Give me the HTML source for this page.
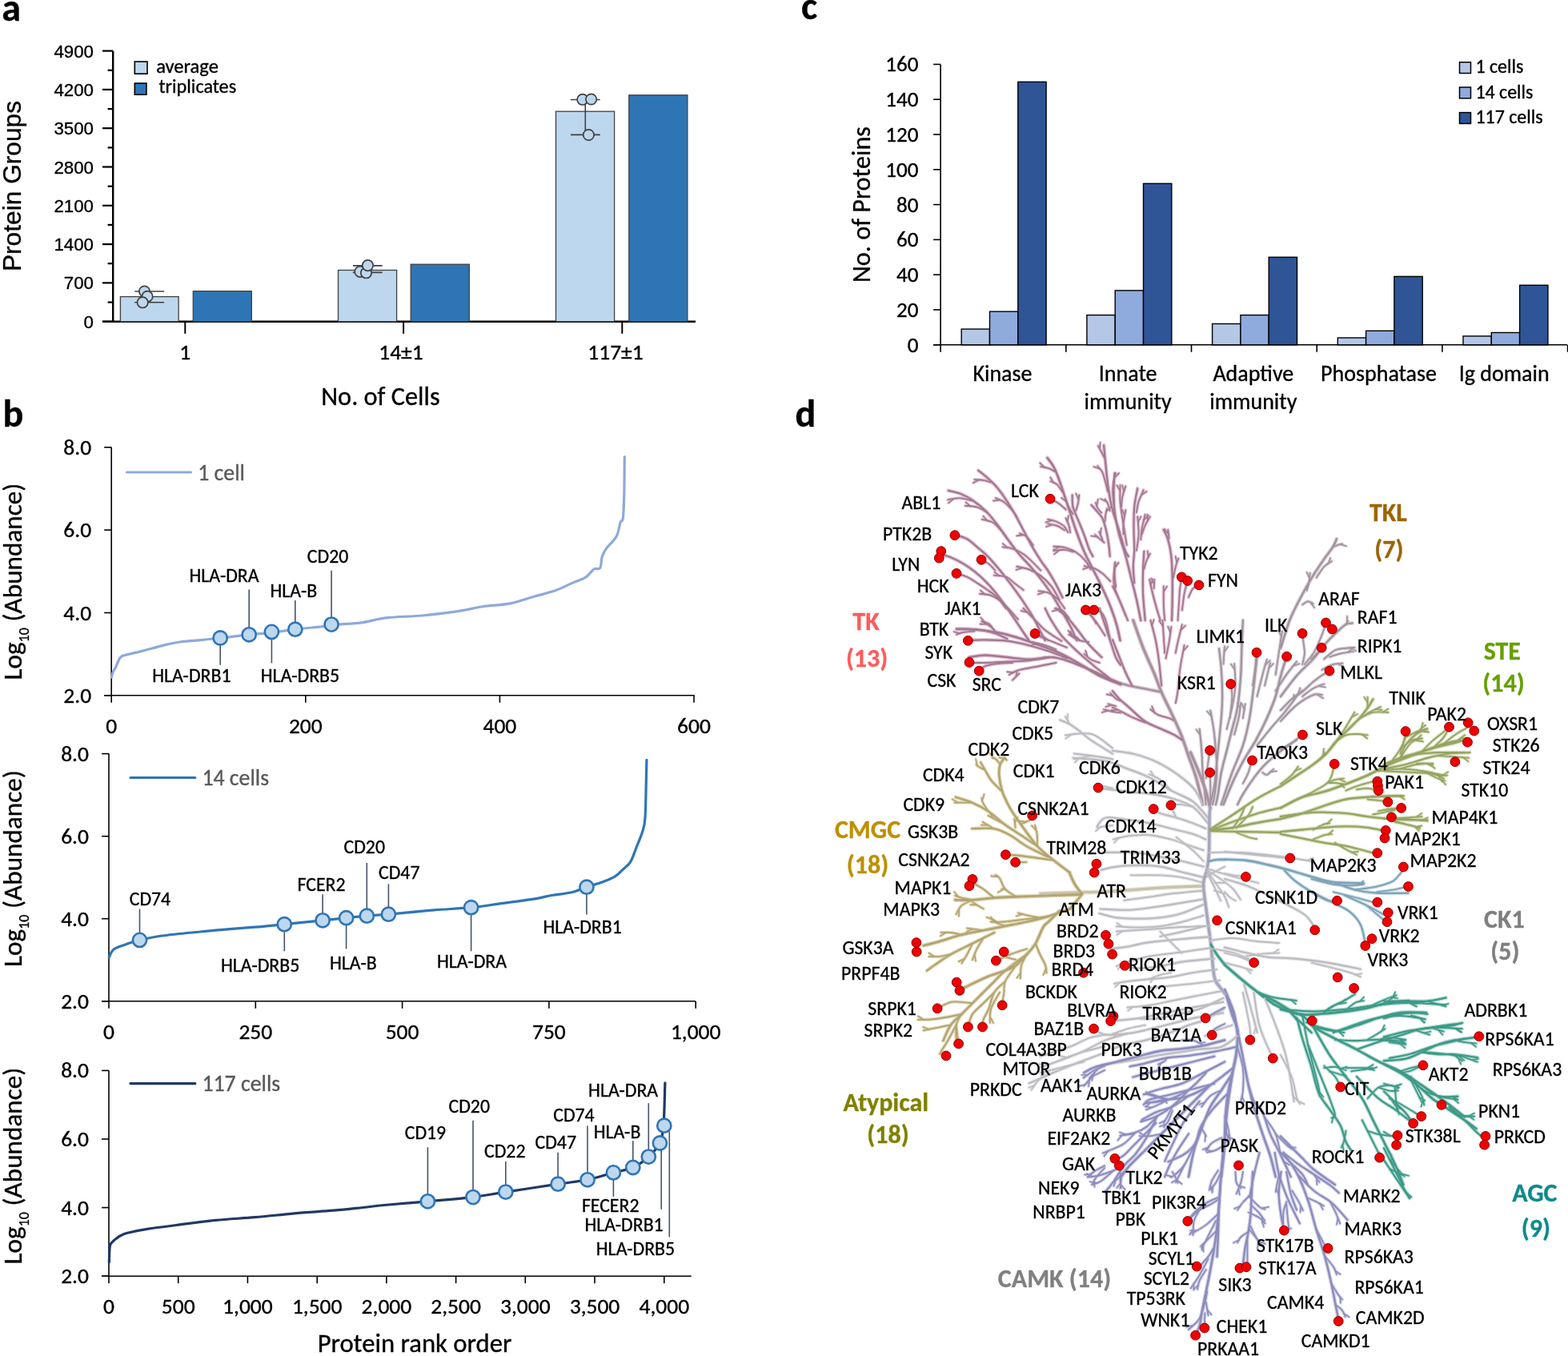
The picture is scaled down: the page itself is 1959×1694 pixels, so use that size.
<!DOCTYPE html><html><head><meta charset="utf-8"><title>Figure</title><style>html,body{margin:0;padding:0;background:#fff;}svg{display:block;}</style></head><body><svg width="1959" height="1694" viewBox="0 0 1959 1694"><rect width="1959" height="1694" fill="#fff"/><text x="2.3" y="25.5" font-family="Carlito, 'Liberation Sans', sans-serif" font-size="48" text-anchor="start" fill="#000" stroke="#000" stroke-width="0.35" font-weight="bold" >a</text>
<text x="3.6" y="533.4" font-family="Carlito, 'Liberation Sans', sans-serif" font-size="48" text-anchor="start" fill="#000" stroke="#000" stroke-width="0.35" font-weight="bold" >b</text>
<text x="1000.9" y="24.3" font-family="Carlito, 'Liberation Sans', sans-serif" font-size="48" text-anchor="start" fill="#000" stroke="#000" stroke-width="0.35" font-weight="bold" >c</text>
<text x="993.5" y="533.4" font-family="Carlito, 'Liberation Sans', sans-serif" font-size="48" text-anchor="start" fill="#000" stroke="#000" stroke-width="0.35" font-weight="bold" >d</text>
<line x1="141.2" y1="63.6" x2="141.2" y2="401.7" stroke="#000" stroke-width="2.4"/>
<line x1="128" y1="401.7" x2="141.2" y2="401.7" stroke="#000" stroke-width="2.2"/>
<text x="117.0" y="409.7" font-family="'Liberation Sans', Arial, sans-serif" font-size="22.3" text-anchor="end" fill="#000" stroke="#000" stroke-width="0.35" font-weight="normal" >0</text>
<line x1="134.6" y1="377.6" x2="141.2" y2="377.6" stroke="#000" stroke-width="2.2"/>
<line x1="128" y1="353.4" x2="141.2" y2="353.4" stroke="#000" stroke-width="2.2"/>
<text x="117.0" y="361.4" font-family="'Liberation Sans', Arial, sans-serif" font-size="22.3" text-anchor="end" fill="#000" stroke="#000" stroke-width="0.35" font-weight="normal" >700</text>
<line x1="134.6" y1="329.2" x2="141.2" y2="329.2" stroke="#000" stroke-width="2.2"/>
<line x1="128" y1="305.1" x2="141.2" y2="305.1" stroke="#000" stroke-width="2.2"/>
<text x="117.0" y="313.1" font-family="'Liberation Sans', Arial, sans-serif" font-size="22.3" text-anchor="end" fill="#000" stroke="#000" stroke-width="0.35" font-weight="normal" >1400</text>
<line x1="134.6" y1="280.9" x2="141.2" y2="280.9" stroke="#000" stroke-width="2.2"/>
<line x1="128" y1="256.8" x2="141.2" y2="256.8" stroke="#000" stroke-width="2.2"/>
<text x="117.0" y="264.8" font-family="'Liberation Sans', Arial, sans-serif" font-size="22.3" text-anchor="end" fill="#000" stroke="#000" stroke-width="0.35" font-weight="normal" >2100</text>
<line x1="134.6" y1="232.7" x2="141.2" y2="232.7" stroke="#000" stroke-width="2.2"/>
<line x1="128" y1="208.5" x2="141.2" y2="208.5" stroke="#000" stroke-width="2.2"/>
<text x="117.0" y="216.5" font-family="'Liberation Sans', Arial, sans-serif" font-size="22.3" text-anchor="end" fill="#000" stroke="#000" stroke-width="0.35" font-weight="normal" >2800</text>
<line x1="134.6" y1="184.4" x2="141.2" y2="184.4" stroke="#000" stroke-width="2.2"/>
<line x1="128" y1="160.2" x2="141.2" y2="160.2" stroke="#000" stroke-width="2.2"/>
<text x="117.0" y="168.2" font-family="'Liberation Sans', Arial, sans-serif" font-size="22.3" text-anchor="end" fill="#000" stroke="#000" stroke-width="0.35" font-weight="normal" >3500</text>
<line x1="134.6" y1="136.1" x2="141.2" y2="136.1" stroke="#000" stroke-width="2.2"/>
<line x1="128" y1="111.9" x2="141.2" y2="111.9" stroke="#000" stroke-width="2.2"/>
<text x="117.0" y="119.9" font-family="'Liberation Sans', Arial, sans-serif" font-size="22.3" text-anchor="end" fill="#000" stroke="#000" stroke-width="0.35" font-weight="normal" >4200</text>
<line x1="134.6" y1="87.8" x2="141.2" y2="87.8" stroke="#000" stroke-width="2.2"/>
<line x1="128" y1="63.6" x2="141.2" y2="63.6" stroke="#000" stroke-width="2.2"/>
<text x="117.0" y="71.6" font-family="'Liberation Sans', Arial, sans-serif" font-size="22.3" text-anchor="end" fill="#000" stroke="#000" stroke-width="0.35" font-weight="normal" >4900</text>
<line x1="128" y1="401.7" x2="869" y2="401.7" stroke="#000" stroke-width="2.6"/>
<line x1="231.3" y1="401.7" x2="231.3" y2="416.8" stroke="#000" stroke-width="2"/>
<line x1="504.1" y1="401.7" x2="504.1" y2="416.8" stroke="#000" stroke-width="2"/>
<line x1="777.3" y1="401.7" x2="777.3" y2="416.8" stroke="#000" stroke-width="2"/>
<rect x="150.4" y="370.6" width="72.7" height="31.1" fill="#BDD7EE" stroke="#404040" stroke-width="1.3"/>
<rect x="241.3" y="363.7" width="73.0" height="38.0" fill="#2E75B6" stroke="#404040" stroke-width="1.3"/>
<rect x="422.5" y="337.5" width="73.1" height="64.2" fill="#BDD7EE" stroke="#404040" stroke-width="1.3"/>
<rect x="513.2" y="330.2" width="73.1" height="71.5" fill="#2E75B6" stroke="#404040" stroke-width="1.3"/>
<rect x="694.5" y="139.2" width="73.1" height="262.5" fill="#BDD7EE" stroke="#404040" stroke-width="1.3"/>
<rect x="785.8" y="118.8" width="73.1" height="282.9" fill="#2E75B6" stroke="#404040" stroke-width="1.3"/>
<line x1="186.7" y1="364.0" x2="186.7" y2="377.8" stroke="#404040" stroke-width="1.6"/><line x1="168.29999999999998" y1="364.0" x2="205.1" y2="364.0" stroke="#404040" stroke-width="1.6"/><line x1="168.29999999999998" y1="377.8" x2="205.1" y2="377.8" stroke="#404040" stroke-width="1.6"/>
<line x1="459.3" y1="331.9" x2="459.3" y2="340.4" stroke="#404040" stroke-width="1.6"/><line x1="440.90000000000003" y1="331.9" x2="477.7" y2="331.9" stroke="#404040" stroke-width="1.6"/><line x1="440.90000000000003" y1="340.4" x2="477.7" y2="340.4" stroke="#404040" stroke-width="1.6"/>
<line x1="731.3" y1="124.5" x2="731.3" y2="168.4" stroke="#404040" stroke-width="1.6"/><line x1="712.9" y1="124.5" x2="749.6999999999999" y2="124.5" stroke="#404040" stroke-width="1.6"/><line x1="712.9" y1="168.4" x2="749.6999999999999" y2="168.4" stroke="#404040" stroke-width="1.6"/>
<circle cx="180.5" cy="364.0" r="6.7" fill="#BDD7EE" stroke="#404040" stroke-width="1.7"/>
<circle cx="184.1" cy="370.4" r="6.7" fill="#BDD7EE" stroke="#404040" stroke-width="1.7"/>
<circle cx="178.2" cy="377.8" r="6.7" fill="#BDD7EE" stroke="#404040" stroke-width="1.7"/>
<circle cx="449.9" cy="339.4" r="6.7" fill="#BDD7EE" stroke="#404040" stroke-width="1.7"/>
<circle cx="457.5" cy="340.8" r="6.7" fill="#BDD7EE" stroke="#404040" stroke-width="1.7"/>
<circle cx="459.5" cy="331.6" r="6.7" fill="#BDD7EE" stroke="#404040" stroke-width="1.7"/>
<circle cx="727.8" cy="124.3" r="6.7" fill="#BDD7EE" stroke="#404040" stroke-width="1.7"/>
<circle cx="738.6" cy="124.0" r="6.7" fill="#BDD7EE" stroke="#404040" stroke-width="1.7"/>
<circle cx="735.4" cy="168.5" r="6.7" fill="#BDD7EE" stroke="#404040" stroke-width="1.7"/>
<rect x="168.3" y="77" width="15.7" height="15.2" fill="#BDD7EE" stroke="#000" stroke-width="1.6"/>
<rect x="168.3" y="104" width="14.6" height="14.2" fill="#2E75B6" stroke="#000" stroke-width="1.6"/>
<text x="195.2" y="91.4" font-family="Carlito, 'Liberation Sans', sans-serif" font-size="24.5" text-anchor="start" fill="#000" stroke="#000" stroke-width="0.35" font-weight="normal" >average</text>
<text x="198.5" y="115.5" font-family="Carlito, 'Liberation Sans', sans-serif" font-size="24.2" text-anchor="start" fill="#000" stroke="#000" stroke-width="0.35" font-weight="normal" >triplicates</text>
<text x="231.3" y="449.0" font-family="Carlito, 'Liberation Sans', sans-serif" font-size="27.5" text-anchor="middle" fill="#000" stroke="#000" stroke-width="0.35" font-weight="normal" >1</text>
<text x="501.0" y="449.0" font-family="Carlito, 'Liberation Sans', sans-serif" font-size="27.5" text-anchor="middle" fill="#000" stroke="#000" stroke-width="0.35" font-weight="normal" >14±1</text>
<text x="769.0" y="449.0" font-family="Carlito, 'Liberation Sans', sans-serif" font-size="27.5" text-anchor="middle" fill="#000" stroke="#000" stroke-width="0.35" font-weight="normal" >117±1</text>
<text x="475.4" y="506.0" font-family="Carlito, 'Liberation Sans', sans-serif" font-size="32.3" text-anchor="middle" fill="#000" stroke="#000" stroke-width="0.35" font-weight="normal" >No. of Cells</text>
<text x="26.0" y="232.5" font-family="'Liberation Sans', Arial, sans-serif" font-size="31.7" text-anchor="middle" fill="#000" stroke="#000" stroke-width="0.35" font-weight="normal" transform="rotate(-90 26 232.5)">Protein Groups</text>
<line x1="139.2" y1="558.8" x2="139.2" y2="868.8" stroke="#000" stroke-width="1.6"/>
<line x1="130.2" y1="868.8" x2="867.6" y2="868.8" stroke="#000" stroke-width="1.6"/>
<line x1="130.2" y1="868.8" x2="139.2" y2="868.8" stroke="#000" stroke-width="1.6"/>
<text x="114.2" y="877.8" font-family="Carlito, 'Liberation Sans', sans-serif" font-size="27.5" text-anchor="end" fill="#000" stroke="#000" stroke-width="0.35" font-weight="normal" >2.0</text>
<line x1="130.2" y1="765.5" x2="139.2" y2="765.5" stroke="#000" stroke-width="1.6"/>
<text x="114.2" y="774.5" font-family="Carlito, 'Liberation Sans', sans-serif" font-size="27.5" text-anchor="end" fill="#000" stroke="#000" stroke-width="0.35" font-weight="normal" >4.0</text>
<line x1="130.2" y1="662.1" x2="139.2" y2="662.1" stroke="#000" stroke-width="1.6"/>
<text x="114.2" y="671.1" font-family="Carlito, 'Liberation Sans', sans-serif" font-size="27.5" text-anchor="end" fill="#000" stroke="#000" stroke-width="0.35" font-weight="normal" >6.0</text>
<line x1="130.2" y1="558.8" x2="139.2" y2="558.8" stroke="#000" stroke-width="1.6"/>
<text x="114.2" y="567.8" font-family="Carlito, 'Liberation Sans', sans-serif" font-size="27.5" text-anchor="end" fill="#000" stroke="#000" stroke-width="0.35" font-weight="normal" >8.0</text>
<line x1="139.2" y1="868.8" x2="139.2" y2="877.8" stroke="#000" stroke-width="1.6"/>
<text x="139.2" y="915.8" font-family="Carlito, 'Liberation Sans', sans-serif" font-size="27.5" text-anchor="middle" fill="#000" stroke="#000" stroke-width="0.35" font-weight="normal" >0</text>
<line x1="381.8" y1="868.8" x2="381.8" y2="877.8" stroke="#000" stroke-width="1.6"/>
<text x="381.8" y="915.8" font-family="Carlito, 'Liberation Sans', sans-serif" font-size="27.5" text-anchor="middle" fill="#000" stroke="#000" stroke-width="0.35" font-weight="normal" >200</text>
<line x1="624.4" y1="868.8" x2="624.4" y2="877.8" stroke="#000" stroke-width="1.6"/>
<text x="624.4" y="915.8" font-family="Carlito, 'Liberation Sans', sans-serif" font-size="27.5" text-anchor="middle" fill="#000" stroke="#000" stroke-width="0.35" font-weight="normal" >400</text>
<line x1="867.0" y1="868.8" x2="867.0" y2="877.8" stroke="#000" stroke-width="1.6"/>
<text x="867.0" y="915.8" font-family="Carlito, 'Liberation Sans', sans-serif" font-size="27.5" text-anchor="middle" fill="#000" stroke="#000" stroke-width="0.35" font-weight="normal" >600</text>
<path d="M139.5,846.0 C139.8,845.0 140.2,842.1 141.0,840.0 C141.8,837.9 143.0,836.5 144.6,833.3 C146.2,830.1 148.1,823.6 150.7,821.0 C153.3,818.4 156.5,818.5 160.0,817.5 C163.5,816.5 166.5,816.1 171.5,814.9 C176.5,813.6 183.9,811.6 190.0,810.0 C196.1,808.4 202.5,806.4 208.3,805.1 C214.1,803.8 218.9,802.8 225.0,802.0 C231.1,801.2 236.6,801.0 245.0,800.2 C253.4,799.4 264.2,798.2 275.2,797.0 C286.2,795.8 300.5,793.9 311.2,792.8 C321.9,791.7 329.8,791.5 339.4,790.4 C349.0,789.3 360.4,787.3 368.8,786.2 C377.2,785.1 382.4,784.8 390.0,784.0 C397.6,783.2 408.2,782.2 414.1,781.5 C420.0,780.8 419.4,780.5 425.5,779.9 C431.6,779.3 441.2,779.3 451.0,777.9 C460.8,776.5 471.4,773.2 484.2,771.7 C497.0,770.2 512.7,770.4 527.6,769.0 C542.5,767.6 560.8,765.2 573.6,763.3 C586.4,761.4 593.6,759.1 604.2,757.5 C614.8,755.9 626.8,756.0 637.4,753.9 C648.0,751.8 658.6,747.7 668.0,745.0 C677.4,742.3 685.4,740.7 693.5,737.8 C701.6,734.9 710.1,730.4 716.5,727.6 C722.9,724.8 727.5,724.0 731.8,721.2 C736.0,718.4 739.0,712.9 742.0,711.0 C745.0,709.1 748.0,712.2 749.7,709.7 C751.4,707.2 750.9,699.7 752.2,695.7 C753.5,691.7 754.3,689.8 757.3,685.5 C760.3,681.2 767.1,675.7 770.1,670.2 C773.1,664.7 773.8,656.1 775.2,652.3 C776.6,648.5 777.5,653.2 778.3,647.2 C779.1,641.2 779.5,629.4 779.8,616.6 C780.1,603.8 780.2,578.3 780.3,570.6" fill="none" stroke="#8EA9DB" stroke-width="3.2" stroke-linejoin="round" stroke-linecap="round"/>
<line x1="158.5" y1="590" x2="238.5" y2="590" stroke="#8EA9DB" stroke-width="3.2" stroke-linecap="round"/>
<text x="247.2" y="599.5" font-family="Carlito, 'Liberation Sans', sans-serif" font-size="27.8" text-anchor="start" fill="#595959" stroke="#595959" stroke-width="0.35" font-weight="normal" >1 cell</text>
<line x1="275.2" y1="797.0" x2="275.2" y2="830.8" stroke="#44546A" stroke-width="1.6"/>
<line x1="311.2" y1="792.8" x2="311.2" y2="736.5" stroke="#44546A" stroke-width="1.6"/>
<line x1="339.4" y1="789.4" x2="339.4" y2="828.4" stroke="#44546A" stroke-width="1.6"/>
<line x1="368.8" y1="786.2" x2="368.8" y2="750.0" stroke="#44546A" stroke-width="1.6"/>
<line x1="414.1" y1="780.1" x2="414.1" y2="712.7" stroke="#44546A" stroke-width="1.6"/>
<circle cx="275.2" cy="797.0" r="8.6" fill="#BDD7EE" stroke="#2E75B6" stroke-width="2.6"/>
<circle cx="311.2" cy="792.8" r="8.6" fill="#BDD7EE" stroke="#2E75B6" stroke-width="2.6"/>
<circle cx="339.4" cy="789.4" r="8.6" fill="#BDD7EE" stroke="#2E75B6" stroke-width="2.6"/>
<circle cx="368.8" cy="786.2" r="8.6" fill="#BDD7EE" stroke="#2E75B6" stroke-width="2.6"/>
<circle cx="414.1" cy="780.1" r="8.6" fill="#BDD7EE" stroke="#2E75B6" stroke-width="2.6"/>
<text x="190.2" y="852.0" font-family="Carlito, 'Liberation Sans', sans-serif" font-size="23.8" text-anchor="start" fill="#000" stroke="#000" stroke-width="0.35" font-weight="normal" >HLA-DRB1</text>
<text x="236.5" y="727.0" font-family="Carlito, 'Liberation Sans', sans-serif" font-size="23.8" text-anchor="start" fill="#000" stroke="#000" stroke-width="0.35" font-weight="normal" >HLA-DRA</text>
<text x="337.5" y="746.0" font-family="Carlito, 'Liberation Sans', sans-serif" font-size="23.8" text-anchor="start" fill="#000" stroke="#000" stroke-width="0.35" font-weight="normal" >HLA-B</text>
<text x="383.8" y="702.5" font-family="Carlito, 'Liberation Sans', sans-serif" font-size="23.8" text-anchor="start" fill="#000" stroke="#000" stroke-width="0.35" font-weight="normal" >CD20</text>
<text x="325.8" y="852.0" font-family="Carlito, 'Liberation Sans', sans-serif" font-size="23.8" text-anchor="start" fill="#000" stroke="#000" stroke-width="0.35" font-weight="normal" >HLA-DRB5</text>
<text x="0" y="0" font-family="Carlito, 'Liberation Sans', sans-serif" font-size="33.2" text-anchor="middle" stroke="#000" stroke-width="0.35" transform="translate(26.5,726.5) rotate(-90)">Log<tspan font-size="18" dy="9">10</tspan><tspan dy="-9"> (Abundance)</tspan></text>
<line x1="136" y1="941.6" x2="136" y2="1250.8" stroke="#000" stroke-width="1.6"/>
<line x1="127" y1="1250.8" x2="868.9" y2="1250.8" stroke="#000" stroke-width="1.6"/>
<line x1="127" y1="1250.8" x2="136" y2="1250.8" stroke="#000" stroke-width="1.6"/>
<text x="111.0" y="1259.8" font-family="Carlito, 'Liberation Sans', sans-serif" font-size="27.5" text-anchor="end" fill="#000" stroke="#000" stroke-width="0.35" font-weight="normal" >2.0</text>
<line x1="127" y1="1147.7" x2="136" y2="1147.7" stroke="#000" stroke-width="1.6"/>
<text x="111.0" y="1156.7" font-family="Carlito, 'Liberation Sans', sans-serif" font-size="27.5" text-anchor="end" fill="#000" stroke="#000" stroke-width="0.35" font-weight="normal" >4.0</text>
<line x1="127" y1="1044.7" x2="136" y2="1044.7" stroke="#000" stroke-width="1.6"/>
<text x="111.0" y="1053.7" font-family="Carlito, 'Liberation Sans', sans-serif" font-size="27.5" text-anchor="end" fill="#000" stroke="#000" stroke-width="0.35" font-weight="normal" >6.0</text>
<line x1="127" y1="941.6" x2="136" y2="941.6" stroke="#000" stroke-width="1.6"/>
<text x="111.0" y="950.6" font-family="Carlito, 'Liberation Sans', sans-serif" font-size="27.5" text-anchor="end" fill="#000" stroke="#000" stroke-width="0.35" font-weight="normal" >8.0</text>
<line x1="136.0" y1="1250.8" x2="136.0" y2="1259.8" stroke="#000" stroke-width="1.6"/>
<text x="136.0" y="1297.8" font-family="Carlito, 'Liberation Sans', sans-serif" font-size="27.5" text-anchor="middle" fill="#000" stroke="#000" stroke-width="0.35" font-weight="normal" >0</text>
<line x1="319.3" y1="1250.8" x2="319.3" y2="1259.8" stroke="#000" stroke-width="1.6"/>
<text x="319.3" y="1297.8" font-family="Carlito, 'Liberation Sans', sans-serif" font-size="27.5" text-anchor="middle" fill="#000" stroke="#000" stroke-width="0.35" font-weight="normal" >250</text>
<line x1="502.6" y1="1250.8" x2="502.6" y2="1259.8" stroke="#000" stroke-width="1.6"/>
<text x="502.6" y="1297.8" font-family="Carlito, 'Liberation Sans', sans-serif" font-size="27.5" text-anchor="middle" fill="#000" stroke="#000" stroke-width="0.35" font-weight="normal" >500</text>
<line x1="685.9" y1="1250.8" x2="685.9" y2="1259.8" stroke="#000" stroke-width="1.6"/>
<text x="685.9" y="1297.8" font-family="Carlito, 'Liberation Sans', sans-serif" font-size="27.5" text-anchor="middle" fill="#000" stroke="#000" stroke-width="0.35" font-weight="normal" >750</text>
<line x1="869.2" y1="1250.8" x2="869.2" y2="1259.8" stroke="#000" stroke-width="1.6"/>
<text x="869.2" y="1297.8" font-family="Carlito, 'Liberation Sans', sans-serif" font-size="27.5" text-anchor="middle" fill="#000" stroke="#000" stroke-width="0.35" font-weight="normal" >1,000</text>
<path d="M136.3,1196.0 C136.8,1195.0 138.0,1191.7 139.0,1190.0 C140.0,1188.3 140.6,1187.1 142.1,1185.9 C143.6,1184.7 145.6,1184.0 148.0,1183.0 C150.4,1182.0 154.0,1181.0 156.8,1180.0 C159.6,1179.0 162.1,1177.9 165.0,1177.0 C167.9,1176.1 169.3,1175.6 174.5,1174.4 C179.7,1173.2 188.4,1171.2 196.0,1170.0 C203.6,1168.8 211.8,1167.9 220.0,1167.0 C228.2,1166.1 236.8,1165.3 245.0,1164.5 C253.2,1163.7 257.2,1163.1 269.5,1162.1 C281.8,1161.0 304.3,1159.4 318.6,1158.2 C332.9,1157.0 341.2,1156.1 355.3,1154.7 C369.4,1153.3 390.2,1151.1 403.1,1149.8 C416.0,1148.5 423.5,1147.6 432.7,1146.7 C441.9,1145.8 449.7,1145.0 458.5,1144.2 C467.3,1143.5 479.6,1142.7 485.4,1142.2 C491.2,1141.8 484.0,1142.4 493.5,1141.5 C503.0,1140.6 526.6,1138.2 542.5,1136.9 C558.4,1135.6 574.3,1135.1 588.6,1133.7 C602.9,1132.3 615.6,1130.0 628.3,1128.3 C641.0,1126.6 654.8,1125.0 665.0,1123.4 C675.2,1121.8 681.3,1119.9 689.5,1118.5 C697.7,1117.1 706.8,1116.5 714.0,1114.8 C721.2,1113.1 726.8,1110.2 732.9,1108.2 C739.0,1106.2 744.9,1104.8 750.8,1102.6 C756.6,1100.4 763.5,1097.9 768.0,1095.2 C772.5,1092.5 774.5,1089.7 777.8,1086.6 C781.1,1083.5 784.8,1081.4 787.6,1076.8 C790.5,1072.2 792.5,1065.1 794.9,1059.0 C797.3,1052.9 800.5,1046.0 802.3,1040.0 C804.1,1034.0 805.1,1032.7 805.9,1022.9 C806.7,1013.1 806.9,993.5 807.2,981.3 C807.5,969.0 807.8,954.7 807.9,949.4" fill="none" stroke="#2E75B6" stroke-width="3.2" stroke-linejoin="round" stroke-linecap="round"/>
<line x1="163" y1="971.5" x2="243.8" y2="971.5" stroke="#2E75B6" stroke-width="3.2" stroke-linecap="round"/>
<text x="252.4" y="981.0" font-family="Carlito, 'Liberation Sans', sans-serif" font-size="27.8" text-anchor="start" fill="#595959" stroke="#595959" stroke-width="0.35" font-weight="normal" >14 cells</text>
<line x1="174.5" y1="1174.4" x2="174.5" y2="1135.6" stroke="#44546A" stroke-width="1.6"/>
<line x1="355.3" y1="1154.7" x2="355.3" y2="1188.3" stroke="#44546A" stroke-width="1.6"/>
<line x1="403.1" y1="1149.8" x2="403.1" y2="1117.3" stroke="#44546A" stroke-width="1.6"/>
<line x1="432.6" y1="1146.7" x2="432.6" y2="1185.4" stroke="#44546A" stroke-width="1.6"/>
<line x1="458.3" y1="1144.2" x2="458.3" y2="1078.0" stroke="#44546A" stroke-width="1.6"/>
<line x1="485.4" y1="1142.2" x2="485.4" y2="1104.3" stroke="#44546A" stroke-width="1.6"/>
<line x1="588.6" y1="1133.7" x2="588.6" y2="1188.3" stroke="#44546A" stroke-width="1.6"/>
<line x1="732.9" y1="1108.2" x2="732.9" y2="1142.5" stroke="#44546A" stroke-width="1.6"/>
<circle cx="174.5" cy="1174.4" r="8.6" fill="#BDD7EE" stroke="#2E75B6" stroke-width="2.6"/>
<circle cx="355.3" cy="1154.7" r="8.6" fill="#BDD7EE" stroke="#2E75B6" stroke-width="2.6"/>
<circle cx="403.1" cy="1149.8" r="8.6" fill="#BDD7EE" stroke="#2E75B6" stroke-width="2.6"/>
<circle cx="432.6" cy="1146.7" r="8.6" fill="#BDD7EE" stroke="#2E75B6" stroke-width="2.6"/>
<circle cx="458.3" cy="1144.2" r="8.6" fill="#BDD7EE" stroke="#2E75B6" stroke-width="2.6"/>
<circle cx="485.4" cy="1142.2" r="8.6" fill="#BDD7EE" stroke="#2E75B6" stroke-width="2.6"/>
<circle cx="588.6" cy="1133.7" r="8.6" fill="#BDD7EE" stroke="#2E75B6" stroke-width="2.6"/>
<circle cx="732.9" cy="1108.2" r="8.6" fill="#BDD7EE" stroke="#2E75B6" stroke-width="2.6"/>
<text x="161.7" y="1131.0" font-family="Carlito, 'Liberation Sans', sans-serif" font-size="23.8" text-anchor="start" fill="#000" stroke="#000" stroke-width="0.35" font-weight="normal" >CD74</text>
<text x="276.0" y="1214.0" font-family="Carlito, 'Liberation Sans', sans-serif" font-size="23.8" text-anchor="start" fill="#000" stroke="#000" stroke-width="0.35" font-weight="normal" >HLA-DRB5</text>
<text x="371.5" y="1113.0" font-family="Carlito, 'Liberation Sans', sans-serif" font-size="23.8" text-anchor="start" fill="#000" stroke="#000" stroke-width="0.35" font-weight="normal" >FCER2</text>
<text x="412.0" y="1211.0" font-family="Carlito, 'Liberation Sans', sans-serif" font-size="23.8" text-anchor="start" fill="#000" stroke="#000" stroke-width="0.35" font-weight="normal" >HLA-B</text>
<text x="429.5" y="1066.0" font-family="Carlito, 'Liberation Sans', sans-serif" font-size="23.8" text-anchor="start" fill="#000" stroke="#000" stroke-width="0.35" font-weight="normal" >CD20</text>
<text x="473.0" y="1098.0" font-family="Carlito, 'Liberation Sans', sans-serif" font-size="23.8" text-anchor="start" fill="#000" stroke="#000" stroke-width="0.35" font-weight="normal" >CD47</text>
<text x="546.0" y="1209.0" font-family="Carlito, 'Liberation Sans', sans-serif" font-size="23.8" text-anchor="start" fill="#000" stroke="#000" stroke-width="0.35" font-weight="normal" >HLA-DRA</text>
<text x="678.5" y="1166.0" font-family="Carlito, 'Liberation Sans', sans-serif" font-size="23.8" text-anchor="start" fill="#000" stroke="#000" stroke-width="0.35" font-weight="normal" >HLA-DRB1</text>
<text x="0" y="0" font-family="Carlito, 'Liberation Sans', sans-serif" font-size="33.2" text-anchor="middle" stroke="#000" stroke-width="0.35" transform="translate(26.5,1085) rotate(-90)">Log<tspan font-size="18" dy="9">10</tspan><tspan dy="-9"> (Abundance)</tspan></text>
<line x1="136" y1="1337.4" x2="136" y2="1594.2" stroke="#000" stroke-width="1.6"/>
<line x1="127" y1="1594.2" x2="863.8" y2="1594.2" stroke="#000" stroke-width="1.6"/>
<line x1="127" y1="1594.2" x2="136" y2="1594.2" stroke="#000" stroke-width="1.6"/>
<text x="111.0" y="1603.2" font-family="Carlito, 'Liberation Sans', sans-serif" font-size="27.5" text-anchor="end" fill="#000" stroke="#000" stroke-width="0.35" font-weight="normal" >2.0</text>
<line x1="127" y1="1508.6" x2="136" y2="1508.6" stroke="#000" stroke-width="1.6"/>
<text x="111.0" y="1517.6" font-family="Carlito, 'Liberation Sans', sans-serif" font-size="27.5" text-anchor="end" fill="#000" stroke="#000" stroke-width="0.35" font-weight="normal" >4.0</text>
<line x1="127" y1="1423.0" x2="136" y2="1423.0" stroke="#000" stroke-width="1.6"/>
<text x="111.0" y="1432.0" font-family="Carlito, 'Liberation Sans', sans-serif" font-size="27.5" text-anchor="end" fill="#000" stroke="#000" stroke-width="0.35" font-weight="normal" >6.0</text>
<line x1="127" y1="1337.4" x2="136" y2="1337.4" stroke="#000" stroke-width="1.6"/>
<text x="111.0" y="1346.4" font-family="Carlito, 'Liberation Sans', sans-serif" font-size="27.5" text-anchor="end" fill="#000" stroke="#000" stroke-width="0.35" font-weight="normal" >8.0</text>
<line x1="136.0" y1="1594.2" x2="136.0" y2="1603.2" stroke="#000" stroke-width="1.6"/>
<text x="136.0" y="1641.2" font-family="Carlito, 'Liberation Sans', sans-serif" font-size="27.5" text-anchor="middle" fill="#000" stroke="#000" stroke-width="0.35" font-weight="normal" >0</text>
<line x1="222.7" y1="1594.2" x2="222.7" y2="1603.2" stroke="#000" stroke-width="1.6"/>
<text x="222.7" y="1641.2" font-family="Carlito, 'Liberation Sans', sans-serif" font-size="27.5" text-anchor="middle" fill="#000" stroke="#000" stroke-width="0.35" font-weight="normal" >500</text>
<line x1="309.4" y1="1594.2" x2="309.4" y2="1603.2" stroke="#000" stroke-width="1.6"/>
<text x="309.4" y="1641.2" font-family="Carlito, 'Liberation Sans', sans-serif" font-size="27.5" text-anchor="middle" fill="#000" stroke="#000" stroke-width="0.35" font-weight="normal" >1,000</text>
<line x1="396.2" y1="1594.2" x2="396.2" y2="1603.2" stroke="#000" stroke-width="1.6"/>
<text x="396.2" y="1641.2" font-family="Carlito, 'Liberation Sans', sans-serif" font-size="27.5" text-anchor="middle" fill="#000" stroke="#000" stroke-width="0.35" font-weight="normal" >1,500</text>
<line x1="482.9" y1="1594.2" x2="482.9" y2="1603.2" stroke="#000" stroke-width="1.6"/>
<text x="482.9" y="1641.2" font-family="Carlito, 'Liberation Sans', sans-serif" font-size="27.5" text-anchor="middle" fill="#000" stroke="#000" stroke-width="0.35" font-weight="normal" >2,000</text>
<line x1="569.6" y1="1594.2" x2="569.6" y2="1603.2" stroke="#000" stroke-width="1.6"/>
<text x="569.6" y="1641.2" font-family="Carlito, 'Liberation Sans', sans-serif" font-size="27.5" text-anchor="middle" fill="#000" stroke="#000" stroke-width="0.35" font-weight="normal" >2,500</text>
<line x1="656.3" y1="1594.2" x2="656.3" y2="1603.2" stroke="#000" stroke-width="1.6"/>
<text x="656.3" y="1641.2" font-family="Carlito, 'Liberation Sans', sans-serif" font-size="27.5" text-anchor="middle" fill="#000" stroke="#000" stroke-width="0.35" font-weight="normal" >3,000</text>
<line x1="743.0" y1="1594.2" x2="743.0" y2="1603.2" stroke="#000" stroke-width="1.6"/>
<text x="743.0" y="1641.2" font-family="Carlito, 'Liberation Sans', sans-serif" font-size="27.5" text-anchor="middle" fill="#000" stroke="#000" stroke-width="0.35" font-weight="normal" >3,500</text>
<line x1="829.8" y1="1594.2" x2="829.8" y2="1603.2" stroke="#000" stroke-width="1.6"/>
<text x="829.8" y="1641.2" font-family="Carlito, 'Liberation Sans', sans-serif" font-size="27.5" text-anchor="middle" fill="#000" stroke="#000" stroke-width="0.35" font-weight="normal" >4,000</text>
<path d="M136.3,1577.0 C136.5,1573.8 136.6,1561.7 137.2,1557.5 C137.8,1553.3 138.8,1553.6 140.0,1552.0 C141.2,1550.4 142.9,1549.0 144.6,1547.7 C146.3,1546.4 147.6,1545.2 150.0,1544.0 C152.4,1542.8 153.7,1541.7 159.3,1540.3 C164.9,1538.9 173.6,1537.0 183.8,1535.4 C194.0,1533.8 206.2,1532.3 220.5,1530.5 C234.8,1528.7 253.2,1526.0 269.5,1524.4 C285.9,1522.8 302.2,1522.1 318.6,1520.7 C335.0,1519.3 351.3,1517.2 367.6,1515.8 C383.9,1514.4 402.3,1513.4 416.6,1512.2 C430.9,1511.0 442.7,1509.6 453.3,1508.5 C463.9,1507.4 466.5,1506.8 480.0,1505.5 C493.5,1504.2 515.9,1502.5 534.4,1500.8 C552.9,1499.1 574.8,1497.5 591.0,1495.6 C607.2,1493.6 614.1,1491.8 631.8,1489.1 C649.5,1486.4 680.1,1481.8 697.1,1479.2 C714.1,1476.7 722.5,1476.2 734.0,1473.8 C745.5,1471.4 756.9,1467.5 766.4,1464.9 C775.9,1462.4 783.5,1461.8 790.8,1458.5 C798.1,1455.2 804.7,1450.2 810.3,1445.1 C815.9,1440.0 821.4,1433.8 824.4,1428.0 C827.4,1422.2 827.6,1416.3 828.5,1410.0 C829.4,1403.7 829.4,1399.9 829.8,1390.4 C830.2,1380.9 830.7,1359.2 830.9,1352.9" fill="none" stroke="#203864" stroke-width="3.2" stroke-linejoin="round" stroke-linecap="round"/>
<line x1="163" y1="1353.6" x2="243.8" y2="1353.6" stroke="#203864" stroke-width="3.2" stroke-linecap="round"/>
<text x="252.4" y="1363.1" font-family="Carlito, 'Liberation Sans', sans-serif" font-size="27.8" text-anchor="start" fill="#595959" stroke="#595959" stroke-width="0.35" font-weight="normal" >117 cells</text>
<line x1="534.4" y1="1500.8" x2="534.4" y2="1433.2" stroke="#44546A" stroke-width="1.6"/>
<line x1="591.0" y1="1495.6" x2="591.0" y2="1399.8" stroke="#44546A" stroke-width="1.6"/>
<line x1="631.8" y1="1489.1" x2="631.8" y2="1451.0" stroke="#44546A" stroke-width="1.6"/>
<line x1="697.1" y1="1479.2" x2="697.1" y2="1439.7" stroke="#44546A" stroke-width="1.6"/>
<line x1="734.0" y1="1473.8" x2="734.0" y2="1406.4" stroke="#44546A" stroke-width="1.6"/>
<line x1="766.4" y1="1464.9" x2="766.4" y2="1494.9" stroke="#44546A" stroke-width="1.6"/>
<line x1="790.8" y1="1458.5" x2="790.8" y2="1425.2" stroke="#44546A" stroke-width="1.6"/>
<line x1="810.3" y1="1445.1" x2="810.3" y2="1378.2" stroke="#44546A" stroke-width="1.6"/>
<line x1="826.2" y1="1428.0" x2="826.2" y2="1510.7" stroke="#44546A" stroke-width="1.6"/>
<line x1="836.3" y1="1406.2" x2="836.3" y2="1545.4" stroke="#44546A" stroke-width="1.6"/>
<circle cx="534.4" cy="1500.8" r="8.6" fill="#BDD7EE" stroke="#2E75B6" stroke-width="2.6"/>
<circle cx="591.0" cy="1495.6" r="8.6" fill="#BDD7EE" stroke="#2E75B6" stroke-width="2.6"/>
<circle cx="631.8" cy="1489.1" r="8.6" fill="#BDD7EE" stroke="#2E75B6" stroke-width="2.6"/>
<circle cx="697.1" cy="1479.2" r="8.6" fill="#BDD7EE" stroke="#2E75B6" stroke-width="2.6"/>
<circle cx="734.0" cy="1473.8" r="8.6" fill="#BDD7EE" stroke="#2E75B6" stroke-width="2.6"/>
<circle cx="766.4" cy="1464.9" r="8.6" fill="#BDD7EE" stroke="#2E75B6" stroke-width="2.6"/>
<circle cx="790.8" cy="1458.5" r="8.6" fill="#BDD7EE" stroke="#2E75B6" stroke-width="2.6"/>
<circle cx="810.3" cy="1445.1" r="8.6" fill="#BDD7EE" stroke="#2E75B6" stroke-width="2.6"/>
<circle cx="824.4" cy="1428.0" r="8.6" fill="#BDD7EE" stroke="#2E75B6" stroke-width="2.6"/>
<circle cx="829.8" cy="1406.2" r="8.6" fill="#BDD7EE" stroke="#2E75B6" stroke-width="2.6"/>
<text x="505.7" y="1423.3" font-family="Carlito, 'Liberation Sans', sans-serif" font-size="23.8" text-anchor="start" fill="#000" stroke="#000" stroke-width="0.35" font-weight="normal" >CD19</text>
<text x="560.5" y="1389.7" font-family="Carlito, 'Liberation Sans', sans-serif" font-size="23.8" text-anchor="start" fill="#000" stroke="#000" stroke-width="0.35" font-weight="normal" >CD20</text>
<text x="605.0" y="1445.6" font-family="Carlito, 'Liberation Sans', sans-serif" font-size="23.8" text-anchor="start" fill="#000" stroke="#000" stroke-width="0.35" font-weight="normal" >CD22</text>
<text x="668.5" y="1434.6" font-family="Carlito, 'Liberation Sans', sans-serif" font-size="23.8" text-anchor="start" fill="#000" stroke="#000" stroke-width="0.35" font-weight="normal" >CD47</text>
<text x="691.2" y="1400.5" font-family="Carlito, 'Liberation Sans', sans-serif" font-size="23.8" text-anchor="start" fill="#000" stroke="#000" stroke-width="0.35" font-weight="normal" >CD74</text>
<text x="741.7" y="1422.1" font-family="Carlito, 'Liberation Sans', sans-serif" font-size="23.8" text-anchor="start" fill="#000" stroke="#000" stroke-width="0.35" font-weight="normal" >HLA-B</text>
<text x="735.1" y="1369.8" font-family="Carlito, 'Liberation Sans', sans-serif" font-size="23.8" text-anchor="start" fill="#000" stroke="#000" stroke-width="0.35" font-weight="normal" >HLA-DRA</text>
<text x="726.9" y="1514.4" font-family="Carlito, 'Liberation Sans', sans-serif" font-size="23.8" text-anchor="start" fill="#000" stroke="#000" stroke-width="0.35" font-weight="normal" >FECER2</text>
<text x="730.4" y="1538.4" font-family="Carlito, 'Liberation Sans', sans-serif" font-size="23.8" text-anchor="start" fill="#000" stroke="#000" stroke-width="0.35" font-weight="normal" >HLA-DRB1</text>
<text x="744.8" y="1568.4" font-family="Carlito, 'Liberation Sans', sans-serif" font-size="23.8" text-anchor="start" fill="#000" stroke="#000" stroke-width="0.35" font-weight="normal" >HLA-DRB5</text>
<text x="0" y="0" font-family="Carlito, 'Liberation Sans', sans-serif" font-size="33.2" text-anchor="middle" stroke="#000" stroke-width="0.35" transform="translate(26.5,1456.5) rotate(-90)">Log<tspan font-size="18" dy="9">10</tspan><tspan dy="-9"> (Abundance)</tspan></text>
<text x="518.0" y="1688.6" font-family="Carlito, 'Liberation Sans', sans-serif" font-size="32.7" text-anchor="middle" fill="#000" stroke="#000" stroke-width="0.35" font-weight="normal" >Protein rank order</text>
<line x1="1175.1" y1="80.4" x2="1175.1" y2="439.8" stroke="#000" stroke-width="1.6"/>
<line x1="1166.1" y1="430.8" x2="1958" y2="430.8" stroke="#000" stroke-width="1.6"/>
<line x1="1166.1" y1="430.8" x2="1175.1" y2="430.8" stroke="#000" stroke-width="1.6"/>
<text x="1147.5" y="439.8" font-family="Carlito, 'Liberation Sans', sans-serif" font-size="27.1" text-anchor="end" fill="#000" stroke="#000" stroke-width="0.35" font-weight="normal" >0</text>
<line x1="1166.1" y1="387.0" x2="1175.1" y2="387.0" stroke="#000" stroke-width="1.6"/>
<text x="1147.5" y="396.0" font-family="Carlito, 'Liberation Sans', sans-serif" font-size="27.1" text-anchor="end" fill="#000" stroke="#000" stroke-width="0.35" font-weight="normal" >20</text>
<line x1="1166.1" y1="343.2" x2="1175.1" y2="343.2" stroke="#000" stroke-width="1.6"/>
<text x="1147.5" y="352.2" font-family="Carlito, 'Liberation Sans', sans-serif" font-size="27.1" text-anchor="end" fill="#000" stroke="#000" stroke-width="0.35" font-weight="normal" >40</text>
<line x1="1166.1" y1="299.4" x2="1175.1" y2="299.4" stroke="#000" stroke-width="1.6"/>
<text x="1147.5" y="308.4" font-family="Carlito, 'Liberation Sans', sans-serif" font-size="27.1" text-anchor="end" fill="#000" stroke="#000" stroke-width="0.35" font-weight="normal" >60</text>
<line x1="1166.1" y1="255.6" x2="1175.1" y2="255.6" stroke="#000" stroke-width="1.6"/>
<text x="1147.5" y="264.6" font-family="Carlito, 'Liberation Sans', sans-serif" font-size="27.1" text-anchor="end" fill="#000" stroke="#000" stroke-width="0.35" font-weight="normal" >80</text>
<line x1="1166.1" y1="211.8" x2="1175.1" y2="211.8" stroke="#000" stroke-width="1.6"/>
<text x="1147.5" y="220.8" font-family="Carlito, 'Liberation Sans', sans-serif" font-size="27.1" text-anchor="end" fill="#000" stroke="#000" stroke-width="0.35" font-weight="normal" >100</text>
<line x1="1166.1" y1="168.0" x2="1175.1" y2="168.0" stroke="#000" stroke-width="1.6"/>
<text x="1147.5" y="177.0" font-family="Carlito, 'Liberation Sans', sans-serif" font-size="27.1" text-anchor="end" fill="#000" stroke="#000" stroke-width="0.35" font-weight="normal" >120</text>
<line x1="1166.1" y1="124.2" x2="1175.1" y2="124.2" stroke="#000" stroke-width="1.6"/>
<text x="1147.5" y="133.2" font-family="Carlito, 'Liberation Sans', sans-serif" font-size="27.1" text-anchor="end" fill="#000" stroke="#000" stroke-width="0.35" font-weight="normal" >140</text>
<line x1="1166.1" y1="80.4" x2="1175.1" y2="80.4" stroke="#000" stroke-width="1.6"/>
<text x="1147.5" y="89.4" font-family="Carlito, 'Liberation Sans', sans-serif" font-size="27.1" text-anchor="end" fill="#000" stroke="#000" stroke-width="0.35" font-weight="normal" >160</text>
<line x1="1331.8" y1="430.8" x2="1331.8" y2="439.8" stroke="#000" stroke-width="1.6"/>
<line x1="1488.5" y1="430.8" x2="1488.5" y2="439.8" stroke="#000" stroke-width="1.6"/>
<line x1="1645.2" y1="430.8" x2="1645.2" y2="439.8" stroke="#000" stroke-width="1.6"/>
<line x1="1801.9" y1="430.8" x2="1801.9" y2="439.8" stroke="#000" stroke-width="1.6"/>
<line x1="1958.6" y1="430.8" x2="1958.6" y2="439.8" stroke="#000" stroke-width="1.6"/>
<rect x="1201.2" y="411.1" width="35.3" height="19.7" fill="#B4C7E7" stroke="#000" stroke-width="1.4"/>
<rect x="1236.5" y="389.2" width="35.3" height="41.6" fill="#8FAADC" stroke="#000" stroke-width="1.4"/>
<rect x="1271.8" y="102.3" width="35.3" height="328.5" fill="#2F5597" stroke="#000" stroke-width="1.4"/>
<rect x="1357.9" y="393.6" width="35.3" height="37.2" fill="#B4C7E7" stroke="#000" stroke-width="1.4"/>
<rect x="1393.2" y="362.9" width="35.3" height="67.9" fill="#8FAADC" stroke="#000" stroke-width="1.4"/>
<rect x="1428.5" y="229.3" width="35.3" height="201.5" fill="#2F5597" stroke="#000" stroke-width="1.4"/>
<rect x="1514.6" y="404.5" width="35.3" height="26.3" fill="#B4C7E7" stroke="#000" stroke-width="1.4"/>
<rect x="1549.9" y="393.6" width="35.3" height="37.2" fill="#8FAADC" stroke="#000" stroke-width="1.4"/>
<rect x="1585.2" y="321.3" width="35.3" height="109.5" fill="#2F5597" stroke="#000" stroke-width="1.4"/>
<rect x="1671.3" y="422.0" width="35.3" height="8.8" fill="#B4C7E7" stroke="#000" stroke-width="1.4"/>
<rect x="1706.6" y="413.3" width="35.3" height="17.5" fill="#8FAADC" stroke="#000" stroke-width="1.4"/>
<rect x="1741.9" y="345.4" width="35.3" height="85.4" fill="#2F5597" stroke="#000" stroke-width="1.4"/>
<rect x="1828.0" y="419.9" width="35.3" height="10.9" fill="#B4C7E7" stroke="#000" stroke-width="1.4"/>
<rect x="1863.3" y="415.5" width="35.3" height="15.3" fill="#8FAADC" stroke="#000" stroke-width="1.4"/>
<rect x="1898.6" y="356.3" width="35.3" height="74.5" fill="#2F5597" stroke="#000" stroke-width="1.4"/>
<text x="1252.4" y="476.2" font-family="Carlito, 'Liberation Sans', sans-serif" font-size="28" text-anchor="middle" fill="#000" stroke="#000" stroke-width="0.35" font-weight="normal" >Kinase</text>
<text x="1409.1" y="476.2" font-family="Carlito, 'Liberation Sans', sans-serif" font-size="28" text-anchor="middle" fill="#000" stroke="#000" stroke-width="0.35" font-weight="normal" >Innate</text>
<text x="1409.1" y="511.0" font-family="Carlito, 'Liberation Sans', sans-serif" font-size="28" text-anchor="middle" fill="#000" stroke="#000" stroke-width="0.35" font-weight="normal" >immunity</text>
<text x="1565.8" y="476.2" font-family="Carlito, 'Liberation Sans', sans-serif" font-size="28" text-anchor="middle" fill="#000" stroke="#000" stroke-width="0.35" font-weight="normal" >Adaptive</text>
<text x="1565.8" y="511.0" font-family="Carlito, 'Liberation Sans', sans-serif" font-size="28" text-anchor="middle" fill="#000" stroke="#000" stroke-width="0.35" font-weight="normal" >immunity</text>
<text x="1722.5" y="476.2" font-family="Carlito, 'Liberation Sans', sans-serif" font-size="28" text-anchor="middle" fill="#000" stroke="#000" stroke-width="0.35" font-weight="normal" >Phosphatase</text>
<text x="1879.2" y="476.2" font-family="Carlito, 'Liberation Sans', sans-serif" font-size="28" text-anchor="middle" fill="#000" stroke="#000" stroke-width="0.35" font-weight="normal" >Ig domain</text>
<rect x="1823.5" y="77.7" width="14" height="13.8" fill="#B4C7E7" stroke="#000" stroke-width="1.5"/>
<text x="1843.5" y="91.3" font-family="Carlito, 'Liberation Sans', sans-serif" font-size="23.9" text-anchor="start" fill="#000" stroke="#000" stroke-width="0.35" font-weight="normal" >1 cells</text>
<rect x="1823.5" y="109.0" width="14" height="13.8" fill="#8FAADC" stroke="#000" stroke-width="1.5"/>
<text x="1843.5" y="122.6" font-family="Carlito, 'Liberation Sans', sans-serif" font-size="23.9" text-anchor="start" fill="#000" stroke="#000" stroke-width="0.35" font-weight="normal" >14 cells</text>
<rect x="1823.5" y="140.6" width="14" height="13.8" fill="#2F5597" stroke="#000" stroke-width="1.5"/>
<text x="1843.5" y="154.2" font-family="Carlito, 'Liberation Sans', sans-serif" font-size="23.9" text-anchor="start" fill="#000" stroke="#000" stroke-width="0.35" font-weight="normal" >117 cells</text>
<text x="1087.0" y="255.5" font-family="Carlito, 'Liberation Sans', sans-serif" font-size="32.2" text-anchor="middle" fill="#000" stroke="#000" stroke-width="0.35" font-weight="normal" transform="rotate(-90 1087 255.5)">No. of Proteins</text>
<g fill="none" stroke-linecap="round" stroke-linejoin="round"><path d="M1184.9,612.8 C1187.4,613.4 1194.7,614.7 1199.9,616.8 C1205.1,619.0 1210.7,621.9 1216.2,625.7 C1221.6,629.4 1227.5,634.3 1232.5,639.2 C1237.4,644.2 1241.5,649.7 1246.0,655.5 C1250.6,661.4 1255.1,668.4 1259.6,674.5 C1264.1,680.7 1268.7,686.8 1273.2,692.2 C1277.7,697.6 1282.2,701.9 1286.8,707.1 C1291.3,712.3 1295.8,717.5 1300.3,723.4 C1304.9,729.3 1309.6,735.9 1313.9,742.4 C1318.2,749.0 1322.3,756.2 1326.1,762.8 C1330.0,769.4 1333.8,775.6 1337.0,781.8 C1340.2,788.0 1343.8,797.0 1345.2,800.0" stroke="#E6C4D6" stroke-width="4.8"/><path d="M1184.3,624.3 C1186.9,624.0 1194.8,622.0 1199.9,622.3 C1205.0,622.5 1212.3,625.1 1214.8,625.7" stroke="#E6C4D6" stroke-width="4.2"/><path d="M1191.2,623.4 L1185.0,628.4" stroke="#E6C4D6" stroke-width="3.6"/><path d="M1206.0,631.8 C1208.6,632.1 1217.0,632.3 1221.6,633.8 C1226.2,635.3 1231.8,639.5 1233.8,640.6" stroke="#E6C4D6" stroke-width="4.2"/><path d="M1212.9,632.7 L1206.7,627.7" stroke="#E6C4D6" stroke-width="3.6"/><path d="M1227.0,648.8 C1229.3,649.4 1236.5,650.3 1240.6,652.8 C1244.7,655.3 1248.5,660.3 1251.5,663.7 C1254.4,667.1 1257.1,671.6 1258.3,673.2" stroke="#E6C4D6" stroke-width="4.2"/><path d="M1233.7,650.8 L1228.4,644.8" stroke="#E6C4D6" stroke-width="3.6"/><path d="M1222.3,587.7 C1224.2,589.2 1229.9,593.5 1233.8,597.2 C1237.8,600.8 1242.2,604.8 1246.0,609.4 C1249.9,613.9 1253.3,618.9 1256.9,624.3 C1260.5,629.7 1264.1,635.6 1267.8,642.0 C1271.4,648.3 1275.0,655.5 1278.6,662.3 C1282.2,669.1 1285.9,676.4 1289.5,682.7 C1293.1,689.0 1297.0,695.1 1300.3,700.3 C1303.7,705.6 1306.7,708.9 1309.9,713.9 C1313.0,718.9 1316.4,724.8 1319.4,730.2 C1322.3,735.6 1326.1,743.8 1327.5,746.5" stroke="#E6C4D6" stroke-width="4.8"/><path d="M1217.5,599.2 C1219.3,599.3 1225.0,599.3 1228.4,599.9 C1231.8,600.4 1236.3,602.1 1237.9,602.6" stroke="#E6C4D6" stroke-width="4.2"/><path d="M1223.0,599.5 L1215.9,603.3" stroke="#E6C4D6" stroke-width="3.6"/><path d="M1244.0,622.3 C1245.7,623.1 1250.7,624.4 1254.2,627.0 C1257.7,629.6 1262.3,634.7 1265.0,637.9 C1267.8,641.1 1269.6,644.7 1270.5,646.0" stroke="#E6C4D6" stroke-width="4.2"/><path d="M1249.1,624.7 L1241.1,625.6" stroke="#E6C4D6" stroke-width="3.6"/><path d="M1273.9,666.4 C1275.3,667.1 1279.9,668.0 1282.7,670.5 C1285.5,673.0 1289.5,679.5 1290.8,681.3" stroke="#E6C4D6" stroke-width="4.2"/><path d="M1278.3,668.4 L1270.3,669.4" stroke="#E6C4D6" stroke-width="3.6"/><path d="M1252.8,683.4 C1254.9,683.7 1260.7,683.9 1265.0,685.4 C1269.3,686.9 1274.8,689.7 1278.6,692.2 C1282.5,694.7 1284.5,697.0 1288.1,700.3 C1291.7,703.7 1298.3,710.5 1300.3,712.6" stroke="#E6C4D6" stroke-width="4.2"/><path d="M1258.9,684.4 L1252.9,679.1" stroke="#E6C4D6" stroke-width="3.6"/><path d="M1270.5,707.8 C1273.0,708.4 1280.4,709.3 1285.4,711.2 C1290.4,713.1 1295.6,715.7 1300.3,719.4 C1305.1,723.0 1310.1,728.0 1313.9,732.9 C1317.8,737.9 1321.8,746.5 1323.4,749.2" stroke="#E6C4D6" stroke-width="4.4"/><path d="M1277.3,709.4 L1269.7,711.9" stroke="#E6C4D6" stroke-width="3.6"/><path d="M1242.0,718.7 C1244.5,719.0 1252.6,719.0 1256.9,720.7 C1261.2,722.4 1264.1,726.1 1267.8,728.9 C1271.4,731.6 1276.8,735.6 1278.6,737.0" stroke="#E6C4D6" stroke-width="4.2"/><path d="M1248.9,719.6 L1242.7,714.6" stroke="#E6C4D6" stroke-width="3.6"/><path d="M1297.6,738.4 C1299.9,738.8 1307.1,739.3 1311.2,741.1 C1315.3,742.9 1318.9,746.1 1322.1,749.2 C1325.2,752.4 1328.9,758.3 1330.2,760.1" stroke="#E6C4D6" stroke-width="4.2"/><path d="M1304.4,739.7 L1296.9,742.5" stroke="#E6C4D6" stroke-width="3.6"/><path d="M1318.0,760.1 C1319.6,760.5 1324.6,760.8 1327.5,762.8 C1330.4,764.8 1334.3,770.7 1335.6,772.3" stroke="#E6C4D6" stroke-width="4.2"/><path d="M1322.7,761.4 L1315.0,763.6" stroke="#E6C4D6" stroke-width="3.6"/><path d="M1193.1,668.4 C1195.6,669.2 1203.3,670.6 1208.0,673.2 C1212.8,675.8 1217.3,680.4 1221.6,684.1 C1225.9,687.7 1229.7,690.8 1233.8,694.9 C1237.9,699.0 1242.2,704.0 1246.0,708.5 C1249.9,713.0 1253.1,717.1 1256.9,722.1 C1260.7,727.0 1265.0,732.7 1269.1,738.4 C1273.2,744.0 1277.5,750.1 1281.3,756.0 C1285.2,761.9 1289.0,768.0 1292.2,773.7 C1295.4,779.3 1298.1,785.6 1300.3,790.0 C1302.6,794.3 1304.9,798.3 1305.8,800.0" stroke="#E6C4D6" stroke-width="4.8"/><path d="M1225.7,699.0 C1227.3,699.9 1232.2,702.2 1235.2,704.4 C1238.1,706.7 1242.0,711.2 1243.3,712.6" stroke="#E6C4D6" stroke-width="4.2"/><path d="M1174.1,692.2 C1176.3,692.9 1182.7,694.2 1187.7,696.3 C1192.6,698.3 1199.0,701.5 1203.9,704.4 C1208.9,707.4 1213.0,710.3 1217.5,713.9 C1222.0,717.5 1226.8,721.8 1231.1,726.1 C1235.4,730.4 1239.2,734.7 1243.3,739.7 C1247.4,744.7 1251.5,750.4 1255.5,756.0 C1259.6,761.7 1263.9,768.0 1267.8,773.7 C1271.6,779.3 1275.7,785.6 1278.6,790.0 C1281.6,794.3 1284.3,798.3 1285.4,800.0" stroke="#E6C4D6" stroke-width="4.8"/><path d="M1195.1,716.6 C1197.3,717.3 1203.6,718.7 1208.0,720.7 C1212.4,722.7 1217.3,726.1 1221.6,728.9 C1225.9,731.6 1229.7,734.1 1233.8,737.0 C1237.9,739.9 1242.2,742.7 1246.0,746.5 C1249.9,750.4 1255.1,757.8 1256.9,760.1" stroke="#E6C4D6" stroke-width="4.4"/><path d="M1224.3,741.8 C1226.6,742.1 1233.4,742.1 1237.9,743.8 C1242.4,745.5 1247.4,748.8 1251.5,751.9 C1255.5,755.1 1258.9,759.2 1262.3,762.8 C1265.7,766.4 1270.2,771.9 1271.8,773.7" stroke="#E6C4D6" stroke-width="4.2"/><path d="M1231.1,742.8 L1225.0,737.6" stroke="#E6C4D6" stroke-width="3.6"/><path d="M1195.1,785.9 C1197.7,785.9 1205.4,785.7 1210.7,785.9 C1216.1,786.1 1221.6,786.3 1227.0,787.2 C1232.5,788.1 1238.1,789.5 1243.3,791.3 C1248.5,793.1 1255.8,797.0 1258.3,798.1" stroke="#E6C4D6" stroke-width="4.6"/><path d="M1226.3,776.4 C1227.8,776.8 1232.6,777.3 1235.2,779.1 C1237.8,780.9 1240.8,785.9 1242.0,787.2" stroke="#E6C4D6" stroke-width="4.2"/><path d="M1230.8,777.7 L1225.5,771.7" stroke="#E6C4D6" stroke-width="3.6"/><path d="M1292.9,791.3 C1294.6,792.0 1300.2,793.9 1303.1,795.4 C1305.9,796.8 1308.7,799.2 1309.9,800.0" stroke="#E6C4D6" stroke-width="4.2"/><path d="M1308.5,572.0 C1309.9,574.0 1314.2,578.9 1316.6,583.6 C1319.1,588.2 1321.2,593.8 1323.4,599.9 C1325.7,606.0 1328.0,613.4 1330.2,620.2 C1332.5,627.0 1334.5,633.1 1337.0,640.6 C1339.5,648.1 1342.2,656.9 1345.2,665.0 C1348.1,673.2 1351.3,681.8 1354.7,689.5 C1358.1,697.2 1361.9,704.0 1365.5,711.2 C1369.1,718.4 1372.8,725.2 1376.4,732.9 C1380.0,740.6 1384.1,749.2 1387.2,757.4 C1390.4,765.5 1393.4,774.7 1395.4,781.8 C1397.4,788.9 1398.8,797.0 1399.5,800.0" stroke="#E6C4D6" stroke-width="5.0"/><path d="M1300.3,582.9 C1301.9,583.2 1306.9,583.9 1309.9,584.9 C1312.8,586.0 1316.6,588.3 1318.0,589.0" stroke="#E6C4D6" stroke-width="4.2"/><path d="M1305.1,583.9 L1299.3,578.4" stroke="#E6C4D6" stroke-width="3.6"/><path d="M1312.6,601.2 C1313.9,601.9 1318.2,603.0 1320.7,605.3 C1323.2,607.6 1326.4,613.2 1327.5,614.8" stroke="#E6C4D6" stroke-width="4.2"/><path d="M1316.6,603.3 L1312.4,596.5" stroke="#E6C4D6" stroke-width="3.6"/><path d="M1311.9,623.6 C1313.6,624.4 1318.8,626.2 1322.1,628.4 C1325.4,630.5 1330.0,635.2 1331.6,636.5" stroke="#E6C4D6" stroke-width="4.2"/><path d="M1309.2,648.8 C1310.9,649.2 1316.1,650.1 1319.4,651.5 C1322.6,652.8 1326.4,654.6 1328.9,656.9 C1331.3,659.2 1333.4,663.7 1334.3,665.0" stroke="#E6C4D6" stroke-width="4.2"/><path d="M1314.3,650.1 L1306.6,652.4" stroke="#E6C4D6" stroke-width="3.6"/><path d="M1309.2,654.2 C1311.1,654.6 1317.2,655.5 1320.7,656.9 C1324.2,658.3 1328.6,661.4 1330.2,662.3" stroke="#E6C4D6" stroke-width="4.2"/><path d="M1314.9,655.5 L1307.3,658.0" stroke="#E6C4D6" stroke-width="3.6"/><path d="M1331.6,647.4 C1332.3,649.0 1334.7,654.0 1335.6,656.9 C1336.6,659.8 1336.8,663.7 1337.0,665.0" stroke="#E6C4D6" stroke-width="4.2"/><path d="M1333.6,652.1 L1334.8,644.2" stroke="#E6C4D6" stroke-width="3.6"/><path d="M1316.6,682.7 C1318.9,682.9 1325.7,682.9 1330.2,684.1 C1334.7,685.2 1339.5,686.8 1343.8,689.5 C1348.1,692.2 1352.8,696.7 1356.0,700.3 C1359.2,704.0 1361.7,709.4 1362.8,711.2" stroke="#E6C4D6" stroke-width="4.4"/><path d="M1323.4,683.4 L1316.2,686.9" stroke="#E6C4D6" stroke-width="3.6"/><path d="M1316.6,688.1 C1318.9,687.9 1326.1,686.5 1330.2,686.8 C1334.3,687.0 1339.3,689.0 1341.1,689.5" stroke="#E6C4D6" stroke-width="4.2"/><path d="M1323.4,687.4 L1317.1,692.3" stroke="#E6C4D6" stroke-width="3.6"/><path d="M1354.7,707.1 C1356.7,707.6 1363.0,708.3 1366.9,709.9 C1370.7,711.4 1374.3,713.9 1377.7,716.6 C1381.1,719.4 1385.7,724.6 1387.2,726.1" stroke="#E6C4D6" stroke-width="4.2"/><path d="M1360.8,708.5 L1353.2,711.1" stroke="#E6C4D6" stroke-width="3.6"/><path d="M1392.7,703.1 C1392.7,705.8 1392.4,714.4 1392.7,719.4 C1392.9,724.3 1393.8,730.7 1394.0,732.9" stroke="#E6C4D6" stroke-width="4.2"/><path d="M1392.7,710.1 L1396.9,703.2" stroke="#E6C4D6" stroke-width="3.6"/><path d="M1366.9,760.8 C1368.5,761.6 1373.9,762.9 1376.4,765.5 C1378.9,768.1 1380.0,770.6 1381.8,776.4 C1383.6,782.1 1386.3,796.1 1387.2,800.0" stroke="#E6C4D6" stroke-width="4.2"/><path d="M1354.7,761.4 C1356.0,762.6 1360.3,765.3 1362.8,768.2 C1365.3,771.2 1368.5,777.3 1369.6,779.1" stroke="#E6C4D6" stroke-width="4.2"/><path d="M1335.6,792.7 C1337.0,793.1 1341.5,794.2 1343.8,795.4 C1346.1,796.6 1348.3,799.2 1349.2,800.0" stroke="#E6C4D6" stroke-width="4.2"/><path d="M1339.7,794.0 L1334.6,787.9" stroke="#E6C4D6" stroke-width="3.6"/><path d="M1392.7,591.2 C1392.5,594.8 1391.4,604.7 1391.4,612.9 C1391.4,621.0 1391.6,631.0 1392.7,640.0 C1393.8,649.1 1395.9,658.1 1398.1,667.2 C1400.4,676.3 1403.8,685.3 1406.3,694.4 C1408.8,703.4 1410.8,712.5 1413.1,721.5 C1415.3,730.6 1417.8,739.7 1419.9,748.7 C1421.9,757.6 1424.4,770.6 1425.3,775.0" stroke="#E6C4D6" stroke-width="4.8"/><path d="M1399.5,606.1 C1399.5,609.5 1399.1,619.7 1399.5,626.5 C1400.0,633.3 1400.9,637.8 1402.2,646.8 C1403.6,655.9 1406.7,675.1 1407.7,680.8" stroke="#E6C4D6" stroke-width="4.2"/><path d="M1399.5,613.1 L1395.3,606.3" stroke="#E6C4D6" stroke-width="3.6"/><path d="M1406.3,607.5 C1405.6,609.7 1403.1,616.7 1402.2,621.0 C1401.3,625.3 1401.1,631.2 1400.9,633.3" stroke="#E6C4D6" stroke-width="4.2"/><path d="M1404.3,614.2 L1402.2,606.4" stroke="#E6C4D6" stroke-width="3.6"/><path d="M1421.2,610.2 C1420.5,614.0 1417.9,624.9 1417.2,633.3 C1416.4,641.6 1416.5,651.4 1416.5,660.4 C1416.5,669.5 1417.3,679.6 1417.2,687.6 C1417.0,695.5 1415.8,701.1 1415.8,707.9 C1415.8,714.7 1416.9,724.9 1417.2,728.3" stroke="#E6C4D6" stroke-width="4.6"/><path d="M1428.7,612.2 C1427.7,614.6 1424.1,621.8 1422.6,626.5 C1421.1,631.1 1420.3,637.8 1419.9,640.0" stroke="#E6C4D6" stroke-width="4.2"/><path d="M1425.9,618.6 L1432.5,614.0" stroke="#E6C4D6" stroke-width="3.6"/><path d="M1406.3,637.3 C1405.8,640.0 1404.0,648.6 1403.6,653.6 C1403.1,658.6 1403.6,664.9 1403.6,667.2" stroke="#E6C4D6" stroke-width="4.2"/><path d="M1405.1,644.2 L1402.1,636.8" stroke="#E6C4D6" stroke-width="3.6"/><path d="M1421.2,645.5 C1421.5,649.1 1422.8,660.2 1422.6,667.2 C1422.4,674.2 1420.3,684.2 1419.9,687.6" stroke="#E6C4D6" stroke-width="4.2"/><path d="M1421.7,652.5 L1425.4,645.4" stroke="#E6C4D6" stroke-width="3.6"/><path d="M1430.7,642.8 C1430.1,645.7 1427.6,655.2 1426.7,660.4 C1425.8,665.6 1425.5,671.7 1425.3,674.0" stroke="#E6C4D6" stroke-width="4.2"/><path d="M1429.2,649.6 L1434.8,643.9" stroke="#E6C4D6" stroke-width="3.6"/><path d="M1436.8,645.5 C1435.8,647.3 1432.4,652.7 1430.7,656.3 C1429.0,660.0 1427.3,665.4 1426.7,667.2" stroke="#E6C4D6" stroke-width="4.2"/><path d="M1433.8,650.9 L1433.5,642.9" stroke="#E6C4D6" stroke-width="3.6"/><path d="M1429.4,688.9 C1429.1,693.2 1428.2,705.9 1428.0,714.7 C1427.8,723.5 1427.6,731.8 1428.0,741.9 C1428.5,751.9 1430.3,769.5 1430.7,775.0" stroke="#E6C4D6" stroke-width="4.6"/><path d="M1436.8,691.6 C1436.1,693.2 1433.3,698.0 1432.1,701.1 C1430.8,704.3 1429.8,709.1 1429.4,710.6" stroke="#E6C4D6" stroke-width="4.2"/><path d="M1434.5,696.4 L1433.8,688.4" stroke="#E6C4D6" stroke-width="3.6"/><path d="M1393.4,702.5 C1393.1,705.7 1391.5,716.1 1391.4,721.5 C1391.2,726.9 1391.1,729.4 1392.7,735.1 C1394.3,740.7 1398.1,748.8 1400.9,755.5 C1403.6,762.1 1407.7,771.7 1409.0,775.0" stroke="#E6C4D6" stroke-width="4.4"/><path d="M1392.6,709.5 L1397.5,703.1" stroke="#E6C4D6" stroke-width="3.6"/><path d="M1436.2,724.2 C1436.8,727.2 1438.7,735.5 1440.2,741.9 C1441.8,748.2 1444.1,756.7 1445.7,762.2 C1447.3,767.8 1449.1,772.9 1449.7,775.0" stroke="#E6C4D6" stroke-width="4.4"/><path d="M1437.7,731.0 L1440.3,723.5" stroke="#E6C4D6" stroke-width="3.6"/><path d="M1442.3,724.2 L1441.6,735.1" stroke="#E6C4D6" stroke-width="4.2"/><path d="M1441.9,729.7 L1438.2,722.6" stroke="#E6C4D6" stroke-width="3.6"/><path d="M1453.8,732.4 C1453.8,736.2 1453.6,748.3 1453.8,755.5 C1454.0,762.6 1454.9,771.7 1455.2,775.0" stroke="#E6C4D6" stroke-width="4.2"/><path d="M1453.8,739.4 L1458.0,732.6" stroke="#E6C4D6" stroke-width="3.6"/><path d="M1453.8,661.8 C1454.7,663.8 1457.7,668.6 1459.2,674.0 C1460.8,679.4 1462.4,686.4 1463.3,694.4 C1464.2,702.3 1464.5,712.5 1464.7,721.5 C1464.9,730.6 1464.8,739.7 1464.7,748.7 C1464.6,757.6 1464.1,770.6 1464.0,775.0" stroke="#E6C4D6" stroke-width="4.8"/><path d="M1459.2,661.8 L1460.6,672.6" stroke="#E6C4D6" stroke-width="4.2"/><path d="M1459.9,667.2 L1454.9,661.0" stroke="#E6C4D6" stroke-width="3.6"/><path d="M1472.1,697.7 C1471.6,699.4 1469.8,704.0 1468.8,707.9 C1467.7,711.9 1466.5,719.2 1466.0,721.5" stroke="#E6C4D6" stroke-width="4.2"/><path d="M1470.4,702.8 L1468.6,695.0" stroke="#E6C4D6" stroke-width="3.6"/><path d="M1476.9,720.2 C1476.4,722.6 1474.9,729.2 1474.2,735.1 C1473.5,741.0 1473.3,748.8 1472.8,755.5 C1472.4,762.1 1471.7,771.7 1471.5,775.0" stroke="#E6C4D6" stroke-width="4.2"/><path d="M1483.7,725.6 C1483.0,728.3 1480.7,735.8 1479.6,741.9 C1478.5,748.0 1477.4,758.8 1476.9,762.2" stroke="#E6C4D6" stroke-width="4.2"/><path d="M1497.9,731.0 C1496.7,731.7 1492.6,732.6 1490.5,735.1 C1488.3,737.6 1485.9,744.1 1485.0,746.0" stroke="#E6C4D6" stroke-width="4.2"/><path d="M1390.0,732.4 C1391.4,735.1 1395.4,742.6 1398.1,748.7 C1400.9,754.8 1404.9,765.6 1406.3,769.0" stroke="#E6C4D6" stroke-width="4.2"/><path d="M1393.1,738.6 L1393.8,730.7" stroke="#E6C4D6" stroke-width="3.6"/><path d="M1415.8,775.0 C1417.8,780.7 1423.7,798.1 1428.0,808.9 C1432.3,819.8 1437.7,830.9 1441.6,840.2 C1445.4,849.5 1447.5,856.2 1451.1,864.6 C1454.7,873.0 1459.2,881.6 1463.3,890.4 C1467.4,899.2 1471.9,908.5 1475.5,917.6 C1479.2,926.6 1481.9,935.7 1485.0,944.7 C1488.2,953.8 1491.6,961.8 1494.5,971.9 C1497.5,981.9 1501.3,999.5 1502.7,1005.0" stroke="#E0D2DA" stroke-width="5.8"/><path d="M1390.0,851.0 C1393.4,851.9 1403.6,854.9 1410.4,856.5 C1417.2,858.1 1423.9,859.2 1430.7,860.5 C1437.5,861.9 1447.7,863.9 1451.1,864.6" stroke="#E0D2DA" stroke-width="5.2"/><path d="M1390.0,799.4 C1391.4,802.8 1395.4,813.0 1398.1,819.8 C1400.9,826.6 1403.6,834.1 1406.3,840.2 C1409.0,846.3 1413.1,853.8 1414.4,856.5" stroke="#E6C4D6" stroke-width="4.6"/><path d="M1437.5,775.0 C1438.7,779.5 1442.5,793.1 1444.3,802.2 C1446.1,811.2 1447.3,820.3 1448.4,829.3 C1449.5,838.4 1450.6,851.9 1451.1,856.5" stroke="#E6C4D6" stroke-width="4.4"/><path d="M1439.2,781.8 L1441.6,774.2" stroke="#E6C4D6" stroke-width="3.6"/><path d="M1452.5,775.0 C1452.7,778.4 1453.4,788.6 1453.8,795.4 C1454.3,802.2 1454.9,812.3 1455.2,815.7" stroke="#E6C4D6" stroke-width="4.2"/><path d="M1452.9,782.0 L1448.3,775.5" stroke="#E6C4D6" stroke-width="3.6"/><path d="M1463.3,783.1 C1462.9,786.3 1461.7,795.6 1460.6,802.2 C1459.5,808.7 1457.2,819.1 1456.5,822.5" stroke="#E6C4D6" stroke-width="4.2"/><path d="M1462.3,790.1 L1459.2,782.7" stroke="#E6C4D6" stroke-width="3.6"/><path d="M1476.9,780.4 C1476.0,784.1 1472.8,796.3 1471.5,802.2 C1470.1,808.0 1469.2,813.5 1468.8,815.7" stroke="#E6C4D6" stroke-width="4.2"/><path d="M1475.2,787.2 L1480.9,781.6" stroke="#E6C4D6" stroke-width="3.6"/><path d="M1479.6,806.2 C1478.7,811.2 1475.5,826.6 1474.2,836.1 C1472.8,845.6 1472.4,856.2 1471.5,863.3 C1470.6,870.3 1469.2,875.7 1468.8,878.2" stroke="#E6C4D6" stroke-width="4.2"/><path d="M1478.4,813.1 L1483.7,807.2" stroke="#E6C4D6" stroke-width="3.6"/><path d="M1390.0,863.3 C1391.4,864.8 1394.8,869.4 1398.1,872.8 C1401.5,876.2 1404.9,878.9 1410.4,883.6 C1415.8,888.4 1423.9,896.7 1430.7,901.3 C1437.5,905.8 1445.2,908.1 1451.1,910.8 C1457.0,913.5 1461.7,915.3 1466.0,917.6 C1470.3,919.8 1475.1,923.2 1476.9,924.4" stroke="#E6C4D6" stroke-width="4.8"/><path d="M1390.0,883.6 C1392.3,884.8 1399.1,888.1 1403.6,890.4 C1408.1,892.7 1412.6,895.2 1417.2,897.2 C1421.7,899.2 1428.5,901.7 1430.7,902.6" stroke="#E6C4D6" stroke-width="4.4"/><path d="M1396.3,886.8 L1388.3,887.4" stroke="#E6C4D6" stroke-width="3.6"/><path d="M1437.5,886.3 C1439.1,887.5 1443.2,891.3 1447.0,893.1 C1450.9,894.9 1457.4,896.1 1460.6,897.2 C1463.8,898.3 1465.1,899.5 1466.0,899.9" stroke="#E6C4D6" stroke-width="4.2"/><path d="M1442.3,889.7 L1439.2,882.4" stroke="#E6C4D6" stroke-width="3.6"/><path d="M1390.0,937.9 C1394.5,938.6 1408.1,939.7 1417.2,942.0 C1426.2,944.3 1435.3,947.2 1444.3,951.5 C1453.4,955.8 1463.5,962.1 1471.5,967.8 C1479.4,973.5 1486.6,979.3 1491.8,985.5 C1497.0,991.7 1500.9,1001.7 1502.7,1005.0" stroke="#E6E6EA" stroke-width="4.8"/><path d="M1498.6,910.8 C1499.1,915.3 1500.7,928.9 1501.3,937.9 C1502.0,947.0 1502.0,956.0 1502.7,965.1 C1503.4,974.1 1504.7,985.6 1505.4,992.2 C1506.1,998.9 1506.5,1002.9 1506.8,1005.0" stroke="#DCD2DA" stroke-width="4.4"/><path d="M1499.3,917.7 L1494.5,911.4" stroke="#DCD2DA" stroke-width="3.6"/><path d="M1512.2,887.7 C1512.9,891.5 1515.1,902.4 1516.3,910.8 C1517.4,919.2 1518.3,928.9 1519.0,937.9 C1519.7,947.0 1520.6,956.0 1520.3,965.1 C1520.1,974.1 1518.5,985.6 1517.6,992.2 C1516.7,998.9 1515.4,1002.9 1514.9,1005.0" stroke="#DCD2DA" stroke-width="4.4"/><path d="M1513.4,894.6 L1508.1,888.6" stroke="#DCD2DA" stroke-width="3.6"/><path d="M1523.1,810.3 C1523.5,814.6 1525.1,826.1 1525.8,836.1 C1526.5,846.1 1527.1,859.9 1527.1,870.0 C1527.1,880.2 1526.5,888.1 1525.8,897.2 C1525.1,906.3 1524.0,915.3 1523.1,924.4 C1522.2,933.4 1521.3,942.5 1520.3,951.5 C1519.4,960.6 1519.0,969.7 1517.6,978.7 C1516.3,987.6 1513.1,1000.6 1512.2,1005.0" stroke="#DCD2DA" stroke-width="4.6"/><path d="M1529.9,807.6 L1528.5,829.3" stroke="#DCD2DA" stroke-width="4.2"/><path d="M1529.4,814.6 L1534.0,808.0" stroke="#DCD2DA" stroke-width="3.6"/><path d="M1542.1,829.3 C1542.3,833.8 1543.9,847.4 1543.4,856.5 C1543.0,865.5 1541.2,874.6 1539.4,883.6 C1537.5,892.7 1533.7,906.3 1532.6,910.8" stroke="#DCD2DA" stroke-width="4.2"/><path d="M1542.4,836.3 L1537.9,829.7" stroke="#DCD2DA" stroke-width="3.6"/><path d="M1552.9,775.0 C1552.7,779.5 1552.0,790.8 1551.6,802.2 C1551.1,813.5 1551.1,829.3 1550.2,842.9 C1549.3,856.5 1548.0,872.3 1546.1,883.6 C1544.3,894.9 1541.6,901.7 1539.4,910.8 C1537.1,919.8 1534.8,928.9 1532.6,937.9 C1530.3,947.0 1527.6,956.0 1525.8,965.1 C1524.0,974.1 1522.8,985.6 1521.7,992.2 C1520.6,998.9 1519.4,1002.9 1519.0,1005.0" stroke="#DCD2DA" stroke-width="4.8"/><path d="M1550.2,878.2 C1549.8,881.4 1548.9,890.6 1547.5,897.2 C1546.1,903.8 1543.0,914.2 1542.1,917.6" stroke="#DCD2DA" stroke-width="4.2"/><path d="M1549.2,885.1 L1546.1,877.8" stroke="#DCD2DA" stroke-width="3.6"/><path d="M1555.6,879.5 L1552.9,897.2" stroke="#DCD2DA" stroke-width="4.2"/><path d="M1554.6,886.5 L1551.5,879.1" stroke="#DCD2DA" stroke-width="3.6"/><path d="M1570.6,819.8 C1569.9,825.9 1568.1,843.6 1566.5,856.5 C1564.9,869.4 1563.3,884.8 1561.1,897.2 C1558.8,909.6 1556.6,919.8 1552.9,931.1 C1549.3,942.5 1543.9,952.8 1539.4,965.1 C1534.8,977.4 1528.0,998.4 1525.8,1005.0" stroke="#DCD2DA" stroke-width="4.8"/><path d="M1582.8,823.9 C1581.9,827.0 1579.4,835.2 1577.4,842.9 C1575.3,850.6 1571.7,865.5 1570.6,870.0" stroke="#DCD2DA" stroke-width="4.2"/><path d="M1580.9,830.6 L1586.8,825.2" stroke="#DCD2DA" stroke-width="3.6"/><path d="M1586.9,828.0 L1580.1,856.5" stroke="#DCD2DA" stroke-width="4.2"/><path d="M1585.3,834.8 L1590.9,829.1" stroke="#DCD2DA" stroke-width="3.6"/><path d="M1607.2,821.2 C1606.1,824.8 1602.7,834.7 1600.5,842.9 C1598.2,851.0 1596.6,861.0 1593.7,870.0 C1590.7,879.1 1586.9,888.1 1582.8,897.2 C1578.7,906.3 1574.2,915.3 1569.2,924.4 C1564.2,933.4 1557.9,942.5 1552.9,951.5 C1548.0,960.6 1543.4,969.7 1539.4,978.7 C1535.3,987.6 1530.3,1000.6 1528.5,1005.0" stroke="#DCD2DA" stroke-width="5.0"/><path d="M1601.8,788.6 C1601.1,793.1 1599.1,806.7 1597.7,815.7 C1596.4,824.8 1594.3,838.4 1593.7,842.9" stroke="#DCD2DA" stroke-width="4.2"/><path d="M1600.8,795.5 L1597.7,788.1" stroke="#DCD2DA" stroke-width="3.6"/><path d="M1620.0,826.6 C1617.9,829.3 1611.6,836.8 1607.2,842.9 C1602.9,849.0 1595.9,859.9 1593.7,863.3" stroke="#DCD2DA" stroke-width="4.4"/><path d="M1615.7,832.1 L1623.2,829.3" stroke="#DCD2DA" stroke-width="3.6"/><path d="M1620.0,870.0 C1617.4,873.4 1610.0,883.6 1604.5,890.4 C1599.0,897.2 1592.5,904.0 1586.9,910.8 C1581.2,917.6 1573.3,927.7 1570.6,931.1" stroke="#DCD2DA" stroke-width="4.4"/><path d="M1615.8,875.6 L1616.6,867.7" stroke="#DCD2DA" stroke-width="3.6"/><path d="M1591.0,961.0 C1589.6,962.1 1585.1,967.1 1582.8,967.8 C1580.5,968.5 1578.3,965.5 1577.4,965.1" stroke="#DCD2DA" stroke-width="4.2"/><path d="M1586.9,964.4 L1594.8,963.3" stroke="#DCD2DA" stroke-width="3.6"/><path d="M1620.0,924.4 C1616.7,926.6 1607.1,932.7 1600.5,937.9 C1593.8,943.1 1585.7,949.9 1580.1,955.6 C1574.4,961.2 1571.0,965.8 1566.5,971.9 C1562.0,978.0 1556.3,986.7 1552.9,992.2 C1549.5,997.8 1547.3,1002.9 1546.1,1005.0" stroke="#DCD2DA" stroke-width="4.6"/><path d="M1563.8,950.2 C1563.1,952.6 1561.5,960.3 1559.7,965.1 C1557.9,969.8 1554.1,976.4 1552.9,978.7" stroke="#DCD2DA" stroke-width="4.2"/><path d="M1511.5,937.3 C1511.2,939.6 1510.3,945.7 1509.5,951.5 C1508.7,957.3 1507.2,968.5 1506.8,971.9" stroke="#DCD2DA" stroke-width="4.2"/><path d="M1511.5,965.1 C1511.6,967.4 1512.1,972.0 1512.2,978.7 C1512.3,985.3 1512.2,1000.6 1512.2,1005.0" stroke="#DCD2DA" stroke-width="4.2"/><path d="M1537.6,854.4 C1537.9,857.0 1539.5,862.9 1539.4,870.0 C1539.2,877.2 1537.1,892.7 1536.6,897.2" stroke="#DCD2DA" stroke-width="4.2"/><path d="M1569.9,815.1 C1569.6,818.6 1568.7,829.2 1567.9,836.1 C1567.1,843.0 1565.6,853.1 1565.2,856.5" stroke="#DCD2DA" stroke-width="4.2"/><path d="M1600.0,809.7 C1601.8,804.1 1607.5,784.8 1610.9,775.8 C1614.3,766.7 1617.0,762.2 1620.4,755.4 C1623.8,748.6 1627.8,741.2 1631.2,735.0 C1634.6,728.9 1636.9,724.9 1640.7,718.8 C1644.6,712.6 1650.2,704.3 1654.3,698.4 C1658.4,692.5 1662.6,687.6 1665.2,683.4 C1667.8,679.3 1669.1,675.0 1669.9,673.3" stroke="#DCD2DA" stroke-width="5.0"/><path d="M1665.2,683.4 C1666.3,683.0 1670.0,681.4 1672.0,680.7 C1673.9,680.1 1675.9,679.6 1676.7,679.4" stroke="#DCD2DA" stroke-width="4.2"/><path d="M1674.3,680.1 L1682.0,682.2" stroke="#DCD2DA" stroke-width="3.6"/><path d="M1663.8,701.1 C1662.2,702.2 1657.5,704.5 1654.3,707.9 C1651.1,711.3 1646.4,719.2 1644.8,721.5" stroke="#DCD2DA" stroke-width="4.2"/><path d="M1659.1,704.5 L1662.2,697.1" stroke="#DCD2DA" stroke-width="3.6"/><path d="M1636.7,716.0 C1636.4,718.1 1636.0,724.6 1635.3,728.3 C1634.6,731.9 1633.0,736.2 1632.6,737.8" stroke="#DCD2DA" stroke-width="4.2"/><path d="M1636.0,722.1 L1632.6,714.9" stroke="#DCD2DA" stroke-width="3.6"/><path d="M1640.7,754.1 C1639.6,753.6 1636.2,751.1 1633.9,751.3 C1631.7,751.6 1628.3,754.7 1627.2,755.4" stroke="#DCD2DA" stroke-width="4.2"/><path d="M1637.3,752.7 L1642.1,759.1" stroke="#DCD2DA" stroke-width="3.6"/><path d="M1600.0,870.0 C1603.4,865.6 1613.6,851.5 1620.4,843.7 C1627.2,835.9 1634.6,830.1 1640.7,823.3 C1646.8,816.5 1652.0,808.6 1657.0,802.9 C1662.0,797.3 1666.5,793.2 1670.6,789.4 C1674.7,785.5 1678.3,781.7 1681.5,779.9 C1684.6,778.0 1688.3,778.7 1689.6,778.5" stroke="#DCD2DA" stroke-width="4.8"/><path d="M1681.5,779.9 L1684.2,775.8" stroke="#DCD2DA" stroke-width="4.2"/><path d="M1682.8,777.8 L1683.1,769.8" stroke="#DCD2DA" stroke-width="3.6"/><path d="M1654.3,823.3 C1656.6,821.5 1663.4,814.7 1667.9,812.4 C1672.4,810.2 1677.4,810.3 1681.5,809.7 C1685.5,809.2 1690.5,809.2 1692.3,809.0" stroke="#DCD2DA" stroke-width="4.4"/><path d="M1686.9,809.4 L1694.0,813.1" stroke="#DCD2DA" stroke-width="3.6"/><path d="M1661.1,820.6 C1663.4,819.9 1669.7,817.6 1674.7,816.5 C1679.7,815.4 1688.3,814.2 1691.0,813.8" stroke="#DCD2DA" stroke-width="4.2"/><path d="M1684.1,814.9 L1690.1,809.7" stroke="#DCD2DA" stroke-width="3.6"/><path d="M1661.1,838.2 C1659.5,839.1 1655.0,841.4 1651.6,843.7 C1648.2,845.9 1644.8,848.4 1640.7,851.8 C1636.7,855.2 1630.8,861.0 1627.2,864.0 C1623.5,867.1 1620.4,869.0 1619.0,870.0" stroke="#DCD2DA" stroke-width="4.4"/><path d="M1677.4,828.7 C1675.4,829.0 1669.5,828.7 1665.2,830.1 C1660.9,831.4 1653.9,835.7 1651.6,836.9" stroke="#DCD2DA" stroke-width="4.2"/><path d="M1671.3,829.4 L1678.5,832.8" stroke="#DCD2DA" stroke-width="3.6"/><path d="M1654.3,854.5 C1652.0,855.4 1645.3,857.4 1640.7,860.0 C1636.2,862.5 1629.4,868.3 1627.2,870.0" stroke="#DCD2DA" stroke-width="4.2"/><path d="M1647.8,857.1 L1655.7,858.5" stroke="#DCD2DA" stroke-width="3.6"/><path d="M1656.3,777.8 C1655.8,779.7 1654.4,785.2 1653.0,789.4 C1651.5,793.5 1649.6,798.4 1647.5,802.9 C1645.5,807.5 1643.7,812.0 1640.7,816.5 C1637.8,821.0 1631.7,827.8 1629.9,830.1" stroke="#DCD2DA" stroke-width="4.2"/><path d="M1627.2,791.4 C1627.4,793.3 1628.1,798.7 1628.5,802.9 C1629.0,807.1 1630.1,812.0 1629.9,816.5 C1629.6,821.0 1627.6,827.8 1627.2,830.1" stroke="#DCD2DA" stroke-width="4.2"/><path d="M1650.9,809.0 C1649.9,810.3 1647.0,814.1 1644.8,816.5 C1642.7,818.9 1639.1,822.2 1638.0,823.3" stroke="#DCD2DA" stroke-width="4.2"/><path d="M1600.0,982.2 C1603.4,979.9 1613.6,973.1 1620.4,968.6 C1627.2,964.1 1634.6,959.6 1640.7,955.0 C1646.8,950.5 1652.0,946.4 1657.0,941.5 C1662.0,936.5 1666.1,930.2 1670.6,925.2 C1675.1,920.2 1679.7,916.1 1684.2,911.6 C1688.7,907.1 1693.7,902.5 1697.8,898.0 C1701.8,893.5 1705.7,888.5 1708.6,884.4 C1711.6,880.4 1714.3,875.4 1715.4,873.6" stroke="#D6DEBA" stroke-width="5.0"/><path d="M1684.2,911.6 C1686.0,909.8 1691.0,904.1 1695.0,900.7 C1699.1,897.3 1703.6,894.2 1708.6,891.2 C1713.6,888.3 1722.2,884.4 1724.9,883.1" stroke="#D6DEBA" stroke-width="4.2"/><path d="M1718.7,886.2 L1726.6,886.9" stroke="#D6DEBA" stroke-width="3.6"/><path d="M1697.8,898.0 C1700.7,896.7 1709.3,891.2 1715.4,889.9 C1721.5,888.5 1731.3,889.9 1734.4,889.9" stroke="#D6DEBA" stroke-width="4.2"/><path d="M1727.4,889.9 L1734.2,885.7" stroke="#D6DEBA" stroke-width="3.6"/><path d="M1708.6,884.4 L1708.6,870.9" stroke="#D6DEBA" stroke-width="4.2"/><path d="M1708.6,877.7 L1704.4,870.8" stroke="#D6DEBA" stroke-width="3.6"/><path d="M1670.6,925.2 C1672.4,924.0 1677.4,919.7 1681.5,918.4 C1685.5,917.0 1690.5,917.0 1695.0,917.0 C1699.6,917.0 1706.4,918.2 1708.6,918.4" stroke="#D6DEBA" stroke-width="4.2"/><path d="M1701.8,917.7 L1708.2,922.5" stroke="#D6DEBA" stroke-width="3.6"/><path d="M1657.0,941.5 C1658.4,939.7 1662.0,934.7 1665.2,930.6 C1668.3,926.5 1671.5,923.8 1676.0,917.0 C1680.6,910.2 1689.6,894.4 1692.3,889.9" stroke="#D6DEBA" stroke-width="4.2"/><path d="M1688.7,895.9 L1695.8,892.2" stroke="#D6DEBA" stroke-width="3.6"/><path d="M1640.7,955.0 C1642.3,953.7 1647.7,949.4 1650.2,946.9 C1652.7,944.4 1654.8,941.2 1655.7,940.1" stroke="#D6DEBA" stroke-width="4.2"/><path d="M1653.0,943.5 L1653.9,935.6" stroke="#D6DEBA" stroke-width="3.6"/><path d="M1600.0,1009.4 C1604.5,1007.1 1618.1,999.2 1627.2,995.8 C1636.2,992.4 1645.3,991.7 1654.3,989.0 C1663.4,986.3 1672.4,982.9 1681.5,979.5 C1690.5,976.1 1699.6,972.7 1708.6,968.6 C1717.7,964.5 1726.7,959.1 1735.8,955.0 C1744.8,951.0 1753.9,947.6 1762.9,944.2 C1772.0,940.8 1781.0,937.4 1790.1,934.7 C1799.1,932.0 1810.6,929.7 1817.2,927.9 C1823.9,926.1 1827.9,924.5 1830.0,923.8" stroke="#D6DEBA" stroke-width="5.2"/><path d="M1735.8,955.0 C1738.0,951.9 1746.0,941.7 1749.4,936.0 C1752.7,930.4 1755.0,924.7 1756.1,921.1 C1757.3,917.5 1756.1,915.4 1756.1,914.3" stroke="#D6DEBA" stroke-width="4.2"/><path d="M1749.4,936.0 C1751.6,934.2 1758.4,927.4 1762.9,925.2 C1767.5,922.9 1774.2,922.9 1776.5,922.5" stroke="#D6DEBA" stroke-width="4.2"/><path d="M1769.7,923.8 L1775.6,918.4" stroke="#D6DEBA" stroke-width="3.6"/><path d="M1756.1,921.1 C1758.4,920.0 1765.2,916.1 1769.7,914.3 C1774.2,912.5 1781.0,910.9 1783.3,910.2" stroke="#D6DEBA" stroke-width="4.2"/><path d="M1776.6,912.2 L1784.3,914.3" stroke="#D6DEBA" stroke-width="3.6"/><path d="M1762.9,944.2 C1765.2,943.7 1770.9,942.1 1776.5,941.5 C1782.2,940.8 1788.0,940.3 1796.9,940.1 C1805.8,939.9 1824.5,940.1 1830.0,940.1" stroke="#D6DEBA" stroke-width="4.6"/><path d="M1790.1,934.7 C1792.4,932.4 1800.3,925.5 1803.7,921.1 C1807.1,916.7 1809.3,910.4 1810.5,908.2" stroke="#D6DEBA" stroke-width="4.2"/><path d="M1817.2,927.9 L1830.0,918.4" stroke="#D6DEBA" stroke-width="4.2"/><path d="M1824.4,922.6 L1832.4,921.8" stroke="#D6DEBA" stroke-width="3.6"/><path d="M1722.2,963.2 C1726.7,962.7 1740.3,960.5 1749.4,960.5 C1758.4,960.5 1767.5,961.8 1776.5,963.2 C1785.6,964.5 1799.1,967.7 1803.7,968.6" stroke="#D6DEBA" stroke-width="4.4"/><path d="M1796.8,967.2 L1802.7,972.7" stroke="#D6DEBA" stroke-width="3.6"/><path d="M1749.4,960.5 C1752.7,959.6 1762.9,956.2 1769.7,955.0 C1776.5,953.9 1786.7,953.9 1790.1,953.7" stroke="#D6DEBA" stroke-width="4.2"/><path d="M1783.1,954.2 L1790.2,957.9" stroke="#D6DEBA" stroke-width="3.6"/><path d="M1776.5,963.2 C1778.8,963.6 1785.6,964.3 1790.1,965.9 C1794.6,967.5 1801.4,971.6 1803.7,972.7" stroke="#D6DEBA" stroke-width="4.2"/><path d="M1797.4,969.6 L1801.6,976.4" stroke="#D6DEBA" stroke-width="3.6"/><path d="M1600.0,1022.9 C1604.5,1021.8 1618.1,1018.9 1627.2,1016.1 C1636.2,1013.4 1645.3,1009.6 1654.3,1006.6 C1663.4,1003.7 1672.4,1000.3 1681.5,998.5 C1690.5,996.7 1699.6,996.5 1708.6,995.8 C1717.7,995.1 1728.3,994.6 1735.8,994.4 C1743.2,994.2 1750.5,994.4 1753.4,994.4" stroke="#D6DEBA" stroke-width="5.0"/><path d="M1600.0,1020.2 C1606.8,1019.3 1627.2,1015.5 1640.7,1014.8 C1654.3,1014.1 1670.2,1015.2 1681.5,1016.1 C1692.8,1017.0 1699.6,1019.1 1708.6,1020.2 C1717.7,1021.3 1726.7,1022.3 1735.8,1022.9 C1744.8,1023.6 1755.0,1024.1 1762.9,1024.3 C1770.9,1024.5 1779.9,1024.3 1783.3,1024.3" stroke="#D6DEBA" stroke-width="4.8"/><path d="M1735.8,1022.9 C1739.2,1022.7 1749.4,1022.0 1756.1,1021.6 C1762.9,1021.1 1773.1,1020.4 1776.5,1020.2" stroke="#D6DEBA" stroke-width="4.2"/><path d="M1769.5,1020.7 L1776.1,1016.1" stroke="#D6DEBA" stroke-width="3.6"/><path d="M1735.8,1022.9 C1739.2,1024.1 1749.8,1027.9 1756.1,1029.7 C1762.5,1031.5 1770.9,1033.1 1773.8,1033.8" stroke="#D6DEBA" stroke-width="4.2"/><path d="M1767.0,1032.2 L1772.7,1037.8" stroke="#D6DEBA" stroke-width="3.6"/><path d="M1715.4,1017.5 C1717.7,1017.0 1724.5,1015.7 1729.0,1014.8 C1733.5,1013.9 1740.3,1012.5 1742.6,1012.1" stroke="#D6DEBA" stroke-width="4.2"/><path d="M1600.0,1039.2 C1604.5,1038.8 1618.1,1037.4 1627.2,1036.5 C1636.2,1035.6 1645.3,1034.5 1654.3,1033.8 C1663.4,1033.1 1672.4,1032.4 1681.5,1032.4 C1690.5,1032.4 1700.7,1032.9 1708.6,1033.8 C1716.5,1034.7 1725.6,1037.2 1729.0,1037.9" stroke="#D6DEBA" stroke-width="4.8"/><path d="M1640.7,1036.5 C1643.0,1035.4 1650.9,1031.1 1654.3,1029.7 C1657.7,1028.4 1660.0,1028.6 1661.1,1028.4" stroke="#D6DEBA" stroke-width="4.2"/><path d="M1657.7,1029.0 L1663.6,1023.6" stroke="#D6DEBA" stroke-width="3.6"/><path d="M1600.0,1041.9 C1604.5,1042.8 1618.1,1045.6 1627.2,1047.4 C1636.2,1049.2 1645.3,1051.2 1654.3,1052.8 C1663.4,1054.4 1672.4,1055.1 1681.5,1056.9 C1690.5,1058.7 1702.3,1062.1 1708.6,1063.7 C1715.0,1065.3 1717.7,1065.9 1719.5,1066.4" stroke="#D6DEBA" stroke-width="4.6"/><path d="M1640.7,1048.7 C1643.0,1047.8 1650.5,1044.4 1654.3,1043.3 C1658.2,1042.2 1662.2,1042.2 1663.8,1041.9" stroke="#D6DEBA" stroke-width="4.2"/><path d="M1659.1,1042.6 L1665.2,1037.5" stroke="#D6DEBA" stroke-width="3.6"/><path d="M1667.9,1052.8 C1670.2,1054.2 1676.9,1058.5 1681.5,1061.0 C1686.0,1063.4 1692.8,1066.6 1695.0,1067.7" stroke="#D6DEBA" stroke-width="4.2"/><path d="M1688.8,1064.6 L1696.8,1063.9" stroke="#D6DEBA" stroke-width="3.6"/><path d="M1667.2,954.4 C1666.6,956.7 1665.3,964.7 1663.8,968.6 C1662.3,972.6 1662.2,974.7 1658.4,978.1 C1654.5,981.5 1647.1,985.6 1640.7,989.0 C1634.4,992.4 1623.8,996.9 1620.4,998.5" stroke="#D6DEBA" stroke-width="4.2"/><path d="M1658.4,978.1 C1660.0,977.4 1664.5,975.0 1667.9,974.1 C1671.3,973.1 1676.9,972.9 1678.8,972.7" stroke="#D6DEBA" stroke-width="4.2"/><path d="M1673.3,973.4 L1680.6,976.7" stroke="#D6DEBA" stroke-width="3.6"/><path d="M1658.4,978.1 C1660.0,978.1 1664.5,977.9 1667.9,978.1 C1671.3,978.4 1676.9,979.3 1678.8,979.5" stroke="#D6DEBA" stroke-width="4.2"/><path d="M1673.3,978.8 L1679.6,983.8" stroke="#D6DEBA" stroke-width="3.6"/><path d="M1621.7,957.8 C1620.4,959.6 1617.2,965.0 1613.6,968.6 C1610.0,972.2 1602.3,977.7 1600.0,979.5" stroke="#D6DEBA" stroke-width="4.2"/><path d="M1617.7,963.2 L1625.1,960.2" stroke="#D6DEBA" stroke-width="3.6"/><path d="M1720.8,975.4 C1718.8,975.9 1712.9,977.0 1708.6,978.1 C1704.3,979.3 1699.6,980.6 1695.0,982.2 C1690.5,983.8 1683.7,986.7 1681.5,987.6" stroke="#D6DEBA" stroke-width="4.2"/><path d="M1722.2,987.6 C1719.9,987.2 1713.1,985.1 1708.6,984.9 C1704.1,984.7 1697.3,986.0 1695.0,986.3" stroke="#D6DEBA" stroke-width="4.2"/><path d="M1733.7,1001.9 C1731.8,1001.5 1726.4,1000.4 1722.2,999.9 C1718.0,999.3 1710.9,998.7 1708.6,998.5" stroke="#D6DEBA" stroke-width="4.2"/><path d="M1750.7,1009.4 C1748.2,1009.6 1740.5,1010.0 1735.8,1010.7 C1731.0,1011.4 1724.5,1013.0 1722.2,1013.4" stroke="#D6DEBA" stroke-width="4.2"/><path d="M1600.0,900.7 C1603.4,897.3 1613.6,885.8 1620.4,880.4 C1627.2,874.9 1635.5,870.2 1640.7,868.1 C1645.9,866.1 1649.8,868.1 1651.6,868.1" stroke="#DCD2DA" stroke-width="4.4"/><path d="M1646.2,868.1 L1653.0,872.3" stroke="#DCD2DA" stroke-width="3.6"/><path d="M1600.0,887.2 C1602.3,884.9 1609.1,877.7 1613.6,873.6 C1618.1,869.5 1624.9,864.5 1627.2,862.7" stroke="#DCD2DA" stroke-width="4.4"/><path d="M1621.7,867.1 L1624.4,859.6" stroke="#DCD2DA" stroke-width="3.6"/><path d="M1627.2,918.4 C1624.9,920.0 1618.1,924.9 1613.6,927.9 C1609.1,930.8 1602.3,934.7 1600.0,936.0" stroke="#DCD2DA" stroke-width="4.2"/><path d="M1729.0,955.0 C1732.4,953.7 1741.4,949.6 1749.4,946.9 C1757.3,944.2 1767.5,941.7 1776.5,938.8 C1785.6,935.8 1795.8,931.5 1803.7,929.2 C1811.6,927.0 1819.1,925.6 1824.0,925.2 C1829.0,924.7 1832.0,926.3 1833.5,926.5" stroke="#D6DEBA" stroke-width="4.8"/><path d="M1803.7,929.2 C1805.9,927.4 1812.7,921.6 1817.3,918.4 C1821.8,915.2 1827.4,912.3 1830.8,910.2 C1834.2,908.2 1836.5,906.8 1837.6,906.2" stroke="#D6DEBA" stroke-width="4.2"/><path d="M1776.5,938.8 C1778.8,936.5 1785.6,929.2 1790.1,925.2 C1794.6,921.1 1800.3,917.3 1803.7,914.3 C1807.1,911.4 1809.3,908.7 1810.5,907.5" stroke="#D6DEBA" stroke-width="4.2"/><path d="M1749.4,946.9 C1750.5,944.2 1753.2,935.4 1756.2,930.6 C1759.1,925.9 1762.9,922.5 1767.0,918.4 C1771.1,914.3 1778.3,908.2 1780.6,906.2" stroke="#D6DEBA" stroke-width="4.2"/><path d="M1775.4,910.8 L1777.7,903.2" stroke="#D6DEBA" stroke-width="3.6"/><path d="M1756.2,930.6 C1758.4,928.3 1765.2,920.3 1769.7,917.0 C1774.3,913.7 1781.0,911.9 1783.3,910.9" stroke="#D6DEBA" stroke-width="4.2"/><path d="M1776.9,913.8 L1784.9,914.8" stroke="#D6DEBA" stroke-width="3.6"/><path d="M1749.4,946.9 C1751.6,943.7 1758.4,932.0 1762.9,927.9 C1767.5,923.8 1774.3,923.4 1776.5,922.5" stroke="#D6DEBA" stroke-width="4.2"/><path d="M1770.0,925.1 L1777.9,926.4" stroke="#D6DEBA" stroke-width="3.6"/><path d="M1756.2,913.6 C1755.7,916.0 1754.6,923.2 1753.4,927.9 C1752.3,932.5 1750.0,939.2 1749.4,941.5" stroke="#D6DEBA" stroke-width="4.2"/><path d="M1729.0,960.5 C1733.5,959.6 1747.1,957.3 1756.2,955.0 C1765.2,952.8 1774.3,949.2 1783.3,946.9 C1792.4,944.6 1801.6,942.6 1810.5,941.5 C1819.3,940.3 1832.0,940.3 1836.3,940.1" stroke="#D6DEBA" stroke-width="4.6"/><path d="M1769.7,953.7 C1772.0,953.7 1779.9,953.5 1783.3,953.7 C1786.7,953.9 1789.0,954.8 1790.1,955.0" stroke="#D6DEBA" stroke-width="4.2"/><path d="M1786.7,954.4 L1792.6,959.8" stroke="#D6DEBA" stroke-width="3.6"/><path d="M1796.9,944.2 C1800.3,944.4 1810.9,945.1 1817.3,945.5 C1823.6,946.0 1832.0,946.7 1834.9,946.9" stroke="#D6DEBA" stroke-width="4.2"/><path d="M1827.9,946.4 L1834.4,951.1" stroke="#D6DEBA" stroke-width="3.6"/><path d="M1729.0,963.2 C1733.5,963.4 1747.1,964.1 1756.2,964.5 C1765.2,965.0 1776.5,965.2 1783.3,965.9 C1790.1,966.6 1792.8,968.2 1796.9,968.6 C1801.0,969.1 1805.9,968.6 1807.8,968.6" stroke="#D6DEBA" stroke-width="4.4"/><path d="M1802.3,968.6 L1809.1,964.4" stroke="#D6DEBA" stroke-width="3.6"/><path d="M1783.3,965.9 C1785.6,967.0 1793.3,971.1 1796.9,972.7 C1800.5,974.3 1803.7,975.0 1805.0,975.4" stroke="#D6DEBA" stroke-width="4.2"/><path d="M1801.0,974.1 L1806.1,980.2" stroke="#D6DEBA" stroke-width="3.6"/><path d="M1729.0,1022.9 C1733.5,1022.9 1747.1,1022.5 1756.2,1022.9 C1765.2,1023.4 1778.8,1025.2 1783.3,1025.6" stroke="#D6DEBA" stroke-width="4.4"/><path d="M1776.3,1025.0 L1783.5,1021.5" stroke="#D6DEBA" stroke-width="3.6"/><path d="M1742.6,1027.0 C1746.0,1027.7 1757.7,1029.7 1762.9,1031.1 C1768.1,1032.4 1772.0,1034.5 1773.8,1035.2" stroke="#D6DEBA" stroke-width="4.2"/><path d="M1768.4,1033.1 L1776.2,1031.6" stroke="#D6DEBA" stroke-width="3.6"/><path d="M1729.0,995.8 C1731.3,995.6 1738.5,994.6 1742.6,994.4 C1746.7,994.2 1751.6,994.4 1753.4,994.4" stroke="#D6DEBA" stroke-width="4.2"/><path d="M1748.0,994.4 L1754.8,998.6" stroke="#D6DEBA" stroke-width="3.6"/><path d="M1729.0,1012.1 C1731.3,1011.8 1739.0,1011.2 1742.6,1010.7 C1746.2,1010.3 1749.4,1009.6 1750.7,1009.4" stroke="#D6DEBA" stroke-width="4.2"/><path d="M1530.0,1073.6 C1534.5,1073.8 1548.1,1073.8 1557.2,1074.9 C1566.2,1076.1 1575.3,1078.3 1584.3,1080.4 C1593.4,1082.4 1602.4,1084.7 1611.5,1087.2 C1620.5,1089.6 1629.6,1092.8 1638.6,1095.3 C1647.7,1097.8 1654.9,1100.7 1665.8,1102.1 C1676.6,1103.4 1697.5,1103.2 1703.8,1103.4" stroke="#CFE0EA" stroke-width="5.2"/><path d="M1638.6,1098.0 C1643.1,1099.1 1657.9,1103.4 1665.8,1104.8 C1673.7,1106.2 1679.8,1106.2 1686.1,1106.2 C1692.5,1106.2 1700.9,1105.0 1703.8,1104.8" stroke="#CFE0EA" stroke-width="4.4"/><path d="M1696.8,1105.3 L1703.3,1100.7" stroke="#CFE0EA" stroke-width="3.6"/><path d="M1665.8,1102.1 C1670.3,1103.7 1683.9,1109.3 1692.9,1111.6 C1702.0,1113.9 1709.0,1115.0 1720.1,1115.7 C1731.2,1116.3 1752.9,1115.7 1759.5,1115.7" stroke="#CFE0EA" stroke-width="4.8"/><path d="M1692.9,1111.6 C1697.5,1110.9 1712.2,1109.3 1720.1,1107.5 C1728.0,1105.7 1735.0,1104.1 1740.5,1100.7 C1745.9,1097.3 1750.6,1089.4 1752.7,1087.2" stroke="#CFE0EA" stroke-width="4.4"/><path d="M1720.1,1114.3 C1723.5,1113.9 1734.1,1112.7 1740.5,1111.6 C1746.8,1110.5 1755.2,1108.2 1758.1,1107.5" stroke="#CFE0EA" stroke-width="4.2"/><path d="M1604.7,1087.2 C1606.9,1089.4 1612.6,1096.2 1618.3,1100.7 C1623.9,1105.3 1631.8,1110.2 1638.6,1114.3 C1645.4,1118.4 1653.8,1123.4 1659.0,1125.2 C1664.2,1127.0 1668.0,1125.2 1669.9,1125.2" stroke="#CFE0EA" stroke-width="4.8"/><path d="M1638.6,1114.3 C1643.1,1116.6 1657.9,1123.8 1665.8,1127.9 C1673.7,1132.0 1680.5,1134.2 1686.1,1138.8 C1691.8,1143.3 1696.6,1148.9 1699.7,1155.0 C1702.9,1161.2 1704.2,1172.0 1705.2,1175.4" stroke="#CFE0EA" stroke-width="4.6"/><path d="M1665.8,1114.3 C1670.3,1115.4 1685.0,1119.1 1692.9,1121.1 C1700.9,1123.1 1708.8,1125.4 1713.3,1126.5 C1717.8,1127.7 1719.0,1127.7 1720.1,1127.9" stroke="#CFE0EA" stroke-width="4.2"/><path d="M1679.4,1118.4 C1683.9,1120.4 1698.6,1126.8 1706.5,1130.6 C1714.4,1134.5 1722.4,1139.2 1726.9,1141.5 C1731.4,1143.7 1732.5,1143.7 1733.7,1144.2" stroke="#CFE0EA" stroke-width="4.4"/><path d="M1706.5,1130.6 C1709.2,1132.9 1718.5,1140.6 1722.8,1144.2 C1727.1,1147.8 1730.7,1151.0 1732.3,1152.3" stroke="#CFE0EA" stroke-width="4.2"/><path d="M1530.0,1064.1 C1534.5,1064.5 1548.1,1065.9 1557.2,1066.8 C1566.2,1067.7 1575.3,1068.6 1584.3,1069.5 C1593.4,1070.4 1606.9,1071.8 1611.5,1072.2" stroke="#E6E6EA" stroke-width="4.4"/><path d="M1530.0,1091.2 C1532.3,1091.7 1539.1,1093.3 1543.6,1093.9 C1548.1,1094.6 1554.9,1095.1 1557.2,1095.3" stroke="#E6E6EA" stroke-width="4.2"/><path d="M1530.0,1098.0 C1534.5,1099.4 1548.1,1102.8 1557.2,1106.2 C1566.2,1109.6 1575.3,1114.1 1584.3,1118.4 C1593.4,1122.7 1603.5,1127.7 1611.5,1132.0 C1619.4,1136.3 1626.6,1139.7 1631.8,1144.2 C1637.0,1148.7 1640.9,1156.6 1642.7,1159.1" stroke="#E6E6EA" stroke-width="4.4"/><path d="M1530.0,1114.3 C1531.1,1115.4 1534.5,1119.3 1536.8,1121.1 C1539.1,1122.9 1542.4,1124.5 1543.6,1125.2" stroke="#E6E6EA" stroke-width="4.2"/><path d="M1530.0,1183.6 C1534.5,1184.7 1548.1,1188.3 1557.2,1190.3 C1566.2,1192.4 1575.3,1194.6 1584.3,1195.8 C1593.4,1196.9 1602.4,1196.5 1611.5,1197.1 C1620.5,1197.8 1629.6,1198.7 1638.6,1199.9 C1647.7,1201.0 1655.6,1202.1 1665.8,1203.9 C1676.0,1205.7 1694.1,1209.6 1699.7,1210.7" stroke="#E6E6EA" stroke-width="4.6"/><path d="M1638.6,1202.6 C1643.1,1203.7 1657.9,1207.3 1665.8,1209.4 C1673.7,1211.4 1680.5,1213.0 1686.1,1214.8 C1691.8,1216.6 1697.5,1219.3 1699.7,1220.2" stroke="#E6E6EA" stroke-width="4.2"/><path d="M1693.2,1217.6 L1701.1,1216.3" stroke="#E6E6EA" stroke-width="3.6"/><path d="M1530.0,1190.3 C1533.4,1191.3 1544.5,1193.7 1550.4,1195.8 C1556.3,1197.8 1562.8,1201.4 1565.3,1202.6" stroke="#E6E6EA" stroke-width="4.2"/><path d="M1557.2,1194.4 C1560.5,1194.0 1570.7,1192.4 1577.5,1191.7 C1584.3,1191.0 1594.5,1190.6 1597.9,1190.3" stroke="#E6E6EA" stroke-width="4.2"/><path d="M1590.9,1190.8 L1597.4,1186.2" stroke="#E6E6EA" stroke-width="3.6"/><path d="M1530.0,1202.6 C1533.4,1203.5 1544.7,1206.4 1550.4,1208.0 C1556.0,1209.6 1561.7,1211.4 1563.9,1212.1" stroke="#E6E6EA" stroke-width="4.2"/><path d="M1557.2,1210.1 L1562.6,1216.0" stroke="#E6E6EA" stroke-width="3.6"/><path d="M1554.4,1229.7 C1556.0,1235.4 1561.2,1253.6 1563.9,1263.7 C1566.7,1273.7 1569.6,1285.6 1570.7,1290.0" stroke="#E6E6EA" stroke-width="4.4"/><path d="M1569.0,1283.2 L1566.6,1290.9" stroke="#E6E6EA" stroke-width="3.6"/><path d="M1530.0,1205.3 C1533.4,1208.2 1543.6,1217.3 1550.4,1222.9 C1557.2,1228.6 1563.9,1234.0 1570.7,1239.2 C1577.5,1244.4 1584.3,1250.1 1591.1,1254.2 C1597.9,1258.2 1604.7,1261.4 1611.5,1263.7 C1618.3,1265.9 1625.0,1267.3 1631.8,1267.7 C1638.6,1268.2 1644.3,1267.1 1652.2,1266.4 C1660.1,1265.7 1670.3,1264.8 1679.4,1263.7 C1688.4,1262.5 1697.5,1261.4 1706.5,1259.6 C1715.6,1257.8 1724.7,1254.4 1733.7,1252.8 C1742.6,1251.2 1755.6,1250.5 1760.0,1250.1" stroke="#B8DDD4" stroke-width="5.4"/><path d="M1570.7,1239.2 C1574.1,1240.4 1583.0,1244.2 1591.1,1246.0 C1599.2,1247.8 1614.9,1249.4 1619.6,1250.1" stroke="#B8DDD4" stroke-width="4.4"/><path d="M1612.7,1249.1 L1618.8,1254.2" stroke="#B8DDD4" stroke-width="3.6"/><path d="M1652.2,1266.4 C1654.5,1264.8 1661.3,1259.6 1665.8,1256.9 C1670.3,1254.2 1674.8,1252.6 1679.4,1250.1 C1683.9,1247.6 1690.7,1243.3 1692.9,1241.9" stroke="#B8DDD4" stroke-width="4.4"/><path d="M1679.4,1263.7 C1681.6,1261.9 1688.9,1255.1 1692.9,1252.8 C1697.0,1250.5 1702.0,1250.5 1703.8,1250.1" stroke="#B8DDD4" stroke-width="4.2"/><path d="M1698.4,1251.4 L1704.0,1245.7" stroke="#B8DDD4" stroke-width="3.6"/><path d="M1706.5,1259.6 C1709.9,1258.0 1720.5,1252.8 1726.9,1250.1 C1733.2,1247.4 1741.6,1244.4 1744.5,1243.3" stroke="#B8DDD4" stroke-width="4.2"/><path d="M1738.0,1245.8 L1745.9,1247.3" stroke="#B8DDD4" stroke-width="3.6"/><path d="M1611.5,1263.7 C1613.7,1265.9 1620.5,1272.9 1625.0,1277.2 C1629.6,1281.6 1636.4,1287.9 1638.6,1290.0" stroke="#B8DDD4" stroke-width="4.8"/><path d="M1631.8,1277.2 C1635.2,1278.4 1644.3,1281.9 1652.2,1284.0 C1660.1,1286.2 1674.8,1289.0 1679.4,1290.0" stroke="#B8DDD4" stroke-width="4.4"/><path d="M1672.5,1288.5 L1678.3,1294.1" stroke="#B8DDD4" stroke-width="3.6"/><path d="M1665.8,1290.0 C1670.3,1288.3 1683.9,1283.0 1692.9,1280.0 C1702.0,1276.9 1708.9,1274.3 1720.1,1271.8 C1731.3,1269.3 1753.4,1266.2 1760.0,1265.0" stroke="#B8DDD4" stroke-width="4.8"/><path d="M1530.0,1236.5 C1531.8,1241.0 1538.1,1254.7 1540.9,1263.7 C1543.6,1272.6 1545.4,1285.6 1546.3,1290.0" stroke="#D4D4EA" stroke-width="5.6"/><path d="M1600.0,1260.9 C1604.5,1262.2 1620.4,1265.4 1627.2,1269.0 C1633.9,1272.6 1633.9,1277.8 1640.7,1282.6 C1647.5,1287.3 1658.8,1292.8 1667.9,1297.5 C1676.9,1302.3 1686.0,1306.3 1695.0,1311.1 C1704.1,1315.9 1713.1,1321.5 1722.2,1326.0 C1731.3,1330.6 1740.3,1333.3 1749.4,1338.3 C1758.4,1343.2 1767.5,1349.8 1776.5,1355.9 C1785.6,1362.0 1794.7,1368.4 1803.7,1374.9 C1812.6,1381.5 1825.6,1391.9 1830.0,1395.3" stroke="#B8DDD4" stroke-width="5.2"/><path d="M1640.7,1282.6 C1645.3,1283.5 1658.8,1288.2 1667.9,1288.0 C1676.9,1287.8 1686.0,1283.9 1695.0,1281.2 C1704.1,1278.5 1713.1,1274.4 1722.2,1271.7 C1731.3,1269.0 1739.4,1266.1 1749.4,1264.9 C1759.3,1263.8 1776.5,1264.9 1781.9,1264.9" stroke="#B8DDD4" stroke-width="4.8"/><path d="M1722.2,1271.7 C1726.7,1271.3 1739.6,1268.8 1749.4,1269.0 C1759.1,1269.2 1775.4,1272.4 1780.6,1273.1" stroke="#B8DDD4" stroke-width="4.2"/><path d="M1773.6,1272.2 L1779.9,1277.2" stroke="#B8DDD4" stroke-width="3.6"/><path d="M1600.0,1260.9 C1606.8,1261.3 1627.2,1263.6 1640.7,1263.6 C1654.3,1263.6 1667.9,1262.2 1681.5,1260.9 C1695.0,1259.5 1708.6,1256.8 1722.2,1255.4 C1735.8,1254.1 1748.9,1252.7 1762.9,1252.7 C1777.0,1252.7 1799.1,1255.0 1806.4,1255.4" stroke="#B8DDD4" stroke-width="4.8"/><path d="M1654.3,1263.6 C1656.6,1262.2 1663.4,1257.2 1667.9,1255.4 C1672.4,1253.6 1679.2,1253.2 1681.5,1252.7" stroke="#B8DDD4" stroke-width="4.2"/><path d="M1674.7,1254.1 L1680.5,1248.6" stroke="#B8DDD4" stroke-width="3.6"/><path d="M1667.9,1298.9 C1672.4,1299.1 1686.0,1300.2 1695.0,1300.2 C1704.1,1300.2 1712.2,1298.4 1722.2,1298.9 C1732.2,1299.3 1749.4,1302.3 1754.8,1303.0" stroke="#B8DDD4" stroke-width="4.6"/><path d="M1708.6,1298.9 C1710.9,1297.5 1718.6,1293.0 1722.2,1290.7 C1725.8,1288.5 1729.0,1286.2 1730.3,1285.3" stroke="#B8DDD4" stroke-width="4.2"/><path d="M1726.3,1288.0 L1729.6,1280.8" stroke="#B8DDD4" stroke-width="3.6"/><path d="M1722.2,1298.9 C1724.5,1298.4 1730.1,1296.2 1735.8,1296.2 C1741.4,1296.2 1752.7,1298.4 1756.1,1298.9" stroke="#B8DDD4" stroke-width="4.2"/><path d="M1749.2,1298.0 L1755.4,1303.0" stroke="#B8DDD4" stroke-width="3.6"/><path d="M1695.0,1311.1 C1699.6,1309.5 1713.1,1304.5 1722.2,1301.6 C1731.3,1298.7 1740.3,1296.2 1749.4,1293.4 C1758.4,1290.7 1767.5,1287.3 1776.5,1285.3 C1785.6,1283.3 1795.5,1282.4 1803.7,1281.2 C1811.8,1280.1 1821.8,1279.0 1825.4,1278.5" stroke="#B8DDD4" stroke-width="4.6"/><path d="M1776.5,1285.3 C1779.9,1285.1 1788.7,1283.9 1796.9,1283.9 C1805.0,1283.9 1820.6,1285.1 1825.4,1285.3" stroke="#B8DDD4" stroke-width="4.2"/><path d="M1818.4,1285.0 L1825.0,1289.5" stroke="#B8DDD4" stroke-width="3.6"/><path d="M1735.8,1322.0 C1740.3,1321.1 1753.9,1319.0 1762.9,1316.5 C1772.0,1314.0 1778.9,1310.2 1790.1,1307.0 C1801.3,1303.9 1823.4,1299.1 1830.0,1297.5" stroke="#B8DDD4" stroke-width="4.6"/><path d="M1776.5,1313.8 C1781.0,1314.3 1794.7,1315.4 1803.7,1316.5 C1812.6,1317.7 1825.6,1319.9 1830.0,1320.6" stroke="#B8DDD4" stroke-width="4.2"/><path d="M1823.1,1319.5 L1829.2,1324.7" stroke="#B8DDD4" stroke-width="3.6"/><path d="M1749.4,1338.3 C1751.6,1337.6 1758.2,1335.4 1762.9,1334.2 C1767.7,1332.9 1775.4,1331.4 1777.9,1330.8" stroke="#B8DDD4" stroke-width="4.2"/><path d="M1762.9,1345.0 C1765.2,1349.1 1773.8,1363.6 1776.5,1369.5 C1779.2,1375.4 1778.8,1378.5 1779.2,1380.3" stroke="#B8DDD4" stroke-width="4.2"/><path d="M1777.9,1374.9 L1775.5,1382.5" stroke="#B8DDD4" stroke-width="3.6"/><path d="M1776.5,1355.9 C1779.9,1358.2 1789.4,1367.2 1796.9,1369.5 C1804.3,1371.7 1817.2,1369.5 1821.3,1369.5" stroke="#B8DDD4" stroke-width="4.4"/><path d="M1814.3,1369.5 L1821.1,1373.7" stroke="#B8DDD4" stroke-width="3.6"/><path d="M1796.9,1369.5 C1799.1,1369.9 1806.4,1371.5 1810.5,1372.2 C1814.5,1372.9 1819.5,1373.3 1821.3,1373.6" stroke="#B8DDD4" stroke-width="4.2"/><path d="M1815.9,1372.9 L1822.1,1377.9" stroke="#B8DDD4" stroke-width="3.6"/><path d="M1627.2,1269.0 C1628.3,1274.9 1631.7,1293.9 1633.9,1304.3 C1636.2,1314.7 1638.5,1322.4 1640.7,1331.5 C1643.0,1340.5 1646.2,1352.3 1647.5,1358.6 C1648.9,1365.0 1648.7,1367.7 1648.9,1369.5" stroke="#B8DDD4" stroke-width="4.4"/><path d="M1648.2,1364.1 L1653.2,1370.3" stroke="#B8DDD4" stroke-width="3.6"/><path d="M1620.4,1271.7 C1621.5,1276.0 1624.2,1287.6 1627.2,1297.5 C1630.1,1307.5 1634.6,1320.2 1638.0,1331.5 C1641.4,1342.8 1643.7,1356.4 1647.5,1365.4 C1651.4,1374.5 1656.6,1379.0 1661.1,1385.8 C1665.6,1392.6 1671.3,1399.4 1674.7,1406.1 C1678.1,1412.9 1679.2,1421.3 1681.5,1426.5 C1683.7,1431.7 1687.1,1435.6 1688.3,1437.4" stroke="#B8DDD4" stroke-width="4.8"/><path d="M1633.9,1304.3 C1636.2,1310.0 1643.0,1326.9 1647.5,1338.3 C1652.0,1349.6 1657.7,1363.1 1661.1,1372.2 C1664.5,1381.3 1667.4,1388.5 1667.9,1392.6 C1668.3,1396.6 1664.5,1396.0 1663.8,1396.6" stroke="#B8DDD4" stroke-width="4.4"/><path d="M1665.9,1394.6 L1664.0,1402.4" stroke="#B8DDD4" stroke-width="3.6"/><path d="M1681.5,1412.9 C1681.0,1415.2 1679.7,1423.1 1678.8,1426.5 C1677.8,1429.9 1676.5,1432.2 1676.0,1433.3" stroke="#B8DDD4" stroke-width="4.2"/><path d="M1677.4,1429.9 L1678.7,1437.8" stroke="#B8DDD4" stroke-width="3.6"/><path d="M1654.3,1331.5 C1656.6,1333.7 1664.5,1340.7 1667.9,1345.0 C1671.3,1349.3 1673.5,1355.2 1674.7,1357.3" stroke="#B8DDD4" stroke-width="4.2"/><path d="M1654.3,1334.2 C1656.6,1334.0 1663.4,1332.4 1667.9,1332.8 C1672.4,1333.3 1679.2,1336.2 1681.5,1336.9" stroke="#B8DDD4" stroke-width="4.2"/><path d="M1674.8,1334.9 L1682.5,1332.8" stroke="#B8DDD4" stroke-width="3.6"/><path d="M1661.1,1338.3 C1663.4,1338.9 1671.3,1341.4 1674.7,1342.3 C1678.1,1343.2 1680.3,1343.5 1681.5,1343.7" stroke="#B8DDD4" stroke-width="4.2"/><path d="M1678.1,1343.0 L1683.9,1348.4" stroke="#B8DDD4" stroke-width="3.6"/><path d="M1640.7,1282.6 C1644.1,1288.5 1654.3,1307.5 1661.1,1317.9 C1667.9,1328.3 1674.7,1336.0 1681.5,1345.0 C1688.3,1354.1 1696.2,1363.1 1701.8,1372.2 C1707.5,1381.3 1710.9,1390.3 1715.4,1399.4 C1719.9,1408.4 1724.5,1417.5 1729.0,1426.5 C1733.5,1435.6 1738.5,1444.7 1742.6,1453.7 C1746.6,1462.6 1751.6,1475.6 1753.4,1480.0" stroke="#B8DDD4" stroke-width="5.0"/><path d="M1688.3,1338.3 C1691.6,1337.8 1703.9,1335.8 1708.6,1335.5 C1713.4,1335.3 1715.4,1336.7 1716.8,1336.9" stroke="#B8DDD4" stroke-width="4.2"/><path d="M1712.7,1336.2 L1720.1,1333.2" stroke="#B8DDD4" stroke-width="3.6"/><path d="M1681.5,1334.2 C1684.9,1334.2 1696.2,1334.2 1701.8,1334.2 C1707.5,1334.2 1713.1,1334.2 1715.4,1334.2" stroke="#B8DDD4" stroke-width="4.2"/><path d="M1708.6,1334.2 L1715.4,1330.0" stroke="#B8DDD4" stroke-width="3.6"/><path d="M1708.6,1372.2 C1710.9,1369.9 1717.7,1361.3 1722.2,1358.6 C1726.7,1355.9 1731.7,1355.9 1735.8,1355.9 C1739.9,1355.9 1744.8,1358.2 1746.6,1358.6" stroke="#B8DDD4" stroke-width="4.2"/><path d="M1741.2,1357.3 L1748.8,1354.9" stroke="#B8DDD4" stroke-width="3.6"/><path d="M1722.2,1358.6 C1724.5,1359.3 1731.7,1362.0 1735.8,1362.7 C1739.9,1363.4 1744.8,1362.7 1746.6,1362.7" stroke="#B8DDD4" stroke-width="4.2"/><path d="M1741.2,1362.7 L1748.0,1358.5" stroke="#B8DDD4" stroke-width="3.6"/><path d="M1695.0,1345.0 C1699.6,1349.6 1714.3,1365.4 1722.2,1372.2 C1730.1,1379.0 1735.3,1380.6 1742.6,1385.8 C1749.8,1391.0 1761.8,1400.5 1765.6,1403.4" stroke="#B8DDD4" stroke-width="4.6"/><path d="M1735.8,1372.2 C1738.0,1373.3 1742.8,1375.3 1749.4,1379.0 C1755.9,1382.7 1770.9,1392.0 1775.2,1394.6" stroke="#B8DDD4" stroke-width="4.2"/><path d="M1708.6,1412.9 C1710.9,1413.6 1716.5,1415.9 1722.2,1417.0 C1727.9,1418.1 1739.2,1419.3 1742.6,1419.7" stroke="#B8DDD4" stroke-width="4.2"/><path d="M1701.8,1399.4 C1704.1,1403.9 1711.6,1418.8 1715.4,1426.5 C1719.3,1434.2 1723.3,1442.4 1724.9,1445.5" stroke="#B8DDD4" stroke-width="4.4"/><path d="M1729.0,1426.5 C1730.1,1428.8 1734.2,1437.4 1735.8,1440.1 C1737.4,1442.8 1738.0,1442.4 1738.5,1442.8" stroke="#B8DDD4" stroke-width="4.2"/><path d="M1737.1,1441.4 L1739.0,1449.2" stroke="#B8DDD4" stroke-width="3.6"/><path d="M1742.6,1358.6 L1745.3,1385.8" stroke="#B8DDD4" stroke-width="4.2"/><path d="M1744.6,1378.8 L1749.4,1385.2" stroke="#B8DDD4" stroke-width="3.6"/><path d="M1600.0,1317.9 C1602.3,1322.4 1610.2,1336.0 1613.6,1345.0 C1617.0,1354.1 1618.6,1366.5 1620.4,1372.2 C1622.2,1377.9 1623.8,1377.9 1624.4,1379.0" stroke="#E6E6EA" stroke-width="4.2"/><path d="M1622.4,1375.6 L1629.5,1379.3" stroke="#E6E6EA" stroke-width="3.6"/><path d="M1600.0,1419.7 C1602.3,1422.0 1609.1,1428.8 1613.6,1433.3 C1618.1,1437.8 1622.6,1442.4 1627.2,1446.9 C1631.7,1451.4 1633.9,1454.9 1640.7,1460.5 C1647.5,1466.0 1663.4,1476.7 1667.9,1480.0" stroke="#D4D4EA" stroke-width="5.0"/><path d="M1600.0,1440.1 C1602.3,1442.4 1609.1,1449.1 1613.6,1453.7 C1618.1,1458.2 1623.8,1462.9 1627.2,1467.2 C1630.5,1471.6 1632.8,1477.9 1633.9,1480.0" stroke="#D4D4EA" stroke-width="4.6"/><path d="M1729.0,1250.6 C1733.5,1250.6 1747.1,1250.6 1756.2,1250.6 C1765.2,1250.6 1774.9,1251.3 1783.3,1250.6 C1791.7,1249.9 1802.5,1247.2 1806.4,1246.5" stroke="#B8DDD4" stroke-width="4.8"/><path d="M1783.3,1250.6 C1785.6,1251.3 1793.0,1253.5 1796.9,1254.7 C1800.7,1255.8 1804.8,1256.9 1806.4,1257.4" stroke="#B8DDD4" stroke-width="4.2"/><path d="M1801.6,1256.0 L1809.3,1253.9" stroke="#B8DDD4" stroke-width="3.6"/><path d="M1756.2,1250.6 L1769.7,1257.4" stroke="#B8DDD4" stroke-width="4.2"/><path d="M1763.5,1254.3 L1771.4,1253.6" stroke="#B8DDD4" stroke-width="3.6"/><path d="M1735.8,1249.2 L1743.9,1243.8" stroke="#B8DDD4" stroke-width="4.2"/><path d="M1739.9,1246.5 L1743.2,1239.3" stroke="#B8DDD4" stroke-width="3.6"/><path d="M1729.0,1272.3 C1732.4,1271.4 1742.6,1268.0 1749.4,1266.9 C1756.2,1265.8 1764.1,1265.5 1769.7,1265.5 C1775.4,1265.5 1781.0,1266.7 1783.3,1266.9" stroke="#B8DDD4" stroke-width="4.6"/><path d="M1762.9,1268.3 L1780.6,1273.7" stroke="#B8DDD4" stroke-width="4.2"/><path d="M1773.9,1271.6 L1779.2,1277.6" stroke="#B8DDD4" stroke-width="3.6"/><path d="M1729.0,1295.4 C1733.5,1294.3 1747.1,1290.4 1756.2,1288.6 C1765.2,1286.8 1774.3,1285.7 1783.3,1284.5 C1792.4,1283.4 1803.2,1283.0 1810.5,1281.8 C1817.7,1280.7 1824.0,1278.4 1826.8,1277.8" stroke="#B8DDD4" stroke-width="4.8"/><path d="M1796.9,1283.2 L1826.8,1285.2" stroke="#B8DDD4" stroke-width="4.2"/><path d="M1819.8,1284.8 L1826.3,1289.4" stroke="#B8DDD4" stroke-width="3.6"/><path d="M1769.7,1287.3 L1786.0,1292.7" stroke="#B8DDD4" stroke-width="4.2"/><path d="M1779.4,1290.5 L1787.2,1288.7" stroke="#B8DDD4" stroke-width="3.6"/><path d="M1790.1,1284.5 L1803.7,1288.6" stroke="#B8DDD4" stroke-width="4.2"/><path d="M1797.0,1286.6 L1802.3,1292.6" stroke="#B8DDD4" stroke-width="3.6"/><path d="M1729.0,1298.1 C1731.3,1298.4 1738.1,1299.3 1742.6,1299.5 C1747.1,1299.7 1753.9,1299.5 1756.2,1299.5" stroke="#B8DDD4" stroke-width="4.2"/><path d="M1749.4,1299.5 L1756.2,1303.7" stroke="#B8DDD4" stroke-width="3.6"/><path d="M1735.8,1302.2 L1756.2,1304.9" stroke="#B8DDD4" stroke-width="4.2"/><path d="M1749.2,1304.0 L1755.4,1309.0" stroke="#B8DDD4" stroke-width="3.6"/><path d="M1729.0,1325.3 C1733.5,1324.8 1748.2,1324.4 1756.2,1322.6 C1764.1,1320.8 1769.7,1317.4 1776.5,1314.4 C1783.3,1311.5 1790.1,1307.4 1796.9,1304.9 C1803.7,1302.4 1810.5,1300.8 1817.3,1299.5 C1824.0,1298.1 1832.6,1297.6 1837.6,1296.8 C1842.6,1296.0 1845.5,1295.1 1847.1,1294.7" stroke="#B8DDD4" stroke-width="5.0"/><path d="M1817.3,1299.5 C1819.5,1299.9 1826.3,1301.5 1830.8,1302.2 C1835.4,1302.9 1842.1,1303.3 1844.4,1303.6" stroke="#B8DDD4" stroke-width="4.2"/><path d="M1837.6,1302.9 L1844.0,1307.7" stroke="#B8DDD4" stroke-width="3.6"/><path d="M1776.5,1314.4 C1779.9,1314.9 1790.1,1316.7 1796.9,1317.1 C1803.7,1317.6 1809.1,1316.5 1817.3,1317.1 C1825.4,1317.8 1841.0,1320.5 1845.8,1321.2" stroke="#B8DDD4" stroke-width="4.6"/><path d="M1817.3,1318.5 L1826.8,1325.3" stroke="#B8DDD4" stroke-width="4.2"/><path d="M1822.0,1321.9 L1825.1,1329.3" stroke="#B8DDD4" stroke-width="3.6"/><path d="M1830.8,1321.2 L1845.8,1326.6" stroke="#B8DDD4" stroke-width="4.2"/><path d="M1839.2,1324.2 L1847.0,1322.6" stroke="#B8DDD4" stroke-width="3.6"/><path d="M1729.0,1329.4 C1732.4,1331.2 1743.7,1336.8 1749.4,1340.2 C1755.0,1343.6 1758.4,1346.3 1762.9,1349.7 C1767.5,1353.1 1772.0,1356.7 1776.5,1360.6 C1781.0,1364.4 1784.4,1368.5 1790.1,1372.8 C1795.8,1377.1 1803.7,1381.9 1810.5,1386.4 C1817.3,1390.9 1825.2,1396.0 1830.8,1400.0 C1836.5,1403.9 1842.1,1408.3 1844.4,1410.0" stroke="#B8DDD4" stroke-width="5.2"/><path d="M1749.4,1340.2 C1751.6,1339.8 1758.4,1339.1 1762.9,1337.5 C1767.5,1335.9 1774.3,1331.8 1776.5,1330.7" stroke="#B8DDD4" stroke-width="4.2"/><path d="M1762.9,1349.7 C1764.1,1352.0 1767.5,1358.8 1769.7,1363.3 C1772.0,1367.8 1775.4,1374.6 1776.5,1376.9" stroke="#B8DDD4" stroke-width="4.2"/><path d="M1773.4,1370.6 L1780.2,1374.8" stroke="#B8DDD4" stroke-width="3.6"/><path d="M1776.5,1360.6 C1778.8,1361.7 1785.6,1365.8 1790.1,1367.4 C1794.6,1369.0 1798.5,1369.6 1803.7,1370.1 C1808.9,1370.5 1818.4,1370.1 1821.3,1370.1" stroke="#B8DDD4" stroke-width="4.4"/><path d="M1814.3,1370.1 L1821.1,1374.3" stroke="#B8DDD4" stroke-width="3.6"/><path d="M1810.5,1386.4 C1812.7,1387.5 1818.8,1391.8 1824.0,1393.2 C1829.2,1394.5 1838.8,1394.3 1841.7,1394.5" stroke="#B8DDD4" stroke-width="4.2"/><path d="M1834.7,1394.0 L1841.2,1398.7" stroke="#B8DDD4" stroke-width="3.6"/><path d="M1729.0,1353.8 C1730.8,1354.2 1736.9,1355.8 1739.9,1356.5 C1742.8,1357.2 1745.5,1357.6 1746.7,1357.9" stroke="#B8DDD4" stroke-width="4.2"/><path d="M1743.3,1357.2 L1750.8,1354.4" stroke="#B8DDD4" stroke-width="3.6"/><path d="M1729.0,1363.3 C1731.3,1365.6 1738.1,1372.4 1742.6,1376.9 C1747.1,1381.4 1752.3,1385.9 1756.2,1390.5 C1760.0,1395.0 1764.1,1401.8 1765.7,1404.0" stroke="#B8DDD4" stroke-width="4.6"/><path d="M1735.8,1370.1 C1737.4,1372.4 1743.5,1381.2 1745.3,1383.7 C1747.1,1386.2 1746.4,1384.8 1746.7,1385.0" stroke="#B8DDD4" stroke-width="4.2"/><path d="M1746.0,1384.3 L1747.8,1392.1" stroke="#B8DDD4" stroke-width="3.6"/><path d="M1810.5,1382.7 C1812.7,1384.5 1818.8,1391.5 1824.0,1393.6 C1829.2,1395.6 1838.8,1394.7 1841.7,1394.9" stroke="#B8DDD4" stroke-width="4.2"/><path d="M1834.7,1394.4 L1841.8,1390.8" stroke="#B8DDD4" stroke-width="3.6"/><path d="M1810.5,1382.7 C1813.9,1385.7 1825.2,1395.2 1830.8,1400.4 C1836.5,1405.6 1840.3,1410.1 1844.4,1413.9 C1848.5,1417.8 1853.5,1421.9 1855.3,1423.4" stroke="#B8DDD4" stroke-width="4.6"/><path d="M1729.0,1434.3 C1730.1,1436.6 1733.5,1443.4 1735.8,1447.9 C1738.1,1452.4 1740.3,1456.9 1742.6,1461.5 C1744.8,1466.0 1747.1,1470.5 1749.4,1475.0 C1751.6,1479.6 1753.9,1485.2 1756.2,1488.6 C1758.4,1492.0 1761.8,1494.3 1762.9,1495.4" stroke="#B8DDD4" stroke-width="4.6"/><path d="M1735.8,1447.9 C1738.1,1450.6 1746.2,1460.6 1749.4,1464.2 C1752.5,1467.8 1753.9,1468.7 1754.8,1469.6" stroke="#B8DDD4" stroke-width="4.2"/><path d="M1752.1,1466.9 L1759.9,1468.8" stroke="#B8DDD4" stroke-width="3.6"/><path d="M1729.0,1413.9 C1730.1,1414.6 1733.3,1416.9 1735.8,1418.0 C1738.3,1419.1 1742.6,1420.3 1743.9,1420.7" stroke="#B8DDD4" stroke-width="4.2"/><path d="M1531.2,1240.0 C1532.6,1244.5 1536.9,1259.2 1539.4,1267.2 C1541.8,1275.1 1545.2,1279.6 1546.1,1287.5 C1547.0,1295.4 1545.9,1305.6 1544.8,1314.7 C1543.7,1323.7 1541.2,1332.8 1539.4,1341.8 C1537.5,1350.9 1535.3,1359.9 1533.9,1369.0 C1532.6,1378.0 1531.9,1386.0 1531.2,1396.1 C1530.5,1406.3 1530.8,1417.8 1529.9,1430.1 C1528.9,1442.4 1526.5,1463.4 1525.8,1470.0" stroke="#D4D4EA" stroke-width="5.8"/><path d="M1546.1,1287.5 C1547.3,1293.2 1550.7,1310.2 1552.9,1321.5 C1555.2,1332.8 1557.5,1345.2 1559.7,1355.4 C1562.0,1365.6 1563.6,1372.4 1566.5,1382.6 C1569.5,1392.7 1574.0,1406.3 1577.4,1416.5 C1580.8,1426.7 1584.2,1434.7 1586.9,1443.7 C1589.6,1452.6 1592.5,1465.6 1593.7,1470.0" stroke="#D4D4EA" stroke-width="5.2"/><path d="M1546.1,1307.9 C1547.3,1312.4 1551.8,1326.0 1552.9,1335.0 C1554.1,1344.1 1553.4,1355.4 1552.9,1362.2 C1552.5,1369.0 1550.7,1373.5 1550.2,1375.8" stroke="#D4D4EA" stroke-width="4.2"/><path d="M1551.6,1369.0 L1554.3,1376.5" stroke="#D4D4EA" stroke-width="3.6"/><path d="M1559.7,1355.4 C1560.9,1358.8 1563.6,1370.1 1566.5,1375.8 C1569.5,1381.4 1574.0,1382.6 1577.4,1389.4 C1580.8,1396.1 1583.0,1407.5 1586.9,1416.5 C1590.7,1425.6 1596.2,1434.7 1600.5,1443.7 C1604.8,1452.6 1610.6,1465.6 1612.7,1470.0" stroke="#D4D4EA" stroke-width="4.8"/><path d="M1580.1,1396.1 C1582.4,1399.5 1590.3,1408.6 1593.7,1416.5 C1597.1,1424.4 1598.2,1436.9 1600.5,1443.7 C1602.7,1450.5 1606.1,1455.0 1607.2,1457.2" stroke="#D4D4EA" stroke-width="4.2"/><path d="M1604.1,1451.0 L1610.9,1455.2" stroke="#D4D4EA" stroke-width="3.6"/><path d="M1593.7,1416.5 C1595.9,1418.8 1603.8,1426.9 1607.2,1430.1 C1610.6,1433.3 1612.9,1434.6 1614.0,1435.5" stroke="#D4D4EA" stroke-width="4.2"/><path d="M1610.6,1432.8 L1618.6,1433.8" stroke="#D4D4EA" stroke-width="3.6"/><path d="M1539.4,1341.8 C1537.1,1345.2 1530.3,1355.4 1525.8,1362.2 C1521.3,1369.0 1516.3,1374.6 1512.2,1382.6 C1508.1,1390.5 1504.7,1400.7 1501.3,1409.7 C1497.9,1418.8 1494.5,1426.8 1491.8,1436.9 C1489.1,1446.9 1486.2,1464.5 1485.0,1470.0" stroke="#D4D4EA" stroke-width="5.2"/><path d="M1525.8,1362.2 C1523.5,1363.3 1516.3,1365.6 1512.2,1369.0 C1508.1,1372.4 1503.1,1380.3 1501.3,1382.6" stroke="#D4D4EA" stroke-width="4.2"/><path d="M1505.7,1377.1 L1498.2,1379.8" stroke="#D4D4EA" stroke-width="3.6"/><path d="M1501.3,1409.7 C1502.0,1410.9 1504.5,1414.9 1505.4,1416.5 C1506.3,1418.1 1506.5,1418.8 1506.8,1419.2" stroke="#D4D4EA" stroke-width="4.2"/><path d="M1506.1,1417.9 L1505.4,1425.8" stroke="#D4D4EA" stroke-width="3.6"/><path d="M1531.2,1396.1 C1531.4,1399.5 1531.7,1412.0 1532.6,1416.5 C1533.5,1421.0 1536.0,1422.2 1536.6,1423.3" stroke="#D4D4EA" stroke-width="4.2"/><path d="M1534.6,1419.9 L1541.7,1423.6" stroke="#D4D4EA" stroke-width="3.6"/><path d="M1529.9,1430.1 C1528.0,1431.2 1522.6,1435.3 1519.0,1436.9 C1515.4,1438.5 1509.9,1439.1 1508.1,1439.6" stroke="#D4D4EA" stroke-width="4.2"/><path d="M1513.6,1438.2 L1505.9,1435.8" stroke="#D4D4EA" stroke-width="3.6"/><path d="M1544.8,1307.9 C1539.4,1309.0 1522.2,1312.9 1512.2,1314.7 C1502.2,1316.5 1494.1,1317.6 1485.0,1318.8 C1476.0,1319.9 1466.9,1319.9 1457.9,1321.5 C1448.8,1323.1 1438.4,1326.4 1430.7,1328.3 C1423.0,1330.1 1414.9,1331.6 1411.7,1332.3" stroke="#D4D4EA" stroke-width="4.8"/><path d="M1457.9,1321.5 C1457.4,1322.1 1457.0,1324.2 1455.2,1325.5 C1453.4,1326.9 1448.4,1328.9 1447.0,1329.6" stroke="#D4D4EA" stroke-width="4.2"/><path d="M1451.1,1327.6 L1446.9,1334.4" stroke="#D4D4EA" stroke-width="3.6"/><path d="M1539.4,1335.0 C1534.8,1338.4 1521.3,1349.8 1512.2,1355.4 C1503.1,1361.1 1494.1,1366.0 1485.0,1369.0 C1476.0,1371.9 1466.7,1373.5 1457.9,1373.1 C1449.1,1372.6 1436.4,1367.4 1432.1,1366.3" stroke="#D4D4EA" stroke-width="5.0"/><path d="M1457.9,1373.1 C1455.6,1373.5 1448.8,1374.9 1444.3,1375.8 C1439.8,1376.7 1433.0,1378.0 1430.7,1378.5" stroke="#D4D4EA" stroke-width="4.2"/><path d="M1437.5,1377.1 L1431.7,1382.6" stroke="#D4D4EA" stroke-width="3.6"/><path d="M1485.0,1369.0 C1481.6,1371.3 1471.5,1379.2 1464.7,1382.6 C1457.9,1386.0 1450.6,1386.6 1444.3,1389.4 C1438.0,1392.1 1429.6,1397.3 1426.7,1398.9" stroke="#D4D4EA" stroke-width="4.6"/><path d="M1464.7,1382.6 C1463.5,1384.8 1459.7,1392.7 1457.9,1396.1 C1456.1,1399.5 1454.5,1401.8 1453.8,1402.9" stroke="#D4D4EA" stroke-width="4.2"/><path d="M1455.9,1399.5 L1448.8,1403.2" stroke="#D4D4EA" stroke-width="3.6"/><path d="M1512.2,1355.4 C1508.8,1358.8 1498.6,1369.0 1491.8,1375.8 C1485.0,1382.6 1478.3,1389.4 1471.5,1396.1 C1464.7,1402.9 1457.9,1409.7 1451.1,1416.5 C1444.3,1423.3 1437.5,1430.1 1430.7,1436.9 C1423.9,1443.7 1415.3,1451.7 1410.4,1457.2 C1405.4,1462.8 1402.4,1467.9 1400.9,1470.0" stroke="#D4D4EA" stroke-width="5.2"/><path d="M1451.1,1416.5 C1448.8,1417.0 1442.0,1418.8 1437.5,1419.2 C1433.0,1419.7 1426.2,1419.2 1423.9,1419.2" stroke="#D4D4EA" stroke-width="4.2"/><path d="M1430.7,1419.2 L1423.9,1415.0" stroke="#D4D4EA" stroke-width="3.6"/><path d="M1498.6,1375.8 C1495.2,1380.3 1483.9,1393.9 1478.3,1402.9 C1472.6,1412.0 1468.5,1422.2 1464.7,1430.1 C1460.8,1438.0 1456.8,1447.1 1455.2,1450.5" stroke="#D4D4EA" stroke-width="4.6"/><path d="M1444.3,1402.9 C1442.0,1405.2 1435.3,1412.0 1430.7,1416.5 C1426.2,1421.0 1421.7,1425.6 1417.2,1430.1 C1412.6,1434.6 1408.1,1440.3 1403.6,1443.7 C1399.1,1447.1 1392.3,1449.3 1390.0,1450.5" stroke="#D4D4EA" stroke-width="4.6"/><path d="M1417.2,1416.5 C1414.9,1416.7 1406.5,1417.4 1403.6,1417.9 C1400.6,1418.3 1400.2,1419.0 1399.5,1419.2" stroke="#D4D4EA" stroke-width="4.2"/><path d="M1401.5,1418.5 L1396.4,1424.7" stroke="#D4D4EA" stroke-width="3.6"/><path d="M1485.0,1416.5 C1482.8,1419.9 1475.5,1430.1 1471.5,1436.9 C1467.4,1443.7 1463.3,1451.7 1460.6,1457.2 C1457.9,1462.8 1456.1,1467.9 1455.2,1470.0" stroke="#D4D4EA" stroke-width="4.6"/><path d="M1528.5,1246.8 C1523.5,1249.1 1508.1,1257.0 1498.6,1260.4 C1489.1,1263.8 1480.5,1265.1 1471.5,1267.2 C1462.4,1269.2 1452.2,1271.7 1444.3,1272.6 C1436.4,1273.5 1427.3,1272.6 1423.9,1272.6" stroke="#E6E6EA" stroke-width="4.6"/><path d="M1528.5,1260.4 C1524.6,1262.6 1512.7,1270.5 1505.4,1273.9 C1498.2,1277.3 1493.0,1277.8 1485.0,1280.7 C1477.1,1283.7 1466.9,1288.4 1457.9,1291.6 C1448.8,1294.8 1439.8,1297.5 1430.7,1299.7 C1421.7,1302.0 1410.4,1303.4 1403.6,1305.2 C1396.8,1307.0 1392.3,1309.7 1390.0,1310.6" stroke="#E6E6EA" stroke-width="4.8"/><path d="M1539.4,1280.7 C1536.0,1281.9 1524.6,1285.3 1519.0,1287.5 C1513.3,1289.8 1507.7,1293.2 1505.4,1294.3" stroke="#E6E6EA" stroke-width="4.2"/><path d="M1546.1,1294.3 C1542.7,1296.6 1533.7,1305.2 1525.8,1307.9 C1517.9,1310.6 1507.7,1309.5 1498.6,1310.6 C1489.6,1311.7 1480.5,1313.3 1471.5,1314.7 C1462.4,1316.0 1453.4,1317.2 1444.3,1318.8 C1435.3,1320.3 1426.2,1322.6 1417.2,1324.2 C1408.1,1325.8 1394.5,1327.6 1390.0,1328.3" stroke="#E6E6EA" stroke-width="4.8"/><path d="M1390.0,1291.6 C1393.4,1290.5 1403.6,1286.6 1410.4,1284.8 C1417.2,1283.0 1427.3,1281.4 1430.7,1280.7" stroke="#E6E6EA" stroke-width="4.2"/><path d="M1396.6,1289.4 L1391.5,1295.5" stroke="#E6E6EA" stroke-width="3.6"/><path d="M1552.9,1240.0 C1554.3,1246.8 1559.5,1271.2 1561.1,1280.7 C1562.7,1290.2 1562.2,1294.3 1562.4,1297.0" stroke="#E6E6EA" stroke-width="4.2"/><path d="M1566.5,1240.0 C1567.6,1246.8 1569.9,1268.3 1573.3,1280.7 C1576.7,1293.2 1583.9,1307.9 1586.9,1314.7 C1589.8,1321.5 1590.3,1320.3 1591.0,1321.5" stroke="#E6E6EA" stroke-width="4.4"/><path d="M1580.1,1246.8 C1582.4,1252.4 1589.1,1268.3 1593.7,1280.7 C1598.2,1293.2 1603.4,1305.6 1607.2,1321.5 C1611.1,1337.3 1615.2,1366.7 1616.7,1375.8" stroke="#E6E6EA" stroke-width="4.4"/><path d="M1615.5,1368.9 L1620.8,1374.9" stroke="#E6E6EA" stroke-width="3.6"/><path d="M1573.3,1240.0 C1576.7,1241.8 1585.9,1246.3 1593.7,1250.9 C1601.5,1255.4 1615.6,1264.4 1620.0,1267.2" stroke="#B8DDD4" stroke-width="4.8"/><path d="M1580.1,1244.1 C1584.6,1246.8 1600.6,1255.4 1607.2,1260.4 C1613.9,1265.3 1617.9,1271.7 1620.0,1273.9" stroke="#B8DDD4" stroke-width="4.6"/><path d="M1525.8,1464.0 C1525.3,1470.8 1524.2,1491.2 1523.1,1504.7 C1521.9,1518.3 1520.8,1531.9 1519.0,1545.5 C1517.2,1559.0 1514.2,1574.9 1512.2,1586.2 C1510.2,1597.5 1508.6,1604.3 1506.8,1613.4 C1505.0,1622.4 1502.7,1633.3 1501.3,1640.5 C1500.0,1647.8 1500.0,1652.3 1498.6,1656.8 C1497.3,1661.3 1494.1,1665.9 1493.2,1667.7" stroke="#D4D4EA" stroke-width="5.2"/><path d="M1525.8,1464.0 C1524.6,1466.3 1521.3,1474.0 1519.0,1477.6 C1516.7,1481.2 1513.3,1484.4 1512.2,1485.7" stroke="#D4D4EA" stroke-width="4.2"/><path d="M1515.6,1481.7 L1514.4,1489.6" stroke="#D4D4EA" stroke-width="3.6"/><path d="M1523.1,1497.9 C1521.3,1499.1 1516.3,1502.5 1512.2,1504.7 C1508.1,1507.0 1503.1,1508.4 1498.6,1511.5 C1494.1,1514.7 1487.3,1521.7 1485.0,1523.7" stroke="#D4D4EA" stroke-width="4.4"/><path d="M1498.6,1511.5 C1497.5,1513.8 1493.2,1519.9 1491.8,1525.1 C1490.5,1530.3 1490.7,1539.8 1490.5,1542.8" stroke="#D4D4EA" stroke-width="4.2"/><path d="M1491.0,1535.8 L1486.3,1542.3" stroke="#D4D4EA" stroke-width="3.6"/><path d="M1519.0,1525.1 C1517.9,1527.4 1514.5,1534.2 1512.2,1538.7 C1509.9,1543.2 1507.2,1548.9 1505.4,1552.3 C1503.6,1555.6 1502.0,1557.9 1501.3,1559.0" stroke="#D4D4EA" stroke-width="4.2"/><path d="M1503.4,1555.6 L1503.5,1563.6" stroke="#D4D4EA" stroke-width="3.6"/><path d="M1516.3,1559.0 C1515.1,1560.9 1512.4,1566.1 1509.5,1569.9 C1506.5,1573.8 1500.4,1580.1 1498.6,1582.1" stroke="#D4D4EA" stroke-width="4.4"/><path d="M1509.5,1572.6 C1507.7,1576.0 1502.2,1586.9 1498.6,1593.0 C1495.0,1599.1 1489.6,1606.6 1487.8,1609.3" stroke="#D4D4EA" stroke-width="4.2"/><path d="M1491.6,1603.5 L1491.3,1611.5" stroke="#D4D4EA" stroke-width="3.6"/><path d="M1506.8,1586.2 C1505.4,1588.5 1500.4,1595.7 1498.6,1599.8 C1496.8,1603.9 1496.4,1608.8 1495.9,1610.6" stroke="#D4D4EA" stroke-width="4.2"/><path d="M1497.3,1605.2 L1491.6,1610.8" stroke="#D4D4EA" stroke-width="3.6"/><path d="M1508.1,1613.4 C1507.7,1615.6 1507.0,1621.3 1505.4,1626.9 C1503.8,1632.6 1502.0,1641.6 1498.6,1647.3 C1495.2,1653.0 1487.3,1658.6 1485.0,1660.9" stroke="#D4D4EA" stroke-width="4.4"/><path d="M1490.0,1655.9 L1482.2,1657.8" stroke="#D4D4EA" stroke-width="3.6"/><path d="M1506.8,1626.9 L1509.5,1643.2" stroke="#D4D4EA" stroke-width="4.2"/><path d="M1508.3,1636.3 L1513.6,1642.4" stroke="#D4D4EA" stroke-width="3.6"/><path d="M1505.4,1640.5 L1504.7,1658.2" stroke="#D4D4EA" stroke-width="4.2"/><path d="M1565.2,1464.0 C1564.9,1468.5 1564.2,1482.1 1563.8,1491.2 C1563.3,1500.2 1563.1,1510.4 1562.4,1518.3 C1561.8,1526.2 1560.9,1531.9 1559.7,1538.7 C1558.6,1545.5 1556.8,1552.3 1555.6,1559.0 C1554.5,1565.8 1553.4,1576.0 1552.9,1579.4" stroke="#D4D4EA" stroke-width="5.0"/><path d="M1563.8,1491.2 C1562.0,1493.0 1555.9,1498.6 1552.9,1502.0 C1550.0,1505.4 1547.3,1509.9 1546.1,1511.5" stroke="#D4D4EA" stroke-width="4.2"/><path d="M1549.5,1506.8 L1542.2,1509.9" stroke="#D4D4EA" stroke-width="3.6"/><path d="M1562.4,1504.7 C1564.2,1506.5 1570.4,1512.2 1573.3,1515.6 C1576.2,1519.0 1579.0,1523.5 1580.1,1525.1" stroke="#D4D4EA" stroke-width="4.2"/><path d="M1576.7,1520.3 L1577.3,1528.3" stroke="#D4D4EA" stroke-width="3.6"/><path d="M1559.7,1538.7 C1558.1,1539.8 1552.5,1543.2 1550.2,1545.5 C1548.0,1547.7 1546.8,1551.1 1546.1,1552.3" stroke="#D4D4EA" stroke-width="4.2"/><path d="M1548.2,1548.9 L1541.1,1552.6" stroke="#D4D4EA" stroke-width="3.6"/><path d="M1562.4,1531.9 C1563.6,1534.2 1566.7,1541.4 1569.2,1545.5 C1571.7,1549.5 1576.0,1554.5 1577.4,1556.3" stroke="#D4D4EA" stroke-width="4.2"/><path d="M1573.3,1550.9 L1580.7,1553.8" stroke="#D4D4EA" stroke-width="3.6"/><path d="M1558.4,1545.5 C1558.4,1550.0 1558.4,1567.0 1558.4,1572.6 C1558.4,1578.3 1558.4,1578.3 1558.4,1579.4" stroke="#D4D4EA" stroke-width="4.2"/><path d="M1552.9,1464.0 C1552.5,1466.3 1551.6,1473.1 1550.2,1477.6 C1548.9,1482.1 1545.7,1488.9 1544.8,1491.2" stroke="#D4D4EA" stroke-width="4.2"/><path d="M1547.4,1484.7 L1548.7,1492.5" stroke="#D4D4EA" stroke-width="3.6"/><path d="M1600.5,1464.0 C1600.0,1468.5 1597.7,1482.1 1597.7,1491.2 C1597.7,1500.2 1599.3,1510.6 1600.5,1518.3 C1601.6,1526.0 1603.8,1534.2 1604.5,1537.3" stroke="#D4D4EA" stroke-width="4.8"/><path d="M1607.2,1464.0 C1608.1,1468.5 1610.5,1483.2 1612.7,1491.2 C1614.8,1499.1 1618.8,1508.1 1620.0,1511.5" stroke="#D4D4EA" stroke-width="4.6"/><path d="M1607.2,1504.7 C1607.7,1509.3 1609.1,1526.9 1610.0,1531.9 C1610.9,1536.9 1612.2,1534.2 1612.7,1534.6" stroke="#D4D4EA" stroke-width="4.2"/><path d="M1464.7,1464.0 C1465.4,1465.1 1467.6,1468.5 1468.8,1470.8 C1469.9,1473.1 1471.0,1476.4 1471.5,1477.6" stroke="#D4D4EA" stroke-width="4.2"/><path d="M1470.1,1474.2 L1476.5,1479.0" stroke="#D4D4EA" stroke-width="3.6"/><path d="M1390.0,1477.6 C1391.4,1476.4 1395.9,1473.1 1398.1,1470.8 C1400.4,1468.5 1402.7,1465.1 1403.6,1464.0" stroke="#D4D4EA" stroke-width="4.2"/><path d="M1394.1,1474.2 L1391.5,1481.8" stroke="#D4D4EA" stroke-width="3.6"/><path d="M1399.5,1484.4 L1400.9,1470.8" stroke="#D4D4EA" stroke-width="4.2"/><path d="M1400.2,1477.6 L1395.3,1483.9" stroke="#D4D4EA" stroke-width="3.6"/><path d="M1543.4,1464.0 C1543.7,1466.3 1543.7,1474.2 1544.8,1477.6 C1545.9,1481.0 1549.3,1483.2 1550.2,1484.4" stroke="#D4D4EA" stroke-width="4.2"/><path d="M1547.5,1481.0 L1555.0,1483.7" stroke="#D4D4EA" stroke-width="3.6"/><path d="M1603.4,1440.0 C1606.4,1444.5 1615.9,1457.0 1621.1,1467.2 C1626.3,1477.3 1630.8,1489.8 1634.7,1501.1 C1638.5,1512.4 1640.8,1523.7 1644.2,1535.0 C1647.6,1546.4 1651.9,1557.7 1655.0,1569.0 C1658.2,1580.3 1660.9,1592.7 1663.2,1602.9 C1665.5,1613.1 1667.0,1622.2 1668.6,1630.1 C1670.2,1638.0 1672.0,1647.1 1672.7,1650.5" stroke="#D4D4EA" stroke-width="5.0"/><path d="M1603.4,1440.0 C1606.4,1442.3 1614.8,1449.1 1621.1,1453.6 C1627.4,1458.1 1634.7,1462.6 1641.5,1467.2 C1648.3,1471.7 1656.6,1476.9 1661.8,1480.7 C1667.0,1484.6 1670.9,1488.7 1672.7,1490.2" stroke="#D4D4EA" stroke-width="4.6"/><path d="M1641.5,1467.2 L1648.3,1476.7" stroke="#D4D4EA" stroke-width="4.2"/><path d="M1644.9,1471.9 L1645.4,1479.9" stroke="#D4D4EA" stroke-width="3.6"/><path d="M1621.1,1467.2 C1624.5,1470.5 1634.7,1481.9 1641.5,1487.5 C1648.3,1493.2 1656.2,1496.6 1661.8,1501.1 C1667.5,1505.6 1671.8,1510.8 1675.4,1514.7 C1679.0,1518.5 1682.2,1522.6 1683.6,1524.2" stroke="#D4D4EA" stroke-width="4.6"/><path d="M1634.7,1497.0 C1636.3,1497.7 1641.0,1499.5 1644.2,1501.1 C1647.4,1502.7 1652.1,1505.6 1653.7,1506.5" stroke="#D4D4EA" stroke-width="4.2"/><path d="M1648.9,1503.8 L1652.8,1510.8" stroke="#D4D4EA" stroke-width="3.6"/><path d="M1661.8,1501.1 C1663.0,1503.4 1666.6,1510.2 1668.6,1514.7 C1670.7,1519.2 1673.1,1526.0 1674.1,1528.3" stroke="#D4D4EA" stroke-width="4.2"/><path d="M1671.5,1521.8 L1670.1,1529.6" stroke="#D4D4EA" stroke-width="3.6"/><path d="M1592.6,1440.0 C1593.5,1444.5 1595.5,1458.1 1598.0,1467.2 C1600.5,1476.2 1604.4,1486.4 1607.5,1494.3 C1610.7,1502.2 1614.3,1509.0 1617.0,1514.7 C1619.7,1520.3 1622.7,1526.0 1623.8,1528.3" stroke="#D4D4EA" stroke-width="4.6"/><path d="M1607.5,1501.1 C1606.8,1503.4 1604.1,1509.0 1603.4,1514.7 C1602.8,1520.3 1603.4,1531.6 1603.4,1535.0" stroke="#D4D4EA" stroke-width="4.2"/><path d="M1598.0,1467.2 C1597.6,1469.4 1596.0,1477.1 1595.3,1480.7 C1594.6,1484.4 1594.2,1487.5 1593.9,1488.9" stroke="#D4D4EA" stroke-width="4.2"/><path d="M1594.6,1484.8 L1597.6,1492.2" stroke="#D4D4EA" stroke-width="3.6"/><path d="M1614.3,1487.5 C1615.7,1489.8 1620.2,1497.0 1622.5,1501.1 C1624.7,1505.2 1627.0,1510.2 1627.9,1512.0" stroke="#D4D4EA" stroke-width="4.2"/><path d="M1625.2,1506.5 L1624.5,1514.5" stroke="#D4D4EA" stroke-width="3.6"/><path d="M1573.6,1440.0 C1572.4,1444.5 1568.8,1458.1 1566.8,1467.2 C1564.8,1476.2 1562.3,1489.8 1561.4,1494.3" stroke="#D4D4EA" stroke-width="4.6"/><path d="M1560.0,1494.3 C1562.3,1496.6 1570.2,1505.2 1573.6,1507.9 C1577.0,1510.6 1579.2,1510.2 1580.4,1510.6" stroke="#D4D4EA" stroke-width="4.2"/><path d="M1577.0,1509.2 L1584.9,1507.9" stroke="#D4D4EA" stroke-width="3.6"/><path d="M1560.0,1514.7 C1562.3,1515.8 1570.2,1519.2 1573.6,1521.5 C1577.0,1523.7 1579.2,1527.1 1580.4,1528.3" stroke="#D4D4EA" stroke-width="4.2"/><path d="M1577.0,1524.9 L1578.8,1532.6" stroke="#D4D4EA" stroke-width="3.6"/><path d="M1560.0,1535.0 C1561.8,1537.3 1568.6,1545.2 1570.9,1548.6 C1573.1,1552.0 1573.1,1554.3 1573.6,1555.4" stroke="#D4D4EA" stroke-width="4.2"/><path d="M1572.2,1552.0 L1570.9,1559.9" stroke="#D4D4EA" stroke-width="3.6"/><path d="M1644.2,1535.0 C1646.0,1538.4 1652.8,1551.3 1655.0,1555.4 C1657.3,1559.5 1657.3,1558.8 1657.8,1559.5" stroke="#D4D4EA" stroke-width="4.2"/><path d="M1655.0,1569.0 C1656.9,1571.3 1663.4,1578.7 1665.9,1582.6 C1668.4,1586.4 1669.3,1590.5 1670.0,1592.1" stroke="#D4D4EA" stroke-width="4.2"/><path d="M1667.9,1587.3 L1674.5,1591.9" stroke="#D4D4EA" stroke-width="3.6"/><path d="M1663.2,1602.9 C1664.5,1605.2 1669.1,1613.1 1671.3,1616.5 C1673.6,1619.9 1675.9,1622.2 1676.8,1623.3" stroke="#D4D4EA" stroke-width="4.2"/><path d="M1674.1,1619.9 L1675.0,1627.8" stroke="#D4D4EA" stroke-width="3.6"/><path d="M1668.6,1630.1 C1670.0,1631.2 1674.7,1634.4 1676.8,1636.9 C1678.8,1639.4 1680.2,1643.7 1680.8,1645.0" stroke="#D4D4EA" stroke-width="4.2"/><path d="M1678.8,1641.0 L1685.6,1645.2" stroke="#D4D4EA" stroke-width="3.6"/><path d="M1722.9,1440.0 C1725.2,1443.4 1732.0,1453.6 1736.5,1460.4 C1741.0,1467.2 1746.0,1474.6 1750.1,1480.7 C1754.2,1486.8 1759.1,1494.3 1761.0,1497.0" stroke="#B8DDD4" stroke-width="4.6"/><path d="M1736.5,1460.4 L1752.8,1468.5" stroke="#B8DDD4" stroke-width="4.2"/><path d="M1746.5,1465.4 L1750.8,1472.2" stroke="#B8DDD4" stroke-width="3.6"/><path d="M1336.5,1090.0 C1333.1,1087.4 1322.9,1080.0 1316.1,1074.5 C1309.4,1069.0 1302.6,1064.3 1295.8,1056.9 C1289.0,1049.4 1281.1,1037.6 1275.4,1029.7 C1269.8,1021.8 1265.7,1016.1 1261.8,1009.4 C1258.0,1002.6 1254.6,995.8 1252.3,989.0 C1250.1,982.2 1248.7,974.3 1248.3,968.6 C1247.8,963.0 1248.5,958.7 1249.6,955.0 C1250.7,951.4 1254.1,948.3 1255.0,946.9" stroke="#E2DABC" stroke-width="5.0"/><path d="M1249.6,955.0 C1248.7,953.9 1245.8,949.6 1244.2,948.3 C1242.6,946.9 1240.8,947.1 1240.1,946.9" stroke="#E2DABC" stroke-width="4.2"/><path d="M1242.1,947.6 L1237.0,941.5" stroke="#E2DABC" stroke-width="3.6"/><path d="M1255.0,946.9 L1257.8,949.6" stroke="#E2DABC" stroke-width="4.2"/><path d="M1256.4,948.3 L1248.6,946.4" stroke="#E2DABC" stroke-width="3.6"/><path d="M1252.3,989.0 C1250.1,986.7 1242.4,979.9 1238.8,975.4 C1235.1,970.9 1232.9,965.7 1230.6,961.8 C1228.3,958.0 1226.1,953.9 1225.2,952.3" stroke="#E2DABC" stroke-width="4.6"/><path d="M1230.6,961.8 C1229.2,961.2 1224.3,958.9 1222.5,957.8 C1220.6,956.6 1220.2,955.5 1219.7,955.0" stroke="#E2DABC" stroke-width="4.2"/><path d="M1221.1,956.4 L1219.2,948.6" stroke="#E2DABC" stroke-width="3.6"/><path d="M1295.8,1056.9 C1292.4,1054.6 1282.2,1047.8 1275.4,1043.3 C1268.6,1038.8 1261.8,1034.7 1255.0,1029.7 C1248.3,1024.7 1241.5,1018.0 1234.7,1013.4 C1227.9,1008.9 1221.1,1005.5 1214.3,1002.6 C1207.5,999.6 1197.3,996.9 1193.9,995.8" stroke="#E2DABC" stroke-width="4.8"/><path d="M1214.3,1002.6 C1212.0,1002.6 1204.4,1002.6 1200.7,1002.6 C1197.1,1002.6 1193.9,1002.6 1192.6,1002.6" stroke="#E2DABC" stroke-width="4.2"/><path d="M1196.7,1002.6 L1189.8,998.4" stroke="#E2DABC" stroke-width="3.6"/><path d="M1234.7,1013.4 C1233.5,1011.6 1229.2,1005.3 1227.9,1002.6 C1226.5,999.9 1226.8,998.0 1226.5,997.1" stroke="#E2DABC" stroke-width="4.2"/><path d="M1227.2,999.9 L1229.6,992.2" stroke="#E2DABC" stroke-width="3.6"/><path d="M1309.4,1070.5 C1304.8,1068.2 1290.1,1061.4 1282.2,1056.9 C1274.3,1052.4 1268.6,1046.9 1261.8,1043.3 C1255.0,1039.7 1249.4,1036.5 1241.5,1035.2 C1233.5,1033.8 1218.8,1035.2 1214.3,1035.2" stroke="#E2DABC" stroke-width="4.8"/><path d="M1241.5,1035.2 L1227.9,1027.0" stroke="#E2DABC" stroke-width="4.2"/><path d="M1233.9,1030.6 L1225.9,1030.7" stroke="#E2DABC" stroke-width="3.6"/><path d="M1255.0,1029.7 L1234.7,1018.9" stroke="#E2DABC" stroke-width="4.2"/><path d="M1240.9,1022.2 L1236.8,1015.3" stroke="#E2DABC" stroke-width="3.6"/><path d="M1268.6,1033.8 L1267.3,1022.9" stroke="#E2DABC" stroke-width="4.2"/><path d="M1267.9,1028.4 L1271.2,1021.1" stroke="#E2DABC" stroke-width="3.6"/><path d="M1275.4,1029.7 C1277.7,1028.6 1286.5,1024.7 1289.0,1022.9 C1291.5,1021.1 1290.1,1019.5 1290.3,1018.9" stroke="#E2DABC" stroke-width="4.2"/><path d="M1281.7,1026.6 L1273.7,1025.9" stroke="#E2DABC" stroke-width="3.6"/><path d="M1295.8,1056.9 C1295.8,1054.6 1296.2,1047.6 1295.8,1043.3 C1295.3,1039.0 1293.5,1033.1 1293.1,1031.1" stroke="#E2DABC" stroke-width="4.2"/><path d="M1294.4,1037.2 L1288.9,1031.4" stroke="#E2DABC" stroke-width="3.6"/><path d="M1316.1,1074.5 C1312.7,1074.1 1302.6,1072.7 1295.8,1071.8 C1289.0,1070.9 1282.0,1069.8 1275.4,1069.1 C1268.8,1068.4 1259.6,1068.0 1256.4,1067.7" stroke="#E2DABC" stroke-width="4.6"/><path d="M1282.2,1077.2 L1268.6,1077.2" stroke="#E2DABC" stroke-width="4.2"/><path d="M1390.0,941.5 C1385.6,938.8 1370.3,929.7 1363.7,925.2 C1357.0,920.6 1354.6,917.7 1350.1,914.3 C1345.6,910.9 1340.8,907.3 1336.5,904.8 C1332.2,902.3 1326.3,900.3 1324.3,899.4" stroke="#E6E6EA" stroke-width="4.6"/><path d="M1336.5,904.8 L1331.1,895.3" stroke="#E6E6EA" stroke-width="4.2"/><path d="M1333.8,900.1 L1334.0,892.1" stroke="#E6E6EA" stroke-width="3.6"/><path d="M1390.0,948.3 C1385.6,947.6 1371.7,945.3 1363.7,944.2 C1355.7,943.1 1345.6,941.9 1341.9,941.5" stroke="#E6E6EA" stroke-width="4.6"/><path d="M1363.7,944.2 L1341.9,948.3" stroke="#E6E6EA" stroke-width="4.2"/><path d="M1348.8,947.0 L1342.9,952.3" stroke="#E6E6EA" stroke-width="3.6"/><path d="M1390.0,934.7 C1385.6,931.7 1373.5,919.7 1363.7,917.0 C1353.8,914.3 1336.5,918.2 1331.1,918.4" stroke="#E6E6EA" stroke-width="4.4"/><path d="M1338.1,918.1 L1331.4,922.6" stroke="#E6E6EA" stroke-width="3.6"/><path d="M1390.0,984.9 C1387.9,984.5 1380.3,982.4 1377.2,982.2 C1374.2,982.0 1372.7,983.3 1371.8,983.6" stroke="#E6E6EA" stroke-width="4.2"/><path d="M1370.5,1033.8 C1372.0,1033.6 1376.7,1032.9 1380.0,1032.4 C1383.2,1032.0 1388.3,1031.3 1390.0,1031.1" stroke="#E6E6EA" stroke-width="4.2"/><path d="M1375.2,1033.1 L1369.0,1038.2" stroke="#E6E6EA" stroke-width="3.6"/><path d="M1509.1,1021.5 C1505.9,1018.1 1497.8,1006.8 1490.1,1001.1 C1482.4,995.4 1472.0,992.5 1462.9,987.5 C1453.9,982.5 1444.8,975.8 1435.8,971.2 C1426.7,966.7 1417.7,963.8 1408.6,960.4 C1399.6,957.0 1392.8,953.1 1381.5,950.9 C1370.2,948.6 1347.5,947.5 1340.7,946.8" stroke="#E6E6EA" stroke-width="4.8"/><path d="M1509.1,1028.3 C1505.9,1024.9 1497.8,1013.1 1490.1,1007.9 C1482.4,1002.7 1472.0,999.7 1462.9,997.0 C1453.9,994.3 1444.8,993.0 1435.8,991.6 C1426.7,990.2 1418.6,990.0 1408.6,988.9 C1398.7,987.7 1381.5,985.5 1376.0,984.8" stroke="#E6E6EA" stroke-width="4.6"/><path d="M1490.1,1007.9 C1487.8,1007.4 1481.5,1005.6 1476.5,1005.2 C1471.5,1004.7 1462.9,1005.2 1460.2,1005.2" stroke="#E6E6EA" stroke-width="4.2"/><path d="M1506.4,1035.0 C1503.7,1033.9 1496.2,1030.5 1490.1,1028.3 C1484.0,1026.0 1476.5,1023.5 1469.7,1021.5 C1462.9,1019.4 1454.1,1017.8 1449.4,1016.0 C1444.6,1014.2 1442.6,1011.5 1441.2,1010.6" stroke="#E6E6EA" stroke-width="4.6"/><path d="M1469.7,1021.5 L1462.9,1007.9" stroke="#E6E6EA" stroke-width="4.2"/><path d="M1506.4,1048.6 C1503.7,1047.5 1497.3,1044.1 1490.1,1041.8 C1482.8,1039.6 1472.0,1037.3 1462.9,1035.0 C1453.9,1032.8 1444.8,1030.1 1435.8,1028.3 C1426.7,1026.4 1417.7,1025.3 1408.6,1024.2 C1399.6,1023.1 1387.8,1020.1 1381.5,1021.5 C1375.1,1022.8 1372.4,1030.5 1370.6,1032.3" stroke="#E6E6EA" stroke-width="4.6"/><path d="M1503.7,1062.2 C1500.3,1061.1 1490.1,1057.7 1483.3,1055.4 C1476.5,1053.1 1470.9,1050.7 1462.9,1048.6 C1455.0,1046.6 1444.8,1043.9 1435.8,1043.2 C1426.7,1042.5 1416.1,1043.6 1408.6,1044.5 C1401.2,1045.5 1393.9,1047.9 1391.0,1048.6" stroke="#E6E6EA" stroke-width="4.4"/><path d="M1397.8,1047.0 L1392.1,1052.7" stroke="#E6E6EA" stroke-width="3.6"/><path d="M1503.7,1075.8 C1501.4,1073.5 1494.6,1066.3 1490.1,1062.2 C1485.6,1058.1 1479.9,1054.1 1476.5,1051.3 C1473.1,1048.6 1470.9,1046.8 1469.7,1045.9" stroke="#E6E6EA" stroke-width="4.2"/><path d="M1503.7,1082.6 C1499.1,1081.4 1485.6,1077.8 1476.5,1075.8 C1467.5,1073.7 1457.3,1071.9 1449.4,1070.3 C1441.4,1068.8 1435.8,1067.2 1429.0,1066.3 C1422.2,1065.4 1416.5,1065.1 1408.6,1064.9 C1400.7,1064.7 1386.0,1064.9 1381.5,1064.9" stroke="#E6E6EA" stroke-width="4.6"/><path d="M1503.7,1096.1 C1499.1,1095.0 1485.6,1091.6 1476.5,1089.4 C1467.5,1087.1 1458.4,1083.9 1449.4,1082.6 C1440.3,1081.2 1431.3,1081.2 1422.2,1081.2 C1413.1,1081.2 1402.7,1081.7 1395.0,1082.6 C1387.4,1083.5 1379.2,1086.0 1376.0,1086.6" stroke="#E6E6EA" stroke-width="4.6"/><path d="M1503.7,1102.9 C1499.1,1101.8 1485.6,1097.7 1476.5,1096.1 C1467.5,1094.6 1460.0,1093.9 1449.4,1093.4 C1438.7,1093.0 1418.8,1093.4 1412.7,1093.4" stroke="#E6E6EA" stroke-width="4.2"/><path d="M1503.7,1112.4 C1496.9,1113.1 1474.2,1115.2 1462.9,1116.5 C1451.6,1117.9 1445.5,1119.2 1435.8,1120.6 C1426.0,1121.9 1409.8,1124.0 1404.5,1124.7" stroke="#E6E6EA" stroke-width="4.4"/><path d="M1503.7,1123.3 C1496.9,1124.4 1474.2,1128.3 1462.9,1130.1 C1451.6,1131.9 1444.8,1133.0 1435.8,1134.2 C1426.7,1135.3 1418.8,1136.7 1408.6,1136.9 C1398.4,1137.1 1380.3,1135.7 1374.7,1135.5" stroke="#E6E6EA" stroke-width="4.6"/><path d="M1503.7,1130.1 C1499.1,1131.9 1485.6,1138.2 1476.5,1141.0 C1467.5,1143.7 1458.4,1145.3 1449.4,1146.4 C1440.3,1147.5 1431.3,1147.7 1422.2,1147.7 C1413.1,1147.7 1403.2,1147.5 1395.0,1146.4 C1386.9,1145.3 1376.9,1141.9 1373.3,1141.0" stroke="#E6E6EA" stroke-width="4.6"/><path d="M1503.7,1143.7 C1499.1,1145.0 1485.6,1149.5 1476.5,1151.8 C1467.5,1154.1 1458.4,1156.1 1449.4,1157.2 C1440.3,1158.4 1431.3,1158.6 1422.2,1158.6 C1413.1,1158.6 1399.6,1157.5 1395.0,1157.2" stroke="#E6E6EA" stroke-width="4.4"/><path d="M1402.0,1157.6 L1395.4,1153.1" stroke="#E6E6EA" stroke-width="3.6"/><path d="M1503.7,1157.2 C1499.1,1158.4 1485.6,1161.9 1476.5,1164.0 C1467.5,1166.2 1453.9,1169.0 1449.4,1170.0" stroke="#E6E6EA" stroke-width="4.4"/><path d="M1530.0,1082.6 C1527.9,1083.7 1521.2,1087.1 1517.2,1089.4 C1513.3,1091.6 1508.2,1095.0 1506.4,1096.1" stroke="#E6E6EA" stroke-width="4.2"/><path d="M1530.0,1102.9 L1517.2,1102.9" stroke="#E6E6EA" stroke-width="4.2"/><path d="M1530.0,1116.5 L1517.2,1112.4" stroke="#E6E6EA" stroke-width="4.2"/><path d="M1462.9,987.5 C1460.7,985.3 1453.9,977.3 1449.4,973.9 C1444.8,970.5 1438.0,968.3 1435.8,967.2" stroke="#E6E6EA" stroke-width="4.2"/><path d="M1442.0,970.3 L1437.8,963.5" stroke="#E6E6EA" stroke-width="3.6"/><path d="M1503.7,1107.0 C1496.9,1107.2 1476.5,1107.7 1462.9,1108.4 C1449.4,1109.0 1435.8,1110.2 1422.2,1111.1 C1408.6,1112.0 1395.0,1113.1 1381.5,1113.8 C1367.9,1114.5 1354.3,1114.7 1340.7,1115.2 C1327.2,1115.6 1306.8,1116.3 1300.0,1116.5" stroke="#E8E4D6" stroke-width="5.8"/><path d="M1487.4,940.0 C1489.2,944.2 1494.7,956.7 1498.0,965.0 C1501.3,973.3 1504.7,982.5 1507.0,990.0 C1509.3,997.5 1511.2,1006.7 1512.0,1010.0" stroke="#E0D2DA" stroke-width="6.0"/><path d="M1512.0,1008.0 C1511.8,1010.3 1511.2,1012.5 1511.0,1022.0 C1510.8,1031.5 1511.0,1054.3 1510.5,1065.0 C1510.0,1075.7 1509.2,1079.5 1508.0,1086.0 C1506.8,1092.5 1503.7,1095.7 1503.5,1104.0 C1503.3,1112.3 1505.5,1123.7 1507.0,1136.0 C1508.5,1148.3 1510.9,1164.0 1512.6,1178.0 C1514.3,1192.0 1515.1,1210.8 1517.0,1220.0 C1518.9,1229.2 1521.7,1229.3 1524.0,1233.0 C1526.3,1236.7 1529.8,1240.5 1531.0,1242.0" stroke="#DCDCE8" stroke-width="6.0"/><path d="M1350.0,1117.5 C1343.4,1117.7 1323.5,1118.4 1310.1,1118.9 C1296.6,1119.3 1280.7,1119.8 1269.4,1120.2 C1258.0,1120.7 1251.3,1120.9 1242.2,1121.6 C1233.1,1122.3 1223.2,1123.9 1215.0,1124.3 C1206.9,1124.8 1196.9,1124.3 1193.3,1124.3" stroke="#E2DABC" stroke-width="5.4"/><path d="M1269.4,1120.2 C1267.1,1118.7 1259.2,1114.6 1255.8,1110.7 C1252.4,1106.9 1251.0,1100.1 1249.0,1097.2 C1247.0,1094.2 1244.5,1093.8 1243.6,1093.1" stroke="#E2DABC" stroke-width="4.2"/><path d="M1246.3,1095.1 L1238.3,1094.4" stroke="#E2DABC" stroke-width="3.6"/><path d="M1255.8,1110.7 L1251.7,1110.7" stroke="#E2DABC" stroke-width="4.2"/><path d="M1253.7,1110.7 L1246.9,1114.9" stroke="#E2DABC" stroke-width="3.6"/><path d="M1242.2,1121.6 C1239.9,1119.8 1232.0,1113.2 1228.6,1110.7 C1225.2,1108.2 1224.1,1108.0 1221.8,1106.7 C1219.6,1105.3 1216.2,1103.3 1215.0,1102.6" stroke="#E2DABC" stroke-width="4.4"/><path d="M1215.0,1124.3 C1212.8,1123.9 1205.1,1122.5 1201.5,1121.6 C1197.8,1120.7 1194.7,1119.3 1193.3,1118.9" stroke="#E2DABC" stroke-width="4.2"/><path d="M1197.4,1120.2 L1192.2,1114.1" stroke="#E2DABC" stroke-width="3.6"/><path d="M1215.0,1124.3 C1212.8,1125.4 1204.9,1128.2 1201.5,1131.1 C1198.1,1134.0 1195.8,1140.2 1194.7,1142.0" stroke="#E2DABC" stroke-width="4.2"/><path d="M1198.1,1136.5 L1198.0,1144.5" stroke="#E2DABC" stroke-width="3.6"/><path d="M1215.0,1127.0 C1216.9,1128.2 1223.6,1132.5 1225.9,1133.8 C1228.2,1135.2 1228.2,1134.9 1228.6,1135.2" stroke="#E2DABC" stroke-width="4.2"/><path d="M1220.5,1130.4 L1212.5,1130.4" stroke="#E2DABC" stroke-width="3.6"/><path d="M1337.2,1135.2 C1332.7,1136.8 1319.1,1142.0 1310.1,1144.7 C1301.0,1147.4 1292.0,1149.4 1282.9,1151.5 C1273.9,1153.5 1264.8,1155.1 1255.8,1156.9 C1246.7,1158.7 1237.7,1160.5 1228.6,1162.3 C1219.6,1164.1 1210.5,1165.5 1201.5,1167.8 C1192.4,1170.0 1182.2,1173.6 1174.3,1175.9 C1166.4,1178.2 1157.3,1180.4 1153.9,1181.3" stroke="#E2DABC" stroke-width="5.2"/><path d="M1296.5,1146.0 C1294.2,1145.6 1287.0,1144.2 1282.9,1143.3 C1278.9,1142.4 1273.9,1141.1 1272.1,1140.6" stroke="#E2DABC" stroke-width="4.2"/><path d="M1277.5,1142.0 L1269.9,1144.4" stroke="#E2DABC" stroke-width="3.6"/><path d="M1255.8,1156.9 C1253.5,1156.0 1245.1,1153.3 1242.2,1151.5 C1239.3,1149.7 1238.8,1146.9 1238.1,1146.0" stroke="#E2DABC" stroke-width="4.2"/><path d="M1240.2,1148.8 L1232.7,1145.8" stroke="#E2DABC" stroke-width="3.6"/><path d="M1228.6,1162.3 L1208.3,1159.6" stroke="#E2DABC" stroke-width="4.2"/><path d="M1215.2,1160.5 L1207.9,1163.8" stroke="#E2DABC" stroke-width="3.6"/><path d="M1201.5,1167.8 C1199.2,1167.3 1192.2,1165.5 1187.9,1165.0 C1183.6,1164.6 1177.7,1165.0 1175.7,1165.0" stroke="#E2DABC" stroke-width="4.2"/><path d="M1181.8,1165.0 L1175.0,1169.2" stroke="#E2DABC" stroke-width="3.6"/><path d="M1310.1,1144.7 C1301.0,1145.8 1267.8,1150.3 1255.8,1151.5 C1243.8,1152.6 1241.1,1151.5 1238.1,1151.5" stroke="#E2DABC" stroke-width="4.4"/><path d="M1245.1,1151.5 L1238.3,1147.3" stroke="#E2DABC" stroke-width="3.6"/><path d="M1242.2,1165.0 C1237.7,1167.3 1224.1,1174.1 1215.0,1178.6 C1206.0,1183.1 1195.8,1187.7 1187.9,1192.2 C1180.0,1196.7 1172.5,1202.4 1167.5,1205.8 C1162.5,1209.2 1159.6,1211.4 1158.0,1212.6" stroke="#E2DABC" stroke-width="4.8"/><path d="M1215.0,1178.6 C1213.9,1180.9 1210.5,1188.1 1208.3,1192.2 C1206.0,1196.3 1202.6,1201.3 1201.5,1203.1" stroke="#E2DABC" stroke-width="4.2"/><path d="M1204.9,1197.6 L1197.7,1201.2" stroke="#E2DABC" stroke-width="3.6"/><path d="M1228.6,1171.8 C1227.3,1174.1 1222.7,1180.9 1220.5,1185.4 C1218.2,1189.9 1215.9,1196.7 1215.0,1199.0" stroke="#E2DABC" stroke-width="4.2"/><path d="M1217.6,1192.5 L1219.0,1200.4" stroke="#E2DABC" stroke-width="3.6"/><path d="M1187.9,1192.2 C1185.6,1192.7 1178.8,1194.5 1174.3,1194.9 C1169.8,1195.4 1163.0,1194.9 1160.7,1194.9" stroke="#E2DABC" stroke-width="4.2"/><path d="M1167.5,1194.9 L1160.7,1190.7" stroke="#E2DABC" stroke-width="3.6"/><path d="M1323.7,1137.9 C1321.4,1140.2 1313.5,1148.1 1310.1,1151.5 C1306.7,1154.9 1306.0,1153.7 1303.3,1158.3 C1300.6,1162.8 1297.2,1173.0 1293.8,1178.6 C1290.4,1184.3 1287.0,1187.7 1282.9,1192.2 C1278.9,1196.7 1273.9,1202.4 1269.4,1205.8 C1264.8,1209.2 1261.4,1210.3 1255.8,1212.6 C1250.1,1214.8 1242.2,1216.6 1235.4,1219.4 C1228.6,1222.1 1220.7,1226.1 1215.0,1228.9 C1209.4,1231.6 1203.7,1234.5 1201.5,1235.6" stroke="#E2DABC" stroke-width="5.2"/><path d="M1293.8,1178.6 C1294.7,1180.9 1297.2,1187.7 1299.2,1192.2 C1301.3,1196.7 1304.7,1201.9 1306.0,1205.8 C1307.4,1209.6 1307.1,1213.7 1307.4,1215.3" stroke="#E2DABC" stroke-width="4.4"/><path d="M1306.7,1210.5 L1303.5,1217.9" stroke="#E2DABC" stroke-width="3.6"/><path d="M1282.9,1192.2 C1281.8,1194.5 1277.5,1200.8 1276.1,1205.8 C1274.8,1210.8 1275.0,1219.4 1274.8,1222.1" stroke="#E2DABC" stroke-width="4.2"/><path d="M1275.4,1215.1 L1270.6,1221.5" stroke="#E2DABC" stroke-width="3.6"/><path d="M1269.4,1199.0 C1267.1,1198.3 1258.3,1196.5 1255.8,1194.9 C1253.3,1193.3 1254.6,1190.4 1254.4,1189.5" stroke="#E2DABC" stroke-width="4.2"/><path d="M1282.9,1185.4 C1279.5,1186.5 1268.9,1189.7 1262.6,1192.2 C1256.2,1194.7 1247.9,1199.0 1244.9,1200.3" stroke="#E2DABC" stroke-width="4.2"/><path d="M1282.9,1192.2 C1278.4,1195.6 1262.6,1206.9 1255.8,1212.6 C1249.0,1218.2 1246.7,1221.6 1242.2,1226.1 C1237.7,1230.7 1233.1,1235.2 1228.6,1239.7 C1224.1,1244.2 1219.6,1248.8 1215.0,1253.3 C1210.5,1257.8 1206.0,1262.4 1201.5,1266.9 C1196.9,1271.4 1191.7,1274.9 1187.9,1280.5 C1184.0,1286.0 1180.0,1296.7 1178.4,1300.0" stroke="#E2DABC" stroke-width="5.0"/><path d="M1269.4,1205.8 C1267.1,1209.2 1258.3,1220.5 1255.8,1226.1 C1253.3,1231.8 1255.1,1235.0 1254.4,1239.7 C1253.7,1244.5 1252.2,1252.2 1251.7,1254.7" stroke="#E2DABC" stroke-width="4.2"/><path d="M1255.8,1226.1 C1253.5,1228.4 1245.6,1234.1 1242.2,1239.7 C1238.8,1245.4 1237.7,1254.4 1235.4,1260.1 C1233.1,1265.7 1230.0,1270.0 1228.6,1273.7 C1227.3,1277.3 1227.5,1280.5 1227.3,1281.8" stroke="#E2DABC" stroke-width="4.4"/><path d="M1242.2,1239.7 C1239.9,1242.0 1233.1,1248.8 1228.6,1253.3 C1224.1,1257.8 1218.2,1262.1 1215.0,1266.9 C1211.9,1271.6 1210.5,1279.3 1209.6,1281.8" stroke="#E2DABC" stroke-width="4.4"/><path d="M1215.0,1253.3 C1212.8,1253.1 1206.0,1252.2 1201.5,1251.9 C1196.9,1251.7 1192.9,1250.7 1187.9,1251.9 C1182.9,1253.2 1174.3,1258.2 1171.6,1259.4" stroke="#E2DABC" stroke-width="4.2"/><path d="M1201.5,1266.9 C1198.1,1267.6 1187.9,1269.8 1181.1,1271.0 C1174.3,1272.1 1166.4,1273.2 1160.7,1273.7 C1155.1,1274.1 1149.4,1273.7 1147.2,1273.7" stroke="#E2DABC" stroke-width="4.4"/><path d="M1153.9,1273.7 L1147.1,1269.5" stroke="#E2DABC" stroke-width="3.6"/><path d="M1187.9,1280.5 C1185.6,1280.9 1180.0,1282.0 1174.3,1283.2 C1168.7,1284.3 1157.3,1286.6 1153.9,1287.2" stroke="#E2DABC" stroke-width="4.2"/><path d="M1160.8,1285.9 L1153.3,1283.1" stroke="#E2DABC" stroke-width="3.6"/><path d="M1201.5,1266.9 C1200.3,1269.1 1195.8,1274.9 1194.7,1280.5 C1193.5,1286.0 1194.7,1296.7 1194.7,1300.0" stroke="#E2DABC" stroke-width="4.2"/><path d="M1249.0,1239.7 C1247.2,1243.1 1240.2,1253.8 1238.1,1260.1 C1236.1,1266.4 1237.0,1274.8 1236.8,1277.7" stroke="#E2DABC" stroke-width="4.2"/><path d="M1237.3,1270.8 L1241.0,1277.9" stroke="#E2DABC" stroke-width="3.6"/><path d="M1511.8,1156.8 C1505.9,1157.0 1489.2,1157.5 1476.5,1158.1 C1463.8,1158.8 1449.4,1160.0 1435.8,1160.9 C1422.2,1161.8 1401.8,1163.1 1395.0,1163.6" stroke="#E6E6EA" stroke-width="4.4"/><path d="M1402.0,1163.1 L1395.5,1167.7" stroke="#E6E6EA" stroke-width="3.6"/><path d="M1511.8,1170.4 C1505.9,1170.8 1489.2,1172.0 1476.5,1173.1 C1463.8,1174.2 1447.1,1175.6 1435.8,1177.2 C1424.5,1178.7 1416.5,1181.2 1408.6,1182.6 C1400.7,1183.9 1391.6,1184.8 1388.3,1185.3" stroke="#E6E6EA" stroke-width="4.6"/><path d="M1514.5,1183.9 C1508.2,1184.8 1489.6,1187.6 1476.5,1189.4 C1463.4,1191.2 1447.1,1192.8 1435.8,1194.8 C1424.5,1196.8 1415.4,1199.6 1408.6,1201.6 C1401.8,1203.6 1397.3,1206.1 1395.0,1207.0" stroke="#E6E6EA" stroke-width="4.4"/><path d="M1401.5,1204.4 L1396.8,1210.8" stroke="#E6E6EA" stroke-width="3.6"/><path d="M1517.2,1197.5 C1510.5,1198.2 1487.8,1200.0 1476.5,1201.6 C1465.2,1203.2 1458.4,1205.7 1449.4,1207.0 C1440.3,1208.4 1429.4,1209.7 1422.2,1209.7 C1415.0,1209.7 1408.6,1207.5 1405.9,1207.0" stroke="#E6E6EA" stroke-width="4.6"/><path d="M1520.0,1211.1 C1515.0,1211.8 1499.6,1213.6 1490.1,1215.2 C1480.6,1216.8 1472.0,1219.2 1462.9,1220.6 C1453.9,1222.0 1444.8,1222.4 1435.8,1223.3 C1426.7,1224.2 1415.9,1225.1 1408.6,1226.0 C1401.4,1226.9 1395.0,1228.3 1392.3,1228.8" stroke="#E6E6EA" stroke-width="4.4"/><path d="M1399.2,1227.6 L1393.2,1232.8" stroke="#E6E6EA" stroke-width="3.6"/><path d="M1524.0,1224.7 C1518.4,1225.4 1500.3,1227.6 1490.1,1228.8 C1479.9,1229.9 1472.0,1230.6 1462.9,1231.5 C1453.9,1232.4 1440.3,1233.7 1435.8,1234.2" stroke="#E6E6EA" stroke-width="4.2"/><path d="M1442.7,1233.5 L1436.4,1238.3" stroke="#E6E6EA" stroke-width="3.6"/><path d="M1525.4,1238.3 C1519.5,1239.4 1500.5,1243.0 1490.1,1245.0 C1479.7,1247.1 1472.0,1248.7 1462.9,1250.5 C1453.9,1252.3 1444.8,1254.5 1435.8,1255.9 C1426.7,1257.3 1413.1,1258.2 1408.6,1258.6" stroke="#E6E6EA" stroke-width="4.4"/><path d="M1415.6,1257.9 L1409.2,1262.8" stroke="#E6E6EA" stroke-width="3.6"/><path d="M1528.1,1251.8 C1521.8,1253.0 1501.0,1256.6 1490.1,1258.6 C1479.2,1260.7 1472.0,1262.2 1462.9,1264.1 C1453.9,1265.9 1442.6,1268.1 1435.8,1269.5 C1429.0,1270.8 1429.0,1271.3 1422.2,1272.2 C1415.4,1273.1 1399.6,1274.5 1395.0,1274.9" stroke="#E6E6EA" stroke-width="4.6"/><path d="M1528.1,1265.4 C1521.8,1266.5 1501.0,1269.9 1490.1,1272.2 C1479.2,1274.5 1472.0,1276.7 1462.9,1279.0 C1453.9,1281.3 1444.8,1283.7 1435.8,1285.8 C1426.7,1287.8 1417.7,1290.1 1408.6,1291.2 C1399.6,1292.3 1388.5,1293.5 1381.5,1292.6 C1374.5,1291.7 1369.0,1286.9 1366.5,1285.8" stroke="#E6E6EA" stroke-width="4.6"/><path d="M1476.5,1190.7 C1474.2,1188.5 1467.5,1181.7 1462.9,1177.2 C1458.4,1172.6 1451.6,1165.8 1449.4,1163.6" stroke="#E6E6EA" stroke-width="4.2"/><path d="M1435.8,1223.3 C1438.0,1222.4 1444.8,1219.2 1449.4,1217.9 C1453.9,1216.5 1460.7,1215.6 1462.9,1215.2" stroke="#E6E6EA" stroke-width="4.2"/><path d="M1442.3,1220.7 L1437.5,1227.1" stroke="#E6E6EA" stroke-width="3.6"/><path d="M1381.5,1292.6 C1378.1,1293.2 1367.9,1294.4 1361.1,1296.6 C1354.3,1298.9 1347.5,1303.4 1340.7,1306.1 C1333.9,1308.9 1327.2,1310.7 1320.4,1312.9 C1313.6,1315.2 1303.4,1318.6 1300.0,1319.7" stroke="#E6E6EA" stroke-width="4.4"/><path d="M1306.6,1317.5 L1298.8,1315.7" stroke="#E6E6EA" stroke-width="3.6"/><path d="M1408.6,1291.2 C1404.1,1292.6 1390.5,1295.7 1381.5,1299.4 C1372.4,1303.0 1363.4,1308.9 1354.3,1312.9 C1345.3,1317.0 1336.2,1320.4 1327.2,1323.8 C1318.1,1327.2 1304.5,1331.7 1300.0,1333.3" stroke="#E6E6EA" stroke-width="4.4"/><path d="M1306.6,1331.0 L1298.8,1329.3" stroke="#E6E6EA" stroke-width="3.6"/><path d="M1300.0,1340.1 C1304.5,1339.0 1318.1,1335.6 1327.2,1333.3 C1336.2,1331.0 1349.8,1327.6 1354.3,1326.5" stroke="#E6E6EA" stroke-width="4.2"/><path d="M1306.8,1338.4 L1301.2,1344.1" stroke="#E6E6EA" stroke-width="3.6"/><path d="M1530.0,1299.4 C1525.6,1300.5 1512.6,1304.3 1503.7,1306.1 C1494.7,1308.0 1485.6,1309.1 1476.5,1310.2 C1467.5,1311.3 1458.4,1311.3 1449.4,1312.9 C1440.3,1314.5 1431.3,1317.5 1422.2,1319.7 C1413.1,1322.0 1404.1,1324.2 1395.0,1326.5 C1386.0,1328.8 1374.7,1331.0 1367.9,1333.3 C1361.1,1335.6 1356.6,1339.0 1354.3,1340.1" stroke="#D4D4EA" stroke-width="5.2"/><path d="M1503.7,1306.1 C1501.4,1305.0 1494.6,1300.5 1490.1,1299.4 C1485.6,1298.2 1478.8,1299.4 1476.5,1299.4" stroke="#D4D4EA" stroke-width="4.2"/><path d="M1497.4,1303.0 L1505.4,1302.3" stroke="#D4D4EA" stroke-width="3.6"/><path d="M1517.2,1319.7 C1512.7,1320.9 1499.1,1324.2 1490.1,1326.5 C1481.0,1328.8 1472.0,1331.0 1462.9,1333.3 C1453.9,1335.6 1443.7,1338.1 1435.8,1340.1 C1427.9,1342.1 1418.8,1344.6 1415.4,1345.5" stroke="#D4D4EA" stroke-width="4.8"/><path d="M1530.0,1326.5 C1525.6,1328.8 1512.6,1335.6 1503.7,1340.1 C1494.7,1344.6 1485.6,1350.3 1476.5,1353.7 C1467.5,1357.1 1457.3,1358.2 1449.4,1360.5 C1441.4,1362.7 1432.4,1366.1 1429.0,1367.2" stroke="#D4D4EA" stroke-width="4.8"/><path d="M1517.2,1353.7 C1512.7,1354.8 1499.1,1358.2 1490.1,1360.5 C1481.0,1362.7 1472.0,1365.0 1462.9,1367.2 C1453.9,1369.5 1441.4,1371.9 1435.8,1374.0 C1430.1,1376.2 1430.1,1379.0 1429.0,1380.0" stroke="#D4D4EA" stroke-width="4.6"/><path d="M1395.0,1326.5 C1391.6,1327.6 1380.3,1329.9 1374.7,1333.3 C1369.0,1336.7 1363.4,1344.6 1361.1,1346.9" stroke="#D4D4EA" stroke-width="4.2"/><path d="M1366.0,1341.9 L1364.2,1349.7" stroke="#D4D4EA" stroke-width="3.6"/><path d="M1367.9,1340.1 C1366.1,1342.4 1359.3,1351.0 1357.0,1353.7 C1354.8,1356.4 1354.8,1355.9 1354.3,1356.4" stroke="#D4D4EA" stroke-width="4.2"/><path d="M1355.7,1355.0 L1347.9,1356.9" stroke="#D4D4EA" stroke-width="3.6"/><path d="M1530.0,1258.6 C1527.9,1259.8 1521.2,1263.1 1517.2,1265.4 C1513.3,1267.7 1508.2,1271.1 1506.4,1272.2" stroke="#D4D4EA" stroke-width="4.2"/><path d="M1530.0,1279.0 C1527.9,1280.1 1519.9,1283.5 1517.2,1285.8 C1514.6,1288.0 1514.4,1291.4 1513.8,1292.6" stroke="#D4D4EA" stroke-width="4.2"/><path d="M1380.0,1307.2 C1375.6,1308.3 1362.6,1311.2 1353.7,1313.9 C1344.7,1316.7 1331.0,1321.9 1326.5,1323.4" stroke="#E6E6EA" stroke-width="4.4"/><path d="M1333.1,1321.1 L1325.3,1319.4" stroke="#E6E6EA" stroke-width="3.6"/><path d="M1380.0,1315.3 C1374.5,1317.3 1356.9,1323.7 1346.9,1327.5 C1336.8,1331.4 1329.9,1334.1 1319.7,1338.4 C1309.5,1342.7 1291.4,1350.8 1285.8,1353.3" stroke="#E6E6EA" stroke-width="4.6"/><path d="M1319.7,1338.4 C1316.3,1340.0 1304.6,1344.0 1299.4,1347.9 C1294.2,1351.7 1290.3,1359.2 1288.5,1361.5" stroke="#E6E6EA" stroke-width="4.2"/><path d="M1292.9,1356.0 L1285.3,1358.7" stroke="#E6E6EA" stroke-width="3.6"/><path d="M1380.0,1331.6 C1377.9,1332.5 1371.6,1334.5 1367.2,1337.0 C1362.9,1339.5 1355.9,1344.9 1353.7,1346.5" stroke="#D4D4EA" stroke-width="4.4"/><path d="M1359.4,1342.5 L1351.4,1343.0" stroke="#D4D4EA" stroke-width="3.6"/><path d="M1380.0,1337.0 C1377.4,1338.4 1368.2,1342.5 1364.5,1345.2 C1360.8,1347.9 1358.9,1352.0 1357.7,1353.3" stroke="#D4D4EA" stroke-width="4.2"/><path d="M1361.1,1349.2 L1360.0,1357.2" stroke="#D4D4EA" stroke-width="3.6"/><path d="M1380.0,1456.5 C1377.9,1457.6 1370.7,1461.0 1367.2,1463.3 C1363.8,1465.6 1360.5,1469.0 1359.1,1470.1" stroke="#D4D4EA" stroke-width="4.4"/><path d="M1363.2,1466.7 L1355.3,1467.8" stroke="#D4D4EA" stroke-width="3.6"/><path d="M1380.0,1459.2 C1378.3,1461.0 1372.5,1466.7 1370.0,1470.1 C1367.4,1473.5 1365.4,1478.0 1364.5,1479.6" stroke="#D4D4EA" stroke-width="4.2"/><path d="M1367.2,1474.8 L1367.5,1482.8" stroke="#D4D4EA" stroke-width="3.6"/><path d="M1194.8,1280.0 C1193.0,1283.4 1186.9,1295.2 1183.9,1300.4 C1181.0,1305.6 1178.7,1308.5 1177.2,1311.2 C1175.6,1313.9 1174.9,1315.8 1174.4,1316.7" stroke="#E2DABC" stroke-width="4.4"/><path d="M1194.8,1280.0 C1195.0,1282.3 1195.7,1289.7 1196.2,1293.6 C1196.6,1297.4 1197.3,1301.5 1197.5,1303.1" stroke="#E2DABC" stroke-width="4.2"/><path d="M1540.0,1340.0 C1539.0,1346.8 1535.7,1367.2 1534.0,1380.7 C1532.4,1394.3 1531.3,1407.9 1530.0,1421.5 C1528.6,1435.0 1527.0,1448.6 1525.9,1462.2 C1524.8,1475.8 1523.8,1489.4 1523.2,1502.9 C1522.5,1516.5 1522.3,1532.5 1521.8,1543.7 C1521.4,1554.8 1520.7,1565.6 1520.5,1570.0" stroke="#D4D4EA" stroke-width="5.0"/><path d="M1506.9,1340.0 C1503.5,1343.4 1494.4,1354.7 1486.5,1360.4 C1478.6,1366.0 1468.4,1371.0 1459.4,1373.9 C1450.3,1376.9 1436.7,1377.3 1432.2,1378.0" stroke="#D4D4EA" stroke-width="4.8"/><path d="M1459.4,1373.9 C1456.0,1372.8 1443.5,1368.7 1439.0,1367.2 C1434.5,1365.6 1433.3,1364.9 1432.2,1364.4" stroke="#D4D4EA" stroke-width="4.2"/><path d="M1452.7,1371.7 L1457.9,1377.9" stroke="#D4D4EA" stroke-width="3.6"/><path d="M1459.4,1373.9 C1457.1,1375.1 1450.3,1378.7 1445.8,1380.7 C1441.3,1382.8 1434.5,1385.3 1432.2,1386.2" stroke="#D4D4EA" stroke-width="4.2"/><path d="M1438.7,1383.6 L1430.8,1382.2" stroke="#D4D4EA" stroke-width="3.6"/><path d="M1486.5,1360.4 C1483.1,1363.8 1472.9,1375.1 1466.1,1380.7 C1459.4,1386.4 1452.6,1390.9 1445.8,1394.3 C1439.0,1397.7 1428.8,1400.0 1425.4,1401.1" stroke="#D4D4EA" stroke-width="4.6"/><path d="M1445.8,1394.3 C1443.5,1396.6 1436.7,1404.5 1432.2,1407.9 C1427.7,1411.3 1424.1,1412.9 1418.6,1414.7 C1413.2,1416.5 1402.8,1418.1 1399.6,1418.8" stroke="#D4D4EA" stroke-width="4.4"/><path d="M1406.5,1417.3 L1398.9,1414.6" stroke="#D4D4EA" stroke-width="3.6"/><path d="M1445.8,1394.3 C1443.5,1398.8 1436.7,1413.5 1432.2,1421.5 C1427.7,1429.4 1423.1,1436.2 1418.6,1441.8 C1414.1,1447.5 1409.6,1449.8 1405.0,1455.4 C1400.5,1461.1 1395.5,1470.1 1391.5,1475.8 C1387.4,1481.4 1382.4,1487.1 1380.6,1489.4" stroke="#D4D4EA" stroke-width="4.8"/><path d="M1418.6,1414.7 C1416.4,1416.9 1409.6,1424.9 1405.0,1428.3 C1400.5,1431.6 1396.0,1433.0 1391.5,1435.0 C1386.9,1437.1 1380.2,1439.6 1377.9,1440.5" stroke="#D4D4EA" stroke-width="4.2"/><path d="M1384.4,1437.9 L1379.6,1444.3" stroke="#D4D4EA" stroke-width="3.6"/><path d="M1405.0,1455.4 C1402.8,1456.5 1397.1,1459.9 1391.5,1462.2 C1385.8,1464.5 1376.5,1467.6 1371.1,1469.0 C1365.7,1470.3 1360.9,1470.1 1358.9,1470.3" stroke="#D4D4EA" stroke-width="4.4"/><path d="M1365.0,1469.7 L1357.7,1466.3" stroke="#D4D4EA" stroke-width="3.6"/><path d="M1391.5,1462.2 C1388.8,1464.5 1379.7,1472.8 1375.2,1475.8 C1370.6,1478.7 1366.1,1479.2 1364.3,1479.9" stroke="#D4D4EA" stroke-width="4.2"/><path d="M1369.7,1477.8 L1361.9,1476.3" stroke="#D4D4EA" stroke-width="3.6"/><path d="M1399.6,1462.2 C1399.6,1464.5 1399.4,1472.2 1399.6,1475.8 C1399.8,1479.4 1400.7,1482.6 1401.0,1483.9" stroke="#D4D4EA" stroke-width="4.2"/><path d="M1400.3,1479.9 L1405.5,1485.9" stroke="#D4D4EA" stroke-width="3.6"/><path d="M1464.8,1387.5 C1463.9,1389.8 1461.2,1397.7 1459.4,1401.1 C1457.5,1404.5 1454.8,1406.8 1453.9,1407.9" stroke="#D4D4EA" stroke-width="4.2"/><path d="M1456.6,1404.5 L1449.1,1407.2" stroke="#D4D4EA" stroke-width="3.6"/><path d="M1532.7,1367.2 C1529.5,1370.5 1519.1,1380.7 1513.7,1387.5 C1508.2,1394.3 1503.5,1401.1 1500.1,1407.9 C1496.7,1414.7 1496.7,1422.6 1493.3,1428.3 C1489.9,1433.9 1485.4,1438.0 1479.7,1441.8 C1474.1,1445.7 1462.7,1449.8 1459.4,1451.3" stroke="#D4D4EA" stroke-width="4.8"/><path d="M1493.3,1428.3 C1491.0,1432.8 1484.2,1448.6 1479.7,1455.4 C1475.2,1462.2 1469.1,1466.5 1466.1,1469.0 C1463.2,1471.5 1462.7,1470.1 1462.1,1470.3" stroke="#D4D4EA" stroke-width="4.4"/><path d="M1464.1,1469.7 L1456.3,1467.9" stroke="#D4D4EA" stroke-width="3.6"/><path d="M1479.7,1455.4 C1478.6,1457.7 1474.7,1465.4 1472.9,1469.0 C1471.1,1472.6 1469.5,1475.8 1468.9,1477.1" stroke="#D4D4EA" stroke-width="4.2"/><path d="M1470.9,1473.1 L1464.1,1477.3" stroke="#D4D4EA" stroke-width="3.6"/><path d="M1530.0,1394.3 C1530.6,1396.6 1532.9,1402.9 1534.0,1407.9 C1535.2,1412.9 1536.3,1421.5 1536.7,1424.2" stroke="#D4D4EA" stroke-width="4.2"/><path d="M1535.6,1417.3 L1532.6,1424.7" stroke="#D4D4EA" stroke-width="3.6"/><path d="M1525.9,1421.5 C1523.8,1422.6 1516.8,1425.5 1513.7,1428.3 C1510.5,1431.0 1508.0,1436.2 1506.9,1437.8" stroke="#D4D4EA" stroke-width="4.2"/><path d="M1510.3,1433.0 L1502.9,1436.1" stroke="#D4D4EA" stroke-width="3.6"/><path d="M1521.8,1462.2 C1520.5,1464.5 1515.5,1471.7 1513.7,1475.8 C1511.9,1479.9 1511.4,1484.8 1511.0,1486.6" stroke="#D4D4EA" stroke-width="4.2"/><path d="M1512.3,1481.2 L1514.7,1488.8" stroke="#D4D4EA" stroke-width="3.6"/><path d="M1521.8,1496.1 C1519.3,1497.3 1511.6,1500.0 1506.9,1502.9 C1502.1,1505.9 1496.9,1510.4 1493.3,1513.8 C1489.7,1517.2 1486.5,1521.7 1485.2,1523.3" stroke="#D4D4EA" stroke-width="4.4"/><path d="M1521.8,1516.5 C1519.3,1518.8 1512.3,1526.0 1506.9,1530.1 C1501.4,1534.2 1492.2,1539.1 1489.2,1541.0" stroke="#D4D4EA" stroke-width="4.2"/><path d="M1495.2,1537.3 L1487.2,1537.3" stroke="#D4D4EA" stroke-width="3.6"/><path d="M1520.5,1536.9 C1518.2,1539.1 1510.3,1547.1 1506.9,1550.5 C1503.5,1553.8 1501.2,1556.1 1500.1,1557.2" stroke="#D4D4EA" stroke-width="4.2"/><path d="M1503.5,1553.8 L1501.6,1561.6" stroke="#D4D4EA" stroke-width="3.6"/><path d="M1195.1,785.8 C1198.9,785.9 1209.3,785.8 1217.5,786.5 C1225.8,787.2 1235.6,788.2 1244.7,789.9 C1253.7,791.6 1262.8,793.9 1271.8,796.7 C1280.9,799.4 1289.9,802.8 1299.0,806.2 C1308.0,809.6 1317.1,812.7 1326.1,817.0 C1335.2,821.3 1345.4,827.4 1353.3,832.0 C1361.2,836.5 1365.9,840.3 1373.7,844.2 C1381.5,848.0 1395.6,853.2 1400.0,855.0" stroke="#E6C4D6" stroke-width="5.2"/><path d="M1195.1,792.6 C1196.6,792.1 1200.2,790.5 1203.9,789.9 C1207.7,789.2 1215.3,788.7 1217.5,788.5" stroke="#E6C4D6" stroke-width="4.2"/><path d="M1199.5,791.2 L1191.8,789.2" stroke="#E6C4D6" stroke-width="3.6"/><path d="M1227.0,776.3 C1228.8,777.4 1234.9,780.8 1237.9,783.1 C1240.8,785.3 1243.5,788.7 1244.7,789.9" stroke="#E6C4D6" stroke-width="4.2"/><path d="M1232.5,779.7 L1224.5,779.6" stroke="#E6C4D6" stroke-width="3.6"/><path d="M1209.4,800.1 C1213.0,799.9 1223.0,799.3 1231.1,799.4 C1239.2,799.5 1249.2,799.6 1258.3,800.7 C1267.3,801.9 1276.4,803.9 1285.4,806.2 C1294.5,808.4 1304.6,811.6 1312.6,814.3 C1320.5,817.0 1329.5,821.1 1332.9,822.5" stroke="#E6C4D6" stroke-width="4.6"/><path d="M1210.7,821.1 C1214.1,820.6 1223.2,818.4 1231.1,818.4 C1239.0,818.4 1249.2,820.2 1258.3,821.1 C1267.3,822.0 1276.4,823.8 1285.4,823.8 C1294.5,823.8 1304.6,820.9 1312.6,821.1 C1320.5,821.3 1325.0,822.7 1332.9,825.2 C1340.9,827.7 1351.0,832.2 1360.1,836.0 C1369.1,839.9 1380.6,845.3 1387.2,848.3 C1393.9,851.2 1397.9,852.8 1400.0,853.7" stroke="#E6C4D6" stroke-width="5.0"/><path d="M1210.7,827.9 C1214.1,827.9 1223.2,828.1 1231.1,827.9 C1239.0,827.7 1249.2,827.0 1258.3,826.5 C1267.3,826.1 1276.4,826.1 1285.4,825.2 C1294.5,824.3 1308.0,821.8 1312.6,821.1" stroke="#E6C4D6" stroke-width="4.4"/><path d="M1223.0,837.4 C1224.3,836.5 1227.5,833.3 1231.1,832.0 C1234.7,830.6 1239.0,829.9 1244.7,829.2 C1250.3,828.6 1261.6,828.1 1265.0,827.9" stroke="#E6C4D6" stroke-width="4.4"/><path d="M1261.0,842.8 C1262.8,841.9 1266.6,839.0 1271.8,837.4 C1277.0,835.8 1285.4,834.7 1292.2,833.3 C1299.0,832.0 1308.0,830.2 1312.6,829.2 C1317.1,828.3 1318.2,828.1 1319.4,827.9" stroke="#E6C4D6" stroke-width="4.4"/><path d="M1266.4,840.1 L1258.4,839.4" stroke="#E6C4D6" stroke-width="3.6"/><path d="M1265.0,849.6 L1273.2,841.5" stroke="#E6C4D6" stroke-width="4.2"/><path d="M1269.1,845.5 L1271.0,837.8" stroke="#E6C4D6" stroke-width="3.6"/><path d="M1292.2,791.2 C1293.3,791.9 1295.6,793.7 1299.0,795.3 C1302.4,796.9 1306.9,798.5 1312.6,800.7 C1318.2,803.0 1329.5,807.5 1332.9,808.9" stroke="#E6C4D6" stroke-width="4.2"/><path d="M1289.5,802.1 C1292.2,802.8 1300.8,804.6 1305.8,806.2 C1310.8,807.7 1317.1,810.7 1319.4,811.6" stroke="#E6C4D6" stroke-width="4.2"/><path d="M1296.3,803.8 L1288.6,806.2" stroke="#E6C4D6" stroke-width="3.6"/><path d="M1335.6,792.6 C1337.5,793.7 1342.4,797.8 1346.5,799.4 C1350.6,801.0 1357.8,801.6 1360.1,802.1" stroke="#E6C4D6" stroke-width="4.2"/><path d="M1341.1,796.0 L1337.5,788.8" stroke="#E6C4D6" stroke-width="3.6"/><path d="M1354.7,817.0 C1356.0,818.2 1359.6,822.0 1362.8,823.8 C1366.0,825.6 1371.9,827.2 1373.7,827.9" stroke="#E6C4D6" stroke-width="4.2"/><path d="M1358.7,820.4 L1356.2,812.8" stroke="#E6C4D6" stroke-width="3.6"/><path d="M1305.8,760.0 C1306.9,762.3 1309.2,767.9 1312.6,773.6 C1316.0,779.2 1320.5,787.2 1326.1,793.9 C1331.8,800.7 1339.7,808.0 1346.5,814.3 C1353.3,820.6 1360.1,826.3 1366.9,832.0 C1373.7,837.6 1383.8,845.5 1387.2,848.3" stroke="#E6C4D6" stroke-width="4.6"/><path d="M1278.6,760.0 C1280.9,762.3 1287.7,769.1 1292.2,773.6 C1296.7,778.1 1300.1,782.6 1305.8,787.2 C1311.4,791.7 1322.7,798.5 1326.1,800.7" stroke="#E6C4D6" stroke-width="4.4"/><path d="M1283.6,764.9 L1275.8,763.1" stroke="#E6C4D6" stroke-width="3.6"/><path d="M1319.4,760.0 C1321.6,761.8 1328.4,766.3 1332.9,770.9 C1337.5,775.4 1342.0,781.5 1346.5,787.2 C1351.0,792.8 1355.1,799.1 1360.1,804.8 C1365.1,810.5 1373.7,818.4 1376.4,821.1" stroke="#E6C4D6" stroke-width="4.6"/><path d="M1373.7,760.0 C1374.8,763.4 1378.2,773.6 1380.5,780.4 C1382.7,787.2 1385.0,793.9 1387.2,800.7 C1389.5,807.5 1391.9,816.1 1394.0,821.1 C1396.2,826.1 1399.0,829.0 1400.0,830.6" stroke="#E6C4D6" stroke-width="4.6"/><path d="M1353.3,760.0 C1355.6,762.3 1362.4,767.9 1366.9,773.6 C1371.4,779.2 1378.2,790.5 1380.5,793.9" stroke="#E6C4D6" stroke-width="4.2"/><path d="M1387.2,865.9 C1388.4,867.0 1391.9,871.1 1394.0,872.7 C1396.2,874.3 1399.0,875.0 1400.0,875.4" stroke="#E6C4D6" stroke-width="4.2"/><path d="M1390.6,869.3 L1382.9,867.4" stroke="#E6C4D6" stroke-width="3.6"/><path d="M1379.1,886.3 C1380.9,886.7 1386.5,888.3 1390.0,889.0 C1393.4,889.7 1398.3,890.1 1400.0,890.3" stroke="#E6C4D6" stroke-width="4.2"/><path d="M1384.5,887.6 L1376.9,890.0" stroke="#E6C4D6" stroke-width="3.6"/><path d="M1384.5,879.5 L1394.0,882.2" stroke="#E6C4D6" stroke-width="4.2"/><path d="M1389.3,880.8 L1381.6,883.0" stroke="#E6C4D6" stroke-width="3.6"/><path d="M1512.0,1037.0 C1516.7,1036.5 1530.3,1035.5 1540.0,1034.0 C1549.7,1032.5 1560.0,1029.8 1570.0,1028.0 C1580.0,1026.2 1595.0,1023.8 1600.0,1023.0" stroke="#D6DEBA" stroke-width="5.2"/><path d="M1512.0,1037.0 C1517.5,1035.0 1534.5,1028.7 1545.0,1025.0 C1555.5,1021.3 1565.8,1017.7 1575.0,1015.0 C1584.2,1012.3 1595.8,1010.0 1600.0,1009.0" stroke="#D6DEBA" stroke-width="4.8"/><path d="M1512.0,1036.0 C1516.7,1033.0 1530.3,1024.3 1540.0,1018.0 C1549.7,1011.7 1560.0,1004.0 1570.0,998.0 C1580.0,992.0 1595.0,984.7 1600.0,982.0" stroke="#D6DEBA" stroke-width="4.8"/><path d="M1512.0,1038.0 C1518.3,1038.2 1535.3,1038.7 1550.0,1039.0 C1564.7,1039.3 1591.7,1039.8 1600.0,1040.0" stroke="#D6DEBA" stroke-width="4.8"/><path d="M1540.0,1035.0 C1541.7,1032.5 1547.5,1024.5 1550.0,1020.0 C1552.5,1015.5 1554.2,1010.0 1555.0,1008.0" stroke="#D6DEBA" stroke-width="4.2"/><path d="M1545.0,1034.0 C1547.5,1031.3 1556.7,1022.3 1560.0,1018.0 C1563.3,1013.7 1564.2,1009.7 1565.0,1008.0" stroke="#D6DEBA" stroke-width="4.2"/><path d="M1545.0,1040.0 C1547.5,1041.0 1555.8,1044.7 1560.0,1046.0 C1564.2,1047.3 1568.3,1047.7 1570.0,1048.0" stroke="#D6DEBA" stroke-width="4.2"/><path d="M1510.0,1076.0 C1511.7,1075.7 1516.7,1074.3 1520.0,1074.0 C1523.3,1073.7 1528.3,1074.0 1530.0,1074.0" stroke="#CFE0EA" stroke-width="5.2"/><path d="M1513.0,1180.0 C1514.2,1182.0 1517.2,1187.8 1520.0,1192.0 C1522.8,1196.2 1528.3,1202.8 1530.0,1205.0" stroke="#B8DDD4" stroke-width="5.2"/><path d="M1352.0,1117.0 C1350.5,1115.0 1345.7,1109.5 1343.0,1105.0 C1340.3,1100.5 1337.2,1092.5 1336.0,1090.0" stroke="#E2DABC" stroke-width="5.2"/><path d="M1352.0,1117.0 C1350.5,1118.8 1345.5,1125.0 1343.0,1128.0 C1340.5,1131.0 1338.0,1133.8 1337.0,1135.0" stroke="#E2DABC" stroke-width="5.2"/><path d="M1510.0,1065.0 C1516.7,1065.0 1535.0,1064.2 1550.0,1065.0 C1565.0,1065.8 1585.0,1068.2 1600.0,1070.0 C1615.0,1071.8 1633.3,1075.0 1640.0,1076.0" stroke="#E6E6EA" stroke-width="4.2"/><path d="M1633.1,1075.0 L1640.4,1071.8" stroke="#E6E6EA" stroke-width="3.6"/><path d="M1508.0,1085.0 C1511.7,1086.2 1522.7,1089.8 1530.0,1092.0 C1537.3,1094.2 1545.0,1096.2 1552.0,1098.0 C1559.0,1099.8 1568.7,1102.2 1572.0,1103.0" stroke="#E6E6EA" stroke-width="4.2"/><path d="M1508.0,1087.0 C1510.8,1088.8 1519.7,1094.2 1525.0,1098.0 C1530.3,1101.8 1535.8,1105.7 1540.0,1110.0 C1544.2,1114.3 1548.3,1121.7 1550.0,1124.0" stroke="#E6E6EA" stroke-width="4.2"/><path d="M1508.0,1088.0 C1510.0,1090.8 1516.3,1099.7 1520.0,1105.0 C1523.7,1110.3 1527.5,1115.3 1530.0,1120.0 C1532.5,1124.7 1534.2,1130.8 1535.0,1133.0" stroke="#E6E6EA" stroke-width="4.2"/><path d="M1508.0,1090.0 C1509.7,1093.3 1515.2,1104.2 1518.0,1110.0 C1520.8,1115.8 1523.8,1122.5 1525.0,1125.0" stroke="#E6E6EA" stroke-width="4.2"/><path d="M1512.0,1175.0 C1516.7,1174.5 1530.3,1171.8 1540.0,1172.0 C1549.7,1172.2 1560.3,1175.0 1570.0,1176.0 C1579.7,1177.0 1593.3,1177.7 1598.0,1178.0" stroke="#E6E6EA" stroke-width="4.2"/><path d="M1512.0,1185.0 C1516.7,1185.8 1531.2,1187.5 1540.0,1190.0 C1548.8,1192.5 1560.8,1198.3 1565.0,1200.0" stroke="#E6E6EA" stroke-width="4.2"/><path d="M1372.1,557.0 C1372.7,558.2 1374.8,562.0 1376.0,564.5 C1377.3,566.9 1379.0,570.4 1379.6,571.6" stroke="#E6C4D6" stroke-width="4.2"/><path d="M1374.1,560.7 L1374.6,552.7" stroke="#E6C4D6" stroke-width="3.6"/><path d="M1379.1,556.5 C1379.5,560.5 1380.4,571.3 1381.4,580.4 C1382.3,589.6 1383.4,601.8 1384.9,611.4 C1386.4,621.0 1388.1,629.9 1390.2,638.0 C1392.3,646.1 1394.8,652.0 1397.3,660.1 C1399.8,668.2 1403.2,680.9 1405.3,686.7 C1407.3,692.5 1409.0,693.6 1409.7,695.0" stroke="#E6C4D6" stroke-width="4.8"/><path d="M1371.2,582.2 C1372.1,583.4 1375.4,586.3 1376.9,589.3 C1378.5,592.2 1379.3,595.8 1380.5,599.9 C1381.7,604.0 1383.4,611.7 1384.0,614.1" stroke="#E6C4D6" stroke-width="4.2"/><path d="M1374.1,585.7 L1366.5,583.1" stroke="#E6C4D6" stroke-width="3.6"/><path d="M1393.8,591.0 C1393.3,593.0 1391.7,598.4 1391.1,602.6 C1390.5,606.7 1390.1,610.7 1390.2,615.8 C1390.4,621.0 1391.7,630.6 1392.0,633.6" stroke="#E6C4D6" stroke-width="4.2"/><path d="M1392.4,596.8 L1398.0,591.1" stroke="#E6C4D6" stroke-width="3.6"/><path d="M1339.7,618.5 C1339.9,621.0 1339.3,628.1 1340.6,633.6 C1342.0,639.0 1345.3,645.4 1347.7,651.3 C1350.1,657.2 1352.6,663.1 1354.8,669.0 C1357.0,674.9 1359.2,682.3 1361.0,686.7 C1362.8,691.0 1364.7,693.6 1365.4,695.0" stroke="#E6C4D6" stroke-width="4.6"/><path d="M1348.2,618.5 C1347.9,620.3 1347.5,625.9 1346.8,629.1 C1346.2,632.4 1344.6,636.5 1344.2,638.0" stroke="#E6C4D6" stroke-width="4.2"/><path d="M1347.5,623.8 L1344.2,616.5" stroke="#E6C4D6" stroke-width="3.6"/><path d="M1330.0,620.3 C1330.9,622.5 1333.5,629.9 1335.3,633.6 C1337.1,637.2 1339.7,640.9 1340.6,642.4" stroke="#E6C4D6" stroke-width="4.2"/><path d="M1332.6,626.8 L1326.2,622.0" stroke="#E6C4D6" stroke-width="3.6"/><path d="M1363.6,630.9 C1364.7,632.1 1367.6,635.3 1369.8,638.0 C1372.1,640.6 1375.0,643.1 1376.9,646.8 C1378.9,650.5 1380.0,655.0 1381.4,660.1 C1382.7,665.3 1384.0,672.0 1384.9,677.8 C1385.8,683.6 1386.4,692.1 1386.7,695.0" stroke="#E6C4D6" stroke-width="4.6"/><path d="M1369.0,628.2 C1369.4,629.4 1370.4,633.3 1371.6,635.3 C1372.8,637.4 1375.3,639.7 1376.0,640.6" stroke="#E6C4D6" stroke-width="4.2"/><path d="M1370.3,631.8 L1371.8,623.9" stroke="#E6C4D6" stroke-width="3.6"/><path d="M1380.5,623.8 C1381.1,624.7 1383.0,626.8 1384.0,629.1 C1385.0,631.5 1386.2,636.5 1386.7,638.0" stroke="#E6C4D6" stroke-width="4.2"/><path d="M1382.2,626.5 L1375.0,623.1" stroke="#E6C4D6" stroke-width="3.6"/><path d="M1383.1,635.3 C1382.8,636.5 1381.8,639.7 1381.4,642.4 C1380.9,645.1 1380.6,649.8 1380.5,651.3" stroke="#E6C4D6" stroke-width="4.2"/><path d="M1382.2,638.9 L1388.0,633.3" stroke="#E6C4D6" stroke-width="3.6"/><path d="M1368.1,668.1 C1369.1,669.0 1372.4,671.8 1374.3,673.4 C1376.2,675.0 1378.7,677.1 1379.6,677.8" stroke="#E6C4D6" stroke-width="4.2"/><path d="M1371.2,670.7 L1363.3,669.5" stroke="#E6C4D6" stroke-width="3.6"/><path d="M1373.4,664.5 C1373.8,665.6 1375.3,668.8 1376.0,670.7 C1376.8,672.7 1377.5,675.2 1377.8,676.1" stroke="#E6C4D6" stroke-width="4.2"/><path d="M1374.7,667.6 L1375.9,659.7" stroke="#E6C4D6" stroke-width="3.6"/></g>
<g fill="none" stroke-linecap="round" stroke-linejoin="round"><path d="M1184.9,612.8 C1187.4,613.4 1194.7,614.7 1199.9,616.8 C1205.1,619.0 1210.7,621.9 1216.2,625.7 C1221.6,629.4 1227.5,634.3 1232.5,639.2 C1237.4,644.2 1241.5,649.7 1246.0,655.5 C1250.6,661.4 1255.1,668.4 1259.6,674.5 C1264.1,680.7 1268.7,686.8 1273.2,692.2 C1277.7,697.6 1282.2,701.9 1286.8,707.1 C1291.3,712.3 1295.8,717.5 1300.3,723.4 C1304.9,729.3 1309.6,735.9 1313.9,742.4 C1318.2,749.0 1322.3,756.2 1326.1,762.8 C1330.0,769.4 1333.8,775.6 1337.0,781.8 C1340.2,788.0 1343.8,797.0 1345.2,800.0" stroke="#A07890" stroke-width="2.3"/><path d="M1184.3,624.3 C1186.9,624.0 1194.8,622.0 1199.9,622.3 C1205.0,622.5 1212.3,625.1 1214.8,625.7" stroke="#A07890" stroke-width="1.8"/><path d="M1191.2,623.4 L1185.0,628.4" stroke="#A07890" stroke-width="1.6"/><path d="M1206.0,631.8 C1208.6,632.1 1217.0,632.3 1221.6,633.8 C1226.2,635.3 1231.8,639.5 1233.8,640.6" stroke="#A07890" stroke-width="1.8"/><path d="M1212.9,632.7 L1206.7,627.7" stroke="#A07890" stroke-width="1.6"/><path d="M1227.0,648.8 C1229.3,649.4 1236.5,650.3 1240.6,652.8 C1244.7,655.3 1248.5,660.3 1251.5,663.7 C1254.4,667.1 1257.1,671.6 1258.3,673.2" stroke="#A07890" stroke-width="1.8"/><path d="M1233.7,650.8 L1228.4,644.8" stroke="#A07890" stroke-width="1.6"/><path d="M1222.3,587.7 C1224.2,589.2 1229.9,593.5 1233.8,597.2 C1237.8,600.8 1242.2,604.8 1246.0,609.4 C1249.9,613.9 1253.3,618.9 1256.9,624.3 C1260.5,629.7 1264.1,635.6 1267.8,642.0 C1271.4,648.3 1275.0,655.5 1278.6,662.3 C1282.2,669.1 1285.9,676.4 1289.5,682.7 C1293.1,689.0 1297.0,695.1 1300.3,700.3 C1303.7,705.6 1306.7,708.9 1309.9,713.9 C1313.0,718.9 1316.4,724.8 1319.4,730.2 C1322.3,735.6 1326.1,743.8 1327.5,746.5" stroke="#A07890" stroke-width="2.3"/><path d="M1217.5,599.2 C1219.3,599.3 1225.0,599.3 1228.4,599.9 C1231.8,600.4 1236.3,602.1 1237.9,602.6" stroke="#A07890" stroke-width="1.8"/><path d="M1223.0,599.5 L1215.9,603.3" stroke="#A07890" stroke-width="1.6"/><path d="M1244.0,622.3 C1245.7,623.1 1250.7,624.4 1254.2,627.0 C1257.7,629.6 1262.3,634.7 1265.0,637.9 C1267.8,641.1 1269.6,644.7 1270.5,646.0" stroke="#A07890" stroke-width="1.8"/><path d="M1249.1,624.7 L1241.1,625.6" stroke="#A07890" stroke-width="1.6"/><path d="M1273.9,666.4 C1275.3,667.1 1279.9,668.0 1282.7,670.5 C1285.5,673.0 1289.5,679.5 1290.8,681.3" stroke="#A07890" stroke-width="1.8"/><path d="M1278.3,668.4 L1270.3,669.4" stroke="#A07890" stroke-width="1.6"/><path d="M1252.8,683.4 C1254.9,683.7 1260.7,683.9 1265.0,685.4 C1269.3,686.9 1274.8,689.7 1278.6,692.2 C1282.5,694.7 1284.5,697.0 1288.1,700.3 C1291.7,703.7 1298.3,710.5 1300.3,712.6" stroke="#A07890" stroke-width="1.8"/><path d="M1258.9,684.4 L1252.9,679.1" stroke="#A07890" stroke-width="1.6"/><path d="M1270.5,707.8 C1273.0,708.4 1280.4,709.3 1285.4,711.2 C1290.4,713.1 1295.6,715.7 1300.3,719.4 C1305.1,723.0 1310.1,728.0 1313.9,732.9 C1317.8,737.9 1321.8,746.5 1323.4,749.2" stroke="#A07890" stroke-width="2.0"/><path d="M1277.3,709.4 L1269.7,711.9" stroke="#A07890" stroke-width="1.6"/><path d="M1242.0,718.7 C1244.5,719.0 1252.6,719.0 1256.9,720.7 C1261.2,722.4 1264.1,726.1 1267.8,728.9 C1271.4,731.6 1276.8,735.6 1278.6,737.0" stroke="#A07890" stroke-width="1.8"/><path d="M1248.9,719.6 L1242.7,714.6" stroke="#A07890" stroke-width="1.6"/><path d="M1297.6,738.4 C1299.9,738.8 1307.1,739.3 1311.2,741.1 C1315.3,742.9 1318.9,746.1 1322.1,749.2 C1325.2,752.4 1328.9,758.3 1330.2,760.1" stroke="#A07890" stroke-width="1.8"/><path d="M1304.4,739.7 L1296.9,742.5" stroke="#A07890" stroke-width="1.6"/><path d="M1318.0,760.1 C1319.6,760.5 1324.6,760.8 1327.5,762.8 C1330.4,764.8 1334.3,770.7 1335.6,772.3" stroke="#A07890" stroke-width="1.8"/><path d="M1322.7,761.4 L1315.0,763.6" stroke="#A07890" stroke-width="1.6"/><path d="M1193.1,668.4 C1195.6,669.2 1203.3,670.6 1208.0,673.2 C1212.8,675.8 1217.3,680.4 1221.6,684.1 C1225.9,687.7 1229.7,690.8 1233.8,694.9 C1237.9,699.0 1242.2,704.0 1246.0,708.5 C1249.9,713.0 1253.1,717.1 1256.9,722.1 C1260.7,727.0 1265.0,732.7 1269.1,738.4 C1273.2,744.0 1277.5,750.1 1281.3,756.0 C1285.2,761.9 1289.0,768.0 1292.2,773.7 C1295.4,779.3 1298.1,785.6 1300.3,790.0 C1302.6,794.3 1304.9,798.3 1305.8,800.0" stroke="#A07890" stroke-width="2.3"/><path d="M1225.7,699.0 C1227.3,699.9 1232.2,702.2 1235.2,704.4 C1238.1,706.7 1242.0,711.2 1243.3,712.6" stroke="#A07890" stroke-width="1.8"/><path d="M1174.1,692.2 C1176.3,692.9 1182.7,694.2 1187.7,696.3 C1192.6,698.3 1199.0,701.5 1203.9,704.4 C1208.9,707.4 1213.0,710.3 1217.5,713.9 C1222.0,717.5 1226.8,721.8 1231.1,726.1 C1235.4,730.4 1239.2,734.7 1243.3,739.7 C1247.4,744.7 1251.5,750.4 1255.5,756.0 C1259.6,761.7 1263.9,768.0 1267.8,773.7 C1271.6,779.3 1275.7,785.6 1278.6,790.0 C1281.6,794.3 1284.3,798.3 1285.4,800.0" stroke="#A07890" stroke-width="2.3"/><path d="M1195.1,716.6 C1197.3,717.3 1203.6,718.7 1208.0,720.7 C1212.4,722.7 1217.3,726.1 1221.6,728.9 C1225.9,731.6 1229.7,734.1 1233.8,737.0 C1237.9,739.9 1242.2,742.7 1246.0,746.5 C1249.9,750.4 1255.1,757.8 1256.9,760.1" stroke="#A07890" stroke-width="2.0"/><path d="M1224.3,741.8 C1226.6,742.1 1233.4,742.1 1237.9,743.8 C1242.4,745.5 1247.4,748.8 1251.5,751.9 C1255.5,755.1 1258.9,759.2 1262.3,762.8 C1265.7,766.4 1270.2,771.9 1271.8,773.7" stroke="#A07890" stroke-width="1.8"/><path d="M1231.1,742.8 L1225.0,737.6" stroke="#A07890" stroke-width="1.6"/><path d="M1195.1,785.9 C1197.7,785.9 1205.4,785.7 1210.7,785.9 C1216.1,786.1 1221.6,786.3 1227.0,787.2 C1232.5,788.1 1238.1,789.5 1243.3,791.3 C1248.5,793.1 1255.8,797.0 1258.3,798.1" stroke="#A07890" stroke-width="2.2"/><path d="M1226.3,776.4 C1227.8,776.8 1232.6,777.3 1235.2,779.1 C1237.8,780.9 1240.8,785.9 1242.0,787.2" stroke="#A07890" stroke-width="1.8"/><path d="M1230.8,777.7 L1225.5,771.7" stroke="#A07890" stroke-width="1.6"/><path d="M1292.9,791.3 C1294.6,792.0 1300.2,793.9 1303.1,795.4 C1305.9,796.8 1308.7,799.2 1309.9,800.0" stroke="#A07890" stroke-width="1.8"/><path d="M1308.5,572.0 C1309.9,574.0 1314.2,578.9 1316.6,583.6 C1319.1,588.2 1321.2,593.8 1323.4,599.9 C1325.7,606.0 1328.0,613.4 1330.2,620.2 C1332.5,627.0 1334.5,633.1 1337.0,640.6 C1339.5,648.1 1342.2,656.9 1345.2,665.0 C1348.1,673.2 1351.3,681.8 1354.7,689.5 C1358.1,697.2 1361.9,704.0 1365.5,711.2 C1369.1,718.4 1372.8,725.2 1376.4,732.9 C1380.0,740.6 1384.1,749.2 1387.2,757.4 C1390.4,765.5 1393.4,774.7 1395.4,781.8 C1397.4,788.9 1398.8,797.0 1399.5,800.0" stroke="#A07890" stroke-width="2.5"/><path d="M1300.3,582.9 C1301.9,583.2 1306.9,583.9 1309.9,584.9 C1312.8,586.0 1316.6,588.3 1318.0,589.0" stroke="#A07890" stroke-width="1.8"/><path d="M1305.1,583.9 L1299.3,578.4" stroke="#A07890" stroke-width="1.6"/><path d="M1312.6,601.2 C1313.9,601.9 1318.2,603.0 1320.7,605.3 C1323.2,607.6 1326.4,613.2 1327.5,614.8" stroke="#A07890" stroke-width="1.8"/><path d="M1316.6,603.3 L1312.4,596.5" stroke="#A07890" stroke-width="1.6"/><path d="M1311.9,623.6 C1313.6,624.4 1318.8,626.2 1322.1,628.4 C1325.4,630.5 1330.0,635.2 1331.6,636.5" stroke="#A07890" stroke-width="1.8"/><path d="M1309.2,648.8 C1310.9,649.2 1316.1,650.1 1319.4,651.5 C1322.6,652.8 1326.4,654.6 1328.9,656.9 C1331.3,659.2 1333.4,663.7 1334.3,665.0" stroke="#A07890" stroke-width="1.8"/><path d="M1314.3,650.1 L1306.6,652.4" stroke="#A07890" stroke-width="1.6"/><path d="M1309.2,654.2 C1311.1,654.6 1317.2,655.5 1320.7,656.9 C1324.2,658.3 1328.6,661.4 1330.2,662.3" stroke="#A07890" stroke-width="1.8"/><path d="M1314.9,655.5 L1307.3,658.0" stroke="#A07890" stroke-width="1.6"/><path d="M1331.6,647.4 C1332.3,649.0 1334.7,654.0 1335.6,656.9 C1336.6,659.8 1336.8,663.7 1337.0,665.0" stroke="#A07890" stroke-width="1.8"/><path d="M1333.6,652.1 L1334.8,644.2" stroke="#A07890" stroke-width="1.6"/><path d="M1316.6,682.7 C1318.9,682.9 1325.7,682.9 1330.2,684.1 C1334.7,685.2 1339.5,686.8 1343.8,689.5 C1348.1,692.2 1352.8,696.7 1356.0,700.3 C1359.2,704.0 1361.7,709.4 1362.8,711.2" stroke="#A07890" stroke-width="2.0"/><path d="M1323.4,683.4 L1316.2,686.9" stroke="#A07890" stroke-width="1.6"/><path d="M1316.6,688.1 C1318.9,687.9 1326.1,686.5 1330.2,686.8 C1334.3,687.0 1339.3,689.0 1341.1,689.5" stroke="#A07890" stroke-width="1.8"/><path d="M1323.4,687.4 L1317.1,692.3" stroke="#A07890" stroke-width="1.6"/><path d="M1354.7,707.1 C1356.7,707.6 1363.0,708.3 1366.9,709.9 C1370.7,711.4 1374.3,713.9 1377.7,716.6 C1381.1,719.4 1385.7,724.6 1387.2,726.1" stroke="#A07890" stroke-width="1.8"/><path d="M1360.8,708.5 L1353.2,711.1" stroke="#A07890" stroke-width="1.6"/><path d="M1392.7,703.1 C1392.7,705.8 1392.4,714.4 1392.7,719.4 C1392.9,724.3 1393.8,730.7 1394.0,732.9" stroke="#A07890" stroke-width="1.8"/><path d="M1392.7,710.1 L1396.9,703.2" stroke="#A07890" stroke-width="1.6"/><path d="M1366.9,760.8 C1368.5,761.6 1373.9,762.9 1376.4,765.5 C1378.9,768.1 1380.0,770.6 1381.8,776.4 C1383.6,782.1 1386.3,796.1 1387.2,800.0" stroke="#A07890" stroke-width="1.8"/><path d="M1354.7,761.4 C1356.0,762.6 1360.3,765.3 1362.8,768.2 C1365.3,771.2 1368.5,777.3 1369.6,779.1" stroke="#A07890" stroke-width="1.8"/><path d="M1335.6,792.7 C1337.0,793.1 1341.5,794.2 1343.8,795.4 C1346.1,796.6 1348.3,799.2 1349.2,800.0" stroke="#A07890" stroke-width="1.8"/><path d="M1339.7,794.0 L1334.6,787.9" stroke="#A07890" stroke-width="1.6"/><path d="M1392.7,591.2 C1392.5,594.8 1391.4,604.7 1391.4,612.9 C1391.4,621.0 1391.6,631.0 1392.7,640.0 C1393.8,649.1 1395.9,658.1 1398.1,667.2 C1400.4,676.3 1403.8,685.3 1406.3,694.4 C1408.8,703.4 1410.8,712.5 1413.1,721.5 C1415.3,730.6 1417.8,739.7 1419.9,748.7 C1421.9,757.6 1424.4,770.6 1425.3,775.0" stroke="#A07890" stroke-width="2.3"/><path d="M1399.5,606.1 C1399.5,609.5 1399.1,619.7 1399.5,626.5 C1400.0,633.3 1400.9,637.8 1402.2,646.8 C1403.6,655.9 1406.7,675.1 1407.7,680.8" stroke="#A07890" stroke-width="1.8"/><path d="M1399.5,613.1 L1395.3,606.3" stroke="#A07890" stroke-width="1.6"/><path d="M1406.3,607.5 C1405.6,609.7 1403.1,616.7 1402.2,621.0 C1401.3,625.3 1401.1,631.2 1400.9,633.3" stroke="#A07890" stroke-width="1.8"/><path d="M1404.3,614.2 L1402.2,606.4" stroke="#A07890" stroke-width="1.6"/><path d="M1421.2,610.2 C1420.5,614.0 1417.9,624.9 1417.2,633.3 C1416.4,641.6 1416.5,651.4 1416.5,660.4 C1416.5,669.5 1417.3,679.6 1417.2,687.6 C1417.0,695.5 1415.8,701.1 1415.8,707.9 C1415.8,714.7 1416.9,724.9 1417.2,728.3" stroke="#A07890" stroke-width="2.2"/><path d="M1428.7,612.2 C1427.7,614.6 1424.1,621.8 1422.6,626.5 C1421.1,631.1 1420.3,637.8 1419.9,640.0" stroke="#A07890" stroke-width="1.8"/><path d="M1425.9,618.6 L1432.5,614.0" stroke="#A07890" stroke-width="1.6"/><path d="M1406.3,637.3 C1405.8,640.0 1404.0,648.6 1403.6,653.6 C1403.1,658.6 1403.6,664.9 1403.6,667.2" stroke="#A07890" stroke-width="1.8"/><path d="M1405.1,644.2 L1402.1,636.8" stroke="#A07890" stroke-width="1.6"/><path d="M1421.2,645.5 C1421.5,649.1 1422.8,660.2 1422.6,667.2 C1422.4,674.2 1420.3,684.2 1419.9,687.6" stroke="#A07890" stroke-width="1.8"/><path d="M1421.7,652.5 L1425.4,645.4" stroke="#A07890" stroke-width="1.6"/><path d="M1430.7,642.8 C1430.1,645.7 1427.6,655.2 1426.7,660.4 C1425.8,665.6 1425.5,671.7 1425.3,674.0" stroke="#A07890" stroke-width="1.8"/><path d="M1429.2,649.6 L1434.8,643.9" stroke="#A07890" stroke-width="1.6"/><path d="M1436.8,645.5 C1435.8,647.3 1432.4,652.7 1430.7,656.3 C1429.0,660.0 1427.3,665.4 1426.7,667.2" stroke="#A07890" stroke-width="1.8"/><path d="M1433.8,650.9 L1433.5,642.9" stroke="#A07890" stroke-width="1.6"/><path d="M1429.4,688.9 C1429.1,693.2 1428.2,705.9 1428.0,714.7 C1427.8,723.5 1427.6,731.8 1428.0,741.9 C1428.5,751.9 1430.3,769.5 1430.7,775.0" stroke="#A07890" stroke-width="2.2"/><path d="M1436.8,691.6 C1436.1,693.2 1433.3,698.0 1432.1,701.1 C1430.8,704.3 1429.8,709.1 1429.4,710.6" stroke="#A07890" stroke-width="1.8"/><path d="M1434.5,696.4 L1433.8,688.4" stroke="#A07890" stroke-width="1.6"/><path d="M1393.4,702.5 C1393.1,705.7 1391.5,716.1 1391.4,721.5 C1391.2,726.9 1391.1,729.4 1392.7,735.1 C1394.3,740.7 1398.1,748.8 1400.9,755.5 C1403.6,762.1 1407.7,771.7 1409.0,775.0" stroke="#A07890" stroke-width="2.0"/><path d="M1392.6,709.5 L1397.5,703.1" stroke="#A07890" stroke-width="1.6"/><path d="M1436.2,724.2 C1436.8,727.2 1438.7,735.5 1440.2,741.9 C1441.8,748.2 1444.1,756.7 1445.7,762.2 C1447.3,767.8 1449.1,772.9 1449.7,775.0" stroke="#A07890" stroke-width="2.0"/><path d="M1437.7,731.0 L1440.3,723.5" stroke="#A07890" stroke-width="1.6"/><path d="M1442.3,724.2 L1441.6,735.1" stroke="#A07890" stroke-width="1.8"/><path d="M1441.9,729.7 L1438.2,722.6" stroke="#A07890" stroke-width="1.6"/><path d="M1453.8,732.4 C1453.8,736.2 1453.6,748.3 1453.8,755.5 C1454.0,762.6 1454.9,771.7 1455.2,775.0" stroke="#A07890" stroke-width="1.8"/><path d="M1453.8,739.4 L1458.0,732.6" stroke="#A07890" stroke-width="1.6"/><path d="M1453.8,661.8 C1454.7,663.8 1457.7,668.6 1459.2,674.0 C1460.8,679.4 1462.4,686.4 1463.3,694.4 C1464.2,702.3 1464.5,712.5 1464.7,721.5 C1464.9,730.6 1464.8,739.7 1464.7,748.7 C1464.6,757.6 1464.1,770.6 1464.0,775.0" stroke="#A07890" stroke-width="2.3"/><path d="M1459.2,661.8 L1460.6,672.6" stroke="#A07890" stroke-width="1.8"/><path d="M1459.9,667.2 L1454.9,661.0" stroke="#A07890" stroke-width="1.6"/><path d="M1472.1,697.7 C1471.6,699.4 1469.8,704.0 1468.8,707.9 C1467.7,711.9 1466.5,719.2 1466.0,721.5" stroke="#A07890" stroke-width="1.8"/><path d="M1470.4,702.8 L1468.6,695.0" stroke="#A07890" stroke-width="1.6"/><path d="M1476.9,720.2 C1476.4,722.6 1474.9,729.2 1474.2,735.1 C1473.5,741.0 1473.3,748.8 1472.8,755.5 C1472.4,762.1 1471.7,771.7 1471.5,775.0" stroke="#A07890" stroke-width="1.8"/><path d="M1483.7,725.6 C1483.0,728.3 1480.7,735.8 1479.6,741.9 C1478.5,748.0 1477.4,758.8 1476.9,762.2" stroke="#A07890" stroke-width="1.8"/><path d="M1497.9,731.0 C1496.7,731.7 1492.6,732.6 1490.5,735.1 C1488.3,737.6 1485.9,744.1 1485.0,746.0" stroke="#A07890" stroke-width="1.8"/><path d="M1390.0,732.4 C1391.4,735.1 1395.4,742.6 1398.1,748.7 C1400.9,754.8 1404.9,765.6 1406.3,769.0" stroke="#A07890" stroke-width="1.8"/><path d="M1393.1,738.6 L1393.8,730.7" stroke="#A07890" stroke-width="1.6"/><path d="M1415.8,775.0 C1417.8,780.7 1423.7,798.1 1428.0,808.9 C1432.3,819.8 1437.7,830.9 1441.6,840.2 C1445.4,849.5 1447.5,856.2 1451.1,864.6 C1454.7,873.0 1459.2,881.6 1463.3,890.4 C1467.4,899.2 1471.9,908.5 1475.5,917.6 C1479.2,926.6 1481.9,935.7 1485.0,944.7 C1488.2,953.8 1491.6,961.8 1494.5,971.9 C1497.5,981.9 1501.3,999.5 1502.7,1005.0" stroke="#A8929F" stroke-width="3.2"/><path d="M1390.0,851.0 C1393.4,851.9 1403.6,854.9 1410.4,856.5 C1417.2,858.1 1423.9,859.2 1430.7,860.5 C1437.5,861.9 1447.7,863.9 1451.1,864.6" stroke="#A8929F" stroke-width="2.7"/><path d="M1390.0,799.4 C1391.4,802.8 1395.4,813.0 1398.1,819.8 C1400.9,826.6 1403.6,834.1 1406.3,840.2 C1409.0,846.3 1413.1,853.8 1414.4,856.5" stroke="#A07890" stroke-width="2.2"/><path d="M1437.5,775.0 C1438.7,779.5 1442.5,793.1 1444.3,802.2 C1446.1,811.2 1447.3,820.3 1448.4,829.3 C1449.5,838.4 1450.6,851.9 1451.1,856.5" stroke="#A07890" stroke-width="2.0"/><path d="M1439.2,781.8 L1441.6,774.2" stroke="#A07890" stroke-width="1.6"/><path d="M1452.5,775.0 C1452.7,778.4 1453.4,788.6 1453.8,795.4 C1454.3,802.2 1454.9,812.3 1455.2,815.7" stroke="#A07890" stroke-width="1.8"/><path d="M1452.9,782.0 L1448.3,775.5" stroke="#A07890" stroke-width="1.6"/><path d="M1463.3,783.1 C1462.9,786.3 1461.7,795.6 1460.6,802.2 C1459.5,808.7 1457.2,819.1 1456.5,822.5" stroke="#A07890" stroke-width="1.8"/><path d="M1462.3,790.1 L1459.2,782.7" stroke="#A07890" stroke-width="1.6"/><path d="M1476.9,780.4 C1476.0,784.1 1472.8,796.3 1471.5,802.2 C1470.1,808.0 1469.2,813.5 1468.8,815.7" stroke="#A07890" stroke-width="1.8"/><path d="M1475.2,787.2 L1480.9,781.6" stroke="#A07890" stroke-width="1.6"/><path d="M1479.6,806.2 C1478.7,811.2 1475.5,826.6 1474.2,836.1 C1472.8,845.6 1472.4,856.2 1471.5,863.3 C1470.6,870.3 1469.2,875.7 1468.8,878.2" stroke="#A07890" stroke-width="1.8"/><path d="M1478.4,813.1 L1483.7,807.2" stroke="#A07890" stroke-width="1.6"/><path d="M1390.0,863.3 C1391.4,864.8 1394.8,869.4 1398.1,872.8 C1401.5,876.2 1404.9,878.9 1410.4,883.6 C1415.8,888.4 1423.9,896.7 1430.7,901.3 C1437.5,905.8 1445.2,908.1 1451.1,910.8 C1457.0,913.5 1461.7,915.3 1466.0,917.6 C1470.3,919.8 1475.1,923.2 1476.9,924.4" stroke="#A07890" stroke-width="2.3"/><path d="M1390.0,883.6 C1392.3,884.8 1399.1,888.1 1403.6,890.4 C1408.1,892.7 1412.6,895.2 1417.2,897.2 C1421.7,899.2 1428.5,901.7 1430.7,902.6" stroke="#A07890" stroke-width="2.0"/><path d="M1396.3,886.8 L1388.3,887.4" stroke="#A07890" stroke-width="1.6"/><path d="M1437.5,886.3 C1439.1,887.5 1443.2,891.3 1447.0,893.1 C1450.9,894.9 1457.4,896.1 1460.6,897.2 C1463.8,898.3 1465.1,899.5 1466.0,899.9" stroke="#A07890" stroke-width="1.8"/><path d="M1442.3,889.7 L1439.2,882.4" stroke="#A07890" stroke-width="1.6"/><path d="M1390.0,937.9 C1394.5,938.6 1408.1,939.7 1417.2,942.0 C1426.2,944.3 1435.3,947.2 1444.3,951.5 C1453.4,955.8 1463.5,962.1 1471.5,967.8 C1479.4,973.5 1486.6,979.3 1491.8,985.5 C1497.0,991.7 1500.9,1001.7 1502.7,1005.0" stroke="#BCBCC0" stroke-width="2.3"/><path d="M1498.6,910.8 C1499.1,915.3 1500.7,928.9 1501.3,937.9 C1502.0,947.0 1502.0,956.0 1502.7,965.1 C1503.4,974.1 1504.7,985.6 1505.4,992.2 C1506.1,998.9 1506.5,1002.9 1506.8,1005.0" stroke="#A0949E" stroke-width="2.0"/><path d="M1499.3,917.7 L1494.5,911.4" stroke="#A0949E" stroke-width="1.6"/><path d="M1512.2,887.7 C1512.9,891.5 1515.1,902.4 1516.3,910.8 C1517.4,919.2 1518.3,928.9 1519.0,937.9 C1519.7,947.0 1520.6,956.0 1520.3,965.1 C1520.1,974.1 1518.5,985.6 1517.6,992.2 C1516.7,998.9 1515.4,1002.9 1514.9,1005.0" stroke="#A0949E" stroke-width="2.0"/><path d="M1513.4,894.6 L1508.1,888.6" stroke="#A0949E" stroke-width="1.6"/><path d="M1523.1,810.3 C1523.5,814.6 1525.1,826.1 1525.8,836.1 C1526.5,846.1 1527.1,859.9 1527.1,870.0 C1527.1,880.2 1526.5,888.1 1525.8,897.2 C1525.1,906.3 1524.0,915.3 1523.1,924.4 C1522.2,933.4 1521.3,942.5 1520.3,951.5 C1519.4,960.6 1519.0,969.7 1517.6,978.7 C1516.3,987.6 1513.1,1000.6 1512.2,1005.0" stroke="#A0949E" stroke-width="2.2"/><path d="M1529.9,807.6 L1528.5,829.3" stroke="#A0949E" stroke-width="1.8"/><path d="M1529.4,814.6 L1534.0,808.0" stroke="#A0949E" stroke-width="1.6"/><path d="M1542.1,829.3 C1542.3,833.8 1543.9,847.4 1543.4,856.5 C1543.0,865.5 1541.2,874.6 1539.4,883.6 C1537.5,892.7 1533.7,906.3 1532.6,910.8" stroke="#A0949E" stroke-width="1.8"/><path d="M1542.4,836.3 L1537.9,829.7" stroke="#A0949E" stroke-width="1.6"/><path d="M1552.9,775.0 C1552.7,779.5 1552.0,790.8 1551.6,802.2 C1551.1,813.5 1551.1,829.3 1550.2,842.9 C1549.3,856.5 1548.0,872.3 1546.1,883.6 C1544.3,894.9 1541.6,901.7 1539.4,910.8 C1537.1,919.8 1534.8,928.9 1532.6,937.9 C1530.3,947.0 1527.6,956.0 1525.8,965.1 C1524.0,974.1 1522.8,985.6 1521.7,992.2 C1520.6,998.9 1519.4,1002.9 1519.0,1005.0" stroke="#A0949E" stroke-width="2.3"/><path d="M1550.2,878.2 C1549.8,881.4 1548.9,890.6 1547.5,897.2 C1546.1,903.8 1543.0,914.2 1542.1,917.6" stroke="#A0949E" stroke-width="1.8"/><path d="M1549.2,885.1 L1546.1,877.8" stroke="#A0949E" stroke-width="1.6"/><path d="M1555.6,879.5 L1552.9,897.2" stroke="#A0949E" stroke-width="1.8"/><path d="M1554.6,886.5 L1551.5,879.1" stroke="#A0949E" stroke-width="1.6"/><path d="M1570.6,819.8 C1569.9,825.9 1568.1,843.6 1566.5,856.5 C1564.9,869.4 1563.3,884.8 1561.1,897.2 C1558.8,909.6 1556.6,919.8 1552.9,931.1 C1549.3,942.5 1543.9,952.8 1539.4,965.1 C1534.8,977.4 1528.0,998.4 1525.8,1005.0" stroke="#A0949E" stroke-width="2.3"/><path d="M1582.8,823.9 C1581.9,827.0 1579.4,835.2 1577.4,842.9 C1575.3,850.6 1571.7,865.5 1570.6,870.0" stroke="#A0949E" stroke-width="1.8"/><path d="M1580.9,830.6 L1586.8,825.2" stroke="#A0949E" stroke-width="1.6"/><path d="M1586.9,828.0 L1580.1,856.5" stroke="#A0949E" stroke-width="1.8"/><path d="M1585.3,834.8 L1590.9,829.1" stroke="#A0949E" stroke-width="1.6"/><path d="M1607.2,821.2 C1606.1,824.8 1602.7,834.7 1600.5,842.9 C1598.2,851.0 1596.6,861.0 1593.7,870.0 C1590.7,879.1 1586.9,888.1 1582.8,897.2 C1578.7,906.3 1574.2,915.3 1569.2,924.4 C1564.2,933.4 1557.9,942.5 1552.9,951.5 C1548.0,960.6 1543.4,969.7 1539.4,978.7 C1535.3,987.6 1530.3,1000.6 1528.5,1005.0" stroke="#A0949E" stroke-width="2.5"/><path d="M1601.8,788.6 C1601.1,793.1 1599.1,806.7 1597.7,815.7 C1596.4,824.8 1594.3,838.4 1593.7,842.9" stroke="#A0949E" stroke-width="1.8"/><path d="M1600.8,795.5 L1597.7,788.1" stroke="#A0949E" stroke-width="1.6"/><path d="M1620.0,826.6 C1617.9,829.3 1611.6,836.8 1607.2,842.9 C1602.9,849.0 1595.9,859.9 1593.7,863.3" stroke="#A0949E" stroke-width="2.0"/><path d="M1615.7,832.1 L1623.2,829.3" stroke="#A0949E" stroke-width="1.6"/><path d="M1620.0,870.0 C1617.4,873.4 1610.0,883.6 1604.5,890.4 C1599.0,897.2 1592.5,904.0 1586.9,910.8 C1581.2,917.6 1573.3,927.7 1570.6,931.1" stroke="#A0949E" stroke-width="2.0"/><path d="M1615.8,875.6 L1616.6,867.7" stroke="#A0949E" stroke-width="1.6"/><path d="M1591.0,961.0 C1589.6,962.1 1585.1,967.1 1582.8,967.8 C1580.5,968.5 1578.3,965.5 1577.4,965.1" stroke="#A0949E" stroke-width="1.8"/><path d="M1586.9,964.4 L1594.8,963.3" stroke="#A0949E" stroke-width="1.6"/><path d="M1620.0,924.4 C1616.7,926.6 1607.1,932.7 1600.5,937.9 C1593.8,943.1 1585.7,949.9 1580.1,955.6 C1574.4,961.2 1571.0,965.8 1566.5,971.9 C1562.0,978.0 1556.3,986.7 1552.9,992.2 C1549.5,997.8 1547.3,1002.9 1546.1,1005.0" stroke="#A0949E" stroke-width="2.2"/><path d="M1563.8,950.2 C1563.1,952.6 1561.5,960.3 1559.7,965.1 C1557.9,969.8 1554.1,976.4 1552.9,978.7" stroke="#A0949E" stroke-width="1.8"/><path d="M1511.5,937.3 C1511.2,939.6 1510.3,945.7 1509.5,951.5 C1508.7,957.3 1507.2,968.5 1506.8,971.9" stroke="#A0949E" stroke-width="1.8"/><path d="M1511.5,965.1 C1511.6,967.4 1512.1,972.0 1512.2,978.7 C1512.3,985.3 1512.2,1000.6 1512.2,1005.0" stroke="#A0949E" stroke-width="1.8"/><path d="M1537.6,854.4 C1537.9,857.0 1539.5,862.9 1539.4,870.0 C1539.2,877.2 1537.1,892.7 1536.6,897.2" stroke="#A0949E" stroke-width="1.8"/><path d="M1569.9,815.1 C1569.6,818.6 1568.7,829.2 1567.9,836.1 C1567.1,843.0 1565.6,853.1 1565.2,856.5" stroke="#A0949E" stroke-width="1.8"/><path d="M1600.0,809.7 C1601.8,804.1 1607.5,784.8 1610.9,775.8 C1614.3,766.7 1617.0,762.2 1620.4,755.4 C1623.8,748.6 1627.8,741.2 1631.2,735.0 C1634.6,728.9 1636.9,724.9 1640.7,718.8 C1644.6,712.6 1650.2,704.3 1654.3,698.4 C1658.4,692.5 1662.6,687.6 1665.2,683.4 C1667.8,679.3 1669.1,675.0 1669.9,673.3" stroke="#A0949E" stroke-width="2.5"/><path d="M1665.2,683.4 C1666.3,683.0 1670.0,681.4 1672.0,680.7 C1673.9,680.1 1675.9,679.6 1676.7,679.4" stroke="#A0949E" stroke-width="1.8"/><path d="M1674.3,680.1 L1682.0,682.2" stroke="#A0949E" stroke-width="1.6"/><path d="M1663.8,701.1 C1662.2,702.2 1657.5,704.5 1654.3,707.9 C1651.1,711.3 1646.4,719.2 1644.8,721.5" stroke="#A0949E" stroke-width="1.8"/><path d="M1659.1,704.5 L1662.2,697.1" stroke="#A0949E" stroke-width="1.6"/><path d="M1636.7,716.0 C1636.4,718.1 1636.0,724.6 1635.3,728.3 C1634.6,731.9 1633.0,736.2 1632.6,737.8" stroke="#A0949E" stroke-width="1.8"/><path d="M1636.0,722.1 L1632.6,714.9" stroke="#A0949E" stroke-width="1.6"/><path d="M1640.7,754.1 C1639.6,753.6 1636.2,751.1 1633.9,751.3 C1631.7,751.6 1628.3,754.7 1627.2,755.4" stroke="#A0949E" stroke-width="1.8"/><path d="M1637.3,752.7 L1642.1,759.1" stroke="#A0949E" stroke-width="1.6"/><path d="M1600.0,870.0 C1603.4,865.6 1613.6,851.5 1620.4,843.7 C1627.2,835.9 1634.6,830.1 1640.7,823.3 C1646.8,816.5 1652.0,808.6 1657.0,802.9 C1662.0,797.3 1666.5,793.2 1670.6,789.4 C1674.7,785.5 1678.3,781.7 1681.5,779.9 C1684.6,778.0 1688.3,778.7 1689.6,778.5" stroke="#A0949E" stroke-width="2.3"/><path d="M1681.5,779.9 L1684.2,775.8" stroke="#A0949E" stroke-width="1.8"/><path d="M1682.8,777.8 L1683.1,769.8" stroke="#A0949E" stroke-width="1.6"/><path d="M1654.3,823.3 C1656.6,821.5 1663.4,814.7 1667.9,812.4 C1672.4,810.2 1677.4,810.3 1681.5,809.7 C1685.5,809.2 1690.5,809.2 1692.3,809.0" stroke="#A0949E" stroke-width="2.0"/><path d="M1686.9,809.4 L1694.0,813.1" stroke="#A0949E" stroke-width="1.6"/><path d="M1661.1,820.6 C1663.4,819.9 1669.7,817.6 1674.7,816.5 C1679.7,815.4 1688.3,814.2 1691.0,813.8" stroke="#A0949E" stroke-width="1.8"/><path d="M1684.1,814.9 L1690.1,809.7" stroke="#A0949E" stroke-width="1.6"/><path d="M1661.1,838.2 C1659.5,839.1 1655.0,841.4 1651.6,843.7 C1648.2,845.9 1644.8,848.4 1640.7,851.8 C1636.7,855.2 1630.8,861.0 1627.2,864.0 C1623.5,867.1 1620.4,869.0 1619.0,870.0" stroke="#A0949E" stroke-width="2.0"/><path d="M1677.4,828.7 C1675.4,829.0 1669.5,828.7 1665.2,830.1 C1660.9,831.4 1653.9,835.7 1651.6,836.9" stroke="#A0949E" stroke-width="1.8"/><path d="M1671.3,829.4 L1678.5,832.8" stroke="#A0949E" stroke-width="1.6"/><path d="M1654.3,854.5 C1652.0,855.4 1645.3,857.4 1640.7,860.0 C1636.2,862.5 1629.4,868.3 1627.2,870.0" stroke="#A0949E" stroke-width="1.8"/><path d="M1647.8,857.1 L1655.7,858.5" stroke="#A0949E" stroke-width="1.6"/><path d="M1656.3,777.8 C1655.8,779.7 1654.4,785.2 1653.0,789.4 C1651.5,793.5 1649.6,798.4 1647.5,802.9 C1645.5,807.5 1643.7,812.0 1640.7,816.5 C1637.8,821.0 1631.7,827.8 1629.9,830.1" stroke="#A0949E" stroke-width="1.8"/><path d="M1627.2,791.4 C1627.4,793.3 1628.1,798.7 1628.5,802.9 C1629.0,807.1 1630.1,812.0 1629.9,816.5 C1629.6,821.0 1627.6,827.8 1627.2,830.1" stroke="#A0949E" stroke-width="1.8"/><path d="M1650.9,809.0 C1649.9,810.3 1647.0,814.1 1644.8,816.5 C1642.7,818.9 1639.1,822.2 1638.0,823.3" stroke="#A0949E" stroke-width="1.8"/><path d="M1600.0,982.2 C1603.4,979.9 1613.6,973.1 1620.4,968.6 C1627.2,964.1 1634.6,959.6 1640.7,955.0 C1646.8,950.5 1652.0,946.4 1657.0,941.5 C1662.0,936.5 1666.1,930.2 1670.6,925.2 C1675.1,920.2 1679.7,916.1 1684.2,911.6 C1688.7,907.1 1693.7,902.5 1697.8,898.0 C1701.8,893.5 1705.7,888.5 1708.6,884.4 C1711.6,880.4 1714.3,875.4 1715.4,873.6" stroke="#95A464" stroke-width="2.5"/><path d="M1684.2,911.6 C1686.0,909.8 1691.0,904.1 1695.0,900.7 C1699.1,897.3 1703.6,894.2 1708.6,891.2 C1713.6,888.3 1722.2,884.4 1724.9,883.1" stroke="#95A464" stroke-width="1.8"/><path d="M1718.7,886.2 L1726.6,886.9" stroke="#95A464" stroke-width="1.6"/><path d="M1697.8,898.0 C1700.7,896.7 1709.3,891.2 1715.4,889.9 C1721.5,888.5 1731.3,889.9 1734.4,889.9" stroke="#95A464" stroke-width="1.8"/><path d="M1727.4,889.9 L1734.2,885.7" stroke="#95A464" stroke-width="1.6"/><path d="M1708.6,884.4 L1708.6,870.9" stroke="#95A464" stroke-width="1.8"/><path d="M1708.6,877.7 L1704.4,870.8" stroke="#95A464" stroke-width="1.6"/><path d="M1670.6,925.2 C1672.4,924.0 1677.4,919.7 1681.5,918.4 C1685.5,917.0 1690.5,917.0 1695.0,917.0 C1699.6,917.0 1706.4,918.2 1708.6,918.4" stroke="#95A464" stroke-width="1.8"/><path d="M1701.8,917.7 L1708.2,922.5" stroke="#95A464" stroke-width="1.6"/><path d="M1657.0,941.5 C1658.4,939.7 1662.0,934.7 1665.2,930.6 C1668.3,926.5 1671.5,923.8 1676.0,917.0 C1680.6,910.2 1689.6,894.4 1692.3,889.9" stroke="#95A464" stroke-width="1.8"/><path d="M1688.7,895.9 L1695.8,892.2" stroke="#95A464" stroke-width="1.6"/><path d="M1640.7,955.0 C1642.3,953.7 1647.7,949.4 1650.2,946.9 C1652.7,944.4 1654.8,941.2 1655.7,940.1" stroke="#95A464" stroke-width="1.8"/><path d="M1653.0,943.5 L1653.9,935.6" stroke="#95A464" stroke-width="1.6"/><path d="M1600.0,1009.4 C1604.5,1007.1 1618.1,999.2 1627.2,995.8 C1636.2,992.4 1645.3,991.7 1654.3,989.0 C1663.4,986.3 1672.4,982.9 1681.5,979.5 C1690.5,976.1 1699.6,972.7 1708.6,968.6 C1717.7,964.5 1726.7,959.1 1735.8,955.0 C1744.8,951.0 1753.9,947.6 1762.9,944.2 C1772.0,940.8 1781.0,937.4 1790.1,934.7 C1799.1,932.0 1810.6,929.7 1817.2,927.9 C1823.9,926.1 1827.9,924.5 1830.0,923.8" stroke="#95A464" stroke-width="2.7"/><path d="M1735.8,955.0 C1738.0,951.9 1746.0,941.7 1749.4,936.0 C1752.7,930.4 1755.0,924.7 1756.1,921.1 C1757.3,917.5 1756.1,915.4 1756.1,914.3" stroke="#95A464" stroke-width="1.8"/><path d="M1749.4,936.0 C1751.6,934.2 1758.4,927.4 1762.9,925.2 C1767.5,922.9 1774.2,922.9 1776.5,922.5" stroke="#95A464" stroke-width="1.8"/><path d="M1769.7,923.8 L1775.6,918.4" stroke="#95A464" stroke-width="1.6"/><path d="M1756.1,921.1 C1758.4,920.0 1765.2,916.1 1769.7,914.3 C1774.2,912.5 1781.0,910.9 1783.3,910.2" stroke="#95A464" stroke-width="1.8"/><path d="M1776.6,912.2 L1784.3,914.3" stroke="#95A464" stroke-width="1.6"/><path d="M1762.9,944.2 C1765.2,943.7 1770.9,942.1 1776.5,941.5 C1782.2,940.8 1788.0,940.3 1796.9,940.1 C1805.8,939.9 1824.5,940.1 1830.0,940.1" stroke="#95A464" stroke-width="2.2"/><path d="M1790.1,934.7 C1792.4,932.4 1800.3,925.5 1803.7,921.1 C1807.1,916.7 1809.3,910.4 1810.5,908.2" stroke="#95A464" stroke-width="1.8"/><path d="M1817.2,927.9 L1830.0,918.4" stroke="#95A464" stroke-width="1.8"/><path d="M1824.4,922.6 L1832.4,921.8" stroke="#95A464" stroke-width="1.6"/><path d="M1722.2,963.2 C1726.7,962.7 1740.3,960.5 1749.4,960.5 C1758.4,960.5 1767.5,961.8 1776.5,963.2 C1785.6,964.5 1799.1,967.7 1803.7,968.6" stroke="#95A464" stroke-width="2.0"/><path d="M1796.8,967.2 L1802.7,972.7" stroke="#95A464" stroke-width="1.6"/><path d="M1749.4,960.5 C1752.7,959.6 1762.9,956.2 1769.7,955.0 C1776.5,953.9 1786.7,953.9 1790.1,953.7" stroke="#95A464" stroke-width="1.8"/><path d="M1783.1,954.2 L1790.2,957.9" stroke="#95A464" stroke-width="1.6"/><path d="M1776.5,963.2 C1778.8,963.6 1785.6,964.3 1790.1,965.9 C1794.6,967.5 1801.4,971.6 1803.7,972.7" stroke="#95A464" stroke-width="1.8"/><path d="M1797.4,969.6 L1801.6,976.4" stroke="#95A464" stroke-width="1.6"/><path d="M1600.0,1022.9 C1604.5,1021.8 1618.1,1018.9 1627.2,1016.1 C1636.2,1013.4 1645.3,1009.6 1654.3,1006.6 C1663.4,1003.7 1672.4,1000.3 1681.5,998.5 C1690.5,996.7 1699.6,996.5 1708.6,995.8 C1717.7,995.1 1728.3,994.6 1735.8,994.4 C1743.2,994.2 1750.5,994.4 1753.4,994.4" stroke="#95A464" stroke-width="2.5"/><path d="M1600.0,1020.2 C1606.8,1019.3 1627.2,1015.5 1640.7,1014.8 C1654.3,1014.1 1670.2,1015.2 1681.5,1016.1 C1692.8,1017.0 1699.6,1019.1 1708.6,1020.2 C1717.7,1021.3 1726.7,1022.3 1735.8,1022.9 C1744.8,1023.6 1755.0,1024.1 1762.9,1024.3 C1770.9,1024.5 1779.9,1024.3 1783.3,1024.3" stroke="#95A464" stroke-width="2.3"/><path d="M1735.8,1022.9 C1739.2,1022.7 1749.4,1022.0 1756.1,1021.6 C1762.9,1021.1 1773.1,1020.4 1776.5,1020.2" stroke="#95A464" stroke-width="1.8"/><path d="M1769.5,1020.7 L1776.1,1016.1" stroke="#95A464" stroke-width="1.6"/><path d="M1735.8,1022.9 C1739.2,1024.1 1749.8,1027.9 1756.1,1029.7 C1762.5,1031.5 1770.9,1033.1 1773.8,1033.8" stroke="#95A464" stroke-width="1.8"/><path d="M1767.0,1032.2 L1772.7,1037.8" stroke="#95A464" stroke-width="1.6"/><path d="M1715.4,1017.5 C1717.7,1017.0 1724.5,1015.7 1729.0,1014.8 C1733.5,1013.9 1740.3,1012.5 1742.6,1012.1" stroke="#95A464" stroke-width="1.8"/><path d="M1600.0,1039.2 C1604.5,1038.8 1618.1,1037.4 1627.2,1036.5 C1636.2,1035.6 1645.3,1034.5 1654.3,1033.8 C1663.4,1033.1 1672.4,1032.4 1681.5,1032.4 C1690.5,1032.4 1700.7,1032.9 1708.6,1033.8 C1716.5,1034.7 1725.6,1037.2 1729.0,1037.9" stroke="#95A464" stroke-width="2.3"/><path d="M1640.7,1036.5 C1643.0,1035.4 1650.9,1031.1 1654.3,1029.7 C1657.7,1028.4 1660.0,1028.6 1661.1,1028.4" stroke="#95A464" stroke-width="1.8"/><path d="M1657.7,1029.0 L1663.6,1023.6" stroke="#95A464" stroke-width="1.6"/><path d="M1600.0,1041.9 C1604.5,1042.8 1618.1,1045.6 1627.2,1047.4 C1636.2,1049.2 1645.3,1051.2 1654.3,1052.8 C1663.4,1054.4 1672.4,1055.1 1681.5,1056.9 C1690.5,1058.7 1702.3,1062.1 1708.6,1063.7 C1715.0,1065.3 1717.7,1065.9 1719.5,1066.4" stroke="#95A464" stroke-width="2.2"/><path d="M1640.7,1048.7 C1643.0,1047.8 1650.5,1044.4 1654.3,1043.3 C1658.2,1042.2 1662.2,1042.2 1663.8,1041.9" stroke="#95A464" stroke-width="1.8"/><path d="M1659.1,1042.6 L1665.2,1037.5" stroke="#95A464" stroke-width="1.6"/><path d="M1667.9,1052.8 C1670.2,1054.2 1676.9,1058.5 1681.5,1061.0 C1686.0,1063.4 1692.8,1066.6 1695.0,1067.7" stroke="#95A464" stroke-width="1.8"/><path d="M1688.8,1064.6 L1696.8,1063.9" stroke="#95A464" stroke-width="1.6"/><path d="M1667.2,954.4 C1666.6,956.7 1665.3,964.7 1663.8,968.6 C1662.3,972.6 1662.2,974.7 1658.4,978.1 C1654.5,981.5 1647.1,985.6 1640.7,989.0 C1634.4,992.4 1623.8,996.9 1620.4,998.5" stroke="#95A464" stroke-width="1.8"/><path d="M1658.4,978.1 C1660.0,977.4 1664.5,975.0 1667.9,974.1 C1671.3,973.1 1676.9,972.9 1678.8,972.7" stroke="#95A464" stroke-width="1.8"/><path d="M1673.3,973.4 L1680.6,976.7" stroke="#95A464" stroke-width="1.6"/><path d="M1658.4,978.1 C1660.0,978.1 1664.5,977.9 1667.9,978.1 C1671.3,978.4 1676.9,979.3 1678.8,979.5" stroke="#95A464" stroke-width="1.8"/><path d="M1673.3,978.8 L1679.6,983.8" stroke="#95A464" stroke-width="1.6"/><path d="M1621.7,957.8 C1620.4,959.6 1617.2,965.0 1613.6,968.6 C1610.0,972.2 1602.3,977.7 1600.0,979.5" stroke="#95A464" stroke-width="1.8"/><path d="M1617.7,963.2 L1625.1,960.2" stroke="#95A464" stroke-width="1.6"/><path d="M1720.8,975.4 C1718.8,975.9 1712.9,977.0 1708.6,978.1 C1704.3,979.3 1699.6,980.6 1695.0,982.2 C1690.5,983.8 1683.7,986.7 1681.5,987.6" stroke="#95A464" stroke-width="1.8"/><path d="M1722.2,987.6 C1719.9,987.2 1713.1,985.1 1708.6,984.9 C1704.1,984.7 1697.3,986.0 1695.0,986.3" stroke="#95A464" stroke-width="1.8"/><path d="M1733.7,1001.9 C1731.8,1001.5 1726.4,1000.4 1722.2,999.9 C1718.0,999.3 1710.9,998.7 1708.6,998.5" stroke="#95A464" stroke-width="1.8"/><path d="M1750.7,1009.4 C1748.2,1009.6 1740.5,1010.0 1735.8,1010.7 C1731.0,1011.4 1724.5,1013.0 1722.2,1013.4" stroke="#95A464" stroke-width="1.8"/><path d="M1600.0,900.7 C1603.4,897.3 1613.6,885.8 1620.4,880.4 C1627.2,874.9 1635.5,870.2 1640.7,868.1 C1645.9,866.1 1649.8,868.1 1651.6,868.1" stroke="#A0949E" stroke-width="2.0"/><path d="M1646.2,868.1 L1653.0,872.3" stroke="#A0949E" stroke-width="1.6"/><path d="M1600.0,887.2 C1602.3,884.9 1609.1,877.7 1613.6,873.6 C1618.1,869.5 1624.9,864.5 1627.2,862.7" stroke="#A0949E" stroke-width="2.0"/><path d="M1621.7,867.1 L1624.4,859.6" stroke="#A0949E" stroke-width="1.6"/><path d="M1627.2,918.4 C1624.9,920.0 1618.1,924.9 1613.6,927.9 C1609.1,930.8 1602.3,934.7 1600.0,936.0" stroke="#A0949E" stroke-width="1.8"/><path d="M1729.0,955.0 C1732.4,953.7 1741.4,949.6 1749.4,946.9 C1757.3,944.2 1767.5,941.7 1776.5,938.8 C1785.6,935.8 1795.8,931.5 1803.7,929.2 C1811.6,927.0 1819.1,925.6 1824.0,925.2 C1829.0,924.7 1832.0,926.3 1833.5,926.5" stroke="#95A464" stroke-width="2.3"/><path d="M1803.7,929.2 C1805.9,927.4 1812.7,921.6 1817.3,918.4 C1821.8,915.2 1827.4,912.3 1830.8,910.2 C1834.2,908.2 1836.5,906.8 1837.6,906.2" stroke="#95A464" stroke-width="1.8"/><path d="M1776.5,938.8 C1778.8,936.5 1785.6,929.2 1790.1,925.2 C1794.6,921.1 1800.3,917.3 1803.7,914.3 C1807.1,911.4 1809.3,908.7 1810.5,907.5" stroke="#95A464" stroke-width="1.8"/><path d="M1749.4,946.9 C1750.5,944.2 1753.2,935.4 1756.2,930.6 C1759.1,925.9 1762.9,922.5 1767.0,918.4 C1771.1,914.3 1778.3,908.2 1780.6,906.2" stroke="#95A464" stroke-width="1.8"/><path d="M1775.4,910.8 L1777.7,903.2" stroke="#95A464" stroke-width="1.6"/><path d="M1756.2,930.6 C1758.4,928.3 1765.2,920.3 1769.7,917.0 C1774.3,913.7 1781.0,911.9 1783.3,910.9" stroke="#95A464" stroke-width="1.8"/><path d="M1776.9,913.8 L1784.9,914.8" stroke="#95A464" stroke-width="1.6"/><path d="M1749.4,946.9 C1751.6,943.7 1758.4,932.0 1762.9,927.9 C1767.5,923.8 1774.3,923.4 1776.5,922.5" stroke="#95A464" stroke-width="1.8"/><path d="M1770.0,925.1 L1777.9,926.4" stroke="#95A464" stroke-width="1.6"/><path d="M1756.2,913.6 C1755.7,916.0 1754.6,923.2 1753.4,927.9 C1752.3,932.5 1750.0,939.2 1749.4,941.5" stroke="#95A464" stroke-width="1.8"/><path d="M1729.0,960.5 C1733.5,959.6 1747.1,957.3 1756.2,955.0 C1765.2,952.8 1774.3,949.2 1783.3,946.9 C1792.4,944.6 1801.6,942.6 1810.5,941.5 C1819.3,940.3 1832.0,940.3 1836.3,940.1" stroke="#95A464" stroke-width="2.2"/><path d="M1769.7,953.7 C1772.0,953.7 1779.9,953.5 1783.3,953.7 C1786.7,953.9 1789.0,954.8 1790.1,955.0" stroke="#95A464" stroke-width="1.8"/><path d="M1786.7,954.4 L1792.6,959.8" stroke="#95A464" stroke-width="1.6"/><path d="M1796.9,944.2 C1800.3,944.4 1810.9,945.1 1817.3,945.5 C1823.6,946.0 1832.0,946.7 1834.9,946.9" stroke="#95A464" stroke-width="1.8"/><path d="M1827.9,946.4 L1834.4,951.1" stroke="#95A464" stroke-width="1.6"/><path d="M1729.0,963.2 C1733.5,963.4 1747.1,964.1 1756.2,964.5 C1765.2,965.0 1776.5,965.2 1783.3,965.9 C1790.1,966.6 1792.8,968.2 1796.9,968.6 C1801.0,969.1 1805.9,968.6 1807.8,968.6" stroke="#95A464" stroke-width="2.0"/><path d="M1802.3,968.6 L1809.1,964.4" stroke="#95A464" stroke-width="1.6"/><path d="M1783.3,965.9 C1785.6,967.0 1793.3,971.1 1796.9,972.7 C1800.5,974.3 1803.7,975.0 1805.0,975.4" stroke="#95A464" stroke-width="1.8"/><path d="M1801.0,974.1 L1806.1,980.2" stroke="#95A464" stroke-width="1.6"/><path d="M1729.0,1022.9 C1733.5,1022.9 1747.1,1022.5 1756.2,1022.9 C1765.2,1023.4 1778.8,1025.2 1783.3,1025.6" stroke="#95A464" stroke-width="2.0"/><path d="M1776.3,1025.0 L1783.5,1021.5" stroke="#95A464" stroke-width="1.6"/><path d="M1742.6,1027.0 C1746.0,1027.7 1757.7,1029.7 1762.9,1031.1 C1768.1,1032.4 1772.0,1034.5 1773.8,1035.2" stroke="#95A464" stroke-width="1.8"/><path d="M1768.4,1033.1 L1776.2,1031.6" stroke="#95A464" stroke-width="1.6"/><path d="M1729.0,995.8 C1731.3,995.6 1738.5,994.6 1742.6,994.4 C1746.7,994.2 1751.6,994.4 1753.4,994.4" stroke="#95A464" stroke-width="1.8"/><path d="M1748.0,994.4 L1754.8,998.6" stroke="#95A464" stroke-width="1.6"/><path d="M1729.0,1012.1 C1731.3,1011.8 1739.0,1011.2 1742.6,1010.7 C1746.2,1010.3 1749.4,1009.6 1750.7,1009.4" stroke="#95A464" stroke-width="1.8"/><path d="M1530.0,1073.6 C1534.5,1073.8 1548.1,1073.8 1557.2,1074.9 C1566.2,1076.1 1575.3,1078.3 1584.3,1080.4 C1593.4,1082.4 1602.4,1084.7 1611.5,1087.2 C1620.5,1089.6 1629.6,1092.8 1638.6,1095.3 C1647.7,1097.8 1654.9,1100.7 1665.8,1102.1 C1676.6,1103.4 1697.5,1103.2 1703.8,1103.4" stroke="#7EA2B4" stroke-width="2.7"/><path d="M1638.6,1098.0 C1643.1,1099.1 1657.9,1103.4 1665.8,1104.8 C1673.7,1106.2 1679.8,1106.2 1686.1,1106.2 C1692.5,1106.2 1700.9,1105.0 1703.8,1104.8" stroke="#7EA2B4" stroke-width="2.0"/><path d="M1696.8,1105.3 L1703.3,1100.7" stroke="#7EA2B4" stroke-width="1.6"/><path d="M1665.8,1102.1 C1670.3,1103.7 1683.9,1109.3 1692.9,1111.6 C1702.0,1113.9 1709.0,1115.0 1720.1,1115.7 C1731.2,1116.3 1752.9,1115.7 1759.5,1115.7" stroke="#7EA2B4" stroke-width="2.3"/><path d="M1692.9,1111.6 C1697.5,1110.9 1712.2,1109.3 1720.1,1107.5 C1728.0,1105.7 1735.0,1104.1 1740.5,1100.7 C1745.9,1097.3 1750.6,1089.4 1752.7,1087.2" stroke="#7EA2B4" stroke-width="2.0"/><path d="M1720.1,1114.3 C1723.5,1113.9 1734.1,1112.7 1740.5,1111.6 C1746.8,1110.5 1755.2,1108.2 1758.1,1107.5" stroke="#7EA2B4" stroke-width="1.8"/><path d="M1604.7,1087.2 C1606.9,1089.4 1612.6,1096.2 1618.3,1100.7 C1623.9,1105.3 1631.8,1110.2 1638.6,1114.3 C1645.4,1118.4 1653.8,1123.4 1659.0,1125.2 C1664.2,1127.0 1668.0,1125.2 1669.9,1125.2" stroke="#7EA2B4" stroke-width="2.3"/><path d="M1638.6,1114.3 C1643.1,1116.6 1657.9,1123.8 1665.8,1127.9 C1673.7,1132.0 1680.5,1134.2 1686.1,1138.8 C1691.8,1143.3 1696.6,1148.9 1699.7,1155.0 C1702.9,1161.2 1704.2,1172.0 1705.2,1175.4" stroke="#7EA2B4" stroke-width="2.2"/><path d="M1665.8,1114.3 C1670.3,1115.4 1685.0,1119.1 1692.9,1121.1 C1700.9,1123.1 1708.8,1125.4 1713.3,1126.5 C1717.8,1127.7 1719.0,1127.7 1720.1,1127.9" stroke="#7EA2B4" stroke-width="1.8"/><path d="M1679.4,1118.4 C1683.9,1120.4 1698.6,1126.8 1706.5,1130.6 C1714.4,1134.5 1722.4,1139.2 1726.9,1141.5 C1731.4,1143.7 1732.5,1143.7 1733.7,1144.2" stroke="#7EA2B4" stroke-width="2.0"/><path d="M1706.5,1130.6 C1709.2,1132.9 1718.5,1140.6 1722.8,1144.2 C1727.1,1147.8 1730.7,1151.0 1732.3,1152.3" stroke="#7EA2B4" stroke-width="1.8"/><path d="M1530.0,1064.1 C1534.5,1064.5 1548.1,1065.9 1557.2,1066.8 C1566.2,1067.7 1575.3,1068.6 1584.3,1069.5 C1593.4,1070.4 1606.9,1071.8 1611.5,1072.2" stroke="#BCBCC0" stroke-width="2.0"/><path d="M1530.0,1091.2 C1532.3,1091.7 1539.1,1093.3 1543.6,1093.9 C1548.1,1094.6 1554.9,1095.1 1557.2,1095.3" stroke="#BCBCC0" stroke-width="1.8"/><path d="M1530.0,1098.0 C1534.5,1099.4 1548.1,1102.8 1557.2,1106.2 C1566.2,1109.6 1575.3,1114.1 1584.3,1118.4 C1593.4,1122.7 1603.5,1127.7 1611.5,1132.0 C1619.4,1136.3 1626.6,1139.7 1631.8,1144.2 C1637.0,1148.7 1640.9,1156.6 1642.7,1159.1" stroke="#BCBCC0" stroke-width="2.0"/><path d="M1530.0,1114.3 C1531.1,1115.4 1534.5,1119.3 1536.8,1121.1 C1539.1,1122.9 1542.4,1124.5 1543.6,1125.2" stroke="#BCBCC0" stroke-width="1.8"/><path d="M1530.0,1183.6 C1534.5,1184.7 1548.1,1188.3 1557.2,1190.3 C1566.2,1192.4 1575.3,1194.6 1584.3,1195.8 C1593.4,1196.9 1602.4,1196.5 1611.5,1197.1 C1620.5,1197.8 1629.6,1198.7 1638.6,1199.9 C1647.7,1201.0 1655.6,1202.1 1665.8,1203.9 C1676.0,1205.7 1694.1,1209.6 1699.7,1210.7" stroke="#BCBCC0" stroke-width="2.2"/><path d="M1638.6,1202.6 C1643.1,1203.7 1657.9,1207.3 1665.8,1209.4 C1673.7,1211.4 1680.5,1213.0 1686.1,1214.8 C1691.8,1216.6 1697.5,1219.3 1699.7,1220.2" stroke="#BCBCC0" stroke-width="1.8"/><path d="M1693.2,1217.6 L1701.1,1216.3" stroke="#BCBCC0" stroke-width="1.6"/><path d="M1530.0,1190.3 C1533.4,1191.3 1544.5,1193.7 1550.4,1195.8 C1556.3,1197.8 1562.8,1201.4 1565.3,1202.6" stroke="#BCBCC0" stroke-width="1.8"/><path d="M1557.2,1194.4 C1560.5,1194.0 1570.7,1192.4 1577.5,1191.7 C1584.3,1191.0 1594.5,1190.6 1597.9,1190.3" stroke="#BCBCC0" stroke-width="1.8"/><path d="M1590.9,1190.8 L1597.4,1186.2" stroke="#BCBCC0" stroke-width="1.6"/><path d="M1530.0,1202.6 C1533.4,1203.5 1544.7,1206.4 1550.4,1208.0 C1556.0,1209.6 1561.7,1211.4 1563.9,1212.1" stroke="#BCBCC0" stroke-width="1.8"/><path d="M1557.2,1210.1 L1562.6,1216.0" stroke="#BCBCC0" stroke-width="1.6"/><path d="M1554.4,1229.7 C1556.0,1235.4 1561.2,1253.6 1563.9,1263.7 C1566.7,1273.7 1569.6,1285.6 1570.7,1290.0" stroke="#BCBCC0" stroke-width="2.0"/><path d="M1569.0,1283.2 L1566.6,1290.9" stroke="#BCBCC0" stroke-width="1.6"/><path d="M1530.0,1205.3 C1533.4,1208.2 1543.6,1217.3 1550.4,1222.9 C1557.2,1228.6 1563.9,1234.0 1570.7,1239.2 C1577.5,1244.4 1584.3,1250.1 1591.1,1254.2 C1597.9,1258.2 1604.7,1261.4 1611.5,1263.7 C1618.3,1265.9 1625.0,1267.3 1631.8,1267.7 C1638.6,1268.2 1644.3,1267.1 1652.2,1266.4 C1660.1,1265.7 1670.3,1264.8 1679.4,1263.7 C1688.4,1262.5 1697.5,1261.4 1706.5,1259.6 C1715.6,1257.8 1724.7,1254.4 1733.7,1252.8 C1742.6,1251.2 1755.6,1250.5 1760.0,1250.1" stroke="#3E9A88" stroke-width="2.9"/><path d="M1570.7,1239.2 C1574.1,1240.4 1583.0,1244.2 1591.1,1246.0 C1599.2,1247.8 1614.9,1249.4 1619.6,1250.1" stroke="#3E9A88" stroke-width="2.0"/><path d="M1612.7,1249.1 L1618.8,1254.2" stroke="#3E9A88" stroke-width="1.6"/><path d="M1652.2,1266.4 C1654.5,1264.8 1661.3,1259.6 1665.8,1256.9 C1670.3,1254.2 1674.8,1252.6 1679.4,1250.1 C1683.9,1247.6 1690.7,1243.3 1692.9,1241.9" stroke="#3E9A88" stroke-width="2.0"/><path d="M1679.4,1263.7 C1681.6,1261.9 1688.9,1255.1 1692.9,1252.8 C1697.0,1250.5 1702.0,1250.5 1703.8,1250.1" stroke="#3E9A88" stroke-width="1.8"/><path d="M1698.4,1251.4 L1704.0,1245.7" stroke="#3E9A88" stroke-width="1.6"/><path d="M1706.5,1259.6 C1709.9,1258.0 1720.5,1252.8 1726.9,1250.1 C1733.2,1247.4 1741.6,1244.4 1744.5,1243.3" stroke="#3E9A88" stroke-width="1.8"/><path d="M1738.0,1245.8 L1745.9,1247.3" stroke="#3E9A88" stroke-width="1.6"/><path d="M1611.5,1263.7 C1613.7,1265.9 1620.5,1272.9 1625.0,1277.2 C1629.6,1281.6 1636.4,1287.9 1638.6,1290.0" stroke="#3E9A88" stroke-width="2.3"/><path d="M1631.8,1277.2 C1635.2,1278.4 1644.3,1281.9 1652.2,1284.0 C1660.1,1286.2 1674.8,1289.0 1679.4,1290.0" stroke="#3E9A88" stroke-width="2.0"/><path d="M1672.5,1288.5 L1678.3,1294.1" stroke="#3E9A88" stroke-width="1.6"/><path d="M1665.8,1290.0 C1670.3,1288.3 1683.9,1283.0 1692.9,1280.0 C1702.0,1276.9 1708.9,1274.3 1720.1,1271.8 C1731.3,1269.3 1753.4,1266.2 1760.0,1265.0" stroke="#3E9A88" stroke-width="2.3"/><path d="M1530.0,1236.5 C1531.8,1241.0 1538.1,1254.7 1540.9,1263.7 C1543.6,1272.6 1545.4,1285.6 1546.3,1290.0" stroke="#8C8CBC" stroke-width="3.1"/><path d="M1600.0,1260.9 C1604.5,1262.2 1620.4,1265.4 1627.2,1269.0 C1633.9,1272.6 1633.9,1277.8 1640.7,1282.6 C1647.5,1287.3 1658.8,1292.8 1667.9,1297.5 C1676.9,1302.3 1686.0,1306.3 1695.0,1311.1 C1704.1,1315.9 1713.1,1321.5 1722.2,1326.0 C1731.3,1330.6 1740.3,1333.3 1749.4,1338.3 C1758.4,1343.2 1767.5,1349.8 1776.5,1355.9 C1785.6,1362.0 1794.7,1368.4 1803.7,1374.9 C1812.6,1381.5 1825.6,1391.9 1830.0,1395.3" stroke="#3E9A88" stroke-width="2.7"/><path d="M1640.7,1282.6 C1645.3,1283.5 1658.8,1288.2 1667.9,1288.0 C1676.9,1287.8 1686.0,1283.9 1695.0,1281.2 C1704.1,1278.5 1713.1,1274.4 1722.2,1271.7 C1731.3,1269.0 1739.4,1266.1 1749.4,1264.9 C1759.3,1263.8 1776.5,1264.9 1781.9,1264.9" stroke="#3E9A88" stroke-width="2.3"/><path d="M1722.2,1271.7 C1726.7,1271.3 1739.6,1268.8 1749.4,1269.0 C1759.1,1269.2 1775.4,1272.4 1780.6,1273.1" stroke="#3E9A88" stroke-width="1.8"/><path d="M1773.6,1272.2 L1779.9,1277.2" stroke="#3E9A88" stroke-width="1.6"/><path d="M1600.0,1260.9 C1606.8,1261.3 1627.2,1263.6 1640.7,1263.6 C1654.3,1263.6 1667.9,1262.2 1681.5,1260.9 C1695.0,1259.5 1708.6,1256.8 1722.2,1255.4 C1735.8,1254.1 1748.9,1252.7 1762.9,1252.7 C1777.0,1252.7 1799.1,1255.0 1806.4,1255.4" stroke="#3E9A88" stroke-width="2.3"/><path d="M1654.3,1263.6 C1656.6,1262.2 1663.4,1257.2 1667.9,1255.4 C1672.4,1253.6 1679.2,1253.2 1681.5,1252.7" stroke="#3E9A88" stroke-width="1.8"/><path d="M1674.7,1254.1 L1680.5,1248.6" stroke="#3E9A88" stroke-width="1.6"/><path d="M1667.9,1298.9 C1672.4,1299.1 1686.0,1300.2 1695.0,1300.2 C1704.1,1300.2 1712.2,1298.4 1722.2,1298.9 C1732.2,1299.3 1749.4,1302.3 1754.8,1303.0" stroke="#3E9A88" stroke-width="2.2"/><path d="M1708.6,1298.9 C1710.9,1297.5 1718.6,1293.0 1722.2,1290.7 C1725.8,1288.5 1729.0,1286.2 1730.3,1285.3" stroke="#3E9A88" stroke-width="1.8"/><path d="M1726.3,1288.0 L1729.6,1280.8" stroke="#3E9A88" stroke-width="1.6"/><path d="M1722.2,1298.9 C1724.5,1298.4 1730.1,1296.2 1735.8,1296.2 C1741.4,1296.2 1752.7,1298.4 1756.1,1298.9" stroke="#3E9A88" stroke-width="1.8"/><path d="M1749.2,1298.0 L1755.4,1303.0" stroke="#3E9A88" stroke-width="1.6"/><path d="M1695.0,1311.1 C1699.6,1309.5 1713.1,1304.5 1722.2,1301.6 C1731.3,1298.7 1740.3,1296.2 1749.4,1293.4 C1758.4,1290.7 1767.5,1287.3 1776.5,1285.3 C1785.6,1283.3 1795.5,1282.4 1803.7,1281.2 C1811.8,1280.1 1821.8,1279.0 1825.4,1278.5" stroke="#3E9A88" stroke-width="2.2"/><path d="M1776.5,1285.3 C1779.9,1285.1 1788.7,1283.9 1796.9,1283.9 C1805.0,1283.9 1820.6,1285.1 1825.4,1285.3" stroke="#3E9A88" stroke-width="1.8"/><path d="M1818.4,1285.0 L1825.0,1289.5" stroke="#3E9A88" stroke-width="1.6"/><path d="M1735.8,1322.0 C1740.3,1321.1 1753.9,1319.0 1762.9,1316.5 C1772.0,1314.0 1778.9,1310.2 1790.1,1307.0 C1801.3,1303.9 1823.4,1299.1 1830.0,1297.5" stroke="#3E9A88" stroke-width="2.2"/><path d="M1776.5,1313.8 C1781.0,1314.3 1794.7,1315.4 1803.7,1316.5 C1812.6,1317.7 1825.6,1319.9 1830.0,1320.6" stroke="#3E9A88" stroke-width="1.8"/><path d="M1823.1,1319.5 L1829.2,1324.7" stroke="#3E9A88" stroke-width="1.6"/><path d="M1749.4,1338.3 C1751.6,1337.6 1758.2,1335.4 1762.9,1334.2 C1767.7,1332.9 1775.4,1331.4 1777.9,1330.8" stroke="#3E9A88" stroke-width="1.8"/><path d="M1762.9,1345.0 C1765.2,1349.1 1773.8,1363.6 1776.5,1369.5 C1779.2,1375.4 1778.8,1378.5 1779.2,1380.3" stroke="#3E9A88" stroke-width="1.8"/><path d="M1777.9,1374.9 L1775.5,1382.5" stroke="#3E9A88" stroke-width="1.6"/><path d="M1776.5,1355.9 C1779.9,1358.2 1789.4,1367.2 1796.9,1369.5 C1804.3,1371.7 1817.2,1369.5 1821.3,1369.5" stroke="#3E9A88" stroke-width="2.0"/><path d="M1814.3,1369.5 L1821.1,1373.7" stroke="#3E9A88" stroke-width="1.6"/><path d="M1796.9,1369.5 C1799.1,1369.9 1806.4,1371.5 1810.5,1372.2 C1814.5,1372.9 1819.5,1373.3 1821.3,1373.6" stroke="#3E9A88" stroke-width="1.8"/><path d="M1815.9,1372.9 L1822.1,1377.9" stroke="#3E9A88" stroke-width="1.6"/><path d="M1627.2,1269.0 C1628.3,1274.9 1631.7,1293.9 1633.9,1304.3 C1636.2,1314.7 1638.5,1322.4 1640.7,1331.5 C1643.0,1340.5 1646.2,1352.3 1647.5,1358.6 C1648.9,1365.0 1648.7,1367.7 1648.9,1369.5" stroke="#3E9A88" stroke-width="2.0"/><path d="M1648.2,1364.1 L1653.2,1370.3" stroke="#3E9A88" stroke-width="1.6"/><path d="M1620.4,1271.7 C1621.5,1276.0 1624.2,1287.6 1627.2,1297.5 C1630.1,1307.5 1634.6,1320.2 1638.0,1331.5 C1641.4,1342.8 1643.7,1356.4 1647.5,1365.4 C1651.4,1374.5 1656.6,1379.0 1661.1,1385.8 C1665.6,1392.6 1671.3,1399.4 1674.7,1406.1 C1678.1,1412.9 1679.2,1421.3 1681.5,1426.5 C1683.7,1431.7 1687.1,1435.6 1688.3,1437.4" stroke="#3E9A88" stroke-width="2.3"/><path d="M1633.9,1304.3 C1636.2,1310.0 1643.0,1326.9 1647.5,1338.3 C1652.0,1349.6 1657.7,1363.1 1661.1,1372.2 C1664.5,1381.3 1667.4,1388.5 1667.9,1392.6 C1668.3,1396.6 1664.5,1396.0 1663.8,1396.6" stroke="#3E9A88" stroke-width="2.0"/><path d="M1665.9,1394.6 L1664.0,1402.4" stroke="#3E9A88" stroke-width="1.6"/><path d="M1681.5,1412.9 C1681.0,1415.2 1679.7,1423.1 1678.8,1426.5 C1677.8,1429.9 1676.5,1432.2 1676.0,1433.3" stroke="#3E9A88" stroke-width="1.8"/><path d="M1677.4,1429.9 L1678.7,1437.8" stroke="#3E9A88" stroke-width="1.6"/><path d="M1654.3,1331.5 C1656.6,1333.7 1664.5,1340.7 1667.9,1345.0 C1671.3,1349.3 1673.5,1355.2 1674.7,1357.3" stroke="#3E9A88" stroke-width="1.8"/><path d="M1654.3,1334.2 C1656.6,1334.0 1663.4,1332.4 1667.9,1332.8 C1672.4,1333.3 1679.2,1336.2 1681.5,1336.9" stroke="#3E9A88" stroke-width="1.8"/><path d="M1674.8,1334.9 L1682.5,1332.8" stroke="#3E9A88" stroke-width="1.6"/><path d="M1661.1,1338.3 C1663.4,1338.9 1671.3,1341.4 1674.7,1342.3 C1678.1,1343.2 1680.3,1343.5 1681.5,1343.7" stroke="#3E9A88" stroke-width="1.8"/><path d="M1678.1,1343.0 L1683.9,1348.4" stroke="#3E9A88" stroke-width="1.6"/><path d="M1640.7,1282.6 C1644.1,1288.5 1654.3,1307.5 1661.1,1317.9 C1667.9,1328.3 1674.7,1336.0 1681.5,1345.0 C1688.3,1354.1 1696.2,1363.1 1701.8,1372.2 C1707.5,1381.3 1710.9,1390.3 1715.4,1399.4 C1719.9,1408.4 1724.5,1417.5 1729.0,1426.5 C1733.5,1435.6 1738.5,1444.7 1742.6,1453.7 C1746.6,1462.6 1751.6,1475.6 1753.4,1480.0" stroke="#3E9A88" stroke-width="2.5"/><path d="M1688.3,1338.3 C1691.6,1337.8 1703.9,1335.8 1708.6,1335.5 C1713.4,1335.3 1715.4,1336.7 1716.8,1336.9" stroke="#3E9A88" stroke-width="1.8"/><path d="M1712.7,1336.2 L1720.1,1333.2" stroke="#3E9A88" stroke-width="1.6"/><path d="M1681.5,1334.2 C1684.9,1334.2 1696.2,1334.2 1701.8,1334.2 C1707.5,1334.2 1713.1,1334.2 1715.4,1334.2" stroke="#3E9A88" stroke-width="1.8"/><path d="M1708.6,1334.2 L1715.4,1330.0" stroke="#3E9A88" stroke-width="1.6"/><path d="M1708.6,1372.2 C1710.9,1369.9 1717.7,1361.3 1722.2,1358.6 C1726.7,1355.9 1731.7,1355.9 1735.8,1355.9 C1739.9,1355.9 1744.8,1358.2 1746.6,1358.6" stroke="#3E9A88" stroke-width="1.8"/><path d="M1741.2,1357.3 L1748.8,1354.9" stroke="#3E9A88" stroke-width="1.6"/><path d="M1722.2,1358.6 C1724.5,1359.3 1731.7,1362.0 1735.8,1362.7 C1739.9,1363.4 1744.8,1362.7 1746.6,1362.7" stroke="#3E9A88" stroke-width="1.8"/><path d="M1741.2,1362.7 L1748.0,1358.5" stroke="#3E9A88" stroke-width="1.6"/><path d="M1695.0,1345.0 C1699.6,1349.6 1714.3,1365.4 1722.2,1372.2 C1730.1,1379.0 1735.3,1380.6 1742.6,1385.8 C1749.8,1391.0 1761.8,1400.5 1765.6,1403.4" stroke="#3E9A88" stroke-width="2.2"/><path d="M1735.8,1372.2 C1738.0,1373.3 1742.8,1375.3 1749.4,1379.0 C1755.9,1382.7 1770.9,1392.0 1775.2,1394.6" stroke="#3E9A88" stroke-width="1.8"/><path d="M1708.6,1412.9 C1710.9,1413.6 1716.5,1415.9 1722.2,1417.0 C1727.9,1418.1 1739.2,1419.3 1742.6,1419.7" stroke="#3E9A88" stroke-width="1.8"/><path d="M1701.8,1399.4 C1704.1,1403.9 1711.6,1418.8 1715.4,1426.5 C1719.3,1434.2 1723.3,1442.4 1724.9,1445.5" stroke="#3E9A88" stroke-width="2.0"/><path d="M1729.0,1426.5 C1730.1,1428.8 1734.2,1437.4 1735.8,1440.1 C1737.4,1442.8 1738.0,1442.4 1738.5,1442.8" stroke="#3E9A88" stroke-width="1.8"/><path d="M1737.1,1441.4 L1739.0,1449.2" stroke="#3E9A88" stroke-width="1.6"/><path d="M1742.6,1358.6 L1745.3,1385.8" stroke="#3E9A88" stroke-width="1.8"/><path d="M1744.6,1378.8 L1749.4,1385.2" stroke="#3E9A88" stroke-width="1.6"/><path d="M1600.0,1317.9 C1602.3,1322.4 1610.2,1336.0 1613.6,1345.0 C1617.0,1354.1 1618.6,1366.5 1620.4,1372.2 C1622.2,1377.9 1623.8,1377.9 1624.4,1379.0" stroke="#BCBCC0" stroke-width="1.8"/><path d="M1622.4,1375.6 L1629.5,1379.3" stroke="#BCBCC0" stroke-width="1.6"/><path d="M1600.0,1419.7 C1602.3,1422.0 1609.1,1428.8 1613.6,1433.3 C1618.1,1437.8 1622.6,1442.4 1627.2,1446.9 C1631.7,1451.4 1633.9,1454.9 1640.7,1460.5 C1647.5,1466.0 1663.4,1476.7 1667.9,1480.0" stroke="#8C8CBC" stroke-width="2.5"/><path d="M1600.0,1440.1 C1602.3,1442.4 1609.1,1449.1 1613.6,1453.7 C1618.1,1458.2 1623.8,1462.9 1627.2,1467.2 C1630.5,1471.6 1632.8,1477.9 1633.9,1480.0" stroke="#8C8CBC" stroke-width="2.2"/><path d="M1729.0,1250.6 C1733.5,1250.6 1747.1,1250.6 1756.2,1250.6 C1765.2,1250.6 1774.9,1251.3 1783.3,1250.6 C1791.7,1249.9 1802.5,1247.2 1806.4,1246.5" stroke="#3E9A88" stroke-width="2.3"/><path d="M1783.3,1250.6 C1785.6,1251.3 1793.0,1253.5 1796.9,1254.7 C1800.7,1255.8 1804.8,1256.9 1806.4,1257.4" stroke="#3E9A88" stroke-width="1.8"/><path d="M1801.6,1256.0 L1809.3,1253.9" stroke="#3E9A88" stroke-width="1.6"/><path d="M1756.2,1250.6 L1769.7,1257.4" stroke="#3E9A88" stroke-width="1.8"/><path d="M1763.5,1254.3 L1771.4,1253.6" stroke="#3E9A88" stroke-width="1.6"/><path d="M1735.8,1249.2 L1743.9,1243.8" stroke="#3E9A88" stroke-width="1.8"/><path d="M1739.9,1246.5 L1743.2,1239.3" stroke="#3E9A88" stroke-width="1.6"/><path d="M1729.0,1272.3 C1732.4,1271.4 1742.6,1268.0 1749.4,1266.9 C1756.2,1265.8 1764.1,1265.5 1769.7,1265.5 C1775.4,1265.5 1781.0,1266.7 1783.3,1266.9" stroke="#3E9A88" stroke-width="2.2"/><path d="M1762.9,1268.3 L1780.6,1273.7" stroke="#3E9A88" stroke-width="1.8"/><path d="M1773.9,1271.6 L1779.2,1277.6" stroke="#3E9A88" stroke-width="1.6"/><path d="M1729.0,1295.4 C1733.5,1294.3 1747.1,1290.4 1756.2,1288.6 C1765.2,1286.8 1774.3,1285.7 1783.3,1284.5 C1792.4,1283.4 1803.2,1283.0 1810.5,1281.8 C1817.7,1280.7 1824.0,1278.4 1826.8,1277.8" stroke="#3E9A88" stroke-width="2.3"/><path d="M1796.9,1283.2 L1826.8,1285.2" stroke="#3E9A88" stroke-width="1.8"/><path d="M1819.8,1284.8 L1826.3,1289.4" stroke="#3E9A88" stroke-width="1.6"/><path d="M1769.7,1287.3 L1786.0,1292.7" stroke="#3E9A88" stroke-width="1.8"/><path d="M1779.4,1290.5 L1787.2,1288.7" stroke="#3E9A88" stroke-width="1.6"/><path d="M1790.1,1284.5 L1803.7,1288.6" stroke="#3E9A88" stroke-width="1.8"/><path d="M1797.0,1286.6 L1802.3,1292.6" stroke="#3E9A88" stroke-width="1.6"/><path d="M1729.0,1298.1 C1731.3,1298.4 1738.1,1299.3 1742.6,1299.5 C1747.1,1299.7 1753.9,1299.5 1756.2,1299.5" stroke="#3E9A88" stroke-width="1.8"/><path d="M1749.4,1299.5 L1756.2,1303.7" stroke="#3E9A88" stroke-width="1.6"/><path d="M1735.8,1302.2 L1756.2,1304.9" stroke="#3E9A88" stroke-width="1.8"/><path d="M1749.2,1304.0 L1755.4,1309.0" stroke="#3E9A88" stroke-width="1.6"/><path d="M1729.0,1325.3 C1733.5,1324.8 1748.2,1324.4 1756.2,1322.6 C1764.1,1320.8 1769.7,1317.4 1776.5,1314.4 C1783.3,1311.5 1790.1,1307.4 1796.9,1304.9 C1803.7,1302.4 1810.5,1300.8 1817.3,1299.5 C1824.0,1298.1 1832.6,1297.6 1837.6,1296.8 C1842.6,1296.0 1845.5,1295.1 1847.1,1294.7" stroke="#3E9A88" stroke-width="2.5"/><path d="M1817.3,1299.5 C1819.5,1299.9 1826.3,1301.5 1830.8,1302.2 C1835.4,1302.9 1842.1,1303.3 1844.4,1303.6" stroke="#3E9A88" stroke-width="1.8"/><path d="M1837.6,1302.9 L1844.0,1307.7" stroke="#3E9A88" stroke-width="1.6"/><path d="M1776.5,1314.4 C1779.9,1314.9 1790.1,1316.7 1796.9,1317.1 C1803.7,1317.6 1809.1,1316.5 1817.3,1317.1 C1825.4,1317.8 1841.0,1320.5 1845.8,1321.2" stroke="#3E9A88" stroke-width="2.2"/><path d="M1817.3,1318.5 L1826.8,1325.3" stroke="#3E9A88" stroke-width="1.8"/><path d="M1822.0,1321.9 L1825.1,1329.3" stroke="#3E9A88" stroke-width="1.6"/><path d="M1830.8,1321.2 L1845.8,1326.6" stroke="#3E9A88" stroke-width="1.8"/><path d="M1839.2,1324.2 L1847.0,1322.6" stroke="#3E9A88" stroke-width="1.6"/><path d="M1729.0,1329.4 C1732.4,1331.2 1743.7,1336.8 1749.4,1340.2 C1755.0,1343.6 1758.4,1346.3 1762.9,1349.7 C1767.5,1353.1 1772.0,1356.7 1776.5,1360.6 C1781.0,1364.4 1784.4,1368.5 1790.1,1372.8 C1795.8,1377.1 1803.7,1381.9 1810.5,1386.4 C1817.3,1390.9 1825.2,1396.0 1830.8,1400.0 C1836.5,1403.9 1842.1,1408.3 1844.4,1410.0" stroke="#3E9A88" stroke-width="2.7"/><path d="M1749.4,1340.2 C1751.6,1339.8 1758.4,1339.1 1762.9,1337.5 C1767.5,1335.9 1774.3,1331.8 1776.5,1330.7" stroke="#3E9A88" stroke-width="1.8"/><path d="M1762.9,1349.7 C1764.1,1352.0 1767.5,1358.8 1769.7,1363.3 C1772.0,1367.8 1775.4,1374.6 1776.5,1376.9" stroke="#3E9A88" stroke-width="1.8"/><path d="M1773.4,1370.6 L1780.2,1374.8" stroke="#3E9A88" stroke-width="1.6"/><path d="M1776.5,1360.6 C1778.8,1361.7 1785.6,1365.8 1790.1,1367.4 C1794.6,1369.0 1798.5,1369.6 1803.7,1370.1 C1808.9,1370.5 1818.4,1370.1 1821.3,1370.1" stroke="#3E9A88" stroke-width="2.0"/><path d="M1814.3,1370.1 L1821.1,1374.3" stroke="#3E9A88" stroke-width="1.6"/><path d="M1810.5,1386.4 C1812.7,1387.5 1818.8,1391.8 1824.0,1393.2 C1829.2,1394.5 1838.8,1394.3 1841.7,1394.5" stroke="#3E9A88" stroke-width="1.8"/><path d="M1834.7,1394.0 L1841.2,1398.7" stroke="#3E9A88" stroke-width="1.6"/><path d="M1729.0,1353.8 C1730.8,1354.2 1736.9,1355.8 1739.9,1356.5 C1742.8,1357.2 1745.5,1357.6 1746.7,1357.9" stroke="#3E9A88" stroke-width="1.8"/><path d="M1743.3,1357.2 L1750.8,1354.4" stroke="#3E9A88" stroke-width="1.6"/><path d="M1729.0,1363.3 C1731.3,1365.6 1738.1,1372.4 1742.6,1376.9 C1747.1,1381.4 1752.3,1385.9 1756.2,1390.5 C1760.0,1395.0 1764.1,1401.8 1765.7,1404.0" stroke="#3E9A88" stroke-width="2.2"/><path d="M1735.8,1370.1 C1737.4,1372.4 1743.5,1381.2 1745.3,1383.7 C1747.1,1386.2 1746.4,1384.8 1746.7,1385.0" stroke="#3E9A88" stroke-width="1.8"/><path d="M1746.0,1384.3 L1747.8,1392.1" stroke="#3E9A88" stroke-width="1.6"/><path d="M1810.5,1382.7 C1812.7,1384.5 1818.8,1391.5 1824.0,1393.6 C1829.2,1395.6 1838.8,1394.7 1841.7,1394.9" stroke="#3E9A88" stroke-width="1.8"/><path d="M1834.7,1394.4 L1841.8,1390.8" stroke="#3E9A88" stroke-width="1.6"/><path d="M1810.5,1382.7 C1813.9,1385.7 1825.2,1395.2 1830.8,1400.4 C1836.5,1405.6 1840.3,1410.1 1844.4,1413.9 C1848.5,1417.8 1853.5,1421.9 1855.3,1423.4" stroke="#3E9A88" stroke-width="2.2"/><path d="M1729.0,1434.3 C1730.1,1436.6 1733.5,1443.4 1735.8,1447.9 C1738.1,1452.4 1740.3,1456.9 1742.6,1461.5 C1744.8,1466.0 1747.1,1470.5 1749.4,1475.0 C1751.6,1479.6 1753.9,1485.2 1756.2,1488.6 C1758.4,1492.0 1761.8,1494.3 1762.9,1495.4" stroke="#3E9A88" stroke-width="2.2"/><path d="M1735.8,1447.9 C1738.1,1450.6 1746.2,1460.6 1749.4,1464.2 C1752.5,1467.8 1753.9,1468.7 1754.8,1469.6" stroke="#3E9A88" stroke-width="1.8"/><path d="M1752.1,1466.9 L1759.9,1468.8" stroke="#3E9A88" stroke-width="1.6"/><path d="M1729.0,1413.9 C1730.1,1414.6 1733.3,1416.9 1735.8,1418.0 C1738.3,1419.1 1742.6,1420.3 1743.9,1420.7" stroke="#3E9A88" stroke-width="1.8"/><path d="M1531.2,1240.0 C1532.6,1244.5 1536.9,1259.2 1539.4,1267.2 C1541.8,1275.1 1545.2,1279.6 1546.1,1287.5 C1547.0,1295.4 1545.9,1305.6 1544.8,1314.7 C1543.7,1323.7 1541.2,1332.8 1539.4,1341.8 C1537.5,1350.9 1535.3,1359.9 1533.9,1369.0 C1532.6,1378.0 1531.9,1386.0 1531.2,1396.1 C1530.5,1406.3 1530.8,1417.8 1529.9,1430.1 C1528.9,1442.4 1526.5,1463.4 1525.8,1470.0" stroke="#8C8CBC" stroke-width="3.2"/><path d="M1546.1,1287.5 C1547.3,1293.2 1550.7,1310.2 1552.9,1321.5 C1555.2,1332.8 1557.5,1345.2 1559.7,1355.4 C1562.0,1365.6 1563.6,1372.4 1566.5,1382.6 C1569.5,1392.7 1574.0,1406.3 1577.4,1416.5 C1580.8,1426.7 1584.2,1434.7 1586.9,1443.7 C1589.6,1452.6 1592.5,1465.6 1593.7,1470.0" stroke="#8C8CBC" stroke-width="2.7"/><path d="M1546.1,1307.9 C1547.3,1312.4 1551.8,1326.0 1552.9,1335.0 C1554.1,1344.1 1553.4,1355.4 1552.9,1362.2 C1552.5,1369.0 1550.7,1373.5 1550.2,1375.8" stroke="#8C8CBC" stroke-width="1.8"/><path d="M1551.6,1369.0 L1554.3,1376.5" stroke="#8C8CBC" stroke-width="1.6"/><path d="M1559.7,1355.4 C1560.9,1358.8 1563.6,1370.1 1566.5,1375.8 C1569.5,1381.4 1574.0,1382.6 1577.4,1389.4 C1580.8,1396.1 1583.0,1407.5 1586.9,1416.5 C1590.7,1425.6 1596.2,1434.7 1600.5,1443.7 C1604.8,1452.6 1610.6,1465.6 1612.7,1470.0" stroke="#8C8CBC" stroke-width="2.3"/><path d="M1580.1,1396.1 C1582.4,1399.5 1590.3,1408.6 1593.7,1416.5 C1597.1,1424.4 1598.2,1436.9 1600.5,1443.7 C1602.7,1450.5 1606.1,1455.0 1607.2,1457.2" stroke="#8C8CBC" stroke-width="1.8"/><path d="M1604.1,1451.0 L1610.9,1455.2" stroke="#8C8CBC" stroke-width="1.6"/><path d="M1593.7,1416.5 C1595.9,1418.8 1603.8,1426.9 1607.2,1430.1 C1610.6,1433.3 1612.9,1434.6 1614.0,1435.5" stroke="#8C8CBC" stroke-width="1.8"/><path d="M1610.6,1432.8 L1618.6,1433.8" stroke="#8C8CBC" stroke-width="1.6"/><path d="M1539.4,1341.8 C1537.1,1345.2 1530.3,1355.4 1525.8,1362.2 C1521.3,1369.0 1516.3,1374.6 1512.2,1382.6 C1508.1,1390.5 1504.7,1400.7 1501.3,1409.7 C1497.9,1418.8 1494.5,1426.8 1491.8,1436.9 C1489.1,1446.9 1486.2,1464.5 1485.0,1470.0" stroke="#8C8CBC" stroke-width="2.7"/><path d="M1525.8,1362.2 C1523.5,1363.3 1516.3,1365.6 1512.2,1369.0 C1508.1,1372.4 1503.1,1380.3 1501.3,1382.6" stroke="#8C8CBC" stroke-width="1.8"/><path d="M1505.7,1377.1 L1498.2,1379.8" stroke="#8C8CBC" stroke-width="1.6"/><path d="M1501.3,1409.7 C1502.0,1410.9 1504.5,1414.9 1505.4,1416.5 C1506.3,1418.1 1506.5,1418.8 1506.8,1419.2" stroke="#8C8CBC" stroke-width="1.8"/><path d="M1506.1,1417.9 L1505.4,1425.8" stroke="#8C8CBC" stroke-width="1.6"/><path d="M1531.2,1396.1 C1531.4,1399.5 1531.7,1412.0 1532.6,1416.5 C1533.5,1421.0 1536.0,1422.2 1536.6,1423.3" stroke="#8C8CBC" stroke-width="1.8"/><path d="M1534.6,1419.9 L1541.7,1423.6" stroke="#8C8CBC" stroke-width="1.6"/><path d="M1529.9,1430.1 C1528.0,1431.2 1522.6,1435.3 1519.0,1436.9 C1515.4,1438.5 1509.9,1439.1 1508.1,1439.6" stroke="#8C8CBC" stroke-width="1.8"/><path d="M1513.6,1438.2 L1505.9,1435.8" stroke="#8C8CBC" stroke-width="1.6"/><path d="M1544.8,1307.9 C1539.4,1309.0 1522.2,1312.9 1512.2,1314.7 C1502.2,1316.5 1494.1,1317.6 1485.0,1318.8 C1476.0,1319.9 1466.9,1319.9 1457.9,1321.5 C1448.8,1323.1 1438.4,1326.4 1430.7,1328.3 C1423.0,1330.1 1414.9,1331.6 1411.7,1332.3" stroke="#8C8CBC" stroke-width="2.3"/><path d="M1457.9,1321.5 C1457.4,1322.1 1457.0,1324.2 1455.2,1325.5 C1453.4,1326.9 1448.4,1328.9 1447.0,1329.6" stroke="#8C8CBC" stroke-width="1.8"/><path d="M1451.1,1327.6 L1446.9,1334.4" stroke="#8C8CBC" stroke-width="1.6"/><path d="M1539.4,1335.0 C1534.8,1338.4 1521.3,1349.8 1512.2,1355.4 C1503.1,1361.1 1494.1,1366.0 1485.0,1369.0 C1476.0,1371.9 1466.7,1373.5 1457.9,1373.1 C1449.1,1372.6 1436.4,1367.4 1432.1,1366.3" stroke="#8C8CBC" stroke-width="2.5"/><path d="M1457.9,1373.1 C1455.6,1373.5 1448.8,1374.9 1444.3,1375.8 C1439.8,1376.7 1433.0,1378.0 1430.7,1378.5" stroke="#8C8CBC" stroke-width="1.8"/><path d="M1437.5,1377.1 L1431.7,1382.6" stroke="#8C8CBC" stroke-width="1.6"/><path d="M1485.0,1369.0 C1481.6,1371.3 1471.5,1379.2 1464.7,1382.6 C1457.9,1386.0 1450.6,1386.6 1444.3,1389.4 C1438.0,1392.1 1429.6,1397.3 1426.7,1398.9" stroke="#8C8CBC" stroke-width="2.2"/><path d="M1464.7,1382.6 C1463.5,1384.8 1459.7,1392.7 1457.9,1396.1 C1456.1,1399.5 1454.5,1401.8 1453.8,1402.9" stroke="#8C8CBC" stroke-width="1.8"/><path d="M1455.9,1399.5 L1448.8,1403.2" stroke="#8C8CBC" stroke-width="1.6"/><path d="M1512.2,1355.4 C1508.8,1358.8 1498.6,1369.0 1491.8,1375.8 C1485.0,1382.6 1478.3,1389.4 1471.5,1396.1 C1464.7,1402.9 1457.9,1409.7 1451.1,1416.5 C1444.3,1423.3 1437.5,1430.1 1430.7,1436.9 C1423.9,1443.7 1415.3,1451.7 1410.4,1457.2 C1405.4,1462.8 1402.4,1467.9 1400.9,1470.0" stroke="#8C8CBC" stroke-width="2.7"/><path d="M1451.1,1416.5 C1448.8,1417.0 1442.0,1418.8 1437.5,1419.2 C1433.0,1419.7 1426.2,1419.2 1423.9,1419.2" stroke="#8C8CBC" stroke-width="1.8"/><path d="M1430.7,1419.2 L1423.9,1415.0" stroke="#8C8CBC" stroke-width="1.6"/><path d="M1498.6,1375.8 C1495.2,1380.3 1483.9,1393.9 1478.3,1402.9 C1472.6,1412.0 1468.5,1422.2 1464.7,1430.1 C1460.8,1438.0 1456.8,1447.1 1455.2,1450.5" stroke="#8C8CBC" stroke-width="2.2"/><path d="M1444.3,1402.9 C1442.0,1405.2 1435.3,1412.0 1430.7,1416.5 C1426.2,1421.0 1421.7,1425.6 1417.2,1430.1 C1412.6,1434.6 1408.1,1440.3 1403.6,1443.7 C1399.1,1447.1 1392.3,1449.3 1390.0,1450.5" stroke="#8C8CBC" stroke-width="2.2"/><path d="M1417.2,1416.5 C1414.9,1416.7 1406.5,1417.4 1403.6,1417.9 C1400.6,1418.3 1400.2,1419.0 1399.5,1419.2" stroke="#8C8CBC" stroke-width="1.8"/><path d="M1401.5,1418.5 L1396.4,1424.7" stroke="#8C8CBC" stroke-width="1.6"/><path d="M1485.0,1416.5 C1482.8,1419.9 1475.5,1430.1 1471.5,1436.9 C1467.4,1443.7 1463.3,1451.7 1460.6,1457.2 C1457.9,1462.8 1456.1,1467.9 1455.2,1470.0" stroke="#8C8CBC" stroke-width="2.2"/><path d="M1528.5,1246.8 C1523.5,1249.1 1508.1,1257.0 1498.6,1260.4 C1489.1,1263.8 1480.5,1265.1 1471.5,1267.2 C1462.4,1269.2 1452.2,1271.7 1444.3,1272.6 C1436.4,1273.5 1427.3,1272.6 1423.9,1272.6" stroke="#BCBCC0" stroke-width="2.2"/><path d="M1528.5,1260.4 C1524.6,1262.6 1512.7,1270.5 1505.4,1273.9 C1498.2,1277.3 1493.0,1277.8 1485.0,1280.7 C1477.1,1283.7 1466.9,1288.4 1457.9,1291.6 C1448.8,1294.8 1439.8,1297.5 1430.7,1299.7 C1421.7,1302.0 1410.4,1303.4 1403.6,1305.2 C1396.8,1307.0 1392.3,1309.7 1390.0,1310.6" stroke="#BCBCC0" stroke-width="2.3"/><path d="M1539.4,1280.7 C1536.0,1281.9 1524.6,1285.3 1519.0,1287.5 C1513.3,1289.8 1507.7,1293.2 1505.4,1294.3" stroke="#BCBCC0" stroke-width="1.8"/><path d="M1546.1,1294.3 C1542.7,1296.6 1533.7,1305.2 1525.8,1307.9 C1517.9,1310.6 1507.7,1309.5 1498.6,1310.6 C1489.6,1311.7 1480.5,1313.3 1471.5,1314.7 C1462.4,1316.0 1453.4,1317.2 1444.3,1318.8 C1435.3,1320.3 1426.2,1322.6 1417.2,1324.2 C1408.1,1325.8 1394.5,1327.6 1390.0,1328.3" stroke="#BCBCC0" stroke-width="2.3"/><path d="M1390.0,1291.6 C1393.4,1290.5 1403.6,1286.6 1410.4,1284.8 C1417.2,1283.0 1427.3,1281.4 1430.7,1280.7" stroke="#BCBCC0" stroke-width="1.8"/><path d="M1396.6,1289.4 L1391.5,1295.5" stroke="#BCBCC0" stroke-width="1.6"/><path d="M1552.9,1240.0 C1554.3,1246.8 1559.5,1271.2 1561.1,1280.7 C1562.7,1290.2 1562.2,1294.3 1562.4,1297.0" stroke="#BCBCC0" stroke-width="1.8"/><path d="M1566.5,1240.0 C1567.6,1246.8 1569.9,1268.3 1573.3,1280.7 C1576.7,1293.2 1583.9,1307.9 1586.9,1314.7 C1589.8,1321.5 1590.3,1320.3 1591.0,1321.5" stroke="#BCBCC0" stroke-width="2.0"/><path d="M1580.1,1246.8 C1582.4,1252.4 1589.1,1268.3 1593.7,1280.7 C1598.2,1293.2 1603.4,1305.6 1607.2,1321.5 C1611.1,1337.3 1615.2,1366.7 1616.7,1375.8" stroke="#BCBCC0" stroke-width="2.0"/><path d="M1615.5,1368.9 L1620.8,1374.9" stroke="#BCBCC0" stroke-width="1.6"/><path d="M1573.3,1240.0 C1576.7,1241.8 1585.9,1246.3 1593.7,1250.9 C1601.5,1255.4 1615.6,1264.4 1620.0,1267.2" stroke="#3E9A88" stroke-width="2.3"/><path d="M1580.1,1244.1 C1584.6,1246.8 1600.6,1255.4 1607.2,1260.4 C1613.9,1265.3 1617.9,1271.7 1620.0,1273.9" stroke="#3E9A88" stroke-width="2.2"/><path d="M1525.8,1464.0 C1525.3,1470.8 1524.2,1491.2 1523.1,1504.7 C1521.9,1518.3 1520.8,1531.9 1519.0,1545.5 C1517.2,1559.0 1514.2,1574.9 1512.2,1586.2 C1510.2,1597.5 1508.6,1604.3 1506.8,1613.4 C1505.0,1622.4 1502.7,1633.3 1501.3,1640.5 C1500.0,1647.8 1500.0,1652.3 1498.6,1656.8 C1497.3,1661.3 1494.1,1665.9 1493.2,1667.7" stroke="#8C8CBC" stroke-width="2.7"/><path d="M1525.8,1464.0 C1524.6,1466.3 1521.3,1474.0 1519.0,1477.6 C1516.7,1481.2 1513.3,1484.4 1512.2,1485.7" stroke="#8C8CBC" stroke-width="1.8"/><path d="M1515.6,1481.7 L1514.4,1489.6" stroke="#8C8CBC" stroke-width="1.6"/><path d="M1523.1,1497.9 C1521.3,1499.1 1516.3,1502.5 1512.2,1504.7 C1508.1,1507.0 1503.1,1508.4 1498.6,1511.5 C1494.1,1514.7 1487.3,1521.7 1485.0,1523.7" stroke="#8C8CBC" stroke-width="2.0"/><path d="M1498.6,1511.5 C1497.5,1513.8 1493.2,1519.9 1491.8,1525.1 C1490.5,1530.3 1490.7,1539.8 1490.5,1542.8" stroke="#8C8CBC" stroke-width="1.8"/><path d="M1491.0,1535.8 L1486.3,1542.3" stroke="#8C8CBC" stroke-width="1.6"/><path d="M1519.0,1525.1 C1517.9,1527.4 1514.5,1534.2 1512.2,1538.7 C1509.9,1543.2 1507.2,1548.9 1505.4,1552.3 C1503.6,1555.6 1502.0,1557.9 1501.3,1559.0" stroke="#8C8CBC" stroke-width="1.8"/><path d="M1503.4,1555.6 L1503.5,1563.6" stroke="#8C8CBC" stroke-width="1.6"/><path d="M1516.3,1559.0 C1515.1,1560.9 1512.4,1566.1 1509.5,1569.9 C1506.5,1573.8 1500.4,1580.1 1498.6,1582.1" stroke="#8C8CBC" stroke-width="2.0"/><path d="M1509.5,1572.6 C1507.7,1576.0 1502.2,1586.9 1498.6,1593.0 C1495.0,1599.1 1489.6,1606.6 1487.8,1609.3" stroke="#8C8CBC" stroke-width="1.8"/><path d="M1491.6,1603.5 L1491.3,1611.5" stroke="#8C8CBC" stroke-width="1.6"/><path d="M1506.8,1586.2 C1505.4,1588.5 1500.4,1595.7 1498.6,1599.8 C1496.8,1603.9 1496.4,1608.8 1495.9,1610.6" stroke="#8C8CBC" stroke-width="1.8"/><path d="M1497.3,1605.2 L1491.6,1610.8" stroke="#8C8CBC" stroke-width="1.6"/><path d="M1508.1,1613.4 C1507.7,1615.6 1507.0,1621.3 1505.4,1626.9 C1503.8,1632.6 1502.0,1641.6 1498.6,1647.3 C1495.2,1653.0 1487.3,1658.6 1485.0,1660.9" stroke="#8C8CBC" stroke-width="2.0"/><path d="M1490.0,1655.9 L1482.2,1657.8" stroke="#8C8CBC" stroke-width="1.6"/><path d="M1506.8,1626.9 L1509.5,1643.2" stroke="#8C8CBC" stroke-width="1.8"/><path d="M1508.3,1636.3 L1513.6,1642.4" stroke="#8C8CBC" stroke-width="1.6"/><path d="M1505.4,1640.5 L1504.7,1658.2" stroke="#8C8CBC" stroke-width="1.8"/><path d="M1565.2,1464.0 C1564.9,1468.5 1564.2,1482.1 1563.8,1491.2 C1563.3,1500.2 1563.1,1510.4 1562.4,1518.3 C1561.8,1526.2 1560.9,1531.9 1559.7,1538.7 C1558.6,1545.5 1556.8,1552.3 1555.6,1559.0 C1554.5,1565.8 1553.4,1576.0 1552.9,1579.4" stroke="#8C8CBC" stroke-width="2.5"/><path d="M1563.8,1491.2 C1562.0,1493.0 1555.9,1498.6 1552.9,1502.0 C1550.0,1505.4 1547.3,1509.9 1546.1,1511.5" stroke="#8C8CBC" stroke-width="1.8"/><path d="M1549.5,1506.8 L1542.2,1509.9" stroke="#8C8CBC" stroke-width="1.6"/><path d="M1562.4,1504.7 C1564.2,1506.5 1570.4,1512.2 1573.3,1515.6 C1576.2,1519.0 1579.0,1523.5 1580.1,1525.1" stroke="#8C8CBC" stroke-width="1.8"/><path d="M1576.7,1520.3 L1577.3,1528.3" stroke="#8C8CBC" stroke-width="1.6"/><path d="M1559.7,1538.7 C1558.1,1539.8 1552.5,1543.2 1550.2,1545.5 C1548.0,1547.7 1546.8,1551.1 1546.1,1552.3" stroke="#8C8CBC" stroke-width="1.8"/><path d="M1548.2,1548.9 L1541.1,1552.6" stroke="#8C8CBC" stroke-width="1.6"/><path d="M1562.4,1531.9 C1563.6,1534.2 1566.7,1541.4 1569.2,1545.5 C1571.7,1549.5 1576.0,1554.5 1577.4,1556.3" stroke="#8C8CBC" stroke-width="1.8"/><path d="M1573.3,1550.9 L1580.7,1553.8" stroke="#8C8CBC" stroke-width="1.6"/><path d="M1558.4,1545.5 C1558.4,1550.0 1558.4,1567.0 1558.4,1572.6 C1558.4,1578.3 1558.4,1578.3 1558.4,1579.4" stroke="#8C8CBC" stroke-width="1.8"/><path d="M1552.9,1464.0 C1552.5,1466.3 1551.6,1473.1 1550.2,1477.6 C1548.9,1482.1 1545.7,1488.9 1544.8,1491.2" stroke="#8C8CBC" stroke-width="1.8"/><path d="M1547.4,1484.7 L1548.7,1492.5" stroke="#8C8CBC" stroke-width="1.6"/><path d="M1600.5,1464.0 C1600.0,1468.5 1597.7,1482.1 1597.7,1491.2 C1597.7,1500.2 1599.3,1510.6 1600.5,1518.3 C1601.6,1526.0 1603.8,1534.2 1604.5,1537.3" stroke="#8C8CBC" stroke-width="2.3"/><path d="M1607.2,1464.0 C1608.1,1468.5 1610.5,1483.2 1612.7,1491.2 C1614.8,1499.1 1618.8,1508.1 1620.0,1511.5" stroke="#8C8CBC" stroke-width="2.2"/><path d="M1607.2,1504.7 C1607.7,1509.3 1609.1,1526.9 1610.0,1531.9 C1610.9,1536.9 1612.2,1534.2 1612.7,1534.6" stroke="#8C8CBC" stroke-width="1.8"/><path d="M1464.7,1464.0 C1465.4,1465.1 1467.6,1468.5 1468.8,1470.8 C1469.9,1473.1 1471.0,1476.4 1471.5,1477.6" stroke="#8C8CBC" stroke-width="1.8"/><path d="M1470.1,1474.2 L1476.5,1479.0" stroke="#8C8CBC" stroke-width="1.6"/><path d="M1390.0,1477.6 C1391.4,1476.4 1395.9,1473.1 1398.1,1470.8 C1400.4,1468.5 1402.7,1465.1 1403.6,1464.0" stroke="#8C8CBC" stroke-width="1.8"/><path d="M1394.1,1474.2 L1391.5,1481.8" stroke="#8C8CBC" stroke-width="1.6"/><path d="M1399.5,1484.4 L1400.9,1470.8" stroke="#8C8CBC" stroke-width="1.8"/><path d="M1400.2,1477.6 L1395.3,1483.9" stroke="#8C8CBC" stroke-width="1.6"/><path d="M1543.4,1464.0 C1543.7,1466.3 1543.7,1474.2 1544.8,1477.6 C1545.9,1481.0 1549.3,1483.2 1550.2,1484.4" stroke="#8C8CBC" stroke-width="1.8"/><path d="M1547.5,1481.0 L1555.0,1483.7" stroke="#8C8CBC" stroke-width="1.6"/><path d="M1603.4,1440.0 C1606.4,1444.5 1615.9,1457.0 1621.1,1467.2 C1626.3,1477.3 1630.8,1489.8 1634.7,1501.1 C1638.5,1512.4 1640.8,1523.7 1644.2,1535.0 C1647.6,1546.4 1651.9,1557.7 1655.0,1569.0 C1658.2,1580.3 1660.9,1592.7 1663.2,1602.9 C1665.5,1613.1 1667.0,1622.2 1668.6,1630.1 C1670.2,1638.0 1672.0,1647.1 1672.7,1650.5" stroke="#8C8CBC" stroke-width="2.5"/><path d="M1603.4,1440.0 C1606.4,1442.3 1614.8,1449.1 1621.1,1453.6 C1627.4,1458.1 1634.7,1462.6 1641.5,1467.2 C1648.3,1471.7 1656.6,1476.9 1661.8,1480.7 C1667.0,1484.6 1670.9,1488.7 1672.7,1490.2" stroke="#8C8CBC" stroke-width="2.2"/><path d="M1641.5,1467.2 L1648.3,1476.7" stroke="#8C8CBC" stroke-width="1.8"/><path d="M1644.9,1471.9 L1645.4,1479.9" stroke="#8C8CBC" stroke-width="1.6"/><path d="M1621.1,1467.2 C1624.5,1470.5 1634.7,1481.9 1641.5,1487.5 C1648.3,1493.2 1656.2,1496.6 1661.8,1501.1 C1667.5,1505.6 1671.8,1510.8 1675.4,1514.7 C1679.0,1518.5 1682.2,1522.6 1683.6,1524.2" stroke="#8C8CBC" stroke-width="2.2"/><path d="M1634.7,1497.0 C1636.3,1497.7 1641.0,1499.5 1644.2,1501.1 C1647.4,1502.7 1652.1,1505.6 1653.7,1506.5" stroke="#8C8CBC" stroke-width="1.8"/><path d="M1648.9,1503.8 L1652.8,1510.8" stroke="#8C8CBC" stroke-width="1.6"/><path d="M1661.8,1501.1 C1663.0,1503.4 1666.6,1510.2 1668.6,1514.7 C1670.7,1519.2 1673.1,1526.0 1674.1,1528.3" stroke="#8C8CBC" stroke-width="1.8"/><path d="M1671.5,1521.8 L1670.1,1529.6" stroke="#8C8CBC" stroke-width="1.6"/><path d="M1592.6,1440.0 C1593.5,1444.5 1595.5,1458.1 1598.0,1467.2 C1600.5,1476.2 1604.4,1486.4 1607.5,1494.3 C1610.7,1502.2 1614.3,1509.0 1617.0,1514.7 C1619.7,1520.3 1622.7,1526.0 1623.8,1528.3" stroke="#8C8CBC" stroke-width="2.2"/><path d="M1607.5,1501.1 C1606.8,1503.4 1604.1,1509.0 1603.4,1514.7 C1602.8,1520.3 1603.4,1531.6 1603.4,1535.0" stroke="#8C8CBC" stroke-width="1.8"/><path d="M1598.0,1467.2 C1597.6,1469.4 1596.0,1477.1 1595.3,1480.7 C1594.6,1484.4 1594.2,1487.5 1593.9,1488.9" stroke="#8C8CBC" stroke-width="1.8"/><path d="M1594.6,1484.8 L1597.6,1492.2" stroke="#8C8CBC" stroke-width="1.6"/><path d="M1614.3,1487.5 C1615.7,1489.8 1620.2,1497.0 1622.5,1501.1 C1624.7,1505.2 1627.0,1510.2 1627.9,1512.0" stroke="#8C8CBC" stroke-width="1.8"/><path d="M1625.2,1506.5 L1624.5,1514.5" stroke="#8C8CBC" stroke-width="1.6"/><path d="M1573.6,1440.0 C1572.4,1444.5 1568.8,1458.1 1566.8,1467.2 C1564.8,1476.2 1562.3,1489.8 1561.4,1494.3" stroke="#8C8CBC" stroke-width="2.2"/><path d="M1560.0,1494.3 C1562.3,1496.6 1570.2,1505.2 1573.6,1507.9 C1577.0,1510.6 1579.2,1510.2 1580.4,1510.6" stroke="#8C8CBC" stroke-width="1.8"/><path d="M1577.0,1509.2 L1584.9,1507.9" stroke="#8C8CBC" stroke-width="1.6"/><path d="M1560.0,1514.7 C1562.3,1515.8 1570.2,1519.2 1573.6,1521.5 C1577.0,1523.7 1579.2,1527.1 1580.4,1528.3" stroke="#8C8CBC" stroke-width="1.8"/><path d="M1577.0,1524.9 L1578.8,1532.6" stroke="#8C8CBC" stroke-width="1.6"/><path d="M1560.0,1535.0 C1561.8,1537.3 1568.6,1545.2 1570.9,1548.6 C1573.1,1552.0 1573.1,1554.3 1573.6,1555.4" stroke="#8C8CBC" stroke-width="1.8"/><path d="M1572.2,1552.0 L1570.9,1559.9" stroke="#8C8CBC" stroke-width="1.6"/><path d="M1644.2,1535.0 C1646.0,1538.4 1652.8,1551.3 1655.0,1555.4 C1657.3,1559.5 1657.3,1558.8 1657.8,1559.5" stroke="#8C8CBC" stroke-width="1.8"/><path d="M1655.0,1569.0 C1656.9,1571.3 1663.4,1578.7 1665.9,1582.6 C1668.4,1586.4 1669.3,1590.5 1670.0,1592.1" stroke="#8C8CBC" stroke-width="1.8"/><path d="M1667.9,1587.3 L1674.5,1591.9" stroke="#8C8CBC" stroke-width="1.6"/><path d="M1663.2,1602.9 C1664.5,1605.2 1669.1,1613.1 1671.3,1616.5 C1673.6,1619.9 1675.9,1622.2 1676.8,1623.3" stroke="#8C8CBC" stroke-width="1.8"/><path d="M1674.1,1619.9 L1675.0,1627.8" stroke="#8C8CBC" stroke-width="1.6"/><path d="M1668.6,1630.1 C1670.0,1631.2 1674.7,1634.4 1676.8,1636.9 C1678.8,1639.4 1680.2,1643.7 1680.8,1645.0" stroke="#8C8CBC" stroke-width="1.8"/><path d="M1678.8,1641.0 L1685.6,1645.2" stroke="#8C8CBC" stroke-width="1.6"/><path d="M1722.9,1440.0 C1725.2,1443.4 1732.0,1453.6 1736.5,1460.4 C1741.0,1467.2 1746.0,1474.6 1750.1,1480.7 C1754.2,1486.8 1759.1,1494.3 1761.0,1497.0" stroke="#3E9A88" stroke-width="2.2"/><path d="M1736.5,1460.4 L1752.8,1468.5" stroke="#3E9A88" stroke-width="1.8"/><path d="M1746.5,1465.4 L1750.8,1472.2" stroke="#3E9A88" stroke-width="1.6"/><path d="M1336.5,1090.0 C1333.1,1087.4 1322.9,1080.0 1316.1,1074.5 C1309.4,1069.0 1302.6,1064.3 1295.8,1056.9 C1289.0,1049.4 1281.1,1037.6 1275.4,1029.7 C1269.8,1021.8 1265.7,1016.1 1261.8,1009.4 C1258.0,1002.6 1254.6,995.8 1252.3,989.0 C1250.1,982.2 1248.7,974.3 1248.3,968.6 C1247.8,963.0 1248.5,958.7 1249.6,955.0 C1250.7,951.4 1254.1,948.3 1255.0,946.9" stroke="#B3A470" stroke-width="2.5"/><path d="M1249.6,955.0 C1248.7,953.9 1245.8,949.6 1244.2,948.3 C1242.6,946.9 1240.8,947.1 1240.1,946.9" stroke="#B3A470" stroke-width="1.8"/><path d="M1242.1,947.6 L1237.0,941.5" stroke="#B3A470" stroke-width="1.6"/><path d="M1255.0,946.9 L1257.8,949.6" stroke="#B3A470" stroke-width="1.8"/><path d="M1256.4,948.3 L1248.6,946.4" stroke="#B3A470" stroke-width="1.6"/><path d="M1252.3,989.0 C1250.1,986.7 1242.4,979.9 1238.8,975.4 C1235.1,970.9 1232.9,965.7 1230.6,961.8 C1228.3,958.0 1226.1,953.9 1225.2,952.3" stroke="#B3A470" stroke-width="2.2"/><path d="M1230.6,961.8 C1229.2,961.2 1224.3,958.9 1222.5,957.8 C1220.6,956.6 1220.2,955.5 1219.7,955.0" stroke="#B3A470" stroke-width="1.8"/><path d="M1221.1,956.4 L1219.2,948.6" stroke="#B3A470" stroke-width="1.6"/><path d="M1295.8,1056.9 C1292.4,1054.6 1282.2,1047.8 1275.4,1043.3 C1268.6,1038.8 1261.8,1034.7 1255.0,1029.7 C1248.3,1024.7 1241.5,1018.0 1234.7,1013.4 C1227.9,1008.9 1221.1,1005.5 1214.3,1002.6 C1207.5,999.6 1197.3,996.9 1193.9,995.8" stroke="#B3A470" stroke-width="2.3"/><path d="M1214.3,1002.6 C1212.0,1002.6 1204.4,1002.6 1200.7,1002.6 C1197.1,1002.6 1193.9,1002.6 1192.6,1002.6" stroke="#B3A470" stroke-width="1.8"/><path d="M1196.7,1002.6 L1189.8,998.4" stroke="#B3A470" stroke-width="1.6"/><path d="M1234.7,1013.4 C1233.5,1011.6 1229.2,1005.3 1227.9,1002.6 C1226.5,999.9 1226.8,998.0 1226.5,997.1" stroke="#B3A470" stroke-width="1.8"/><path d="M1227.2,999.9 L1229.6,992.2" stroke="#B3A470" stroke-width="1.6"/><path d="M1309.4,1070.5 C1304.8,1068.2 1290.1,1061.4 1282.2,1056.9 C1274.3,1052.4 1268.6,1046.9 1261.8,1043.3 C1255.0,1039.7 1249.4,1036.5 1241.5,1035.2 C1233.5,1033.8 1218.8,1035.2 1214.3,1035.2" stroke="#B3A470" stroke-width="2.3"/><path d="M1241.5,1035.2 L1227.9,1027.0" stroke="#B3A470" stroke-width="1.8"/><path d="M1233.9,1030.6 L1225.9,1030.7" stroke="#B3A470" stroke-width="1.6"/><path d="M1255.0,1029.7 L1234.7,1018.9" stroke="#B3A470" stroke-width="1.8"/><path d="M1240.9,1022.2 L1236.8,1015.3" stroke="#B3A470" stroke-width="1.6"/><path d="M1268.6,1033.8 L1267.3,1022.9" stroke="#B3A470" stroke-width="1.8"/><path d="M1267.9,1028.4 L1271.2,1021.1" stroke="#B3A470" stroke-width="1.6"/><path d="M1275.4,1029.7 C1277.7,1028.6 1286.5,1024.7 1289.0,1022.9 C1291.5,1021.1 1290.1,1019.5 1290.3,1018.9" stroke="#B3A470" stroke-width="1.8"/><path d="M1281.7,1026.6 L1273.7,1025.9" stroke="#B3A470" stroke-width="1.6"/><path d="M1295.8,1056.9 C1295.8,1054.6 1296.2,1047.6 1295.8,1043.3 C1295.3,1039.0 1293.5,1033.1 1293.1,1031.1" stroke="#B3A470" stroke-width="1.8"/><path d="M1294.4,1037.2 L1288.9,1031.4" stroke="#B3A470" stroke-width="1.6"/><path d="M1316.1,1074.5 C1312.7,1074.1 1302.6,1072.7 1295.8,1071.8 C1289.0,1070.9 1282.0,1069.8 1275.4,1069.1 C1268.8,1068.4 1259.6,1068.0 1256.4,1067.7" stroke="#B3A470" stroke-width="2.2"/><path d="M1282.2,1077.2 L1268.6,1077.2" stroke="#B3A470" stroke-width="1.8"/><path d="M1390.0,941.5 C1385.6,938.8 1370.3,929.7 1363.7,925.2 C1357.0,920.6 1354.6,917.7 1350.1,914.3 C1345.6,910.9 1340.8,907.3 1336.5,904.8 C1332.2,902.3 1326.3,900.3 1324.3,899.4" stroke="#BCBCC0" stroke-width="2.2"/><path d="M1336.5,904.8 L1331.1,895.3" stroke="#BCBCC0" stroke-width="1.8"/><path d="M1333.8,900.1 L1334.0,892.1" stroke="#BCBCC0" stroke-width="1.6"/><path d="M1390.0,948.3 C1385.6,947.6 1371.7,945.3 1363.7,944.2 C1355.7,943.1 1345.6,941.9 1341.9,941.5" stroke="#BCBCC0" stroke-width="2.2"/><path d="M1363.7,944.2 L1341.9,948.3" stroke="#BCBCC0" stroke-width="1.8"/><path d="M1348.8,947.0 L1342.9,952.3" stroke="#BCBCC0" stroke-width="1.6"/><path d="M1390.0,934.7 C1385.6,931.7 1373.5,919.7 1363.7,917.0 C1353.8,914.3 1336.5,918.2 1331.1,918.4" stroke="#BCBCC0" stroke-width="2.0"/><path d="M1338.1,918.1 L1331.4,922.6" stroke="#BCBCC0" stroke-width="1.6"/><path d="M1390.0,984.9 C1387.9,984.5 1380.3,982.4 1377.2,982.2 C1374.2,982.0 1372.7,983.3 1371.8,983.6" stroke="#BCBCC0" stroke-width="1.8"/><path d="M1370.5,1033.8 C1372.0,1033.6 1376.7,1032.9 1380.0,1032.4 C1383.2,1032.0 1388.3,1031.3 1390.0,1031.1" stroke="#BCBCC0" stroke-width="1.8"/><path d="M1375.2,1033.1 L1369.0,1038.2" stroke="#BCBCC0" stroke-width="1.6"/><path d="M1509.1,1021.5 C1505.9,1018.1 1497.8,1006.8 1490.1,1001.1 C1482.4,995.4 1472.0,992.5 1462.9,987.5 C1453.9,982.5 1444.8,975.8 1435.8,971.2 C1426.7,966.7 1417.7,963.8 1408.6,960.4 C1399.6,957.0 1392.8,953.1 1381.5,950.9 C1370.2,948.6 1347.5,947.5 1340.7,946.8" stroke="#BCBCC0" stroke-width="2.3"/><path d="M1509.1,1028.3 C1505.9,1024.9 1497.8,1013.1 1490.1,1007.9 C1482.4,1002.7 1472.0,999.7 1462.9,997.0 C1453.9,994.3 1444.8,993.0 1435.8,991.6 C1426.7,990.2 1418.6,990.0 1408.6,988.9 C1398.7,987.7 1381.5,985.5 1376.0,984.8" stroke="#BCBCC0" stroke-width="2.2"/><path d="M1490.1,1007.9 C1487.8,1007.4 1481.5,1005.6 1476.5,1005.2 C1471.5,1004.7 1462.9,1005.2 1460.2,1005.2" stroke="#BCBCC0" stroke-width="1.8"/><path d="M1506.4,1035.0 C1503.7,1033.9 1496.2,1030.5 1490.1,1028.3 C1484.0,1026.0 1476.5,1023.5 1469.7,1021.5 C1462.9,1019.4 1454.1,1017.8 1449.4,1016.0 C1444.6,1014.2 1442.6,1011.5 1441.2,1010.6" stroke="#BCBCC0" stroke-width="2.2"/><path d="M1469.7,1021.5 L1462.9,1007.9" stroke="#BCBCC0" stroke-width="1.8"/><path d="M1506.4,1048.6 C1503.7,1047.5 1497.3,1044.1 1490.1,1041.8 C1482.8,1039.6 1472.0,1037.3 1462.9,1035.0 C1453.9,1032.8 1444.8,1030.1 1435.8,1028.3 C1426.7,1026.4 1417.7,1025.3 1408.6,1024.2 C1399.6,1023.1 1387.8,1020.1 1381.5,1021.5 C1375.1,1022.8 1372.4,1030.5 1370.6,1032.3" stroke="#BCBCC0" stroke-width="2.2"/><path d="M1503.7,1062.2 C1500.3,1061.1 1490.1,1057.7 1483.3,1055.4 C1476.5,1053.1 1470.9,1050.7 1462.9,1048.6 C1455.0,1046.6 1444.8,1043.9 1435.8,1043.2 C1426.7,1042.5 1416.1,1043.6 1408.6,1044.5 C1401.2,1045.5 1393.9,1047.9 1391.0,1048.6" stroke="#BCBCC0" stroke-width="2.0"/><path d="M1397.8,1047.0 L1392.1,1052.7" stroke="#BCBCC0" stroke-width="1.6"/><path d="M1503.7,1075.8 C1501.4,1073.5 1494.6,1066.3 1490.1,1062.2 C1485.6,1058.1 1479.9,1054.1 1476.5,1051.3 C1473.1,1048.6 1470.9,1046.8 1469.7,1045.9" stroke="#BCBCC0" stroke-width="1.8"/><path d="M1503.7,1082.6 C1499.1,1081.4 1485.6,1077.8 1476.5,1075.8 C1467.5,1073.7 1457.3,1071.9 1449.4,1070.3 C1441.4,1068.8 1435.8,1067.2 1429.0,1066.3 C1422.2,1065.4 1416.5,1065.1 1408.6,1064.9 C1400.7,1064.7 1386.0,1064.9 1381.5,1064.9" stroke="#BCBCC0" stroke-width="2.2"/><path d="M1503.7,1096.1 C1499.1,1095.0 1485.6,1091.6 1476.5,1089.4 C1467.5,1087.1 1458.4,1083.9 1449.4,1082.6 C1440.3,1081.2 1431.3,1081.2 1422.2,1081.2 C1413.1,1081.2 1402.7,1081.7 1395.0,1082.6 C1387.4,1083.5 1379.2,1086.0 1376.0,1086.6" stroke="#BCBCC0" stroke-width="2.2"/><path d="M1503.7,1102.9 C1499.1,1101.8 1485.6,1097.7 1476.5,1096.1 C1467.5,1094.6 1460.0,1093.9 1449.4,1093.4 C1438.7,1093.0 1418.8,1093.4 1412.7,1093.4" stroke="#BCBCC0" stroke-width="1.8"/><path d="M1503.7,1112.4 C1496.9,1113.1 1474.2,1115.2 1462.9,1116.5 C1451.6,1117.9 1445.5,1119.2 1435.8,1120.6 C1426.0,1121.9 1409.8,1124.0 1404.5,1124.7" stroke="#BCBCC0" stroke-width="2.0"/><path d="M1503.7,1123.3 C1496.9,1124.4 1474.2,1128.3 1462.9,1130.1 C1451.6,1131.9 1444.8,1133.0 1435.8,1134.2 C1426.7,1135.3 1418.8,1136.7 1408.6,1136.9 C1398.4,1137.1 1380.3,1135.7 1374.7,1135.5" stroke="#BCBCC0" stroke-width="2.2"/><path d="M1503.7,1130.1 C1499.1,1131.9 1485.6,1138.2 1476.5,1141.0 C1467.5,1143.7 1458.4,1145.3 1449.4,1146.4 C1440.3,1147.5 1431.3,1147.7 1422.2,1147.7 C1413.1,1147.7 1403.2,1147.5 1395.0,1146.4 C1386.9,1145.3 1376.9,1141.9 1373.3,1141.0" stroke="#BCBCC0" stroke-width="2.2"/><path d="M1503.7,1143.7 C1499.1,1145.0 1485.6,1149.5 1476.5,1151.8 C1467.5,1154.1 1458.4,1156.1 1449.4,1157.2 C1440.3,1158.4 1431.3,1158.6 1422.2,1158.6 C1413.1,1158.6 1399.6,1157.5 1395.0,1157.2" stroke="#BCBCC0" stroke-width="2.0"/><path d="M1402.0,1157.6 L1395.4,1153.1" stroke="#BCBCC0" stroke-width="1.6"/><path d="M1503.7,1157.2 C1499.1,1158.4 1485.6,1161.9 1476.5,1164.0 C1467.5,1166.2 1453.9,1169.0 1449.4,1170.0" stroke="#BCBCC0" stroke-width="2.0"/><path d="M1530.0,1082.6 C1527.9,1083.7 1521.2,1087.1 1517.2,1089.4 C1513.3,1091.6 1508.2,1095.0 1506.4,1096.1" stroke="#BCBCC0" stroke-width="1.8"/><path d="M1530.0,1102.9 L1517.2,1102.9" stroke="#BCBCC0" stroke-width="1.8"/><path d="M1530.0,1116.5 L1517.2,1112.4" stroke="#BCBCC0" stroke-width="1.8"/><path d="M1462.9,987.5 C1460.7,985.3 1453.9,977.3 1449.4,973.9 C1444.8,970.5 1438.0,968.3 1435.8,967.2" stroke="#BCBCC0" stroke-width="1.8"/><path d="M1442.0,970.3 L1437.8,963.5" stroke="#BCBCC0" stroke-width="1.6"/><path d="M1503.7,1107.0 C1496.9,1107.2 1476.5,1107.7 1462.9,1108.4 C1449.4,1109.0 1435.8,1110.2 1422.2,1111.1 C1408.6,1112.0 1395.0,1113.1 1381.5,1113.8 C1367.9,1114.5 1354.3,1114.7 1340.7,1115.2 C1327.2,1115.6 1306.8,1116.3 1300.0,1116.5" stroke="#C8C2AC" stroke-width="3.2"/><path d="M1487.4,940.0 C1489.2,944.2 1494.7,956.7 1498.0,965.0 C1501.3,973.3 1504.7,982.5 1507.0,990.0 C1509.3,997.5 1511.2,1006.7 1512.0,1010.0" stroke="#A8929F" stroke-width="3.4"/><path d="M1512.0,1008.0 C1511.8,1010.3 1511.2,1012.5 1511.0,1022.0 C1510.8,1031.5 1511.0,1054.3 1510.5,1065.0 C1510.0,1075.7 1509.2,1079.5 1508.0,1086.0 C1506.8,1092.5 1503.7,1095.7 1503.5,1104.0 C1503.3,1112.3 1505.5,1123.7 1507.0,1136.0 C1508.5,1148.3 1510.9,1164.0 1512.6,1178.0 C1514.3,1192.0 1515.1,1210.8 1517.0,1220.0 C1518.9,1229.2 1521.7,1229.3 1524.0,1233.0 C1526.3,1236.7 1529.8,1240.5 1531.0,1242.0" stroke="#A6A6BC" stroke-width="3.4"/><path d="M1350.0,1117.5 C1343.4,1117.7 1323.5,1118.4 1310.1,1118.9 C1296.6,1119.3 1280.7,1119.8 1269.4,1120.2 C1258.0,1120.7 1251.3,1120.9 1242.2,1121.6 C1233.1,1122.3 1223.2,1123.9 1215.0,1124.3 C1206.9,1124.8 1196.9,1124.3 1193.3,1124.3" stroke="#B3A470" stroke-width="2.9"/><path d="M1269.4,1120.2 C1267.1,1118.7 1259.2,1114.6 1255.8,1110.7 C1252.4,1106.9 1251.0,1100.1 1249.0,1097.2 C1247.0,1094.2 1244.5,1093.8 1243.6,1093.1" stroke="#B3A470" stroke-width="1.8"/><path d="M1246.3,1095.1 L1238.3,1094.4" stroke="#B3A470" stroke-width="1.6"/><path d="M1255.8,1110.7 L1251.7,1110.7" stroke="#B3A470" stroke-width="1.8"/><path d="M1253.7,1110.7 L1246.9,1114.9" stroke="#B3A470" stroke-width="1.6"/><path d="M1242.2,1121.6 C1239.9,1119.8 1232.0,1113.2 1228.6,1110.7 C1225.2,1108.2 1224.1,1108.0 1221.8,1106.7 C1219.6,1105.3 1216.2,1103.3 1215.0,1102.6" stroke="#B3A470" stroke-width="2.0"/><path d="M1215.0,1124.3 C1212.8,1123.9 1205.1,1122.5 1201.5,1121.6 C1197.8,1120.7 1194.7,1119.3 1193.3,1118.9" stroke="#B3A470" stroke-width="1.8"/><path d="M1197.4,1120.2 L1192.2,1114.1" stroke="#B3A470" stroke-width="1.6"/><path d="M1215.0,1124.3 C1212.8,1125.4 1204.9,1128.2 1201.5,1131.1 C1198.1,1134.0 1195.8,1140.2 1194.7,1142.0" stroke="#B3A470" stroke-width="1.8"/><path d="M1198.1,1136.5 L1198.0,1144.5" stroke="#B3A470" stroke-width="1.6"/><path d="M1215.0,1127.0 C1216.9,1128.2 1223.6,1132.5 1225.9,1133.8 C1228.2,1135.2 1228.2,1134.9 1228.6,1135.2" stroke="#B3A470" stroke-width="1.8"/><path d="M1220.5,1130.4 L1212.5,1130.4" stroke="#B3A470" stroke-width="1.6"/><path d="M1337.2,1135.2 C1332.7,1136.8 1319.1,1142.0 1310.1,1144.7 C1301.0,1147.4 1292.0,1149.4 1282.9,1151.5 C1273.9,1153.5 1264.8,1155.1 1255.8,1156.9 C1246.7,1158.7 1237.7,1160.5 1228.6,1162.3 C1219.6,1164.1 1210.5,1165.5 1201.5,1167.8 C1192.4,1170.0 1182.2,1173.6 1174.3,1175.9 C1166.4,1178.2 1157.3,1180.4 1153.9,1181.3" stroke="#B3A470" stroke-width="2.7"/><path d="M1296.5,1146.0 C1294.2,1145.6 1287.0,1144.2 1282.9,1143.3 C1278.9,1142.4 1273.9,1141.1 1272.1,1140.6" stroke="#B3A470" stroke-width="1.8"/><path d="M1277.5,1142.0 L1269.9,1144.4" stroke="#B3A470" stroke-width="1.6"/><path d="M1255.8,1156.9 C1253.5,1156.0 1245.1,1153.3 1242.2,1151.5 C1239.3,1149.7 1238.8,1146.9 1238.1,1146.0" stroke="#B3A470" stroke-width="1.8"/><path d="M1240.2,1148.8 L1232.7,1145.8" stroke="#B3A470" stroke-width="1.6"/><path d="M1228.6,1162.3 L1208.3,1159.6" stroke="#B3A470" stroke-width="1.8"/><path d="M1215.2,1160.5 L1207.9,1163.8" stroke="#B3A470" stroke-width="1.6"/><path d="M1201.5,1167.8 C1199.2,1167.3 1192.2,1165.5 1187.9,1165.0 C1183.6,1164.6 1177.7,1165.0 1175.7,1165.0" stroke="#B3A470" stroke-width="1.8"/><path d="M1181.8,1165.0 L1175.0,1169.2" stroke="#B3A470" stroke-width="1.6"/><path d="M1310.1,1144.7 C1301.0,1145.8 1267.8,1150.3 1255.8,1151.5 C1243.8,1152.6 1241.1,1151.5 1238.1,1151.5" stroke="#B3A470" stroke-width="2.0"/><path d="M1245.1,1151.5 L1238.3,1147.3" stroke="#B3A470" stroke-width="1.6"/><path d="M1242.2,1165.0 C1237.7,1167.3 1224.1,1174.1 1215.0,1178.6 C1206.0,1183.1 1195.8,1187.7 1187.9,1192.2 C1180.0,1196.7 1172.5,1202.4 1167.5,1205.8 C1162.5,1209.2 1159.6,1211.4 1158.0,1212.6" stroke="#B3A470" stroke-width="2.3"/><path d="M1215.0,1178.6 C1213.9,1180.9 1210.5,1188.1 1208.3,1192.2 C1206.0,1196.3 1202.6,1201.3 1201.5,1203.1" stroke="#B3A470" stroke-width="1.8"/><path d="M1204.9,1197.6 L1197.7,1201.2" stroke="#B3A470" stroke-width="1.6"/><path d="M1228.6,1171.8 C1227.3,1174.1 1222.7,1180.9 1220.5,1185.4 C1218.2,1189.9 1215.9,1196.7 1215.0,1199.0" stroke="#B3A470" stroke-width="1.8"/><path d="M1217.6,1192.5 L1219.0,1200.4" stroke="#B3A470" stroke-width="1.6"/><path d="M1187.9,1192.2 C1185.6,1192.7 1178.8,1194.5 1174.3,1194.9 C1169.8,1195.4 1163.0,1194.9 1160.7,1194.9" stroke="#B3A470" stroke-width="1.8"/><path d="M1167.5,1194.9 L1160.7,1190.7" stroke="#B3A470" stroke-width="1.6"/><path d="M1323.7,1137.9 C1321.4,1140.2 1313.5,1148.1 1310.1,1151.5 C1306.7,1154.9 1306.0,1153.7 1303.3,1158.3 C1300.6,1162.8 1297.2,1173.0 1293.8,1178.6 C1290.4,1184.3 1287.0,1187.7 1282.9,1192.2 C1278.9,1196.7 1273.9,1202.4 1269.4,1205.8 C1264.8,1209.2 1261.4,1210.3 1255.8,1212.6 C1250.1,1214.8 1242.2,1216.6 1235.4,1219.4 C1228.6,1222.1 1220.7,1226.1 1215.0,1228.9 C1209.4,1231.6 1203.7,1234.5 1201.5,1235.6" stroke="#B3A470" stroke-width="2.7"/><path d="M1293.8,1178.6 C1294.7,1180.9 1297.2,1187.7 1299.2,1192.2 C1301.3,1196.7 1304.7,1201.9 1306.0,1205.8 C1307.4,1209.6 1307.1,1213.7 1307.4,1215.3" stroke="#B3A470" stroke-width="2.0"/><path d="M1306.7,1210.5 L1303.5,1217.9" stroke="#B3A470" stroke-width="1.6"/><path d="M1282.9,1192.2 C1281.8,1194.5 1277.5,1200.8 1276.1,1205.8 C1274.8,1210.8 1275.0,1219.4 1274.8,1222.1" stroke="#B3A470" stroke-width="1.8"/><path d="M1275.4,1215.1 L1270.6,1221.5" stroke="#B3A470" stroke-width="1.6"/><path d="M1269.4,1199.0 C1267.1,1198.3 1258.3,1196.5 1255.8,1194.9 C1253.3,1193.3 1254.6,1190.4 1254.4,1189.5" stroke="#B3A470" stroke-width="1.8"/><path d="M1282.9,1185.4 C1279.5,1186.5 1268.9,1189.7 1262.6,1192.2 C1256.2,1194.7 1247.9,1199.0 1244.9,1200.3" stroke="#B3A470" stroke-width="1.8"/><path d="M1282.9,1192.2 C1278.4,1195.6 1262.6,1206.9 1255.8,1212.6 C1249.0,1218.2 1246.7,1221.6 1242.2,1226.1 C1237.7,1230.7 1233.1,1235.2 1228.6,1239.7 C1224.1,1244.2 1219.6,1248.8 1215.0,1253.3 C1210.5,1257.8 1206.0,1262.4 1201.5,1266.9 C1196.9,1271.4 1191.7,1274.9 1187.9,1280.5 C1184.0,1286.0 1180.0,1296.7 1178.4,1300.0" stroke="#B3A470" stroke-width="2.5"/><path d="M1269.4,1205.8 C1267.1,1209.2 1258.3,1220.5 1255.8,1226.1 C1253.3,1231.8 1255.1,1235.0 1254.4,1239.7 C1253.7,1244.5 1252.2,1252.2 1251.7,1254.7" stroke="#B3A470" stroke-width="1.8"/><path d="M1255.8,1226.1 C1253.5,1228.4 1245.6,1234.1 1242.2,1239.7 C1238.8,1245.4 1237.7,1254.4 1235.4,1260.1 C1233.1,1265.7 1230.0,1270.0 1228.6,1273.7 C1227.3,1277.3 1227.5,1280.5 1227.3,1281.8" stroke="#B3A470" stroke-width="2.0"/><path d="M1242.2,1239.7 C1239.9,1242.0 1233.1,1248.8 1228.6,1253.3 C1224.1,1257.8 1218.2,1262.1 1215.0,1266.9 C1211.9,1271.6 1210.5,1279.3 1209.6,1281.8" stroke="#B3A470" stroke-width="2.0"/><path d="M1215.0,1253.3 C1212.8,1253.1 1206.0,1252.2 1201.5,1251.9 C1196.9,1251.7 1192.9,1250.7 1187.9,1251.9 C1182.9,1253.2 1174.3,1258.2 1171.6,1259.4" stroke="#B3A470" stroke-width="1.8"/><path d="M1201.5,1266.9 C1198.1,1267.6 1187.9,1269.8 1181.1,1271.0 C1174.3,1272.1 1166.4,1273.2 1160.7,1273.7 C1155.1,1274.1 1149.4,1273.7 1147.2,1273.7" stroke="#B3A470" stroke-width="2.0"/><path d="M1153.9,1273.7 L1147.1,1269.5" stroke="#B3A470" stroke-width="1.6"/><path d="M1187.9,1280.5 C1185.6,1280.9 1180.0,1282.0 1174.3,1283.2 C1168.7,1284.3 1157.3,1286.6 1153.9,1287.2" stroke="#B3A470" stroke-width="1.8"/><path d="M1160.8,1285.9 L1153.3,1283.1" stroke="#B3A470" stroke-width="1.6"/><path d="M1201.5,1266.9 C1200.3,1269.1 1195.8,1274.9 1194.7,1280.5 C1193.5,1286.0 1194.7,1296.7 1194.7,1300.0" stroke="#B3A470" stroke-width="1.8"/><path d="M1249.0,1239.7 C1247.2,1243.1 1240.2,1253.8 1238.1,1260.1 C1236.1,1266.4 1237.0,1274.8 1236.8,1277.7" stroke="#B3A470" stroke-width="1.8"/><path d="M1237.3,1270.8 L1241.0,1277.9" stroke="#B3A470" stroke-width="1.6"/><path d="M1511.8,1156.8 C1505.9,1157.0 1489.2,1157.5 1476.5,1158.1 C1463.8,1158.8 1449.4,1160.0 1435.8,1160.9 C1422.2,1161.8 1401.8,1163.1 1395.0,1163.6" stroke="#BCBCC0" stroke-width="2.0"/><path d="M1402.0,1163.1 L1395.5,1167.7" stroke="#BCBCC0" stroke-width="1.6"/><path d="M1511.8,1170.4 C1505.9,1170.8 1489.2,1172.0 1476.5,1173.1 C1463.8,1174.2 1447.1,1175.6 1435.8,1177.2 C1424.5,1178.7 1416.5,1181.2 1408.6,1182.6 C1400.7,1183.9 1391.6,1184.8 1388.3,1185.3" stroke="#BCBCC0" stroke-width="2.2"/><path d="M1514.5,1183.9 C1508.2,1184.8 1489.6,1187.6 1476.5,1189.4 C1463.4,1191.2 1447.1,1192.8 1435.8,1194.8 C1424.5,1196.8 1415.4,1199.6 1408.6,1201.6 C1401.8,1203.6 1397.3,1206.1 1395.0,1207.0" stroke="#BCBCC0" stroke-width="2.0"/><path d="M1401.5,1204.4 L1396.8,1210.8" stroke="#BCBCC0" stroke-width="1.6"/><path d="M1517.2,1197.5 C1510.5,1198.2 1487.8,1200.0 1476.5,1201.6 C1465.2,1203.2 1458.4,1205.7 1449.4,1207.0 C1440.3,1208.4 1429.4,1209.7 1422.2,1209.7 C1415.0,1209.7 1408.6,1207.5 1405.9,1207.0" stroke="#BCBCC0" stroke-width="2.2"/><path d="M1520.0,1211.1 C1515.0,1211.8 1499.6,1213.6 1490.1,1215.2 C1480.6,1216.8 1472.0,1219.2 1462.9,1220.6 C1453.9,1222.0 1444.8,1222.4 1435.8,1223.3 C1426.7,1224.2 1415.9,1225.1 1408.6,1226.0 C1401.4,1226.9 1395.0,1228.3 1392.3,1228.8" stroke="#BCBCC0" stroke-width="2.0"/><path d="M1399.2,1227.6 L1393.2,1232.8" stroke="#BCBCC0" stroke-width="1.6"/><path d="M1524.0,1224.7 C1518.4,1225.4 1500.3,1227.6 1490.1,1228.8 C1479.9,1229.9 1472.0,1230.6 1462.9,1231.5 C1453.9,1232.4 1440.3,1233.7 1435.8,1234.2" stroke="#BCBCC0" stroke-width="1.8"/><path d="M1442.7,1233.5 L1436.4,1238.3" stroke="#BCBCC0" stroke-width="1.6"/><path d="M1525.4,1238.3 C1519.5,1239.4 1500.5,1243.0 1490.1,1245.0 C1479.7,1247.1 1472.0,1248.7 1462.9,1250.5 C1453.9,1252.3 1444.8,1254.5 1435.8,1255.9 C1426.7,1257.3 1413.1,1258.2 1408.6,1258.6" stroke="#BCBCC0" stroke-width="2.0"/><path d="M1415.6,1257.9 L1409.2,1262.8" stroke="#BCBCC0" stroke-width="1.6"/><path d="M1528.1,1251.8 C1521.8,1253.0 1501.0,1256.6 1490.1,1258.6 C1479.2,1260.7 1472.0,1262.2 1462.9,1264.1 C1453.9,1265.9 1442.6,1268.1 1435.8,1269.5 C1429.0,1270.8 1429.0,1271.3 1422.2,1272.2 C1415.4,1273.1 1399.6,1274.5 1395.0,1274.9" stroke="#BCBCC0" stroke-width="2.2"/><path d="M1528.1,1265.4 C1521.8,1266.5 1501.0,1269.9 1490.1,1272.2 C1479.2,1274.5 1472.0,1276.7 1462.9,1279.0 C1453.9,1281.3 1444.8,1283.7 1435.8,1285.8 C1426.7,1287.8 1417.7,1290.1 1408.6,1291.2 C1399.6,1292.3 1388.5,1293.5 1381.5,1292.6 C1374.5,1291.7 1369.0,1286.9 1366.5,1285.8" stroke="#BCBCC0" stroke-width="2.2"/><path d="M1476.5,1190.7 C1474.2,1188.5 1467.5,1181.7 1462.9,1177.2 C1458.4,1172.6 1451.6,1165.8 1449.4,1163.6" stroke="#BCBCC0" stroke-width="1.8"/><path d="M1435.8,1223.3 C1438.0,1222.4 1444.8,1219.2 1449.4,1217.9 C1453.9,1216.5 1460.7,1215.6 1462.9,1215.2" stroke="#BCBCC0" stroke-width="1.8"/><path d="M1442.3,1220.7 L1437.5,1227.1" stroke="#BCBCC0" stroke-width="1.6"/><path d="M1381.5,1292.6 C1378.1,1293.2 1367.9,1294.4 1361.1,1296.6 C1354.3,1298.9 1347.5,1303.4 1340.7,1306.1 C1333.9,1308.9 1327.2,1310.7 1320.4,1312.9 C1313.6,1315.2 1303.4,1318.6 1300.0,1319.7" stroke="#BCBCC0" stroke-width="2.0"/><path d="M1306.6,1317.5 L1298.8,1315.7" stroke="#BCBCC0" stroke-width="1.6"/><path d="M1408.6,1291.2 C1404.1,1292.6 1390.5,1295.7 1381.5,1299.4 C1372.4,1303.0 1363.4,1308.9 1354.3,1312.9 C1345.3,1317.0 1336.2,1320.4 1327.2,1323.8 C1318.1,1327.2 1304.5,1331.7 1300.0,1333.3" stroke="#BCBCC0" stroke-width="2.0"/><path d="M1306.6,1331.0 L1298.8,1329.3" stroke="#BCBCC0" stroke-width="1.6"/><path d="M1300.0,1340.1 C1304.5,1339.0 1318.1,1335.6 1327.2,1333.3 C1336.2,1331.0 1349.8,1327.6 1354.3,1326.5" stroke="#BCBCC0" stroke-width="1.8"/><path d="M1306.8,1338.4 L1301.2,1344.1" stroke="#BCBCC0" stroke-width="1.6"/><path d="M1530.0,1299.4 C1525.6,1300.5 1512.6,1304.3 1503.7,1306.1 C1494.7,1308.0 1485.6,1309.1 1476.5,1310.2 C1467.5,1311.3 1458.4,1311.3 1449.4,1312.9 C1440.3,1314.5 1431.3,1317.5 1422.2,1319.7 C1413.1,1322.0 1404.1,1324.2 1395.0,1326.5 C1386.0,1328.8 1374.7,1331.0 1367.9,1333.3 C1361.1,1335.6 1356.6,1339.0 1354.3,1340.1" stroke="#8C8CBC" stroke-width="2.7"/><path d="M1503.7,1306.1 C1501.4,1305.0 1494.6,1300.5 1490.1,1299.4 C1485.6,1298.2 1478.8,1299.4 1476.5,1299.4" stroke="#8C8CBC" stroke-width="1.8"/><path d="M1497.4,1303.0 L1505.4,1302.3" stroke="#8C8CBC" stroke-width="1.6"/><path d="M1517.2,1319.7 C1512.7,1320.9 1499.1,1324.2 1490.1,1326.5 C1481.0,1328.8 1472.0,1331.0 1462.9,1333.3 C1453.9,1335.6 1443.7,1338.1 1435.8,1340.1 C1427.9,1342.1 1418.8,1344.6 1415.4,1345.5" stroke="#8C8CBC" stroke-width="2.3"/><path d="M1530.0,1326.5 C1525.6,1328.8 1512.6,1335.6 1503.7,1340.1 C1494.7,1344.6 1485.6,1350.3 1476.5,1353.7 C1467.5,1357.1 1457.3,1358.2 1449.4,1360.5 C1441.4,1362.7 1432.4,1366.1 1429.0,1367.2" stroke="#8C8CBC" stroke-width="2.3"/><path d="M1517.2,1353.7 C1512.7,1354.8 1499.1,1358.2 1490.1,1360.5 C1481.0,1362.7 1472.0,1365.0 1462.9,1367.2 C1453.9,1369.5 1441.4,1371.9 1435.8,1374.0 C1430.1,1376.2 1430.1,1379.0 1429.0,1380.0" stroke="#8C8CBC" stroke-width="2.2"/><path d="M1395.0,1326.5 C1391.6,1327.6 1380.3,1329.9 1374.7,1333.3 C1369.0,1336.7 1363.4,1344.6 1361.1,1346.9" stroke="#8C8CBC" stroke-width="1.8"/><path d="M1366.0,1341.9 L1364.2,1349.7" stroke="#8C8CBC" stroke-width="1.6"/><path d="M1367.9,1340.1 C1366.1,1342.4 1359.3,1351.0 1357.0,1353.7 C1354.8,1356.4 1354.8,1355.9 1354.3,1356.4" stroke="#8C8CBC" stroke-width="1.8"/><path d="M1355.7,1355.0 L1347.9,1356.9" stroke="#8C8CBC" stroke-width="1.6"/><path d="M1530.0,1258.6 C1527.9,1259.8 1521.2,1263.1 1517.2,1265.4 C1513.3,1267.7 1508.2,1271.1 1506.4,1272.2" stroke="#8C8CBC" stroke-width="1.8"/><path d="M1530.0,1279.0 C1527.9,1280.1 1519.9,1283.5 1517.2,1285.8 C1514.6,1288.0 1514.4,1291.4 1513.8,1292.6" stroke="#8C8CBC" stroke-width="1.8"/><path d="M1380.0,1307.2 C1375.6,1308.3 1362.6,1311.2 1353.7,1313.9 C1344.7,1316.7 1331.0,1321.9 1326.5,1323.4" stroke="#BCBCC0" stroke-width="2.0"/><path d="M1333.1,1321.1 L1325.3,1319.4" stroke="#BCBCC0" stroke-width="1.6"/><path d="M1380.0,1315.3 C1374.5,1317.3 1356.9,1323.7 1346.9,1327.5 C1336.8,1331.4 1329.9,1334.1 1319.7,1338.4 C1309.5,1342.7 1291.4,1350.8 1285.8,1353.3" stroke="#BCBCC0" stroke-width="2.2"/><path d="M1319.7,1338.4 C1316.3,1340.0 1304.6,1344.0 1299.4,1347.9 C1294.2,1351.7 1290.3,1359.2 1288.5,1361.5" stroke="#BCBCC0" stroke-width="1.8"/><path d="M1292.9,1356.0 L1285.3,1358.7" stroke="#BCBCC0" stroke-width="1.6"/><path d="M1380.0,1331.6 C1377.9,1332.5 1371.6,1334.5 1367.2,1337.0 C1362.9,1339.5 1355.9,1344.9 1353.7,1346.5" stroke="#8C8CBC" stroke-width="2.0"/><path d="M1359.4,1342.5 L1351.4,1343.0" stroke="#8C8CBC" stroke-width="1.6"/><path d="M1380.0,1337.0 C1377.4,1338.4 1368.2,1342.5 1364.5,1345.2 C1360.8,1347.9 1358.9,1352.0 1357.7,1353.3" stroke="#8C8CBC" stroke-width="1.8"/><path d="M1361.1,1349.2 L1360.0,1357.2" stroke="#8C8CBC" stroke-width="1.6"/><path d="M1380.0,1456.5 C1377.9,1457.6 1370.7,1461.0 1367.2,1463.3 C1363.8,1465.6 1360.5,1469.0 1359.1,1470.1" stroke="#8C8CBC" stroke-width="2.0"/><path d="M1363.2,1466.7 L1355.3,1467.8" stroke="#8C8CBC" stroke-width="1.6"/><path d="M1380.0,1459.2 C1378.3,1461.0 1372.5,1466.7 1370.0,1470.1 C1367.4,1473.5 1365.4,1478.0 1364.5,1479.6" stroke="#8C8CBC" stroke-width="1.8"/><path d="M1367.2,1474.8 L1367.5,1482.8" stroke="#8C8CBC" stroke-width="1.6"/><path d="M1194.8,1280.0 C1193.0,1283.4 1186.9,1295.2 1183.9,1300.4 C1181.0,1305.6 1178.7,1308.5 1177.2,1311.2 C1175.6,1313.9 1174.9,1315.8 1174.4,1316.7" stroke="#B3A470" stroke-width="2.0"/><path d="M1194.8,1280.0 C1195.0,1282.3 1195.7,1289.7 1196.2,1293.6 C1196.6,1297.4 1197.3,1301.5 1197.5,1303.1" stroke="#B3A470" stroke-width="1.8"/><path d="M1540.0,1340.0 C1539.0,1346.8 1535.7,1367.2 1534.0,1380.7 C1532.4,1394.3 1531.3,1407.9 1530.0,1421.5 C1528.6,1435.0 1527.0,1448.6 1525.9,1462.2 C1524.8,1475.8 1523.8,1489.4 1523.2,1502.9 C1522.5,1516.5 1522.3,1532.5 1521.8,1543.7 C1521.4,1554.8 1520.7,1565.6 1520.5,1570.0" stroke="#8C8CBC" stroke-width="2.5"/><path d="M1506.9,1340.0 C1503.5,1343.4 1494.4,1354.7 1486.5,1360.4 C1478.6,1366.0 1468.4,1371.0 1459.4,1373.9 C1450.3,1376.9 1436.7,1377.3 1432.2,1378.0" stroke="#8C8CBC" stroke-width="2.3"/><path d="M1459.4,1373.9 C1456.0,1372.8 1443.5,1368.7 1439.0,1367.2 C1434.5,1365.6 1433.3,1364.9 1432.2,1364.4" stroke="#8C8CBC" stroke-width="1.8"/><path d="M1452.7,1371.7 L1457.9,1377.9" stroke="#8C8CBC" stroke-width="1.6"/><path d="M1459.4,1373.9 C1457.1,1375.1 1450.3,1378.7 1445.8,1380.7 C1441.3,1382.8 1434.5,1385.3 1432.2,1386.2" stroke="#8C8CBC" stroke-width="1.8"/><path d="M1438.7,1383.6 L1430.8,1382.2" stroke="#8C8CBC" stroke-width="1.6"/><path d="M1486.5,1360.4 C1483.1,1363.8 1472.9,1375.1 1466.1,1380.7 C1459.4,1386.4 1452.6,1390.9 1445.8,1394.3 C1439.0,1397.7 1428.8,1400.0 1425.4,1401.1" stroke="#8C8CBC" stroke-width="2.2"/><path d="M1445.8,1394.3 C1443.5,1396.6 1436.7,1404.5 1432.2,1407.9 C1427.7,1411.3 1424.1,1412.9 1418.6,1414.7 C1413.2,1416.5 1402.8,1418.1 1399.6,1418.8" stroke="#8C8CBC" stroke-width="2.0"/><path d="M1406.5,1417.3 L1398.9,1414.6" stroke="#8C8CBC" stroke-width="1.6"/><path d="M1445.8,1394.3 C1443.5,1398.8 1436.7,1413.5 1432.2,1421.5 C1427.7,1429.4 1423.1,1436.2 1418.6,1441.8 C1414.1,1447.5 1409.6,1449.8 1405.0,1455.4 C1400.5,1461.1 1395.5,1470.1 1391.5,1475.8 C1387.4,1481.4 1382.4,1487.1 1380.6,1489.4" stroke="#8C8CBC" stroke-width="2.3"/><path d="M1418.6,1414.7 C1416.4,1416.9 1409.6,1424.9 1405.0,1428.3 C1400.5,1431.6 1396.0,1433.0 1391.5,1435.0 C1386.9,1437.1 1380.2,1439.6 1377.9,1440.5" stroke="#8C8CBC" stroke-width="1.8"/><path d="M1384.4,1437.9 L1379.6,1444.3" stroke="#8C8CBC" stroke-width="1.6"/><path d="M1405.0,1455.4 C1402.8,1456.5 1397.1,1459.9 1391.5,1462.2 C1385.8,1464.5 1376.5,1467.6 1371.1,1469.0 C1365.7,1470.3 1360.9,1470.1 1358.9,1470.3" stroke="#8C8CBC" stroke-width="2.0"/><path d="M1365.0,1469.7 L1357.7,1466.3" stroke="#8C8CBC" stroke-width="1.6"/><path d="M1391.5,1462.2 C1388.8,1464.5 1379.7,1472.8 1375.2,1475.8 C1370.6,1478.7 1366.1,1479.2 1364.3,1479.9" stroke="#8C8CBC" stroke-width="1.8"/><path d="M1369.7,1477.8 L1361.9,1476.3" stroke="#8C8CBC" stroke-width="1.6"/><path d="M1399.6,1462.2 C1399.6,1464.5 1399.4,1472.2 1399.6,1475.8 C1399.8,1479.4 1400.7,1482.6 1401.0,1483.9" stroke="#8C8CBC" stroke-width="1.8"/><path d="M1400.3,1479.9 L1405.5,1485.9" stroke="#8C8CBC" stroke-width="1.6"/><path d="M1464.8,1387.5 C1463.9,1389.8 1461.2,1397.7 1459.4,1401.1 C1457.5,1404.5 1454.8,1406.8 1453.9,1407.9" stroke="#8C8CBC" stroke-width="1.8"/><path d="M1456.6,1404.5 L1449.1,1407.2" stroke="#8C8CBC" stroke-width="1.6"/><path d="M1532.7,1367.2 C1529.5,1370.5 1519.1,1380.7 1513.7,1387.5 C1508.2,1394.3 1503.5,1401.1 1500.1,1407.9 C1496.7,1414.7 1496.7,1422.6 1493.3,1428.3 C1489.9,1433.9 1485.4,1438.0 1479.7,1441.8 C1474.1,1445.7 1462.7,1449.8 1459.4,1451.3" stroke="#8C8CBC" stroke-width="2.3"/><path d="M1493.3,1428.3 C1491.0,1432.8 1484.2,1448.6 1479.7,1455.4 C1475.2,1462.2 1469.1,1466.5 1466.1,1469.0 C1463.2,1471.5 1462.7,1470.1 1462.1,1470.3" stroke="#8C8CBC" stroke-width="2.0"/><path d="M1464.1,1469.7 L1456.3,1467.9" stroke="#8C8CBC" stroke-width="1.6"/><path d="M1479.7,1455.4 C1478.6,1457.7 1474.7,1465.4 1472.9,1469.0 C1471.1,1472.6 1469.5,1475.8 1468.9,1477.1" stroke="#8C8CBC" stroke-width="1.8"/><path d="M1470.9,1473.1 L1464.1,1477.3" stroke="#8C8CBC" stroke-width="1.6"/><path d="M1530.0,1394.3 C1530.6,1396.6 1532.9,1402.9 1534.0,1407.9 C1535.2,1412.9 1536.3,1421.5 1536.7,1424.2" stroke="#8C8CBC" stroke-width="1.8"/><path d="M1535.6,1417.3 L1532.6,1424.7" stroke="#8C8CBC" stroke-width="1.6"/><path d="M1525.9,1421.5 C1523.8,1422.6 1516.8,1425.5 1513.7,1428.3 C1510.5,1431.0 1508.0,1436.2 1506.9,1437.8" stroke="#8C8CBC" stroke-width="1.8"/><path d="M1510.3,1433.0 L1502.9,1436.1" stroke="#8C8CBC" stroke-width="1.6"/><path d="M1521.8,1462.2 C1520.5,1464.5 1515.5,1471.7 1513.7,1475.8 C1511.9,1479.9 1511.4,1484.8 1511.0,1486.6" stroke="#8C8CBC" stroke-width="1.8"/><path d="M1512.3,1481.2 L1514.7,1488.8" stroke="#8C8CBC" stroke-width="1.6"/><path d="M1521.8,1496.1 C1519.3,1497.3 1511.6,1500.0 1506.9,1502.9 C1502.1,1505.9 1496.9,1510.4 1493.3,1513.8 C1489.7,1517.2 1486.5,1521.7 1485.2,1523.3" stroke="#8C8CBC" stroke-width="2.0"/><path d="M1521.8,1516.5 C1519.3,1518.8 1512.3,1526.0 1506.9,1530.1 C1501.4,1534.2 1492.2,1539.1 1489.2,1541.0" stroke="#8C8CBC" stroke-width="1.8"/><path d="M1495.2,1537.3 L1487.2,1537.3" stroke="#8C8CBC" stroke-width="1.6"/><path d="M1520.5,1536.9 C1518.2,1539.1 1510.3,1547.1 1506.9,1550.5 C1503.5,1553.8 1501.2,1556.1 1500.1,1557.2" stroke="#8C8CBC" stroke-width="1.8"/><path d="M1503.5,1553.8 L1501.6,1561.6" stroke="#8C8CBC" stroke-width="1.6"/><path d="M1195.1,785.8 C1198.9,785.9 1209.3,785.8 1217.5,786.5 C1225.8,787.2 1235.6,788.2 1244.7,789.9 C1253.7,791.6 1262.8,793.9 1271.8,796.7 C1280.9,799.4 1289.9,802.8 1299.0,806.2 C1308.0,809.6 1317.1,812.7 1326.1,817.0 C1335.2,821.3 1345.4,827.4 1353.3,832.0 C1361.2,836.5 1365.9,840.3 1373.7,844.2 C1381.5,848.0 1395.6,853.2 1400.0,855.0" stroke="#A07890" stroke-width="2.7"/><path d="M1195.1,792.6 C1196.6,792.1 1200.2,790.5 1203.9,789.9 C1207.7,789.2 1215.3,788.7 1217.5,788.5" stroke="#A07890" stroke-width="1.8"/><path d="M1199.5,791.2 L1191.8,789.2" stroke="#A07890" stroke-width="1.6"/><path d="M1227.0,776.3 C1228.8,777.4 1234.9,780.8 1237.9,783.1 C1240.8,785.3 1243.5,788.7 1244.7,789.9" stroke="#A07890" stroke-width="1.8"/><path d="M1232.5,779.7 L1224.5,779.6" stroke="#A07890" stroke-width="1.6"/><path d="M1209.4,800.1 C1213.0,799.9 1223.0,799.3 1231.1,799.4 C1239.2,799.5 1249.2,799.6 1258.3,800.7 C1267.3,801.9 1276.4,803.9 1285.4,806.2 C1294.5,808.4 1304.6,811.6 1312.6,814.3 C1320.5,817.0 1329.5,821.1 1332.9,822.5" stroke="#A07890" stroke-width="2.2"/><path d="M1210.7,821.1 C1214.1,820.6 1223.2,818.4 1231.1,818.4 C1239.0,818.4 1249.2,820.2 1258.3,821.1 C1267.3,822.0 1276.4,823.8 1285.4,823.8 C1294.5,823.8 1304.6,820.9 1312.6,821.1 C1320.5,821.3 1325.0,822.7 1332.9,825.2 C1340.9,827.7 1351.0,832.2 1360.1,836.0 C1369.1,839.9 1380.6,845.3 1387.2,848.3 C1393.9,851.2 1397.9,852.8 1400.0,853.7" stroke="#A07890" stroke-width="2.5"/><path d="M1210.7,827.9 C1214.1,827.9 1223.2,828.1 1231.1,827.9 C1239.0,827.7 1249.2,827.0 1258.3,826.5 C1267.3,826.1 1276.4,826.1 1285.4,825.2 C1294.5,824.3 1308.0,821.8 1312.6,821.1" stroke="#A07890" stroke-width="2.0"/><path d="M1223.0,837.4 C1224.3,836.5 1227.5,833.3 1231.1,832.0 C1234.7,830.6 1239.0,829.9 1244.7,829.2 C1250.3,828.6 1261.6,828.1 1265.0,827.9" stroke="#A07890" stroke-width="2.0"/><path d="M1261.0,842.8 C1262.8,841.9 1266.6,839.0 1271.8,837.4 C1277.0,835.8 1285.4,834.7 1292.2,833.3 C1299.0,832.0 1308.0,830.2 1312.6,829.2 C1317.1,828.3 1318.2,828.1 1319.4,827.9" stroke="#A07890" stroke-width="2.0"/><path d="M1266.4,840.1 L1258.4,839.4" stroke="#A07890" stroke-width="1.6"/><path d="M1265.0,849.6 L1273.2,841.5" stroke="#A07890" stroke-width="1.8"/><path d="M1269.1,845.5 L1271.0,837.8" stroke="#A07890" stroke-width="1.6"/><path d="M1292.2,791.2 C1293.3,791.9 1295.6,793.7 1299.0,795.3 C1302.4,796.9 1306.9,798.5 1312.6,800.7 C1318.2,803.0 1329.5,807.5 1332.9,808.9" stroke="#A07890" stroke-width="1.8"/><path d="M1289.5,802.1 C1292.2,802.8 1300.8,804.6 1305.8,806.2 C1310.8,807.7 1317.1,810.7 1319.4,811.6" stroke="#A07890" stroke-width="1.8"/><path d="M1296.3,803.8 L1288.6,806.2" stroke="#A07890" stroke-width="1.6"/><path d="M1335.6,792.6 C1337.5,793.7 1342.4,797.8 1346.5,799.4 C1350.6,801.0 1357.8,801.6 1360.1,802.1" stroke="#A07890" stroke-width="1.8"/><path d="M1341.1,796.0 L1337.5,788.8" stroke="#A07890" stroke-width="1.6"/><path d="M1354.7,817.0 C1356.0,818.2 1359.6,822.0 1362.8,823.8 C1366.0,825.6 1371.9,827.2 1373.7,827.9" stroke="#A07890" stroke-width="1.8"/><path d="M1358.7,820.4 L1356.2,812.8" stroke="#A07890" stroke-width="1.6"/><path d="M1305.8,760.0 C1306.9,762.3 1309.2,767.9 1312.6,773.6 C1316.0,779.2 1320.5,787.2 1326.1,793.9 C1331.8,800.7 1339.7,808.0 1346.5,814.3 C1353.3,820.6 1360.1,826.3 1366.9,832.0 C1373.7,837.6 1383.8,845.5 1387.2,848.3" stroke="#A07890" stroke-width="2.2"/><path d="M1278.6,760.0 C1280.9,762.3 1287.7,769.1 1292.2,773.6 C1296.7,778.1 1300.1,782.6 1305.8,787.2 C1311.4,791.7 1322.7,798.5 1326.1,800.7" stroke="#A07890" stroke-width="2.0"/><path d="M1283.6,764.9 L1275.8,763.1" stroke="#A07890" stroke-width="1.6"/><path d="M1319.4,760.0 C1321.6,761.8 1328.4,766.3 1332.9,770.9 C1337.5,775.4 1342.0,781.5 1346.5,787.2 C1351.0,792.8 1355.1,799.1 1360.1,804.8 C1365.1,810.5 1373.7,818.4 1376.4,821.1" stroke="#A07890" stroke-width="2.2"/><path d="M1373.7,760.0 C1374.8,763.4 1378.2,773.6 1380.5,780.4 C1382.7,787.2 1385.0,793.9 1387.2,800.7 C1389.5,807.5 1391.9,816.1 1394.0,821.1 C1396.2,826.1 1399.0,829.0 1400.0,830.6" stroke="#A07890" stroke-width="2.2"/><path d="M1353.3,760.0 C1355.6,762.3 1362.4,767.9 1366.9,773.6 C1371.4,779.2 1378.2,790.5 1380.5,793.9" stroke="#A07890" stroke-width="1.8"/><path d="M1387.2,865.9 C1388.4,867.0 1391.9,871.1 1394.0,872.7 C1396.2,874.3 1399.0,875.0 1400.0,875.4" stroke="#A07890" stroke-width="1.8"/><path d="M1390.6,869.3 L1382.9,867.4" stroke="#A07890" stroke-width="1.6"/><path d="M1379.1,886.3 C1380.9,886.7 1386.5,888.3 1390.0,889.0 C1393.4,889.7 1398.3,890.1 1400.0,890.3" stroke="#A07890" stroke-width="1.8"/><path d="M1384.5,887.6 L1376.9,890.0" stroke="#A07890" stroke-width="1.6"/><path d="M1384.5,879.5 L1394.0,882.2" stroke="#A07890" stroke-width="1.8"/><path d="M1389.3,880.8 L1381.6,883.0" stroke="#A07890" stroke-width="1.6"/><path d="M1512.0,1037.0 C1516.7,1036.5 1530.3,1035.5 1540.0,1034.0 C1549.7,1032.5 1560.0,1029.8 1570.0,1028.0 C1580.0,1026.2 1595.0,1023.8 1600.0,1023.0" stroke="#95A464" stroke-width="2.7"/><path d="M1512.0,1037.0 C1517.5,1035.0 1534.5,1028.7 1545.0,1025.0 C1555.5,1021.3 1565.8,1017.7 1575.0,1015.0 C1584.2,1012.3 1595.8,1010.0 1600.0,1009.0" stroke="#95A464" stroke-width="2.3"/><path d="M1512.0,1036.0 C1516.7,1033.0 1530.3,1024.3 1540.0,1018.0 C1549.7,1011.7 1560.0,1004.0 1570.0,998.0 C1580.0,992.0 1595.0,984.7 1600.0,982.0" stroke="#95A464" stroke-width="2.3"/><path d="M1512.0,1038.0 C1518.3,1038.2 1535.3,1038.7 1550.0,1039.0 C1564.7,1039.3 1591.7,1039.8 1600.0,1040.0" stroke="#95A464" stroke-width="2.3"/><path d="M1540.0,1035.0 C1541.7,1032.5 1547.5,1024.5 1550.0,1020.0 C1552.5,1015.5 1554.2,1010.0 1555.0,1008.0" stroke="#95A464" stroke-width="1.8"/><path d="M1545.0,1034.0 C1547.5,1031.3 1556.7,1022.3 1560.0,1018.0 C1563.3,1013.7 1564.2,1009.7 1565.0,1008.0" stroke="#95A464" stroke-width="1.8"/><path d="M1545.0,1040.0 C1547.5,1041.0 1555.8,1044.7 1560.0,1046.0 C1564.2,1047.3 1568.3,1047.7 1570.0,1048.0" stroke="#95A464" stroke-width="1.8"/><path d="M1510.0,1076.0 C1511.7,1075.7 1516.7,1074.3 1520.0,1074.0 C1523.3,1073.7 1528.3,1074.0 1530.0,1074.0" stroke="#7EA2B4" stroke-width="2.7"/><path d="M1513.0,1180.0 C1514.2,1182.0 1517.2,1187.8 1520.0,1192.0 C1522.8,1196.2 1528.3,1202.8 1530.0,1205.0" stroke="#3E9A88" stroke-width="2.7"/><path d="M1352.0,1117.0 C1350.5,1115.0 1345.7,1109.5 1343.0,1105.0 C1340.3,1100.5 1337.2,1092.5 1336.0,1090.0" stroke="#B3A470" stroke-width="2.7"/><path d="M1352.0,1117.0 C1350.5,1118.8 1345.5,1125.0 1343.0,1128.0 C1340.5,1131.0 1338.0,1133.8 1337.0,1135.0" stroke="#B3A470" stroke-width="2.7"/><path d="M1510.0,1065.0 C1516.7,1065.0 1535.0,1064.2 1550.0,1065.0 C1565.0,1065.8 1585.0,1068.2 1600.0,1070.0 C1615.0,1071.8 1633.3,1075.0 1640.0,1076.0" stroke="#BCBCC0" stroke-width="1.8"/><path d="M1633.1,1075.0 L1640.4,1071.8" stroke="#BCBCC0" stroke-width="1.6"/><path d="M1508.0,1085.0 C1511.7,1086.2 1522.7,1089.8 1530.0,1092.0 C1537.3,1094.2 1545.0,1096.2 1552.0,1098.0 C1559.0,1099.8 1568.7,1102.2 1572.0,1103.0" stroke="#BCBCC0" stroke-width="1.8"/><path d="M1508.0,1087.0 C1510.8,1088.8 1519.7,1094.2 1525.0,1098.0 C1530.3,1101.8 1535.8,1105.7 1540.0,1110.0 C1544.2,1114.3 1548.3,1121.7 1550.0,1124.0" stroke="#BCBCC0" stroke-width="1.8"/><path d="M1508.0,1088.0 C1510.0,1090.8 1516.3,1099.7 1520.0,1105.0 C1523.7,1110.3 1527.5,1115.3 1530.0,1120.0 C1532.5,1124.7 1534.2,1130.8 1535.0,1133.0" stroke="#BCBCC0" stroke-width="1.8"/><path d="M1508.0,1090.0 C1509.7,1093.3 1515.2,1104.2 1518.0,1110.0 C1520.8,1115.8 1523.8,1122.5 1525.0,1125.0" stroke="#BCBCC0" stroke-width="1.8"/><path d="M1512.0,1175.0 C1516.7,1174.5 1530.3,1171.8 1540.0,1172.0 C1549.7,1172.2 1560.3,1175.0 1570.0,1176.0 C1579.7,1177.0 1593.3,1177.7 1598.0,1178.0" stroke="#BCBCC0" stroke-width="1.8"/><path d="M1512.0,1185.0 C1516.7,1185.8 1531.2,1187.5 1540.0,1190.0 C1548.8,1192.5 1560.8,1198.3 1565.0,1200.0" stroke="#BCBCC0" stroke-width="1.8"/><path d="M1372.1,557.0 C1372.7,558.2 1374.8,562.0 1376.0,564.5 C1377.3,566.9 1379.0,570.4 1379.6,571.6" stroke="#A07890" stroke-width="1.8"/><path d="M1374.1,560.7 L1374.6,552.7" stroke="#A07890" stroke-width="1.6"/><path d="M1379.1,556.5 C1379.5,560.5 1380.4,571.3 1381.4,580.4 C1382.3,589.6 1383.4,601.8 1384.9,611.4 C1386.4,621.0 1388.1,629.9 1390.2,638.0 C1392.3,646.1 1394.8,652.0 1397.3,660.1 C1399.8,668.2 1403.2,680.9 1405.3,686.7 C1407.3,692.5 1409.0,693.6 1409.7,695.0" stroke="#A07890" stroke-width="2.3"/><path d="M1371.2,582.2 C1372.1,583.4 1375.4,586.3 1376.9,589.3 C1378.5,592.2 1379.3,595.8 1380.5,599.9 C1381.7,604.0 1383.4,611.7 1384.0,614.1" stroke="#A07890" stroke-width="1.8"/><path d="M1374.1,585.7 L1366.5,583.1" stroke="#A07890" stroke-width="1.6"/><path d="M1393.8,591.0 C1393.3,593.0 1391.7,598.4 1391.1,602.6 C1390.5,606.7 1390.1,610.7 1390.2,615.8 C1390.4,621.0 1391.7,630.6 1392.0,633.6" stroke="#A07890" stroke-width="1.8"/><path d="M1392.4,596.8 L1398.0,591.1" stroke="#A07890" stroke-width="1.6"/><path d="M1339.7,618.5 C1339.9,621.0 1339.3,628.1 1340.6,633.6 C1342.0,639.0 1345.3,645.4 1347.7,651.3 C1350.1,657.2 1352.6,663.1 1354.8,669.0 C1357.0,674.9 1359.2,682.3 1361.0,686.7 C1362.8,691.0 1364.7,693.6 1365.4,695.0" stroke="#A07890" stroke-width="2.2"/><path d="M1348.2,618.5 C1347.9,620.3 1347.5,625.9 1346.8,629.1 C1346.2,632.4 1344.6,636.5 1344.2,638.0" stroke="#A07890" stroke-width="1.8"/><path d="M1347.5,623.8 L1344.2,616.5" stroke="#A07890" stroke-width="1.6"/><path d="M1330.0,620.3 C1330.9,622.5 1333.5,629.9 1335.3,633.6 C1337.1,637.2 1339.7,640.9 1340.6,642.4" stroke="#A07890" stroke-width="1.8"/><path d="M1332.6,626.8 L1326.2,622.0" stroke="#A07890" stroke-width="1.6"/><path d="M1363.6,630.9 C1364.7,632.1 1367.6,635.3 1369.8,638.0 C1372.1,640.6 1375.0,643.1 1376.9,646.8 C1378.9,650.5 1380.0,655.0 1381.4,660.1 C1382.7,665.3 1384.0,672.0 1384.9,677.8 C1385.8,683.6 1386.4,692.1 1386.7,695.0" stroke="#A07890" stroke-width="2.2"/><path d="M1369.0,628.2 C1369.4,629.4 1370.4,633.3 1371.6,635.3 C1372.8,637.4 1375.3,639.7 1376.0,640.6" stroke="#A07890" stroke-width="1.8"/><path d="M1370.3,631.8 L1371.8,623.9" stroke="#A07890" stroke-width="1.6"/><path d="M1380.5,623.8 C1381.1,624.7 1383.0,626.8 1384.0,629.1 C1385.0,631.5 1386.2,636.5 1386.7,638.0" stroke="#A07890" stroke-width="1.8"/><path d="M1382.2,626.5 L1375.0,623.1" stroke="#A07890" stroke-width="1.6"/><path d="M1383.1,635.3 C1382.8,636.5 1381.8,639.7 1381.4,642.4 C1380.9,645.1 1380.6,649.8 1380.5,651.3" stroke="#A07890" stroke-width="1.8"/><path d="M1382.2,638.9 L1388.0,633.3" stroke="#A07890" stroke-width="1.6"/><path d="M1368.1,668.1 C1369.1,669.0 1372.4,671.8 1374.3,673.4 C1376.2,675.0 1378.7,677.1 1379.6,677.8" stroke="#A07890" stroke-width="1.8"/><path d="M1371.2,670.7 L1363.3,669.5" stroke="#A07890" stroke-width="1.6"/><path d="M1373.4,664.5 C1373.8,665.6 1375.3,668.8 1376.0,670.7 C1376.8,672.7 1377.5,675.2 1377.8,676.1" stroke="#A07890" stroke-width="1.8"/><path d="M1374.7,667.6 L1375.9,659.7" stroke="#A07890" stroke-width="1.6"/></g>
<g fill="#F00000" stroke="#8A0000" stroke-width="1"><circle cx="1312.1" cy="623.2" r="5.9"/><circle cx="1192.9" cy="668.7" r="5.9"/><circle cx="1175.8" cy="688.6" r="5.9"/><circle cx="1173.3" cy="697.2" r="5.9"/><circle cx="1226.1" cy="699.3" r="5.9"/><circle cx="1195.0" cy="716.4" r="5.9"/><circle cx="1293.0" cy="791.5" r="5.9"/><circle cx="1209.4" cy="800.3" r="5.9"/><circle cx="1211.0" cy="827.5" r="5.9"/><circle cx="1223.2" cy="838.2" r="5.9"/><circle cx="1356.5" cy="762.0" r="5.9"/><circle cx="1366.7" cy="762.0" r="5.9"/><circle cx="1476.3" cy="720.8" r="5.9"/><circle cx="1483.7" cy="725.5" r="5.9"/><circle cx="1497.9" cy="730.9" r="5.9"/><circle cx="1656.5" cy="778.0" r="5.9"/><circle cx="1664.4" cy="786.0" r="5.9"/><circle cx="1627.1" cy="791.3" r="5.9"/><circle cx="1570.0" cy="815.2" r="5.9"/><circle cx="1607.6" cy="820.2" r="5.9"/><circle cx="1651.2" cy="809.2" r="5.9"/><circle cx="1661.0" cy="838.1" r="5.9"/><circle cx="1537.7" cy="854.5" r="5.9"/><circle cx="1511.6" cy="937.4" r="5.9"/><circle cx="1511.6" cy="965.1" r="5.9"/><circle cx="1564.5" cy="950.0" r="5.9"/><circle cx="1627.4" cy="918.0" r="5.9"/><circle cx="1667.2" cy="954.4" r="5.9"/><circle cx="1720.8" cy="976.1" r="5.9"/><circle cx="1721.5" cy="981.5" r="5.9"/><circle cx="1722.2" cy="987.6" r="5.9"/><circle cx="1733.9" cy="1001.9" r="5.9"/><circle cx="1750.7" cy="1009.4" r="5.9"/><circle cx="1738.5" cy="1020.9" r="5.9"/><circle cx="1731.3" cy="1037.5" r="5.9"/><circle cx="1730.0" cy="1047.0" r="5.9"/><circle cx="1720.8" cy="1065.7" r="5.9"/><circle cx="1756.1" cy="913.6" r="5.9"/><circle cx="1810.5" cy="908.2" r="5.9"/><circle cx="1834.2" cy="902.8" r="5.9"/><circle cx="1841.7" cy="913.0" r="5.9"/><circle cx="1833.5" cy="927.2" r="5.9"/><circle cx="1817.9" cy="951.7" r="5.9"/><circle cx="1611.8" cy="1072.0" r="5.9"/><circle cx="1753.4" cy="1083.0" r="5.9"/><circle cx="1556.5" cy="1095.3" r="5.9"/><circle cx="1759.5" cy="1107.5" r="5.9"/><circle cx="1670.5" cy="1125.2" r="5.9"/><circle cx="1720.8" cy="1127.2" r="5.9"/><circle cx="1734.3" cy="1140.1" r="5.9"/><circle cx="1733.0" cy="1151.6" r="5.9"/><circle cx="1642.7" cy="1161.8" r="5.9"/><circle cx="1714.0" cy="1172.7" r="5.9"/><circle cx="1705.8" cy="1181.5" r="5.9"/><circle cx="1566.7" cy="1202.6" r="5.9"/><circle cx="1671.2" cy="1220.9" r="5.9"/><circle cx="1691.6" cy="1234.5" r="5.9"/><circle cx="1639.3" cy="1275.2" r="5.9"/><circle cx="1847.8" cy="1294.7" r="5.9"/><circle cx="1777.9" cy="1330.8" r="5.9"/><circle cx="1674.7" cy="1357.9" r="5.9"/><circle cx="1801.0" cy="1380.3" r="5.9"/><circle cx="1775.8" cy="1394.6" r="5.9"/><circle cx="1765.6" cy="1403.4" r="5.9"/><circle cx="1746.0" cy="1418.5" r="5.9"/><circle cx="1744.6" cy="1430.4" r="5.9"/><circle cx="1723.6" cy="1446.2" r="5.9"/><circle cx="1856.0" cy="1419.4" r="5.9"/><circle cx="1854.6" cy="1430.2" r="5.9"/><circle cx="1506.1" cy="1271.9" r="5.9"/><circle cx="1514.2" cy="1293.0" r="5.9"/><circle cx="1561.8" cy="1299.1" r="5.9"/><circle cx="1590.3" cy="1322.1" r="5.9"/><circle cx="1392.8" cy="1447.3" r="5.9"/><circle cx="1398.3" cy="1456.1" r="5.9"/><circle cx="1547.5" cy="1455.9" r="5.9"/><circle cx="1483.8" cy="1525.5" r="5.9"/><circle cx="1495.2" cy="1582.1" r="5.9"/><circle cx="1548.9" cy="1584.2" r="5.9"/><circle cx="1557.0" cy="1582.8" r="5.9"/><circle cx="1604.3" cy="1537.2" r="5.9"/><circle cx="1659.1" cy="1559.5" r="5.9"/><circle cx="1504.9" cy="1659.0" r="5.9"/><circle cx="1493.6" cy="1668.2" r="5.9"/><circle cx="1672.2" cy="1650.5" r="5.9"/><circle cx="1372.0" cy="984.1" r="5.9"/><circle cx="1441.2" cy="1010.6" r="5.9"/><circle cx="1462.9" cy="1005.9" r="5.9"/><circle cx="1369.9" cy="1079.2" r="5.9"/><circle cx="1367.2" cy="1090.0" r="5.9"/><circle cx="1520.6" cy="1149.8" r="5.9"/><circle cx="1381.5" cy="1168.3" r="5.9"/><circle cx="1384.9" cy="1179.2" r="5.9"/><circle cx="1389.6" cy="1192.1" r="5.9"/><circle cx="1353.6" cy="1215.2" r="5.9"/><circle cx="1405.2" cy="1206.3" r="5.9"/><circle cx="1391.0" cy="1269.5" r="5.9"/><circle cx="1387.6" cy="1275.6" r="5.9"/><circle cx="1366.5" cy="1285.1" r="5.9"/><circle cx="1289.7" cy="1018.9" r="5.9"/><circle cx="1256.4" cy="1067.7" r="5.9"/><circle cx="1268.6" cy="1077.2" r="5.9"/><circle cx="1215.0" cy="1098.5" r="5.9"/><circle cx="1211.0" cy="1106.7" r="5.9"/><circle cx="1144.9" cy="1177.6" r="5.9"/><circle cx="1145.2" cy="1189.0" r="5.9"/><circle cx="1254.2" cy="1189.0" r="5.9"/><circle cx="1244.4" cy="1200.1" r="5.9"/><circle cx="1195.2" cy="1227.2" r="5.9"/><circle cx="1199.0" cy="1237.4" r="5.9"/><circle cx="1171.1" cy="1259.8" r="5.9"/><circle cx="1252.2" cy="1255.8" r="5.9"/><circle cx="1209.4" cy="1282.9" r="5.9"/><circle cx="1227.5" cy="1282.9" r="5.9"/><circle cx="1197.6" cy="1303.9" r="5.9"/><circle cx="1182.0" cy="1318.9" r="5.9"/></g>
<g font-family="Carlito, 'Liberation Sans', sans-serif" font-size="23.8" fill="#000" stroke="#000" stroke-width="0.35"><text x="1126.5" y="636.0">ABL1</text><text x="1263.1" y="620.7">LCK</text><text x="1103.0" y="675.0">PTK2B</text><text x="1114.3" y="712.6">LYN</text><text x="1145.7" y="739.6">HCK</text><text x="1180.2" y="768.0">JAK1</text><text x="1148.8" y="794.2">BTK</text><text x="1155.4" y="823.1">SYK</text><text x="1158.5" y="858.0">CSK</text><text x="1214.7" y="863.2">SRC</text><text x="1330.7" y="745.2">JAK3</text><text x="1474.0" y="699.4">TYK2</text><text x="1509.1" y="733.4">FYN</text><text x="1271.5" y="891.0">CDK7</text><text x="1494.4" y="802.5">LIMK1</text><text x="1580.1" y="789.2">ILK</text><text x="1647.3" y="756.1">ARAF</text><text x="1695.8" y="778.8">RAF1</text><text x="1695.8" y="815.1">RIPK1</text><text x="1674.2" y="848.0">MLKL</text><text x="1470.8" y="860.5">KSR1</text><text x="1644.0" y="917.7">SLK</text><text x="1570.6" y="948.3">TAOK3</text><text x="1735.5" y="880.4">TNIK</text><text x="1783.3" y="900.4">PAK2</text><text x="1858.0" y="911.6">OXSR1</text><text x="1864.8" y="938.8">STK26</text><text x="1852.6" y="967.3">STK24</text><text x="1825.4" y="995.1">STK10</text><text x="1686.9" y="961.8">STK4</text><text x="1730.3" y="984.9">PAK1</text><text x="1788.4" y="1029.4">MAP4K1</text><text x="1741.9" y="1055.8">MAP2K1</text><text x="1761.6" y="1083.4">MAP2K2</text><text x="1636.6" y="1089.3">MAP2K3</text><text x="1568.0" y="1128.6">CSNK1D</text><text x="1530.7" y="1167.3">CSNK1A1</text><text x="1745.9" y="1148.3">VRK1</text><text x="1722.8" y="1177.4">VRK2</text><text x="1708.5" y="1206.6">VRK3</text><text x="1829.5" y="1269.6">ADRBK1</text><text x="1855.3" y="1306.3">RPS6KA1</text><text x="1864.8" y="1344.3">RPS6KA3</text><text x="1784.7" y="1349.8">AKT2</text><text x="1680.1" y="1368.1">CIT</text><text x="1847.1" y="1396.0">PKN1</text><text x="1755.8" y="1426.6">STK38L</text><text x="1866.8" y="1428.2">PRKCD</text><text x="1638.7" y="1453.0">ROCK1</text><text x="1542.7" y="1392.1">PRKD2</text><text x="1524.4" y="1438.9">PASK</text><text x="1678.1" y="1501.8">MARK2</text><text x="1679.5" y="1542.5">MARK3</text><text x="1570.0" y="1564.3">STK17B</text><text x="1572.0" y="1591.5">STK17A</text><text x="1679.5" y="1577.8">RPS6KA3</text><text x="1692.4" y="1615.9">RPS6KA1</text><text x="1583.0" y="1635.4">CAMK4</text><text x="1693.8" y="1654.2">CAMK2D</text><text x="1625.8" y="1682.5">CAMKD1</text><text x="1522.3" y="1612.9">SIK3</text><text x="1519.7" y="1664.6">CHEK1</text><text x="1496.0" y="1692.5">PRKAA1</text><text x="1425.3" y="1656.8">WNK1</text><text x="1407.7" y="1629.6">TP53RK</text><text x="1428.7" y="1604.5">SCYL2</text><text x="1434.8" y="1580.1">SCYL1</text><text x="1425.3" y="1555.4">PLK1</text><text x="1393.5" y="1530.7">PBK</text><text x="1439.0" y="1510.3">PIK3R4</text><text x="1376.7" y="1504.4">TBK1</text><text x="1406.6" y="1479.3">TLK2</text><text x="1327.0" y="1462.3">GAK</text><text x="1297.1" y="1492.3">NEK9</text><text x="1290.3" y="1522.1">NRBP1</text><text x="1308.5" y="1430.2">EIF2AK2</text><text x="1327.6" y="1401.2">AURKB</text><text x="1357.6" y="1373.8">AURKA</text><text x="1300.0" y="1363.5">AAK1</text><text x="1422.8" y="1349.1">BUB1B</text><text x="1211.8" y="1368.9">PRKDC</text><text x="1252.5" y="1343.1">MTOR</text><text x="1231.5" y="1319.4">COL4A3BP</text><text x="1375.4" y="1319.0">PDK3</text><text x="1437.6" y="1301.3">BAZ1A</text><text x="1291.5" y="1292.8">BAZ1B</text><text x="1427.5" y="1273.8">TRRAP</text><text x="1333.3" y="1269.5">BLVRA</text><text x="1398.4" y="1247.1">RIOK2</text><text x="1280.9" y="1246.5">BCKDK</text><text x="1410.0" y="1212.5">RIOK1</text><text x="1313.6" y="1219.2">BRD4</text><text x="1315.6" y="1195.5">BRD3</text><text x="1320.0" y="1170.5">BRD2</text><text x="1323.1" y="1144.3">ATM</text><text x="1370.6" y="1120.6">ATR</text><text x="1399.8" y="1079.2">TRIM33</text><text x="1307.4" y="1067.0">TRIM28</text><text x="1380.8" y="1039.8">CDK14</text><text x="1393.9" y="991.3">CDK12</text><text x="1348.0" y="966.9">CDK6</text><text x="1271.3" y="1018.2">CSNK2A1</text><text x="1265.8" y="971.2">CDK1</text><text x="1264.4" y="924.4">CDK5</text><text x="1209.5" y="944.1">CDK2</text><text x="1152.9" y="975.8">CDK4</text><text x="1128.4" y="1013.1">CDK9</text><text x="1133.9" y="1047.1">GSK3B</text><text x="1122.3" y="1081.7">CSNK2A2</text><text x="1117.6" y="1117.0">MAPK1</text><text x="1103.3" y="1143.5">MAPK3</text><text x="1052.4" y="1192.4">GSK3A</text><text x="1051.0" y="1224.3">PRPF4B</text><text x="1084.3" y="1268.4">SRPK1</text><text x="1079.6" y="1294.9">SRPK2</text><text x="1444.5" y="1449.5" transform="rotate(-52 1444.5 1449.5)">PKMYT1</text></g>
<g font-family="Carlito, 'Liberation Sans', sans-serif" font-size="32" font-weight="bold"><text x="1065.3" y="787.3" fill="#FF5B5B" stroke="#FF5B5B" stroke-width="0.3">TK</text><text x="1056.9" y="833.3" fill="#FF5B5B" stroke="#FF5B5B" stroke-width="0.3">(13)</text><text x="1710.9" y="651.0" fill="#9C6500" stroke="#9C6500" stroke-width="0.3">TKL</text><text x="1717.3" y="696.7" fill="#9C6500" stroke="#9C6500" stroke-width="0.3">(7)</text><text x="1853.7" y="823.6" fill="#66A000" stroke="#66A000" stroke-width="0.3">STE</text><text x="1852.3" y="863.7" fill="#66A000" stroke="#66A000" stroke-width="0.3">(14)</text><text x="1854.1" y="1158.7" fill="#7F7F7F" stroke="#7F7F7F" stroke-width="0.3">CK1</text><text x="1862.2" y="1198.8" fill="#7F7F7F" stroke="#7F7F7F" stroke-width="0.3">(5)</text><text x="1889.2" y="1500.8" fill="#0E8A8A" stroke="#0E8A8A" stroke-width="0.3">AGC</text><text x="1900.8" y="1545.0" fill="#0E8A8A" stroke="#0E8A8A" stroke-width="0.3">(9)</text><text x="1246.8" y="1608.4" fill="#808080" stroke="#808080" stroke-width="0.3">CAMK (14)</text><text x="1042.9" y="1047.1" fill="#BF8F00" stroke="#BF8F00" stroke-width="0.3">CMGC</text><text x="1057.8" y="1091.2" fill="#BF8F00" stroke="#BF8F00" stroke-width="0.3">(18)</text><text x="1053.5" y="1387.6" fill="#808000" stroke="#808000" stroke-width="0.3">Atypical</text><text x="1083.3" y="1427.6" fill="#808000" stroke="#808000" stroke-width="0.3">(18)</text></g></svg></body></html>
